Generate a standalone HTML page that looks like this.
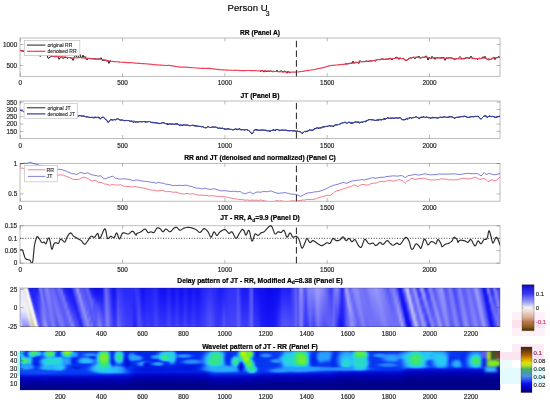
<!DOCTYPE html>
<html><head><meta charset="utf-8"><style>html,body{margin:0;padding:0;background:#fff;width:550px;height:406px;overflow:hidden;position:relative}
#hm div{position:absolute;left:20px;width:480px;height:1px}
svg{position:absolute;left:0;top:0;will-change:transform}
svg text{font-family:"Liberation Sans",sans-serif}</style></head>
<body>
<div id="hm">
<div style="top:288px;background:linear-gradient(90deg,#e3e3fc,#e8e8fa,#e5e5fa,#dadaea,#e9e9d8,#efefe4,#f4f4f5,#f1f1f6,#8f8ffa,#2525f9,#1d1df7,#1c1cf7,#1c1cf7,#1c1cf7,#1c1cf7,#1c1cf7,#1c1cf7,#1d1df7,#3333f9,#6262f9,#7373f8,#7e7ef9,#5f5ff9,#5555f9,#6a6af8,#7878f8,#7e7ef8,#8686f9,#7e7ef8,#6a6af8,#6868f8,#6868f8,#6868f8,#6868f8,#6363f9,#5555f9,#5454f9,#6060f9,#6565f9,#6a6af8,#6f6ff8);left:20px;width:40px"></div>
<div style="top:289px;background:linear-gradient(90deg,#e3e3fc,#e7e7fb,#eaeaf9,#e2e2f4,#e9e9d8,#ececde,#f5f5f5,#f2f2f6,#b1b1f8,#2e2efa,#1f1ff8,#1d1df7,#1d1df7,#1d1df7,#1e1ef7,#1e1ef7,#1f1ff7,#1f1ff8,#2b2bf9,#5c5cf9,#6f6ff8,#7f7ff9,#6767f9,#5454f9,#6565f9,#7676f8,#7c7cf8,#8484f9,#8282f9,#6c6cf8,#6868f8,#6868f8,#6969f8,#6868f8,#6666f9,#5959f9,#5252f9,#5d5df9,#6464f9,#6868f8,#6e6ef8);left:20px;width:40px"></div>
<div style="top:290px;background:linear-gradient(90deg,#e4e4fc,#e7e7fb,#eaeaf9,#dfdffb,#eaeada,#eae9d9,#f3f3f0,#f2f2f6,#d7d7f9,#4949f9,#2323f8,#1e1ef7,#1e1ef7,#1e1ef7,#1f1ff7,#2020f8,#2121f8,#2323f8,#2727f9,#5555f9,#6c6cf8,#7d7df8,#6f6ff9,#5555f9,#6161f9,#7474f8,#7a7af8,#8181f9,#8484f9,#7070f8,#6767f9,#6969f8,#6969f8,#6969f8,#6868f9,#5d5df9,#5252f9,#5959f9,#6363f9,#6767f9,#6c6cf8);left:20px;width:40px"></div>
<div style="top:291px;background:linear-gradient(90deg,#e4e4fc,#e6e6fb,#eaeaf9,#e0e0fa,#ebebe8,#e9e9d8,#f1f1ea,#f3f3f5,#efeff7,#6767fa,#2a2af9,#2020f8,#1f1ff7,#1f1ff7,#2020f8,#2121f8,#2323f8,#2525f9,#2727f9,#4b4bf9,#6a6af8,#7a7af8,#7676f8,#5858f9,#5d5df9,#7171f8,#7979f8,#7f7ff9,#8484f9,#7575f8,#6767f9,#6969f8,#6a6af8,#6969f8,#6868f8,#6262f9,#5454f9,#5656f9,#6161f9,#6565f9,#6b6bf8);left:20px;width:40px"></div>
<div style="top:292px;background:linear-gradient(90deg,#e5e5fb,#e6e6fb,#e9e9fa,#e7e7fa,#e0e0ea,#e9e9d8,#efefe5,#f4f4f5,#f1f1f6,#9b9bfa,#3333fa,#2222f8,#2020f8,#2020f8,#2121f8,#2323f8,#2424f9,#2828f9,#2a2afa,#4242fa,#6868f8,#7777f8,#7a7af8,#5d5df9,#5a5af9,#6d6df8,#7878f8,#7d7df8,#8383f9,#7a7af8,#6868f8,#6868f8,#6a6af8,#6a6af8,#6969f8,#6565f9,#5757f9,#5353f9,#5e5ef9,#6464f9,#6969f8);left:20px;width:40px"></div>
<div style="top:293px;background:linear-gradient(90deg,#e6e6fb,#e6e6fb,#e9e9fa,#ebebf9,#e6e6f3,#e9e9d8,#ececdf,#f5f5f5,#f2f2f6,#bcbcf8,#4040fa,#2626f9,#2121f8,#2020f8,#2222f8,#2424f9,#2626f9,#2929fa,#2e2efa,#3d3dfa,#6464f9,#7474f8,#7c7cf8,#6363f9,#5858f9,#6969f8,#7777f8,#7b7bf8,#8181f9,#7d7df8,#6a6af8,#6868f8,#6a6af8,#6b6bf8,#6969f8,#6767f9,#5b5bf9,#5353f9,#5b5bf9,#6363f9,#6767f9);left:20px;width:40px"></div>
<div style="top:294px;background:linear-gradient(90deg,#e7e7fb,#e7e7fb,#e9e9fa,#ebebf9,#e5e5fb,#eaeada,#eaeada,#f4f4f1,#f2f2f6,#ddddf9,#5c5cf9,#2a2afa,#2222f8,#2121f8,#2222f8,#2525f9,#2727f9,#2b2bfa,#3131fa,#3a3afa,#6060f9,#7171f8,#7c7cf8,#6a6af8,#5858f9,#6565f9,#7575f8,#7a7af8,#8080f9,#7f7ff9,#6d6df8,#6767f9,#6a6af8,#6c6cf8,#6a6af8,#6969f8,#6060f9,#5353f9,#5858f9,#6262f9,#6666f9);left:20px;width:40px"></div>
<div style="top:295px;background:linear-gradient(90deg,#e7e7fb,#e7e7fb,#e9e9fa,#ebebf9,#e4e4fa,#ecece6,#e9e9d8,#f1f1eb,#f3f3f5,#efeff7,#7c7cfa,#3535fa,#2525f9,#2222f8,#2323f8,#2626f9,#2929fa,#2c2cfa,#3434fa,#3939fa,#5a5af9,#7070f8,#7a7af8,#7070f8,#5959f9,#6262f9,#7373f8,#7979f8,#7e7ef8,#8080f9,#7171f8,#6666f9,#6a6af8,#6c6cf8,#6b6bf8,#6969f8,#6464f9,#5656f9,#5555f9,#6060f9,#6464f9);left:20px;width:40px"></div>
<div style="top:296px;background:linear-gradient(90deg,#e8e8fa,#e8e8fa,#e9e9fa,#ebebf9,#e8e8fa,#e6e5ea,#e9e9d8,#efefe6,#f4f4f5,#f1f1f6,#a7a7f9,#4141fa,#2828f9,#2323f8,#2323f8,#2626f9,#2a2afa,#2d2dfa,#3535fa,#3b3bfa,#5454f9,#6e6ef8,#7979f8,#7575f8,#5c5cf9,#5f5ff9,#7070f8,#7979f8,#7c7cf8,#7f7ff9,#7575f8,#6767f9,#6969f8,#6c6cf8,#6c6cf8,#6a6af8,#6767f9,#5a5af9,#5454f9,#5d5df9,#6363f9);left:20px;width:40px"></div>
<div style="top:297px;background:linear-gradient(90deg,#e9e9fa,#e9e9fa,#e9e9fa,#ebebf9,#ebebf9,#eaeaf2,#e9e9d8,#edede0,#f5f5f5,#f2f2f6,#c6c6f8,#5050f9,#2c2cfa,#2525f9,#2424f9,#2626f9,#2b2bfa,#2e2efa,#3636fa,#3f3ffa,#4f4ffa,#6d6df8,#7777f8,#7878f8,#6161f9,#5c5cf9,#6d6df8,#7878f8,#7a7af8,#7e7ef8,#7878f8,#6868f8,#6868f8,#6c6cf8,#6d6df8,#6a6af8,#6868f8,#5e5ef9,#5454f9,#5a5af9,#6262f9);left:20px;width:40px"></div>
<div style="top:298px;background:linear-gradient(90deg,#eaeafa,#eaeafa,#eaeaf9,#ebebf9,#ececf8,#eaeaf9,#eae9d9,#eaeada,#f4f4f2,#f2f2f6,#e2e2f9,#6d6df9,#3333fa,#2727f9,#2525f9,#2626f9,#2b2bfa,#3030fa,#3636fa,#4141fa,#4c4cfa,#6a6af8,#7575f8,#7979f8,#6767f9,#5b5bf9,#6969f8,#7777f8,#7979f8,#7d7df8,#7a7af8,#6b6bf8,#6767f9,#6c6cf8,#6e6ef8,#6b6bf8,#6969f8,#6262f9,#5555f9,#5757f9,#6060f9);left:20px;width:40px"></div>
<div style="top:299px;background:linear-gradient(90deg,#eaeaf9,#eaeaf9,#eaeaf9,#ebebf9,#ececf8,#e8e8fa,#edede4,#e9e9d8,#f2f2ec,#f3f3f5,#f0f0f7,#9090fa,#4040fa,#2a2afa,#2626f9,#2727f9,#2b2bfa,#3131fa,#3636fa,#4242fa,#4c4cfa,#6666f9,#7474f8,#7878f8,#6c6cf8,#5b5bf9,#6666f9,#7575f8,#7979f8,#7b7bf8,#7a7af8,#6f6ff8,#6666f9,#6b6bf8,#6f6ff8,#6d6df8,#6a6af8,#6666f9,#5858f9,#5555f9,#5e5ef9);left:20px;width:40px"></div>
<div style="top:300px;background:linear-gradient(90deg,#ebebf9,#ebebf9,#ebebf9,#ebebf9,#ededf8,#eaeaf9,#eae9e9,#e9e9d8,#f0efe7,#f4f4f5,#f1f1f6,#b3b3f9,#4e4ef9,#2f2ffa,#2727f9,#2727f9,#2b2bfa,#3232fa,#3737fa,#4242fa,#4c4cfa,#6363f9,#7373f8,#7777f8,#7171f8,#5d5df9,#6262f9,#7373f8,#7979f8,#7a7af8,#7a7af8,#7272f8,#6666f9,#6a6af8,#6f6ff8,#6e6ef8,#6b6bf8,#6868f8,#5c5cf9,#5454f9,#5b5bf9);left:20px;width:40px"></div>
<div style="top:301px;background:linear-gradient(90deg,#ececf9,#ececf9,#ececf9,#ececf8,#ededf8,#ececf8,#ebebef,#e9e9d8,#edede1,#f4f4f5,#f2f2f6,#cfcff9,#6060f9,#3434fa,#2828fa,#2727f9,#2b2bfa,#3333fa,#3838fa,#4242fa,#4d4dfa,#5f5ff9,#7272f8,#7676f8,#7474f8,#6060f9,#6060f9,#7070f8,#7878f8,#7979f8,#7a7af8,#7373f8,#6868f9,#6969f8,#6f6ff8,#7070f8,#6c6cf8,#6969f8,#6060f9,#5555f9,#5858f9);left:20px;width:40px"></div>
<div style="top:302px;background:linear-gradient(90deg,#ececf8,#ededf8,#ededf8,#ededf8,#ededf8,#ededf8,#eeeef8,#eae9d9,#ebeadb,#f5f5f3,#f2f2f6,#e7e7f9,#7e7ef9,#3b3bfa,#2b2bfa,#2828fa,#2b2bfa,#3333fa,#3939fa,#4141fa,#4f4ffa,#5d5df9,#7171f8,#7575f8,#7575f8,#6565f9,#5e5ef9,#6d6df8,#7878f8,#7878f8,#7979f8,#7474f8,#6a6af8,#6767f9,#6e6ef8,#7171f8,#6d6df8,#6a6af8,#6464f9,#5757f9,#5656f9);left:20px;width:40px"></div>
<div style="top:303px;background:linear-gradient(90deg,#ececf8,#ededf8,#ededf8,#ededf8,#eeeef8,#eeeef8,#ebebf9,#edede1,#e9e9d8,#f2f2ed,#f3f3f5,#f0f0f7,#a2a2fa,#4a4afa,#3030fa,#2929fa,#2b2bfa,#3232fa,#3a3afa,#4141fa,#5050fa,#5b5bf9,#6f6ff8,#7575f8,#7575f8,#6a6af8,#5d5df9,#6969f8,#7777f8,#7878f8,#7878f8,#7575f8,#6c6cf8,#6666f9,#6d6df8,#7171f8,#6f6ff8,#6b6bf8,#6767f9,#5b5bf9,#5555f9);left:20px;width:40px"></div>
<div style="top:304px;background:linear-gradient(90deg,#ececf8,#eeeef8,#eeeef8,#eeeef8,#eeeef7,#eeeef7,#ebebf9,#edede7,#e9e9d8,#f0f0e7,#f4f4f5,#f1f1f6,#bfbff9,#5c5cf9,#3636fa,#2a2afa,#2b2bfa,#3131fa,#3b3bfa,#4141fa,#4f4ffa,#5b5bf9,#6d6df8,#7575f8,#7474f8,#6e6ef8,#5e5ef9,#6666f9,#7575f8,#7878f8,#7878f8,#7575f8,#6e6ef8,#6767f9,#6b6bf8,#7171f8,#7171f8,#6c6cf8,#6969f8,#5f5ff9,#5555f9);left:20px;width:40px"></div>
<div style="top:305px;background:linear-gradient(90deg,#ececf8,#efeff7,#efeff7,#efeff7,#efeff7,#efeff7,#ececf8,#ebebeb,#e9e9d8,#eeeee2,#f4f4f5,#f2f2f6,#d7d7f9,#6f6ff9,#3c3cfa,#2d2dfa,#2b2bfa,#3131fa,#3b3bfa,#4242fa,#4e4efa,#5c5cf9,#6b6bf8,#7575f8,#7474f8,#7070f8,#6060f9,#6363f9,#7272f8,#7878f8,#7777f8,#7575f8,#6f6ff8,#6868f9,#6969f8,#7171f8,#7272f8,#6e6ef8,#6a6af8,#6363f9,#5757f9);left:20px;width:40px"></div>
<div style="top:306px;background:linear-gradient(90deg,#ececf8,#efeff7,#efeff7,#efeff7,#efeff7,#f0f0f7,#eeeef8,#efeff4,#e9e9d8,#ebeadb,#f5f5f4,#f2f2f6,#ebebf8,#8e8ef9,#4444fa,#3131fa,#2c2cfa,#3030fa,#3a3afa,#4343fa,#4d4dfa,#5d5df9,#6969f8,#7676f8,#7373f8,#7272f8,#6464f9,#6060f9,#6f6ff8,#7878f8,#7676f8,#7575f8,#6f6ff8,#6969f8,#6868f8,#6f6ff8,#7373f8,#6f6ff8,#6b6bf8,#6666f9,#5a5af9);left:20px;width:40px"></div>
<div style="top:307px;background:linear-gradient(90deg,#ebebf9,#eeeef8,#efeff7,#efeff7,#efeff7,#efeff7,#efeff7,#eeeef7,#ebeadb,#e9e8d8,#f2f2ed,#f3f3f5,#f0f0f6,#b3b3fb,#5454f9,#3636fa,#2e2efa,#3030fa,#3a3afa,#4444fa,#4c4cfa,#5e5ef9,#6868f8,#7575f8,#7474f8,#7272f8,#6868f9,#5f5ff9,#6c6cf8,#7777f8,#7777f8,#7575f8,#6f6ff8,#6a6af8,#6767f9,#6e6ef8,#7373f8,#7272f8,#6c6cf8,#6969f8,#5d5df9);left:20px;width:40px"></div>
<div style="top:308px;background:linear-gradient(90deg,#e8e8fa,#ebebf9,#ececf8,#ececf8,#ececf8,#ededf8,#eeeef7,#eeeef7,#eeede2,#e8e7d5,#efefe5,#f4f4f5,#f1f1f6,#c9c9f9,#6767f9,#3e3efa,#3030fa,#3131fa,#3a3afa,#4545fa,#4d4dfa,#5d5df9,#6868f8,#7575f8,#7575f8,#7171f8,#6b6bf8,#5f5ff9,#6969f8,#7676f8,#7777f8,#7575f8,#6f6ff8,#6a6af8,#6767f9,#6c6cf8,#7373f8,#7373f8,#6e6ef8,#6a6af8,#6161f9);left:20px;width:40px"></div>
<div style="top:309px;background:linear-gradient(90deg,#e5e5fc,#e7e7fb,#e9e9fa,#e9e9fa,#eaeafa,#eaeaf9,#ececf8,#f1f1f6,#edece5,#e7e5d2,#ebebdc,#f4f4f3,#f2f2f6,#ddddf9,#7c7cf9,#4646fa,#3535fa,#3232fa,#3a3afa,#4646fa,#4e4efa,#5d5df9,#6969f8,#7474f8,#7676f8,#7070f8,#6d6df8,#6060f9,#6666f9,#7474f8,#7777f8,#7575f8,#7070f8,#6969f8,#6767f9,#6969f8,#7272f8,#7575f8,#7070f8,#6b6bf8,#6565f9);left:20px;width:40px"></div>
<div style="top:310px;background:linear-gradient(90deg,#e1e1fc,#e3e3fc,#e6e6fb,#e7e7fb,#e7e7fb,#e7e7fb,#e9e9fa,#f1f1f6,#f0f0ec,#e5e4cf,#e7e6d2,#f3f3ef,#f2f2f6,#ececf8,#9999fa,#4e4efa,#3b3bfa,#3434fa,#3a3afa,#4646fa,#4f4ffa,#5c5cf9,#6a6af8,#7272f8,#7878f8,#6f6ff8,#6e6ef8,#6363f9,#6363f9,#7272f8,#7777f8,#7575f8,#7272f8,#6969f8,#6767f9,#6868f8,#7070f8,#7575f8,#7272f8,#6c6cf8,#6868f9);left:20px;width:40px"></div>
<div style="top:311px;background:linear-gradient(90deg,#ddddfc,#dedefc,#e2e2fc,#e3e3fc,#e3e3fc,#e4e4fc,#e6e6fb,#efeff7,#f4f4f3,#e6e4d0,#e4e2cd,#efefe5,#f3f3f5,#f0f0f7,#babafb,#5c5cf9,#4242fa,#3737fa,#3a3afa,#4747fa,#5050fa,#5c5cf9,#6b6bf8,#7272f8,#7979f8,#7070f8,#6e6ef8,#6666f9,#6262f9,#6f6ff8,#7777f8,#7575f8,#7272f8,#6969f8,#6666f9,#6767f9,#6e6ef8,#7575f8,#7474f8,#6e6ef8,#6a6af8);left:20px;width:40px"></div>
<div style="top:312px;background:linear-gradient(90deg,#d9d9fc,#d9d9fc,#dcdcfc,#dedefc,#dfdffc,#dfdffc,#e2e2fc,#ebebf9,#f5f5f3,#e8e7d6,#e3e1ca,#eae9d9,#f4f4f4,#f1f1f6,#d0d0fa,#6d6df9,#4949fa,#3a3afa,#3a3afa,#4646fa,#5151fa,#5b5bf9,#6c6cf8,#7272f8,#7a7af8,#7171f8,#6d6df8,#6969f8,#6262f9,#6d6df8,#7676f8,#7676f8,#7373f8,#6a6af8,#6565f9,#6666f9,#6b6bf8,#7474f8,#7676f8,#6f6ff8,#6b6bf8);left:20px;width:40px"></div>
<div style="top:313px;background:linear-gradient(90deg,#d6d6fc,#d4d4fc,#d6d6fc,#d9d9fc,#dadafc,#dadafc,#ddddfc,#e5e5fb,#f4f4f0,#eae9db,#e2dfc7,#e5e4d0,#f2f2ee,#f2f2f6,#e2e2fa,#8585fa,#5050fa,#4040fa,#3b3bfa,#4646fa,#5151f9,#5b5bf9,#6c6cf8,#7373f8,#7a7af8,#7474f8,#6c6cf8,#6a6af8,#6262f9,#6a6af8,#7676f8,#7777f8,#7474f8,#6c6cf8,#6363f9,#6565f9,#6969f8,#7373f8,#7777f8,#7272f8,#6c6cf8);left:20px;width:40px"></div>
<div style="top:314px;background:linear-gradient(90deg,#d4d4fc,#d0d0fc,#d0d0fc,#d4d4fc,#d5d5fc,#d5d5fc,#d7d7fc,#ddddfc,#f0f0f0,#ececdf,#e0dec4,#e1dfc7,#f0f0e7,#f3f3f5,#ededf8,#a1a1fa,#5757f9,#4646fa,#3d3dfa,#4444fa,#5252f9,#5b5bf9,#6c6cf8,#7575f8,#7a7af8,#7878f8,#6b6bf8,#6b6bf8,#6464f9,#6868f8,#7474f8,#7777f8,#7474f8,#6e6ef8,#6363f9,#6363f9,#6666f9,#7070f8,#7878f8,#7575f8,#6d6df8);left:20px;width:40px"></div>
<div style="top:315px;background:linear-gradient(90deg,#d4d4fc,#ccccfc,#cbcbfc,#cecefc,#d0d0fc,#d0d0fc,#d1d1fc,#d8d8fc,#e9e9f0,#eeeee2,#e0ddc4,#dfdcc2,#eae9da,#f4f4f5,#f0f0f7,#bfbffb,#6363f9,#4d4dfa,#4040fa,#4343fa,#5252f9,#5b5bf9,#6b6bf8,#7777f8,#7a7af8,#7b7bf8,#6b6bf8,#6a6af8,#6666f9,#6666f9,#7373f8,#7777f8,#7474f8,#7070f8,#6464f9,#6161f9,#6464f9,#6d6df8,#7777f8,#7777f8,#6f6ff8);left:20px;width:40px"></div>
<div style="top:316px;background:linear-gradient(90deg,#d6d6fc,#c8c8fc,#c6c6fc,#c9c9fc,#cbcbfc,#cbcbfc,#ccccfc,#d2d2fc,#e4e4f7,#edede0,#e2e0c8,#dedbbf,#e4e2cc,#f4f4f2,#f1f1f6,#d7d7fa,#7474f9,#5353f9,#4545fa,#4242fa,#5151f9,#5c5cf9,#6a6af8,#7979f8,#7a7af8,#7d7df8,#6d6df8,#6969f8,#6767f9,#6565f9,#7171f8,#7878f8,#7575f8,#7171f8,#6666f9,#5f5ff9,#6262f9,#6a6af8,#7575f8,#7979f8,#7272f8);left:20px;width:40px"></div>
<div style="top:317px;background:linear-gradient(90deg,#d9d9fc,#c5c5fc,#c1c1fc,#c2c2fc,#c5c5fc,#c6c6fc,#c7c7fc,#cbcbfc,#dbdbfb,#edecdf,#e3e1cb,#ddd9bc,#dfdcc2,#f0f0e9,#f2f2f6,#e6e6fa,#8f8ffa,#5959f9,#4a4afa,#4343fa,#5050fa,#5c5cf9,#6969f8,#7a7af8,#7c7cf8,#7f7ff9,#7171f8,#6868f8,#6868f9,#6565f9,#6e6ef8,#7878f8,#7676f8,#7272f8,#6969f8,#5e5ef9,#6060f9,#6767f9,#7373f8,#7a7af8,#7575f8);left:20px;width:40px"></div>
<div style="top:318px;background:linear-gradient(90deg,#dcdcfc,#c4c4fc,#bcbcfb,#bcbcfb,#bfbffc,#c0c0fc,#c1c1fc,#c4c4fc,#cfcffc,#ebeae5,#e4e2cc,#dbd8ba,#dcd8bb,#ecebde,#f3f3f5,#ededf8,#a9a9fa,#6161f9,#5050fa,#4545fa,#4e4efa,#5d5df9,#6969f8,#7b7bf8,#7f7ff9,#8080f9,#7676f8,#6767f9,#6767f9,#6565f9,#6c6cf8,#7777f8,#7777f8,#7373f8,#6c6cf8,#5e5ef9,#5d5df9,#6464f9,#7070f8,#7a7af8,#7878f8);left:20px;width:40px"></div>
<div style="top:319px;background:linear-gradient(90deg,#ddddfc,#c6c6fc,#b8b8fb,#b5b5fb,#b8b8fb,#babafb,#babafb,#bcbcfb,#c8c8fc,#e0dfe7,#e4e2cc,#dbd7b8,#dad6b7,#e5e3cf,#f4f4f5,#efeff7,#c5c5fb,#6b6bf9,#5757f9,#4949fa,#4c4cfa,#5d5df9,#6868f8,#7b7bf8,#8282f9,#8181f9,#7b7bf8,#6868f9,#6767f9,#6565f9,#6a6af8,#7676f8,#7878f8,#7474f8,#6f6ff8,#6060f9,#5b5bf9,#6161f9,#6d6df8,#7878f8,#7a7af8);left:20px;width:40px"></div>
<div style="top:320px;background:linear-gradient(90deg,#dcdcfc,#cacafc,#b3b3fb,#b0b0fb,#b1b1fb,#b3b3fb,#b4b4fb,#b5b5fb,#c0c0fc,#dcdcf4,#e2dfc7,#dbd7b9,#d9d4b4,#dddabe,#f3f3f1,#f0f0f6,#dedefa,#7a7af9,#5d5df9,#4e4efa,#4b4bfa,#5c5cf9,#6868f9,#7a7af8,#8585f9,#8282f9,#8080f9,#6a6af8,#6666f9,#6565f9,#6868f8,#7575f8,#7a7af8,#7575f8,#7070f8,#6464f9,#5959f9,#5e5ef9,#6969f8,#7676f8,#7c7cf8);left:20px;width:40px"></div>
<div style="top:321px;background:linear-gradient(90deg,#dbdbfc,#d0d0fc,#b0b0fb,#aaaafb,#aaaafb,#adadfb,#aeaefb,#afaffb,#b6b6fb,#d0d0fb,#e3e1cb,#dbd7b9,#d8d3b1,#d9d5b4,#eeede4,#f2f2f6,#e9e9f9,#9898fa,#6363f9,#5454f9,#4b4bfa,#5a5af9,#6868f9,#7979f8,#8787f9,#8585f9,#8383f9,#6e6ef8,#6565f9,#6464f9,#6767f9,#7373f8,#7b7bf8,#7777f8,#7272f8,#6868f8,#5959f9,#5b5bf9,#6565f9,#7373f8,#7c7cf8);left:20px;width:40px"></div>
<div style="top:322px;background:linear-gradient(90deg,#dadafc,#d4d4fc,#b2b2fb,#a6a6fa,#a4a4fa,#a6a6fa,#a7a7fa,#a8a8fa,#adadfb,#bebefc,#e5e3d9,#dad6b7,#d6d1af,#d7d2af,#e7e5d5,#f3f3f5,#ededf8,#b1b1fa,#6a6af8,#5a5af9,#4d4dfa,#5858f9,#6868f8,#7878f8,#8989f9,#8989f9,#8686f9,#7474f8,#6565f9,#6464f9,#6565f9,#7070f8,#7b7bf8,#7979f8,#7272f8,#6c6cf8,#5b5bf9,#5757f9,#6161f9,#6f6ff8,#7b7bf8);left:20px;width:40px"></div>
<div style="top:323px;background:linear-gradient(90deg,#d9d9fc,#d7d7fc,#b6b6fb,#a2a2fa,#9e9efa,#9f9ffa,#a1a1fa,#a2a2fa,#a5a5fa,#b4b4fb,#d5d3dc,#d9d4b4,#d5d0ac,#d5d0ac,#e0ddc4,#f4f4f5,#efeff7,#cacafa,#7272f8,#6060f9,#5050fa,#5555f9,#6868f8,#7676f8,#8a8af9,#8d8df9,#8888f9,#7b7bf8,#6565f9,#6363f9,#6363f9,#6d6df8,#7a7af8,#7b7bf8,#7474f8,#6e6ef8,#5e5ef9,#5555f9,#5d5df9,#6b6bf8,#7979f8);left:20px;width:40px"></div>
<div style="top:324px;background:linear-gradient(90deg,#d8d8fc,#d7d7fc,#bdbdfb,#9d9dfa,#9797fa,#9797fa,#9999fa,#9b9bfa,#9c9cfa,#ababfb,#d2d2f1,#d6d1ae,#d4cfaa,#d4cea9,#d7d2b0,#f3f3ef,#f0f0f7,#e3e3fa,#8181f9,#6666f9,#5656f9,#5353f9,#6767f9,#7575f8,#8989f9,#9090f9,#8b8bf9,#8282f9,#6868f8,#6363f9,#6262f9,#6a6af8,#7979f8,#7d7df8,#7676f8,#7070f8,#6363f9,#5454f9,#5959f9,#6767f9,#7676f8);left:20px;width:40px"></div>
<div style="top:325px;background:linear-gradient(90deg,#d7d7fc,#d5d5fc,#c6c6fc,#9b9bfa,#9292f9,#9090f9,#9191f9,#9393f9,#9494f9,#a0a0fa,#c4c4fb,#d9d5b5,#d3cda7,#d3cda6,#d3cda7,#ebeade,#f2f2f6,#ececf9,#a0a0fa,#6c6cf8,#5c5cf9,#5252f9,#6666f9,#7474f8,#8888f9,#9494f9,#8f8ff9,#8787f9,#6d6df8,#6363f9,#6161f9,#6666f9,#7676f8,#7f7ff9,#7979f8,#7171f8,#6868f9,#5555f9,#5555f9,#6262f9,#7373f8);left:20px;width:40px"></div>
<div style="top:326px;background:linear-gradient(90deg,#d7d7fc,#d5d5fc,#cecefc,#a0a0fa,#9090f9,#8c8cf9,#8d8df9,#8f8ff9,#9191f9,#9898fa,#aeaefb,#dfdccd,#d2cca5,#d2cca5,#d2cca5,#e4e1cd,#f3f3f5,#ededf8,#b6b6fa,#7373f8,#6161f9,#5252f9,#6363f9,#7272f8,#8585f9,#9494f9,#9292f9,#8c8cf9,#7474f8,#6363f9,#6161f9,#6363f9,#7272f8,#7f7ff9,#7b7bf8,#7373f8,#6c6cf8,#5959f9,#5252f9,#5d5df9,#6e6ef8);left:20px;width:40px"></div>
<div style="top:288px;background:linear-gradient(90deg,#6d6df8,#4e4ef9,#2525f9,#1919f6,#1616f5,#1616f5,#2a2af9,#5353f9,#7a7af8,#9292f9,#5a5af9,#5656f9,#5151fa,#5a5af9,#6262f9,#2020f8,#1818f6,#1010f1,#0c0cef,#0d0def,#0f0ff1,#1111f2,#3c3cfa,#7171f8,#5151fa,#3333fa,#1818f6,#1212f3,#2121f8,#3737fa,#3333fa,#2f2ffa,#2828fa,#2828fa,#2828fa,#2828fa,#2828fa,#2a2afa,#3535fa,#3030fa,#2121f8,#1010f2,#1515f5,#1919f6,#1c1cf7,#1e1ef7,#2121f8,#2525f9,#2828fa,#1c1cf7,#1212f3,#1111f3,#1010f2,#1212f3,#1d1df7,#1c1cf7,#1010f2,#1010f2,#1b1bf7,#1b1bf7,#1010f2,#1010f1,#1919f6,#1d1df7,#1313f4,#0e0ef0,#1515f5,#1b1bf7,#1212f3,#1212f3,#1818f6,#1e1ef7,#2626f9,#2929fa,#2d2dfa,#3030fa,#2d2dfa,#2929fa,#2626f9,#1e1ef7,#1818f6,#1b1bf6,#2020f8,#2727f9,#2d2dfa,#3030fa,#3030fa,#3030fa,#3131fa,#4c4cfa,#2b2bf9,#1818f6,#1818f6,#1818f6,#1919f6,#4545fa,#5757f9,#1919f6,#1616f5,#1212f3,#0f0ff1,#0e0ef0,#0d0def,#0b0bee,#0909ec,#0808eb,#0909ec,#0b0bed,#0d0def,#0e0ef0,#1212f3,#2020f8,#2020f8,#2020f8,#2020f8,#2121f8,#3737fa,#4a4afa,#5f5ff9,#4545fa,#8e8ef9,#9090f9,#5a5af9,#5656f9,#8080f9,#8383f9,#8787f9,#8b8bf9,#9a9afa,#9f9ffa,#9696fa,#8b8bf9,#8080f9,#6d6df8,#5a5af9,#3d3dfa,#4343fa,#6e6ef8,#8787f9,#7a7af8,#5353f9,#2222f8,#4848fa,#acacfb,#8c8cf9,#6262f9,#8181f9,#8989f9,#9090f9,#8484f9,#7878f8,#7575f8,#7171f8,#7373f8,#8282f9,#8c8cf9,#8e8ef9,#9393f9,#9696fa,#9191f9,#8787f9,#8282f9,#6f6ff8,#6262f9,#5151f9,#6d6df8,#7b7bf8,#7979f8,#6464f9,#2e2ef9,#1313f4,#3333fa,#6e6ef8,#b9b9fb,#aeaefb,#6363f9,#6d6df8,#9b9bfa,#6262f9,#2e2efa,#7676f8,#acacfb,#6161f9,#2424f9,#5a5af9,#8d8df9,#6e6ef8,#5252f9,#7373f8,#8383f9,#9292f9,#9393f9,#5f5ff9,#5555f9,#6f6ff8,#7f7ff9,#6161f9,#4141fa,#5b5bf9,#7676f8,#8080f9,#6060f9,#5c5cf9,#6d6df8,#7878f8,#6e6ef8,#6565f9,#8282f9,#9f9ffa,#8080f9,#5f5ff9,#3b3bfa,#0a0aec,#2d2df9,#8383f9,#4343fa,#3333fa,#8080f9,#6767f9,#4040fa,#5f5ff9);left:60px;width:440px"></div>
<div style="top:289px;background:linear-gradient(90deg,#6b6bf8,#5c5cf9,#2828fa,#1c1cf7,#1717f6,#1717f6,#2222f8,#4d4dfa,#7171f8,#9999fa,#5b5bf9,#5757f9,#5151f9,#5656f9,#6868f8,#2626f9,#1b1bf7,#1111f3,#0e0ef0,#0e0ef0,#1010f2,#1212f3,#3c3cfa,#7070f8,#5353f9,#3535fa,#1919f6,#1212f4,#2121f8,#3939fa,#3434fa,#3030fa,#2929fa,#2929fa,#2828fa,#2828fa,#2828fa,#2a2afa,#3535fa,#3131fa,#2222f8,#1111f2,#1616f5,#1919f6,#1d1df7,#1f1ff7,#2121f8,#2626f9,#2828fa,#1d1df7,#1313f4,#1212f3,#1111f2,#1212f4,#1e1ef7,#1d1df7,#1111f2,#1010f2,#1b1bf7,#1b1bf7,#1010f2,#1010f2,#1919f6,#1e1ef7,#1414f4,#0f0ff1,#1616f5,#1c1cf7,#1212f4,#1212f3,#1919f6,#1e1ef7,#2727f9,#2929fa,#2e2efa,#3131fa,#2e2efa,#2929fa,#2727f9,#1e1ef7,#1919f6,#1c1cf7,#2121f8,#2727f9,#2e2efa,#3131fa,#3131fa,#3131fa,#3232fa,#4d4dfa,#2d2df9,#1919f6,#1919f6,#1919f6,#1a1af6,#4545fa,#5858f9,#1a1af6,#1616f6,#1313f4,#1010f1,#0e0ef0,#0d0def,#0b0bee,#0909ec,#0808eb,#0909ec,#0b0bed,#0d0def,#0e0ef0,#1212f3,#2121f8,#2121f8,#2121f8,#2121f8,#2121f8,#3737fa,#4a4afa,#5f5ff9,#4646fa,#8d8df9,#8e8ef9,#5a5af9,#5454f9,#7f7ff9,#8282f9,#8585f9,#8989f9,#9898fa,#9e9efa,#9595f9,#8a8af9,#7f7ff9,#6d6df8,#5a5af9,#3e3efa,#4343fa,#6d6df8,#8484f9,#7979f8,#5252f9,#2222f8,#4747fa,#aaaafb,#8e8ef9,#6464f9,#7e7ef9,#8787f9,#8f8ff9,#8585f9,#7878f8,#7676f8,#7171f8,#7272f8,#8080f9,#8b8bf9,#8d8df9,#9292f9,#9595fa,#9191f9,#8888f9,#8282f9,#7272f8,#6464f9,#5252f9,#6c6cf8,#7979f8,#7c7cf8,#6666f9,#3737fa,#1111f3,#2f2ffa,#6969f8,#afaffb,#babafb,#6565f9,#6969f8,#9898fa,#6f6ff9,#3434fa,#6c6cf8,#a9a9fa,#6868f8,#2727f9,#5656f9,#8b8bf9,#7272f8,#5454f9,#6e6ef8,#8282f9,#9090f9,#9494f9,#6565f9,#5454f9,#6d6df8,#7f7ff9,#6666f9,#4343fa,#5858f9,#7171f8,#8383f9,#6363f9,#5b5bf9,#6b6bf8,#7878f8,#7070f8,#6565f9,#7d7df8,#9e9efa,#8585f9,#6161f9,#3e3efa,#0b0bee,#2525f9,#8787f9,#4f4ffa,#3030fa,#7676f9,#7070f8,#4444fa,#5e5ef9);left:60px;width:440px"></div>
<div style="top:290px;background:linear-gradient(90deg,#6969f8,#6767f9,#2b2bfa,#1f1ff7,#1919f6,#1818f6,#1d1df7,#4747fa,#6b6bf8,#9c9cfa,#5f5ff9,#5959f9,#5252f9,#5454f9,#6a6af8,#2f2ff9,#1e1ef7,#1414f4,#0f0ff1,#1010f1,#1212f3,#1212f4,#3d3dfa,#7070f8,#5454f9,#3737fa,#1a1af6,#1313f4,#2222f8,#3b3bfa,#3535fa,#3131fa,#2929fa,#2929fa,#2929fa,#2929fa,#2828fa,#2a2afa,#3535fa,#3232fa,#2323f9,#1111f3,#1616f6,#1a1af6,#1d1df7,#1f1ff8,#2222f8,#2727f9,#2929fa,#1e1ef7,#1313f4,#1212f4,#1111f3,#1313f4,#1e1ef7,#1e1ef7,#1111f3,#1111f3,#1c1cf7,#1c1cf7,#1111f3,#1111f2,#1a1af6,#1f1ff7,#1414f5,#0f0ff1,#1616f5,#1d1df7,#1313f4,#1313f4,#1919f6,#1f1ff7,#2727f9,#2a2afa,#2f2ffa,#3232fa,#2f2ffa,#2a2afa,#2727f9,#1f1ff8,#1a1af6,#1d1df7,#2222f8,#2828f9,#2e2efa,#3131fa,#3131fa,#3131fa,#3232fa,#4d4dfa,#2e2ef9,#1a1af6,#1a1af6,#1a1af6,#1b1bf7,#4545fa,#5858f9,#1b1bf7,#1717f6,#1313f4,#1010f2,#0f0ff1,#0e0ef0,#0c0cee,#0a0aec,#0909ec,#0a0aec,#0b0bee,#0d0def,#0f0ff1,#1313f4,#2222f8,#2222f8,#2222f8,#2222f8,#2222f8,#3737fa,#4a4afa,#5f5ff9,#4747fa,#8b8bf9,#8d8df9,#5b5bf9,#5252f9,#7e7ef8,#8181f9,#8484f9,#8787f9,#9797fa,#9c9cfa,#9393f9,#8989f9,#7e7ef8,#6d6df8,#5a5af9,#4040fa,#4444fa,#6d6df8,#8282f9,#7777f8,#5151fa,#2222f8,#4646fa,#a6a6fa,#9090f9,#6666f9,#7b7bf8,#8686f9,#8e8ef9,#8686f9,#7878f8,#7676f8,#7272f8,#7171f8,#7e7ef8,#8a8af9,#8c8cf9,#9191f9,#9595f9,#9292f9,#8888f9,#8181f9,#7474f8,#6666f9,#5454f9,#6969f8,#7777f8,#8080f9,#6868f9,#4040fa,#1010f2,#2b2bfa,#6363f9,#a4a4fa,#c3c3fc,#6868f8,#6565f9,#9393f9,#7c7cf9,#3a3afa,#6161f9,#a2a2fa,#7070f9,#2f2ff9,#5252f9,#8686f9,#7676f8,#5757f9,#6969f8,#8181f9,#8e8ef9,#9595f9,#6a6af8,#5353f9,#6a6af8,#7e7ef9,#6a6af8,#4545fa,#5555f9,#6e6ef8,#8585f9,#6767f9,#5a5af9,#6969f8,#7878f8,#7171f8,#6565f9,#7979f8,#9d9dfa,#8989f9,#6363f9,#4141fa,#0e0ef0,#2222f8,#8686f9,#5959f9,#2d2dfa,#6a6af9,#7878f8,#4949fa,#5c5cf9);left:60px;width:440px"></div>
<div style="top:291px;background:linear-gradient(90deg,#6868f9,#6e6ef8,#2f2ffa,#2222f8,#1a1af6,#1919f6,#1a1af6,#4343fa,#6767f9,#9999fa,#6565f9,#5a5af9,#5353f9,#5252f9,#6a6af8,#3c3cfa,#2121f8,#1717f6,#1111f2,#1111f3,#1313f4,#1313f4,#3d3dfa,#7070f8,#5555f9,#3939fa,#1c1cf7,#1313f4,#2222f8,#3c3cfa,#3636fa,#3232fa,#2a2afa,#2a2afa,#2929fa,#2929fa,#2929fa,#2929fa,#3535fa,#3333fa,#2525f9,#1212f3,#1717f6,#1b1bf7,#1e1ef7,#2020f8,#2222f8,#2727f9,#2a2afa,#1f1ff8,#1414f5,#1313f4,#1212f3,#1313f4,#1f1ff8,#1f1ff8,#1212f3,#1212f3,#1d1df7,#1d1df7,#1212f3,#1111f3,#1b1bf7,#1f1ff8,#1515f5,#1010f2,#1717f6,#1d1df7,#1414f4,#1313f4,#1a1af6,#2020f8,#2828f9,#2b2bfa,#3030fa,#3333fa,#3030fa,#2a2afa,#2828f9,#2020f8,#1b1bf7,#1e1ef7,#2323f8,#2828fa,#2f2ffa,#3232fa,#3232fa,#3232fa,#3333fa,#4d4dfa,#3030fa,#1b1bf7,#1b1bf7,#1b1bf7,#1c1cf7,#4545fa,#5858f9,#1c1cf7,#1818f6,#1414f5,#1010f2,#0f0ff1,#0e0ef0,#0c0cee,#0a0aed,#0909ec,#0a0aed,#0c0cee,#0e0ef0,#1010f1,#1414f4,#2323f8,#2424f9,#2424f9,#2323f8,#2323f8,#3737fa,#4a4afa,#5f5ff9,#4848fa,#8a8af9,#8c8cf9,#5b5bf9,#5151fa,#7c7cf8,#8080f9,#8282f9,#8686f9,#9696fa,#9b9bfa,#9292f9,#8787f9,#7c7cf8,#6c6cf8,#5b5bf9,#4242fa,#4444fa,#6c6cf8,#7f7ff9,#7575f8,#5050fa,#2222f8,#4545fa,#a2a2fa,#9292f9,#6a6af8,#7676f8,#8484f9,#8e8ef9,#8787f9,#7979f8,#7676f8,#7272f8,#7171f8,#7b7bf8,#8888f9,#8b8bf9,#8f8ff9,#9494f9,#9292f9,#8989f9,#8181f9,#7777f8,#6767f9,#5656f9,#6666f9,#7575f8,#8282f9,#6a6af8,#4949fa,#1111f2,#2727f9,#5c5cf9,#9898fa,#c9c9fc,#6e6ef8,#6363f9,#8d8df9,#8888f9,#3f3ffa,#5454f9,#9999fa,#7a7af9,#3939fa,#4c4cfa,#7f7ff9,#7b7bf8,#5c5cf9,#6464f9,#8080f9,#8d8df9,#9494f9,#7070f8,#5353f9,#6868f9,#7d7df8,#6f6ff8,#4848fa,#5252f9,#6b6bf8,#8686f9,#6a6af8,#5a5af9,#6868f9,#7777f8,#7373f8,#6666f9,#7474f8,#9a9afa,#8e8ef9,#6565f9,#4545fa,#1313f2,#1d1df7,#7e7ef9,#5f5ff9,#2c2cfa,#5f5ff9,#7f7ff9,#4e4efa,#5959f9);left:60px;width:440px"></div>
<div style="top:292px;background:linear-gradient(90deg,#6666f9,#7171f8,#3636fa,#2626f9,#1c1cf7,#1a1af6,#1818f6,#3f3ffa,#6464f9,#9494f9,#6f6ff9,#5b5bf9,#5454f9,#5151fa,#6767f9,#4949fa,#2424f9,#1a1af6,#1212f4,#1212f4,#1515f5,#1414f5,#3e3efa,#7070f8,#5757f9,#3a3afa,#1d1df7,#1414f5,#2323f8,#3e3efa,#3737fa,#3333fa,#2b2bfa,#2a2afa,#2a2afa,#2a2afa,#2929fa,#2929fa,#3535fa,#3535fa,#2626f9,#1313f4,#1818f6,#1c1cf7,#1f1ff7,#2020f8,#2323f8,#2828fa,#2b2bfa,#2020f8,#1515f5,#1313f5,#1212f4,#1414f5,#2020f8,#2020f8,#1313f4,#1212f3,#1e1ef7,#1e1ef7,#1212f4,#1212f3,#1c1cf7,#2020f8,#1616f5,#1111f2,#1818f6,#1e1ef7,#1414f5,#1414f5,#1b1bf7,#2020f8,#2828fa,#2c2cfa,#3131fa,#3434fa,#3131fa,#2b2bfa,#2828fa,#2121f8,#1c1cf7,#1f1ff8,#2424f9,#2929fa,#2f2ffa,#3232fa,#3232fa,#3232fa,#3434fa,#4e4efa,#3131fa,#1c1cf7,#1c1cf7,#1c1cf7,#1d1df7,#4545fa,#5858f9,#1d1df7,#1919f6,#1414f5,#1111f2,#0f0ff1,#0e0ef0,#0c0cef,#0a0aed,#0a0aec,#0a0aed,#0c0cee,#0e0ef0,#1010f2,#1515f5,#2424f9,#2525f9,#2525f9,#2424f9,#2424f9,#3838fa,#4a4afa,#5f5ff9,#4949fa,#8888f9,#8a8af9,#5b5bf9,#4f4ffa,#7b7bf8,#7f7ff9,#8080f9,#8484f9,#9494f9,#9a9afa,#9191f9,#8686f9,#7b7bf8,#6c6cf8,#5b5bf9,#4343fa,#4545fa,#6c6cf8,#7d7df8,#7474f8,#4f4ffa,#2222f8,#4545fa,#9d9dfa,#9595fa,#6f6ff8,#7171f8,#8383f9,#8c8cf9,#8888f9,#7979f8,#7676f8,#7272f8,#7070f8,#7979f8,#8787f9,#8a8af9,#8e8ef9,#9393f9,#9292f9,#8989f9,#8181f9,#7979f8,#6969f8,#5858f9,#6262f9,#7373f8,#8484f9,#6e6ef8,#5151f9,#1212f3,#2222f8,#5353f9,#8c8cf9,#cbcbfc,#7575f8,#6262f9,#8787f9,#9292f9,#4545fa,#4646fa,#8f8ff9,#8585f9,#4444fa,#4646fa,#7676f8,#8080f9,#6262f9,#5f5ff9,#7f7ff9,#8b8bf9,#9393f9,#7676f8,#5353f9,#6565f9,#7c7cf8,#7272f8,#4b4bfa,#5050fa,#6a6af8,#8686f9,#6e6ef8,#5a5af9,#6666f9,#7777f8,#7575f8,#6767f9,#7070f8,#9797fa,#9292f9,#6868f8,#4a4afa,#1919f5,#1818f5,#7272f9,#6464f9,#2d2dfa,#5656f9,#8585f9,#5353f9,#5656f9);left:60px;width:440px"></div>
<div style="top:293px;background:linear-gradient(90deg,#6565f9,#7171f8,#3f3ffa,#2a2afa,#1d1df7,#1c1cf7,#1818f6,#3a3afa,#6161f9,#8c8cf9,#7b7bf9,#5b5bf9,#5656f9,#5151fa,#6363f9,#5656f9,#2727f9,#1e1ef7,#1414f5,#1414f5,#1717f6,#1616f6,#3e3efa,#7070f8,#5959f9,#3c3cfa,#1e1ef7,#1515f5,#2323f8,#4040fa,#3838fa,#3434fa,#2c2cfa,#2b2bfa,#2b2bfa,#2a2afa,#2929fa,#2828fa,#3535fa,#3636fa,#2828f9,#1313f4,#1818f6,#1d1df7,#1f1ff8,#2121f8,#2323f8,#2929fa,#2b2bfa,#2121f8,#1616f5,#1414f5,#1313f4,#1515f5,#2121f8,#2121f8,#1313f4,#1313f4,#1f1ff7,#1f1ff8,#1313f4,#1212f4,#1d1df7,#2121f8,#1717f6,#1111f3,#1919f6,#1f1ff8,#1515f5,#1414f5,#1c1cf7,#2121f8,#2929fa,#2d2dfa,#3232fa,#3535fa,#3232fa,#2c2cfa,#2929fa,#2121f8,#1d1df7,#2020f8,#2525f9,#2929fa,#3030fa,#3333fa,#3333fa,#3333fa,#3535fa,#4e4efa,#3333fa,#1c1cf7,#1c1cf7,#1c1cf7,#1e1ef7,#4646fa,#5959f9,#1e1ef7,#1a1af6,#1515f5,#1111f3,#1010f1,#0f0ff0,#0d0def,#0b0bed,#0a0aed,#0b0bed,#0c0cef,#0f0ff1,#1111f2,#1616f5,#2525f9,#2626f9,#2626f9,#2626f9,#2525f9,#3838fa,#4a4afa,#5f5ff9,#4a4afa,#8787f9,#8989f9,#5b5bf9,#4e4efa,#7a7af8,#7e7ef8,#7e7ef9,#8282f9,#9393f9,#9999fa,#8f8ff9,#8585f9,#7a7af8,#6c6cf8,#5b5bf9,#4545fa,#4545fa,#6c6cf8,#7a7af8,#7272f8,#4e4efa,#2222f8,#4444fa,#9797fa,#9898fa,#7474f8,#6c6cf8,#8181f9,#8b8bf9,#8989f9,#7a7af8,#7676f8,#7373f8,#7070f8,#7878f8,#8585f9,#8989f9,#8d8df9,#9292f9,#9292f9,#8a8af9,#8181f9,#7b7bf8,#6a6af8,#5b5bf9,#5f5ff9,#7272f8,#8484f9,#7272f8,#5858f9,#1515f4,#1d1df7,#4949fa,#8181f9,#cbcbfc,#8080f9,#6262f9,#8181f9,#9898fa,#4b4bfa,#3c3cfa,#8484f9,#8f8ff9,#4f4ffa,#3f3ffa,#6e6ef8,#8585f9,#6868f8,#5c5cf9,#7d7df8,#8a8af9,#9292f9,#7b7bf8,#5454f9,#6363f9,#7b7bf8,#7676f8,#4f4ffa,#4d4dfa,#6969f8,#8686f9,#7272f8,#5a5af9,#6464f9,#7676f8,#7676f8,#6868f8,#6d6df8,#9494f9,#9595fa,#6c6cf8,#4f4ffa,#1f1ff7,#1414f3,#6262f9,#6969f8,#3131fa,#5050fa,#8989f9,#5858f9,#5353f9);left:60px;width:440px"></div>
<div style="top:294px;background:linear-gradient(90deg,#6464f9,#6f6ff8,#4b4bfa,#2e2efa,#2020f8,#1d1df7,#1818f6,#3434fa,#5d5df9,#8383f9,#8787f9,#5c5cf9,#5959f9,#5151fa,#5f5ff9,#6060f9,#2b2bfa,#2121f8,#1717f6,#1616f6,#1a1af6,#1818f6,#3f3ffa,#7070f8,#5a5af9,#3e3efa,#1f1ff8,#1616f5,#2424f8,#4242fa,#3939fa,#3535fa,#2c2cfa,#2b2bfa,#2b2bfa,#2b2bfa,#2a2afa,#2828fa,#3535fa,#3737fa,#2929fa,#1414f5,#1919f6,#1d1df7,#2020f8,#2121f8,#2323f9,#2929fa,#2c2cfa,#2222f8,#1717f6,#1515f5,#1414f5,#1616f5,#2222f8,#2222f8,#1414f5,#1313f4,#2020f8,#2020f8,#1414f4,#1313f4,#1d1df7,#2222f8,#1717f6,#1212f3,#1a1af6,#2020f8,#1616f5,#1515f5,#1c1cf7,#2222f8,#2929fa,#2e2efa,#3333fa,#3636fa,#3333fa,#2c2cfa,#2929fa,#2222f8,#1e1ef7,#2121f8,#2626f9,#2a2afa,#3030fa,#3333fa,#3434fa,#3434fa,#3636fa,#4e4efa,#3434fa,#1d1df7,#1d1df7,#1d1df7,#1f1ff7,#4646fa,#5959f9,#1f1ff8,#1b1bf7,#1616f5,#1111f3,#1010f2,#0f0ff1,#0d0def,#0b0bee,#0a0aed,#0b0bee,#0d0def,#0f0ff1,#1111f3,#1717f6,#2727f9,#2727f9,#2727f9,#2727f9,#2626f9,#3838fa,#4a4afa,#5f5ff9,#4a4afa,#8585f9,#8888f9,#5b5bf9,#4c4cfa,#7878f8,#7d7df8,#7d7df8,#8080f9,#9292f9,#9898fa,#8e8ef9,#8484f9,#7979f8,#6c6cf8,#5b5bf9,#4646fa,#4646fa,#6b6bf8,#7878f8,#7171f8,#4d4dfa,#2222f8,#4444fa,#9090f9,#9b9bfa,#7979f8,#6868f9,#8080f9,#8a8af9,#8a8af9,#7b7bf8,#7676f8,#7373f8,#7070f8,#7676f8,#8383f9,#8888f9,#8b8bf9,#9191f9,#9292f9,#8b8bf9,#8282f9,#7c7cf8,#6b6bf8,#5e5ef9,#5c5cf9,#7070f8,#8383f9,#7676f8,#5e5ef9,#1919f6,#1919f6,#3f3ffa,#7878f8,#c7c7fc,#8c8cf9,#6464f9,#7a7af8,#9c9cfa,#5252f9,#3838fa,#7b7bf8,#9797fa,#5959f9,#3a3afa,#6767f9,#8989f9,#6d6df8,#5959f9,#7b7bf8,#8888f9,#9292f9,#7f7ff9,#5656f9,#6161f9,#7979f8,#7979f8,#5353f9,#4b4bfa,#6868f8,#8484f9,#7575f8,#5b5bf9,#6363f9,#7575f8,#7878f8,#6969f8,#6a6af8,#9090f9,#9898fa,#7070f8,#5454f9,#2626f8,#1010f1,#5050f9,#6d6df8,#3838fa,#4c4cfa,#8a8af9,#5d5df9,#5050fa);left:60px;width:440px"></div>
<div style="top:295px;background:linear-gradient(90deg,#6363f9,#6d6df8,#5858f9,#3333fa,#2222f8,#1e1ef7,#1919f6,#2d2df9,#5757f9,#7b7bf8,#9191f9,#5d5df9,#5c5cf9,#5151fa,#5b5bf9,#6767f9,#3030fa,#2525f9,#1a1af6,#1919f6,#1c1cf7,#1a1af6,#3f3ffa,#7070f8,#5c5cf9,#3f3ffa,#2020f8,#1616f6,#2424f8,#4444fa,#3a3afa,#3636fa,#2d2dfa,#2c2cfa,#2c2cfa,#2b2bfa,#2a2afa,#2828fa,#3535fa,#3838fa,#2a2afa,#1515f5,#1a1af6,#1e1ef7,#2121f8,#2222f8,#2424f9,#2a2afa,#2d2dfa,#2323f8,#1818f6,#1616f5,#1414f5,#1717f6,#2323f8,#2323f8,#1515f5,#1414f5,#2020f8,#2121f8,#1414f5,#1313f4,#1e1ef7,#2323f8,#1818f6,#1313f4,#1b1bf6,#2121f8,#1717f6,#1616f5,#1d1df7,#2222f8,#2a2afa,#2e2efa,#3434fa,#3737fa,#3333fa,#2d2dfa,#2929fa,#2323f8,#1e1ef7,#2222f8,#2727f9,#2b2bfa,#3131fa,#3434fa,#3434fa,#3434fa,#3636fa,#4f4ffa,#3636fa,#1e1ef7,#1e1ef7,#1e1ef7,#2020f8,#4646fa,#5959f9,#2020f8,#1c1cf7,#1717f6,#1212f3,#1010f2,#0f0ff1,#0d0def,#0c0cee,#0b0bed,#0b0bee,#0d0def,#1010f1,#1212f3,#1818f6,#2828fa,#2929fa,#2929fa,#2828f9,#2727f9,#3939fa,#4b4bfa,#5f5ff9,#4b4bfa,#8484f9,#8787f9,#5b5bf9,#4b4bfa,#7777f8,#7c7cf8,#7b7bf8,#7e7ef8,#9090f9,#9797fa,#8c8cf9,#8282f9,#7878f8,#6b6bf8,#5b5bf9,#4848fa,#4646fa,#6b6bf8,#7575f8,#6f6ff8,#4b4bfa,#2222f8,#4343fa,#8989f9,#9e9efa,#7d7df8,#6464f9,#7e7ef9,#8888f9,#8b8bf9,#7b7bf8,#7676f8,#7373f8,#7070f8,#7474f8,#8181f9,#8787f9,#8a8af9,#8f8ff9,#9292f9,#8b8bf9,#8282f9,#7d7df8,#6c6cf8,#6161f9,#5959f9,#6f6ff8,#8282f9,#7b7bf8,#6363f9,#1f1ff7,#1515f4,#3737fa,#7070f8,#c1c1fc,#9a9afa,#6666f9,#7474f8,#9c9cfa,#5b5bf9,#3737fa,#7373f8,#9b9bfa,#6060f9,#3737fa,#6262f9,#8c8cf9,#7272f8,#5858f9,#7878f8,#8787f9,#9191f9,#8383f9,#5858f9,#5f5ff9,#7878f8,#7b7bf8,#5757f9,#4949fa,#6767f9,#8181f9,#7979f8,#5d5df9,#6161f9,#7474f8,#7979f8,#6b6bf8,#6868f9,#8b8bf9,#9a9afa,#7474f8,#5858f9,#2b2bf9,#0e0ef0,#4040fa,#7171f8,#4141fa,#4949fa,#8989f9,#6262f9,#4e4efa);left:60px;width:440px"></div>
<div style="top:296px;background:linear-gradient(90deg,#6161f9,#6b6bf8,#6464f9,#3737fa,#2525f9,#2020f8,#1b1bf6,#2626f9,#5151fa,#7474f8,#9696fa,#5f5ff9,#5e5ef9,#5151fa,#5858f9,#6b6bf8,#3939fa,#2a2afa,#1e1ef7,#1c1cf7,#1f1ff7,#1c1cf7,#3f3ffa,#7070f8,#5d5df9,#4141fa,#2121f8,#1717f6,#2525f8,#4545fa,#3a3afa,#3737fa,#2e2efa,#2d2dfa,#2c2cfa,#2c2cfa,#2a2afa,#2828f9,#3434fa,#3939fa,#2c2cfa,#1515f5,#1a1af6,#1f1ff7,#2121f8,#2222f8,#2424f9,#2b2bfa,#2e2efa,#2424f9,#1919f6,#1717f6,#1515f5,#1818f6,#2424f9,#2424f9,#1616f5,#1515f5,#2121f8,#2222f8,#1515f5,#1414f5,#1f1ff8,#2323f8,#1919f6,#1313f4,#1b1bf7,#2222f8,#1818f6,#1717f6,#1e1ef7,#2323f8,#2b2bfa,#2f2ffa,#3535fa,#3838fa,#3434fa,#2e2efa,#2a2afa,#2424f9,#1f1ff8,#2323f8,#2929fa,#2b2bfa,#3232fa,#3535fa,#3535fa,#3535fa,#3737fa,#4f4ffa,#3737fa,#1f1ff8,#1f1ff8,#1f1ff8,#2121f8,#4747fa,#5959f9,#2121f8,#1c1cf7,#1818f6,#1212f3,#1010f2,#1010f1,#0e0ef0,#0c0cee,#0b0bee,#0c0cee,#0d0def,#1010f2,#1313f4,#1919f6,#2929fa,#2a2afa,#2a2afa,#2929fa,#2929fa,#3939fa,#4b4bfa,#5f5ff9,#4c4cfa,#8383f9,#8686f9,#5b5bf9,#4949fa,#7575f8,#7b7bf8,#7979f8,#7c7cf8,#8f8ff9,#9696fa,#8b8bf9,#8181f9,#7676f8,#6b6bf8,#5c5cf9,#4949fa,#4747fa,#6b6bf8,#7373f8,#6d6df8,#4a4afa,#2222f8,#4242fa,#8282f9,#a1a1fa,#8181f9,#6262f9,#7d7df8,#8787f9,#8b8bf9,#7c7cf8,#7575f8,#7474f8,#7171f8,#7373f8,#7f7ff9,#8686f9,#8989f9,#8e8ef9,#9191f9,#8c8cf9,#8282f9,#7e7ef8,#6e6ef8,#6363f9,#5959f9,#6f6ff8,#7f7ff9,#8080f9,#6666f9,#2626f8,#1212f3,#3030fa,#6b6bf8,#babafb,#a7a7fa,#6969f8,#6f6ff8,#9b9bfa,#6666f9,#3b3bfa,#6d6df8,#9b9bfa,#6666f9,#3636fa,#5e5ef9,#8c8cf9,#7676f8,#5959f9,#7474f8,#8686f9,#9090f9,#8686f9,#5b5bf9,#5d5df9,#7676f8,#7d7df8,#5b5bf9,#4848fa,#6565f9,#7e7ef8,#7c7cf8,#5f5ff9,#6060f9,#7272f8,#7a7af8,#6d6df8,#6666f9,#8787f9,#9c9cfa,#7878f8,#5b5bf9,#2f2ffa,#0c0cef,#3636fa,#7676f8,#4b4bfa,#4848fa,#8585f9,#6868f8,#4e4efa);left:60px;width:440px"></div>
<div style="top:297px;background:linear-gradient(90deg,#5f5ff9,#6969f8,#6e6ef8,#3b3bfa,#2828f9,#2121f8,#1d1df7,#2020f8,#4b4bfa,#6e6ef8,#9898fa,#6464f9,#6060f9,#5252f9,#5555f9,#6c6cf8,#4242fa,#3030fa,#2222f8,#1f1ff7,#2121f8,#1e1ef7,#4040fa,#7070f8,#5f5ff9,#4343fa,#2323f8,#1818f6,#2525f9,#4747fa,#3c3cfa,#3737fa,#2f2ffa,#2d2dfa,#2d2dfa,#2d2dfa,#2b2bfa,#2727f9,#3434fa,#3a3afa,#2d2dfa,#1717f6,#1b1bf7,#2020f8,#2222f8,#2323f8,#2525f9,#2b2bfa,#2f2ffa,#2525f9,#1a1af6,#1818f6,#1616f5,#1919f6,#2424f9,#2525f9,#1717f6,#1616f5,#2222f8,#2323f8,#1616f5,#1515f5,#2020f8,#2424f9,#1a1af6,#1414f5,#1c1cf7,#2222f8,#1919f6,#1717f6,#1f1ff7,#2323f9,#2b2bfa,#3030fa,#3636fa,#3939fa,#3535fa,#2e2efa,#2a2afa,#2424f9,#2020f8,#2424f9,#2a2afa,#2c2cfa,#3232fa,#3535fa,#3535fa,#3535fa,#3838fa,#4f4ffa,#3939fa,#2020f8,#2020f8,#2020f8,#2222f8,#4747fa,#5959f9,#2222f8,#1d1df7,#1919f6,#1313f4,#1111f2,#1010f2,#0e0ef0,#0c0cef,#0c0cee,#0c0cef,#0e0ef0,#1010f2,#1313f4,#1a1af6,#2a2afa,#2b2bfa,#2b2bfa,#2a2afa,#2a2afa,#3a3afa,#4b4bfa,#5f5ff9,#4c4cfa,#8282f9,#8484f9,#5a5af9,#4848fa,#7373f8,#7a7af8,#7878f8,#7a7af8,#8d8df9,#9595f9,#8a8af9,#8080f9,#7575f8,#6b6bf8,#5c5cf9,#4a4afa,#4848fa,#6b6bf8,#7070f8,#6c6cf8,#4848fa,#2222f8,#4141fa,#7b7bf9,#a4a4fa,#8383f9,#6262f9,#7b7bf8,#8585f9,#8b8bf9,#7d7df8,#7575f8,#7474f8,#7171f8,#7272f8,#7d7df8,#8585f9,#8787f9,#8d8df9,#9191f9,#8c8cf9,#8383f9,#7e7ef8,#7070f8,#6666f9,#5959f9,#6e6ef8,#7c7cf8,#8585f9,#6969f8,#3030f9,#1010f2,#2a2afa,#6666f9,#b0b0fb,#b3b3fb,#6c6cf8,#6a6af8,#9797fa,#7272f9,#4242fa,#6565f9,#9898fa,#6c6cf8,#3939fa,#5b5bf9,#8a8af9,#7a7af8,#5b5bf9,#6f6ff8,#8484f9,#8f8ff9,#8989f9,#5f5ff9,#5b5bf9,#7474f8,#7e7ef8,#5f5ff9,#4848fa,#6363f9,#7a7af8,#7f7ff9,#6161f9,#5f5ff9,#7171f8,#7b7bf8,#6f6ff8,#6565f9,#8282f9,#9c9cfa,#7d7df8,#5d5df9,#3333fa,#0c0cef,#2d2dfa,#7979f8,#5555f9,#4747fa,#7e7ef9,#6f6ff8,#5050fa);left:60px;width:440px"></div>
<div style="top:298px;background:linear-gradient(90deg,#5c5cf9,#6767f9,#7373f8,#3f3ffa,#2c2cfa,#2323f8,#1f1ff7,#1d1df7,#4646fa,#6a6af8,#9696fa,#6b6bf8,#6060f9,#5353f9,#5454f9,#6a6af8,#4c4cfa,#3737fa,#2727f9,#2222f8,#2424f9,#2020f8,#4040fa,#7070f8,#6060f9,#4444fa,#2424f9,#1919f6,#2626f9,#4848fa,#3d3dfa,#3838fa,#3030fa,#2e2efa,#2e2efa,#2d2dfa,#2b2bfa,#2727f9,#3434fa,#3b3bfa,#2f2ffa,#1818f6,#1c1cf7,#2121f8,#2323f8,#2424f9,#2525f9,#2c2cfa,#3030fa,#2525f9,#1b1bf6,#1919f6,#1717f6,#1a1af6,#2525f9,#2626f9,#1818f6,#1717f6,#2323f8,#2424f9,#1717f6,#1616f5,#2121f8,#2525f9,#1b1bf7,#1515f5,#1d1df7,#2323f8,#1a1af6,#1818f6,#1f1ff8,#2424f9,#2c2cfa,#3131fa,#3737fa,#3a3afa,#3636fa,#2f2ffa,#2b2bfa,#2525f9,#2121f8,#2525f9,#2b2bfa,#2d2dfa,#3333fa,#3636fa,#3636fa,#3636fa,#3939fa,#5050fa,#3a3afa,#2121f8,#2121f8,#2121f8,#2323f8,#4848fa,#5959f9,#2323f8,#1e1ef7,#1a1af6,#1313f4,#1111f3,#1010f2,#0e0ef0,#0d0def,#0c0cee,#0d0def,#0e0ef0,#1111f2,#1414f5,#1b1bf7,#2c2cfa,#2d2dfa,#2d2dfa,#2b2bfa,#2b2bfa,#3a3afa,#4b4bfa,#5f5ff9,#4d4dfa,#8080f9,#8383f9,#5a5af9,#4747fa,#7272f8,#7979f8,#7676f8,#7878f8,#8c8cf9,#9494f9,#8888f9,#7f7ff9,#7474f8,#6a6af8,#5c5cf9,#4c4cfa,#4949fa,#6b6bf8,#6e6ef8,#6a6af8,#4747fa,#2222f8,#4040fa,#7474f9,#a5a5fa,#8585f9,#6464f9,#7878f8,#8383f9,#8b8bf9,#7e7ef9,#7575f8,#7474f8,#7171f8,#7171f8,#7b7bf8,#8484f9,#8686f9,#8b8bf9,#9090f9,#8c8cf9,#8383f9,#7d7df8,#7272f8,#6767f9,#5959f9,#6c6cf8,#7878f8,#8989f9,#6b6bf8,#3939fa,#0f0ff1,#2626f9,#6161f9,#a5a5fa,#bcbcfb,#7070f8,#6666f9,#9393f9,#7d7df9,#4848fa,#5d5df9,#9292f9,#7373f8,#3e3efa,#5858f9,#8686f9,#7e7ef8,#5e5ef9,#6b6bf8,#8282f9,#8e8ef9,#8a8af9,#6363f9,#5a5af9,#7272f8,#7e7ef8,#6464f9,#4848fa,#6060f9,#7777f8,#8181f9,#6464f9,#5d5df9,#6f6ff8,#7b7bf8,#7171f8,#6565f9,#7e7ef8,#9c9cfa,#8181f9,#6060f9,#3737fa,#0e0ef0,#2727f9,#7979f8,#5d5df9,#4545fa,#7676f9,#7676f8,#5454f9);left:60px;width:440px"></div>
<div style="top:299px;background:linear-gradient(90deg,#5959f9,#6666f9,#7575f8,#4545fa,#3131fa,#2525f9,#2121f8,#1b1bf6,#4141fa,#6767f9,#9191f9,#7373f8,#5f5ff9,#5656f9,#5252f9,#6767f9,#5656f9,#3d3dfa,#2d2dfa,#2626f9,#2626f9,#2222f8,#4141fa,#7070f8,#6262f9,#4545fa,#2525f9,#1a1af6,#2626f9,#4a4afa,#3e3efa,#3939fa,#3131fa,#2f2ffa,#2e2efa,#2e2efa,#2c2cfa,#2727f9,#3434fa,#3c3cfa,#3030fa,#1919f6,#1c1cf7,#2121f8,#2424f9,#2424f9,#2626f9,#2d2dfa,#3030fa,#2626f9,#1c1cf7,#1a1af6,#1818f6,#1b1bf7,#2626f9,#2727f9,#1919f6,#1818f6,#2424f9,#2525f9,#1818f6,#1717f6,#2222f8,#2626f9,#1c1cf7,#1616f5,#1e1ef7,#2424f9,#1b1bf7,#1919f6,#2020f8,#2525f9,#2d2dfa,#3232fa,#3939fa,#3b3bfa,#3737fa,#3030fa,#2b2bfa,#2626f9,#2222f8,#2626f9,#2d2dfa,#2d2dfa,#3333fa,#3636fa,#3636fa,#3636fa,#3939fa,#5050fa,#3c3cfa,#2222f8,#2222f8,#2222f8,#2424f9,#4848fa,#5a5af9,#2424f9,#1f1ff7,#1b1bf7,#1313f4,#1111f3,#1010f2,#0f0ff1,#0d0def,#0c0cef,#0d0def,#0e0ef0,#1111f3,#1515f5,#1d1df7,#2d2dfa,#2e2efa,#2e2efa,#2d2dfa,#2c2cfa,#3a3afa,#4b4bfa,#5f5ff9,#4e4efa,#7f7ff9,#8282f9,#5a5af9,#4545fa,#7070f8,#7878f8,#7474f8,#7676f8,#8a8af9,#9393f9,#8787f9,#7d7df8,#7373f8,#6a6af8,#5c5cf9,#4d4dfa,#4a4afa,#6a6af8,#6c6cf8,#6868f8,#4545fa,#2222f8,#3f3ffa,#6e6ef9,#a6a6fa,#8787f9,#6767f9,#7474f8,#8181f9,#8a8af9,#8080f9,#7474f8,#7474f8,#7171f8,#7171f8,#7a7af8,#8383f9,#8585f9,#8a8af9,#8f8ff9,#8d8df9,#8484f9,#7d7df8,#7474f8,#6969f8,#5b5bf9,#6a6af8,#7676f8,#8c8cf9,#6e6ef8,#4343fa,#0f0ff0,#2323f8,#5b5bf9,#9999fa,#c3c3fc,#7474f8,#6464f9,#8d8df9,#8888f9,#4d4dfa,#5454f9,#8989f9,#7979f8,#4545fa,#5656f9,#8080f9,#8181f9,#6262f9,#6767f9,#8181f9,#8d8df9,#8b8bf9,#6767f9,#5959f9,#7070f8,#7e7ef9,#6868f8,#4949fa,#5d5df9,#7575f8,#8383f9,#6767f9,#5d5df9,#6d6df8,#7c7cf8,#7373f8,#6565f9,#7979f8,#9b9bfa,#8686f9,#6262f9,#3b3bfa,#1010f1,#2424f8,#7575f8,#6363f9,#4444fa,#6d6df9,#7c7cf8,#5858f9);left:60px;width:440px"></div>
<div style="top:300px;background:linear-gradient(90deg,#5656f9,#6464f9,#7474f8,#4d4dfa,#3737fa,#2727f9,#2323f9,#1a1af6,#3c3cfa,#6565f9,#8b8bf9,#7e7ef9,#5e5ef9,#5959f9,#5252f9,#6363f9,#5f5ff9,#4343fa,#3333fa,#2a2afa,#2929fa,#2424f9,#4141fa,#7070f8,#6363f9,#4747fa,#2626f9,#1b1bf7,#2727f9,#4b4bfa,#3f3ffa,#3a3afa,#3232fa,#2f2ffa,#2f2ffa,#2e2efa,#2c2cfa,#2626f9,#3333fa,#3d3dfa,#3232fa,#1a1af6,#1d1df7,#2222f8,#2424f9,#2525f9,#2626f9,#2e2efa,#3131fa,#2727f9,#1d1df7,#1b1bf7,#1919f6,#1c1cf7,#2727f9,#2727f9,#1a1af6,#1919f6,#2525f9,#2525f9,#1919f6,#1818f6,#2323f8,#2727f9,#1d1df7,#1717f6,#1f1ff8,#2525f9,#1c1cf7,#1a1af6,#2121f8,#2626f9,#2d2dfa,#3232fa,#3a3afa,#3d3dfa,#3838fa,#3030fa,#2c2cfa,#2626f9,#2323f8,#2727f9,#2f2ffa,#2e2efa,#3434fa,#3737fa,#3737fa,#3737fa,#3a3afa,#5151fa,#3d3dfa,#2323f8,#2323f8,#2323f8,#2525f9,#4949fa,#5a5af9,#2525f9,#2020f8,#1c1cf7,#1414f5,#1212f3,#1111f2,#0f0ff1,#0d0df0,#0d0def,#0d0df0,#0f0ff1,#1212f3,#1616f5,#1e1ef7,#2f2ffa,#3030fa,#3030fa,#2e2efa,#2d2dfa,#3b3bfa,#4b4bfa,#5f5ff9,#4e4efa,#7e7ef9,#8181f9,#5959f9,#4444fa,#6e6ef8,#7777f8,#7373f8,#7474f8,#8989f9,#9292f9,#8686f9,#7c7cf8,#7171f8,#6969f8,#5c5cf9,#4e4efa,#4b4bfa,#6a6af8,#6a6af8,#6666f9,#4343fa,#2222f8,#3e3efa,#6868f9,#a6a6fa,#8989f9,#6b6bf8,#7070f8,#8080f9,#8a8af9,#8181f9,#7474f8,#7474f8,#7272f8,#7070f8,#7878f8,#8282f9,#8484f9,#8888f9,#8e8ef9,#8d8df9,#8484f9,#7d7df8,#7676f8,#6a6af8,#5d5df9,#6868f9,#7373f8,#8e8ef9,#7171f8,#4d4dfa,#0f0ff1,#1f1ff7,#5454f9,#8d8df9,#c7c7fc,#7a7af8,#6363f9,#8888f9,#9090f9,#5151f9,#4a4afa,#8080f9,#8181f9,#4e4efa,#5252f9,#7979f8,#8585f9,#6868f8,#6363f9,#7f7ff9,#8d8df9,#8b8bf9,#6b6bf8,#5858f9,#6e6ef8,#7e7ef9,#6c6cf8,#4b4bfa,#5a5af9,#7474f8,#8585f9,#6a6af8,#5c5cf9,#6c6cf8,#7b7bf8,#7575f8,#6666f9,#7575f8,#9999fa,#8a8af9,#6565f9,#4040fa,#1313f3,#1f1ff7,#6d6df9,#6767f9,#4545fa,#6565f9,#8181f9,#5c5cf9);left:60px;width:440px"></div>
<div style="top:301px;background:linear-gradient(90deg,#5555f9,#6363f9,#7171f8,#5757f9,#3c3cfa,#2929fa,#2525f9,#1a1af6,#3636fa,#6161f9,#8383f9,#8787f9,#5e5ef9,#5d5df9,#5151f9,#6060f9,#6565f9,#4747fa,#3939fa,#2e2efa,#2c2cfa,#2626f9,#4242fa,#6f6ff8,#6565f9,#4848fa,#2828f9,#1c1cf7,#2828f9,#4c4cfa,#4040fa,#3b3bfa,#3232fa,#3030fa,#3030fa,#2f2ffa,#2d2dfa,#2626f9,#3333fa,#3e3efa,#3434fa,#1b1bf7,#1e1ef7,#2323f8,#2525f9,#2525f9,#2727f9,#2e2efa,#3232fa,#2828fa,#1e1ef7,#1c1cf7,#1a1af6,#1d1df7,#2828fa,#2828fa,#1c1cf7,#1a1af6,#2626f9,#2626f9,#1a1af6,#1919f6,#2424f9,#2727f9,#1e1ef7,#1818f6,#2020f8,#2626f9,#1d1df7,#1b1bf7,#2222f8,#2626f9,#2e2efa,#3333fa,#3b3bfa,#3e3efa,#3939fa,#3131fa,#2d2dfa,#2727f9,#2424f9,#2828fa,#3030fa,#2f2ffa,#3535fa,#3737fa,#3838fa,#3838fa,#3b3bfa,#5151fa,#3f3ffa,#2424f9,#2424f9,#2424f9,#2626f9,#4949fa,#5a5af9,#2626f9,#2121f8,#1d1df7,#1414f5,#1212f3,#1111f3,#0f0ff1,#0e0ef0,#0d0def,#0e0ef0,#0f0ff1,#1212f3,#1717f6,#1f1ff8,#3030fa,#3131fa,#3131fa,#3030fa,#2f2ffa,#3b3bfa,#4b4bfa,#5f5ff9,#4f4ffa,#7d7df9,#8080f9,#5959f9,#4343fa,#6d6df8,#7676f8,#7171f8,#7272f8,#8888f9,#9090f9,#8484f9,#7b7bf8,#7070f8,#6969f8,#5c5cf9,#4f4ffa,#4b4bfa,#6a6af8,#6868f9,#6464f9,#4242fa,#2222f8,#3d3dfa,#6363f9,#a6a6fa,#8b8bf9,#7070f8,#6c6cf8,#7e7ef8,#8989f9,#8282f9,#7474f8,#7474f8,#7272f8,#7070f8,#7777f8,#8080f9,#8383f9,#8787f9,#8d8df9,#8d8df9,#8585f9,#7d7df8,#7777f8,#6b6bf8,#5f5ff9,#6565f9,#7272f8,#8e8ef9,#7676f8,#5555f9,#1010f2,#1b1bf7,#4a4afa,#8282f9,#c8c8fc,#8282f9,#6363f9,#8282f9,#9797fa,#5757f9,#4343fa,#7777f8,#8888f9,#5656f9,#4f4ffa,#7171f8,#8989f9,#6e6ef8,#6060f9,#7d7df8,#8c8cf9,#8c8cf9,#7070f8,#5858f9,#6b6bf8,#7e7ef8,#7070f8,#4d4dfa,#5757f9,#7373f8,#8686f9,#6d6df8,#5c5cf9,#6a6af8,#7b7bf8,#7777f8,#6767f9,#7171f8,#9696fa,#8e8ef9,#6868f8,#4545fa,#1717f5,#1a1af6,#6262f9,#6969f8,#4747fa,#5f5ff9,#8585f9,#6060f9);left:60px;width:440px"></div>
<div style="top:302px;background:linear-gradient(90deg,#5555f9,#6262f9,#6e6ef8,#6262f9,#4141fa,#2b2bfa,#2727f9,#1c1cf7,#3030fa,#5c5cf9,#7c7cf8,#8f8ff9,#6060f9,#6161f9,#5151fa,#5d5df9,#6a6af8,#4949fa,#3f3ffa,#3434fa,#3030fa,#2828fa,#4242fa,#6f6ff8,#6666f9,#4a4afa,#2929fa,#1d1df7,#2828f9,#4e4efa,#4141fa,#3c3cfa,#3333fa,#3131fa,#3030fa,#2f2ffa,#2d2dfa,#2626f9,#3333fa,#3f3ffa,#3535fa,#1c1cf7,#1f1ff7,#2424f9,#2626f9,#2626f9,#2727f9,#2f2ffa,#3333fa,#2929fa,#1f1ff7,#1d1df7,#1b1bf7,#1e1ef7,#2929fa,#2929fa,#1d1df7,#1b1bf7,#2727f9,#2727f9,#1b1bf7,#1a1af6,#2424f9,#2828fa,#1f1ff7,#1919f6,#2121f8,#2727f9,#1e1ef7,#1c1cf7,#2222f8,#2727f9,#2f2ffa,#3434fa,#3c3cfa,#3f3ffa,#3a3afa,#3232fa,#2d2dfa,#2828f9,#2525f9,#2929fa,#3232fa,#2f2ffa,#3535fa,#3838fa,#3838fa,#3838fa,#3b3bfa,#5252f9,#4040fa,#2525f9,#2525f9,#2525f9,#2727f9,#4a4afa,#5a5af9,#2727f9,#2121f8,#1e1ef7,#1515f5,#1212f4,#1111f3,#1010f1,#0e0ef0,#0e0ef0,#0e0ef0,#0f0ff1,#1313f4,#1818f6,#2020f8,#3232fa,#3333fa,#3333fa,#3131fa,#3030fa,#3c3cfa,#4b4bfa,#5f5ff9,#4f4ffa,#7c7cf9,#7f7ff9,#5959f9,#4242fa,#6b6bf8,#7575f8,#7070f8,#7070f8,#8686f9,#8f8ff9,#8383f9,#7979f8,#6f6ff8,#6868f8,#5d5df9,#5050fa,#4c4cfa,#6a6af8,#6565f9,#6262f9,#4040fa,#2222f8,#3b3bfa,#5f5ff9,#a4a4fa,#8e8ef9,#7575f8,#6868f8,#7c7cf8,#8787f9,#8484f9,#7474f8,#7474f8,#7272f8,#7070f8,#7575f8,#7f7ff9,#8282f9,#8686f9,#8c8cf9,#8d8df9,#8585f9,#7d7df8,#7878f8,#6c6cf8,#6161f9,#6363f9,#7171f8,#8c8cf9,#7b7bf8,#5c5cf9,#1414f3,#1717f5,#4141fa,#7777f9,#c5c5fc,#8c8cf9,#6565f9,#7b7bf8,#9a9afa,#5d5df9,#4040fa,#6f6ff8,#8c8cf9,#5e5ef9,#4c4cfa,#6a6af8,#8c8cf9,#7474f8,#5f5ff9,#7a7af8,#8b8bf9,#8c8cf9,#7373f8,#5858f9,#6969f8,#7e7ef8,#7373f8,#5050fa,#5454f9,#7272f8,#8686f9,#7171f8,#5c5cf9,#6868f8,#7a7af8,#7979f8,#6868f8,#6e6ef8,#9393f9,#9292f9,#6b6bf8,#4b4bfa,#1c1cf7,#1616f4,#5555f9,#6b6bf8,#4b4bfa,#5c5cf9,#8787f9,#6464f9);left:60px;width:440px"></div>
<div style="top:303px;background:linear-gradient(90deg,#5656f9,#6060f9,#6b6bf8,#6d6df8,#4646fa,#2f2ffa,#2828fa,#1e1ef7,#2a2af9,#5555f9,#7575f8,#9494f9,#6363f9,#6565f9,#5151fa,#5a5af9,#6b6bf8,#4b4bfa,#4444fa,#3939fa,#3333fa,#2a2afa,#4242fa,#6f6ff8,#6868f9,#4b4bfa,#2b2bfa,#1e1ef7,#2929f9,#4f4ffa,#4242fa,#3d3dfa,#3434fa,#3131fa,#3131fa,#3030fa,#2e2efa,#2626f9,#3232fa,#4040fa,#3636fa,#1d1df7,#1f1ff8,#2424f9,#2626f9,#2626f9,#2828f9,#3030fa,#3434fa,#2a2afa,#2020f8,#1e1ef7,#1c1cf7,#1f1ff7,#2a2afa,#2a2afa,#1e1ef7,#1c1cf7,#2828f9,#2828fa,#1c1cf7,#1b1bf7,#2525f9,#2929fa,#1f1ff8,#1a1af6,#2222f8,#2828f9,#1f1ff7,#1d1df7,#2323f8,#2828f9,#2f2ffa,#3535fa,#3d3dfa,#4040fa,#3b3bfa,#3333fa,#2e2efa,#2828fa,#2525f9,#2a2afa,#3434fa,#3030fa,#3636fa,#3939fa,#3939fa,#3939fa,#3c3cfa,#5252f9,#4141fa,#2525f9,#2525f9,#2525f9,#2727f9,#4a4afa,#5a5af9,#2828f9,#2222f8,#1e1ef7,#1616f5,#1313f4,#1212f3,#1010f2,#0f0ff0,#0e0ef0,#0f0ff1,#1010f1,#1313f4,#1919f6,#2222f8,#3333fa,#3535fa,#3535fa,#3333fa,#3232fa,#3c3cfa,#4c4cfa,#5f5ff9,#4f4ffa,#7b7bf9,#7e7ef9,#5858f9,#4141fa,#6969f8,#7474f8,#6e6ef8,#6e6ef8,#8484f9,#8e8ef9,#8282f9,#7878f8,#6e6ef8,#6868f8,#5d5df9,#5151fa,#4d4dfa,#6a6af8,#6363f9,#6060f9,#3e3efa,#2222f8,#3a3afa,#5b5bf9,#a0a0fa,#9292f9,#7979f8,#6565f9,#7a7af8,#8686f9,#8585f9,#7575f8,#7474f8,#7272f8,#7070f8,#7474f8,#7d7df8,#8181f9,#8484f9,#8a8af9,#8d8df9,#8686f9,#7d7df8,#7979f8,#6c6cf8,#6464f9,#6161f9,#7070f8,#8989f9,#8181f9,#6363f9,#1818f5,#1414f4,#3737fa,#6e6ef8,#c0c0fc,#9797fa,#6969f8,#7676f8,#9b9bfa,#6565f9,#4242fa,#6767f9,#8e8ef9,#6666f9,#4a4afa,#6464f9,#8d8df9,#7979f8,#5e5ef9,#7777f8,#8a8af9,#8c8cf9,#7777f8,#5959f9,#6767f9,#7d7df8,#7676f8,#5353f9,#5151f9,#7171f8,#8585f9,#7474f8,#5d5df9,#6666f9,#7979f8,#7b7bf8,#6969f8,#6b6bf8,#8f8ff9,#9595f9,#6e6ef8,#5151fa,#2020f8,#1313f3,#4747fa,#6c6cf8,#5050fa,#5a5af9,#8787f9,#6868f9);left:60px;width:440px"></div>
<div style="top:304px;background:linear-gradient(90deg,#5858f9,#5e5ef9,#6868f8,#7575f8,#4949fa,#3333fa,#2a2afa,#2121f8,#2424f9,#4f4ffa,#7070f8,#9595fa,#6969f8,#6767f9,#5252f9,#5757f9,#6b6bf8,#4c4cfa,#4848fa,#3e3efa,#3737fa,#2d2dfa,#4343fa,#6f6ff8,#6969f8,#4c4cfa,#2c2cfa,#1f1ff7,#2a2af9,#5050fa,#4343fa,#3e3efa,#3535fa,#3232fa,#3131fa,#3131fa,#2e2efa,#2626f9,#3232fa,#4141fa,#3838fa,#1f1ff7,#2020f8,#2525f9,#2727f9,#2727f9,#2828fa,#3030fa,#3535fa,#2b2bfa,#2121f8,#1f1ff7,#1d1df7,#2020f8,#2b2bfa,#2c2cfa,#1f1ff7,#1d1df7,#2929fa,#2929fa,#1d1df7,#1c1cf7,#2626f9,#2a2afa,#2020f8,#1b1bf7,#2323f8,#2828fa,#2020f8,#1e1ef7,#2424f9,#2828fa,#3030fa,#3636fa,#3e3efa,#4141fa,#3c3cfa,#3434fa,#2e2efa,#2929fa,#2626f9,#2b2bfa,#3636fa,#3131fa,#3636fa,#3939fa,#3939fa,#3939fa,#3c3cfa,#5353f9,#4242fa,#2626f9,#2626f9,#2626f9,#2828fa,#4b4bfa,#5b5bf9,#2929f9,#2323f8,#1f1ff8,#1616f6,#1313f4,#1212f3,#1010f2,#0f0ff1,#0e0ef0,#0f0ff1,#1010f2,#1313f4,#1a1af6,#2323f8,#3535fa,#3636fa,#3636fa,#3434fa,#3333fa,#3d3dfa,#4c4cfa,#5f5ff9,#5050fa,#7a7af9,#7e7ef8,#5757f9,#4040fa,#6767f9,#7373f8,#6d6df8,#6c6cf8,#8383f9,#8d8df9,#8080f9,#7777f8,#6c6cf8,#6767f9,#5d5df9,#5252f9,#4e4efa,#6a6af8,#6161f9,#5e5ef9,#3c3cfa,#2222f8,#3939fa,#5959f9,#9c9cfa,#9696fa,#7b7bf8,#6262f9,#7878f8,#8484f9,#8686f9,#7575f8,#7373f8,#7373f8,#7070f8,#7373f8,#7c7cf8,#8080f9,#8383f9,#8989f9,#8c8cf9,#8686f9,#7d7df8,#7979f8,#6e6ef8,#6666f9,#6060f9,#6f6ff8,#8585f9,#8787f9,#6767f9,#1e1ef7,#1111f3,#2f2ff9,#6868f8,#b9b9fb,#a2a2fa,#6d6df8,#7070f8,#9a9afa,#6d6df8,#4747fa,#6161f9,#8c8cf9,#6c6cf8,#4a4afa,#6161f9,#8d8df9,#7d7df8,#5f5ff9,#7474f8,#8888f9,#8c8cf9,#7a7af8,#5a5af9,#6565f9,#7c7cf8,#7979f8,#5757f9,#4f4ffa,#7070f8,#8383f9,#7777f8,#5e5ef9,#6464f9,#7878f8,#7c7cf8,#6b6bf8,#6868f8,#8b8bf9,#9797fa,#7272f8,#5555f9,#2424f9,#1010f2,#3d3dfa,#6d6df8,#5656f9,#5959f9,#8686f9,#6c6cf8);left:60px;width:440px"></div>
<div style="top:305px;background:linear-gradient(90deg,#5c5cf9,#5c5cf9,#6666f9,#7979f8,#4d4dfa,#3838fa,#2c2cfa,#2525f9,#2020f8,#4848fa,#6d6df8,#9393f9,#7070f8,#6666f9,#5353f9,#5555f9,#6969f8,#4c4cfa,#4b4bfa,#4444fa,#3a3afa,#3030fa,#4343fa,#6f6ff8,#6b6bf8,#4d4dfa,#2e2efa,#2020f8,#2b2bf9,#5252f9,#4444fa,#3f3ffa,#3636fa,#3333fa,#3232fa,#3131fa,#2f2ffa,#2525f9,#3232fa,#4141fa,#3939fa,#2020f8,#2121f8,#2626f9,#2828fa,#2828f9,#2828fa,#3131fa,#3636fa,#2c2cfa,#2222f8,#2020f8,#1e1ef7,#2121f8,#2c2cfa,#2d2dfa,#2020f8,#1e1ef7,#2a2afa,#2a2afa,#1e1ef7,#1d1df7,#2727f9,#2b2bfa,#2121f8,#1d1df7,#2424f9,#2929fa,#2020f8,#1f1ff7,#2525f9,#2929fa,#3131fa,#3636fa,#3f3ffa,#4242fa,#3d3dfa,#3434fa,#2f2ffa,#2a2afa,#2727f9,#2c2cfa,#3737fa,#3232fa,#3737fa,#3a3afa,#3a3afa,#3a3afa,#3d3dfa,#5353f9,#4343fa,#2727f9,#2727f9,#2727f9,#2929fa,#4c4cfa,#5b5bf9,#2a2afa,#2424f9,#2020f8,#1717f6,#1313f4,#1212f4,#1111f2,#0f0ff1,#0f0ff1,#0f0ff1,#1111f2,#1414f5,#1b1bf7,#2424f9,#3636fa,#3838fa,#3838fa,#3636fa,#3434fa,#3e3efa,#4c4cfa,#6060f9,#5050fa,#7979f9,#7d7df8,#5757f9,#3f3ffa,#6565f9,#7272f8,#6b6bf8,#6a6af8,#8181f9,#8c8cf9,#7f7ff9,#7676f8,#6b6bf8,#6767f9,#5d5df9,#5353f9,#4f4ffa,#6a6af8,#6060f9,#5c5cf9,#3a3afa,#2222f8,#3737fa,#5858f9,#9696fa,#9999fa,#7d7df8,#6262f9,#7676f8,#8383f9,#8787f9,#7676f8,#7272f8,#7373f8,#7070f8,#7272f8,#7a7af8,#7f7ff9,#8181f9,#8888f9,#8c8cf9,#8787f9,#7e7ef8,#7a7af8,#6f6ff8,#6868f9,#5f5ff9,#6f6ff8,#8080f9,#8d8df9,#6b6bf8,#2727f8,#0f0ff1,#2828f9,#6363f9,#b0b0fb,#aeaefb,#7272f8,#6b6bf8,#9797fa,#7777f9,#4d4dfa,#5b5bf9,#8787f9,#7171f8,#4b4bfa,#5e5ef9,#8a8af9,#8282f9,#6161f9,#7070f8,#8686f9,#8d8df9,#7d7df8,#5c5cf9,#6363f9,#7b7bf8,#7b7bf8,#5a5af9,#4e4efa,#6e6ef8,#8282f9,#7a7af8,#6060f9,#6363f9,#7676f8,#7d7df8,#6d6df8,#6767f9,#8787f9,#9999fa,#7575f8,#5959f9,#2727f9,#0f0ff1,#3535fa,#6e6ef8,#5d5df9,#5959f9,#8282f9,#7171f8);left:60px;width:440px"></div>
<div style="top:306px;background:linear-gradient(90deg,#6060f9,#5959f9,#6565f9,#7a7af8,#5252f9,#3e3efa,#2f2ffa,#2828fa,#1d1df7,#4343fa,#6a6af8,#8f8ff9,#7878f8,#6464f9,#5757f9,#5454f9,#6666f9,#4d4dfa,#4e4efa,#4949fa,#3e3efa,#3333fa,#4343fa,#6f6ff8,#6c6cf8,#4e4efa,#3030fa,#2121f8,#2b2bf9,#5353f9,#4545fa,#4040fa,#3737fa,#3333fa,#3333fa,#3232fa,#3030fa,#2525f9,#3131fa,#4242fa,#3b3bfa,#2121f8,#2222f8,#2727f9,#2929fa,#2828fa,#2929fa,#3232fa,#3737fa,#2d2dfa,#2323f8,#2121f8,#1f1ff8,#2222f8,#2d2dfa,#2e2efa,#2121f8,#2020f8,#2b2bfa,#2b2bfa,#1f1ff8,#1e1ef7,#2828fa,#2c2cfa,#2222f8,#1e1ef7,#2525f9,#2a2afa,#2121f8,#1f1ff8,#2525f9,#2a2afa,#3232fa,#3737fa,#4040fa,#4343fa,#3e3efa,#3535fa,#2f2ffa,#2a2afa,#2828fa,#2d2dfa,#3939fa,#3232fa,#3838fa,#3a3afa,#3b3bfa,#3b3bfa,#3d3dfa,#5454f9,#4545fa,#2828fa,#2828fa,#2828fa,#2a2afa,#4c4cfa,#5b5bf9,#2b2bfa,#2525f9,#2121f8,#1818f6,#1414f5,#1313f4,#1111f2,#1010f1,#0f0ff1,#1010f1,#1111f2,#1414f5,#1c1cf7,#2525f9,#3838fa,#3939fa,#3939fa,#3737fa,#3636fa,#3e3efa,#4c4cfa,#6060f9,#5050fa,#7979f9,#7c7cf8,#5656f9,#3e3efa,#6363f9,#7171f8,#6a6af8,#6868f8,#8080f9,#8b8bf9,#7e7ef8,#7474f8,#6a6af8,#6666f9,#5d5df9,#5454f9,#5050fa,#6a6af8,#5e5ef9,#5a5af9,#3838fa,#2222f8,#3636fa,#5656f9,#9090f9,#9c9cfa,#7e7ef9,#6262f9,#7474f8,#8181f9,#8787f9,#7777f8,#7171f8,#7373f8,#7171f8,#7171f8,#7979f8,#7e7ef9,#8080f9,#8686f9,#8b8bf9,#8787f9,#7e7ef8,#7979f8,#7070f8,#6969f8,#6060f9,#6e6ef8,#7b7bf8,#9292f9,#6e6ef8,#3131f9,#0e0ef0,#2222f8,#5e5ef9,#a6a6fa,#b7b7fb,#7777f8,#6767f9,#9393f9,#8181f9,#5454f9,#5555f9,#8080f9,#7777f8,#4e4efa,#5d5df9,#8686f9,#8585f9,#6464f9,#6c6cf8,#8484f9,#8d8df9,#7f7ff9,#5e5ef9,#6161f9,#7979f8,#7d7df8,#5e5ef9,#4d4dfa,#6b6bf8,#8080f9,#7d7df8,#6262f9,#6161f9,#7575f8,#7f7ff9,#6f6ff8,#6666f9,#8383f9,#9a9afa,#7a7af8,#5c5cf9,#2b2bfa,#0f0ff1,#2e2efa,#6d6df8,#6464f9,#5858f9,#7d7df8,#7676f8);left:60px;width:440px"></div>
<div style="top:307px;background:linear-gradient(90deg,#6464f9,#5757f9,#6464f9,#7777f8,#5959f9,#4444fa,#3131fa,#2b2bfa,#1c1cf7,#3d3dfa,#6868f8,#8989f9,#8181f9,#6262f9,#5b5bf9,#5353f9,#6363f9,#4e4efa,#5050fa,#4d4dfa,#4242fa,#3535fa,#4444fa,#6f6ff8,#6d6df8,#4f4ffa,#3131fa,#2222f8,#2c2cf9,#5454f9,#4646fa,#4040fa,#3838fa,#3434fa,#3333fa,#3232fa,#3030fa,#2525f9,#3131fa,#4343fa,#3c3cfa,#2222f8,#2222f8,#2828f9,#2929fa,#2929fa,#2929fa,#3333fa,#3737fa,#2e2efa,#2424f9,#2222f8,#2020f8,#2323f8,#2e2efa,#2f2ffa,#2222f8,#2121f8,#2c2cfa,#2c2cfa,#2020f8,#1f1ff7,#2929fa,#2d2dfa,#2323f8,#1f1ff7,#2626f9,#2b2bfa,#2222f8,#2020f8,#2626f9,#2b2bfa,#3232fa,#3838fa,#4141fa,#4444fa,#3f3ffa,#3636fa,#3030fa,#2b2bfa,#2929fa,#2e2efa,#3b3bfa,#3333fa,#3838fa,#3b3bfa,#3b3bfa,#3b3bfa,#3e3efa,#5454f9,#4646fa,#2929fa,#2929fa,#2929fa,#2b2bfa,#4d4dfa,#5b5bf9,#2c2cfa,#2525f9,#2222f8,#1919f6,#1414f5,#1313f4,#1111f3,#1010f2,#1010f1,#1010f2,#1111f3,#1515f5,#1d1df7,#2626f9,#3939fa,#3b3bfa,#3b3bfa,#3939fa,#3737fa,#3f3ffa,#4c4cfa,#6060f9,#5050fa,#7878f9,#7b7bf8,#5555f9,#3d3dfa,#6161f9,#7070f8,#6868f8,#6666f9,#7e7ef8,#8a8af9,#7c7cf8,#7373f8,#6969f8,#6565f9,#5d5df9,#5555f9,#5151fa,#6a6af8,#5c5cf9,#5858f9,#3535fa,#2222f8,#3535fa,#5656f9,#8989f9,#9e9efa,#7f7ff9,#6464f9,#7171f8,#7f7ff9,#8787f9,#7878f8,#7171f8,#7373f8,#7171f8,#7171f8,#7777f8,#7d7df8,#7f7ff9,#8585f9,#8a8af9,#8888f9,#7f7ff9,#7979f8,#7272f8,#6a6af8,#6161f9,#6d6df8,#7777f8,#9696fa,#7171f8,#3b3bfa,#0d0def,#1f1ff7,#5959f9,#9a9afa,#bebefc,#7b7bf8,#6464f9,#8e8ef9,#8a8af9,#5959f9,#4e4efa,#7878f8,#7d7df8,#5353f9,#5c5cf9,#8181f9,#8989f9,#6969f8,#6868f8,#8282f9,#8d8df9,#8080f9,#6161f9,#6060f9,#7777f8,#7e7ef8,#6262f9,#4d4dfa,#6868f8,#7f7ff9,#8080f9,#6464f9,#6060f9,#7373f8,#7f7ff9,#7272f8,#6565f9,#7e7ef9,#9a9afa,#7e7ef8,#5f5ff9,#2f2ffa,#0f0ff1,#2a2af9,#6a6af8,#6969f8,#5858f9,#7777f8,#7a7af8);left:60px;width:440px"></div>
<div style="top:308px;background:linear-gradient(90deg,#6767f9,#5656f9,#6262f9,#7373f8,#6262f9,#4949fa,#3434fa,#2e2efa,#1d1df7,#3838fa,#6565f9,#8383f9,#8989f9,#6161f9,#6161f9,#5252f9,#6161f9,#4e4efa,#5252f9,#5151fa,#4646fa,#3838fa,#4444fa,#6f6ff8,#6f6ff8,#5050fa,#3333fa,#2323f8,#2d2dfa,#5555f9,#4848fa,#4141fa,#3939fa,#3535fa,#3434fa,#3333fa,#3131fa,#2525f9,#3030fa,#4444fa,#3d3dfa,#2424f9,#2323f8,#2828fa,#2a2afa,#2a2afa,#2a2afa,#3333fa,#3838fa,#2f2ffa,#2525f9,#2323f8,#2121f8,#2424f9,#3030fa,#3030fa,#2323f8,#2222f8,#2d2dfa,#2d2dfa,#2121f8,#2020f8,#2a2afa,#2e2efa,#2424f9,#2020f8,#2727f9,#2c2cfa,#2323f8,#2121f8,#2727f9,#2b2bfa,#3333fa,#3939fa,#4242fa,#4545fa,#4040fa,#3737fa,#3030fa,#2c2cfa,#2a2afa,#2f2ffa,#3d3dfa,#3434fa,#3939fa,#3c3cfa,#3c3cfa,#3c3cfa,#3e3efa,#5555f9,#4747fa,#2a2afa,#2a2afa,#2a2afa,#2c2cfa,#4e4efa,#5c5cf9,#2d2dfa,#2626f9,#2323f8,#1a1af6,#1414f5,#1313f4,#1212f3,#1010f2,#1010f2,#1111f2,#1212f3,#1515f5,#1f1ff7,#2828f9,#3b3bfa,#3c3cfa,#3c3cfa,#3a3afa,#3838fa,#4040fa,#4c4cfa,#6161f9,#5151fa,#7777f9,#7b7bf8,#5555f9,#3d3dfa,#5f5ff9,#6f6ff8,#6767f9,#6464f9,#7c7cf8,#8989f9,#7b7bf8,#7272f8,#6767f9,#6565f9,#5d5df9,#5656f9,#5252f9,#6a6af8,#5a5af9,#5656f9,#3333fa,#2121f8,#3434fa,#5656f9,#8383f9,#a0a0fa,#8181f9,#6767f9,#6e6ef8,#7d7df8,#8787f9,#7979f8,#7070f8,#7373f8,#7171f8,#7070f8,#7676f8,#7c7cf8,#7e7ef8,#8383f9,#8989f9,#8888f9,#7f7ff9,#7979f8,#7373f8,#6b6bf8,#6262f9,#6c6cf8,#7474f8,#9999fa,#7474f8,#4646fa,#0d0def,#1b1bf7,#5454f9,#8f8ff9,#c3c3fc,#8080f9,#6363f9,#8888f9,#9191f9,#5e5ef9,#4848fa,#6f6ff8,#8181f9,#5858f9,#5b5bf9,#7a7af8,#8c8cf9,#6e6ef8,#6565f9,#8080f9,#8d8df9,#8282f9,#6363f9,#5e5ef9,#7676f8,#7f7ff9,#6666f9,#4d4dfa,#6565f9,#7e7ef8,#8282f9,#6767f9,#5f5ff9,#7171f8,#8080f9,#7474f8,#6565f9,#7a7af8,#9999fa,#8282f9,#6262f9,#3434fa,#1111f2,#2626f9,#6565f9,#6c6cf8,#5858f9,#7272f8,#7e7ef8);left:60px;width:440px"></div>
<div style="top:309px;background:linear-gradient(90deg,#6969f8,#5656f9,#6161f9,#6e6ef8,#6c6cf8,#4e4efa,#3737fa,#3030fa,#1e1ef7,#3333fa,#6060f9,#7d7df8,#8e8ef9,#6363f9,#6666f9,#5151f9,#5e5ef9,#4f4ffa,#5353f9,#5555f9,#4949fa,#3b3bfa,#4444fa,#6f6ff8,#7070f8,#5151f9,#3535fa,#2323f9,#2e2efa,#5757f9,#4949fa,#4242fa,#3a3afa,#3535fa,#3535fa,#3333fa,#3131fa,#2525f9,#3030fa,#4444fa,#3f3ffa,#2525f9,#2424f9,#2929fa,#2b2bfa,#2a2afa,#2a2afa,#3434fa,#3939fa,#3030fa,#2626f9,#2424f9,#2222f8,#2525f9,#3131fa,#3131fa,#2424f9,#2323f8,#2e2efa,#2f2ffa,#2222f8,#2121f8,#2b2bfa,#2f2ffa,#2525f9,#2121f8,#2828fa,#2e2efa,#2424f9,#2222f8,#2828f9,#2c2cfa,#3434fa,#3939fa,#4242fa,#4646fa,#4040fa,#3838fa,#3030fa,#2d2dfa,#2a2afa,#3030fa,#3f3ffa,#3535fa,#3939fa,#3c3cfa,#3c3cfa,#3c3cfa,#3f3ffa,#5555f9,#4848fa,#2b2bfa,#2b2bfa,#2b2bfa,#2d2dfa,#4e4efa,#5c5cf9,#2e2efa,#2727f9,#2424f9,#1a1af6,#1515f5,#1414f5,#1212f3,#1111f2,#1010f2,#1111f2,#1212f3,#1616f5,#2020f8,#2929fa,#3c3cfa,#3e3efa,#3e3efa,#3c3cfa,#3a3afa,#4040fa,#4c4cfa,#6161f9,#5151fa,#7777f9,#7a7af8,#5454f9,#3c3cfa,#5d5df9,#6e6ef8,#6565f9,#6262f9,#7b7bf8,#8888f9,#7a7af8,#7171f8,#6666f9,#6464f9,#5d5df9,#5656f9,#5353f9,#6a6af8,#5959f9,#5454f9,#3131fa,#2121f8,#3232fa,#5656f9,#7d7df8,#a0a0fa,#8383f9,#6b6bf8,#6b6bf8,#7b7bf8,#8686f9,#7b7bf8,#6f6ff8,#7373f8,#7171f8,#7070f8,#7575f8,#7b7bf8,#7d7df8,#8181f9,#8888f9,#8888f9,#8080f9,#7979f8,#7474f8,#6c6cf8,#6464f9,#6a6af8,#7272f8,#9999fa,#7979f8,#5050f9,#0d0def,#1818f6,#4c4cfa,#8383f9,#c4c4fc,#8686f9,#6363f9,#8282f9,#9797fa,#6363f9,#4444fa,#6767f9,#8585f9,#5f5ff9,#5959f9,#7373f8,#8e8ef9,#7474f8,#6363f9,#7d7df8,#8d8df9,#8383f9,#6666f9,#5d5df9,#7474f8,#8080f9,#6969f8,#4e4efa,#6161f9,#7d7df8,#8484f9,#6a6af8,#5e5ef9,#6f6ff8,#7f7ff9,#7777f8,#6666f9,#7676f8,#9898fa,#8686f9,#6464f9,#3b3bfa,#1313f3,#2121f8,#5d5df9,#6c6cf8,#5a5af9,#6d6df8,#8181f9);left:60px;width:440px"></div>
<div style="top:310px;background:linear-gradient(90deg,#6b6bf8,#5757f9,#5f5ff9,#6a6af8,#7676f8,#5252f9,#3a3afa,#3333fa,#2121f8,#2d2dfa,#5a5af9,#7777f8,#9191f9,#6767f9,#6b6bf8,#5151fa,#5c5cf9,#5151fa,#5353f9,#5858f9,#4c4cfa,#3e3efa,#4545fa,#6f6ff8,#7272f8,#5252f9,#3737fa,#2424f9,#2e2efa,#5858f9,#4a4afa,#4343fa,#3b3bfa,#3636fa,#3535fa,#3434fa,#3232fa,#2525f9,#2f2ffa,#4545fa,#4040fa,#2626f9,#2525f9,#2a2afa,#2c2cfa,#2b2bfa,#2b2bfa,#3535fa,#3a3afa,#3131fa,#2727f9,#2525f9,#2323f8,#2626f9,#3232fa,#3232fa,#2525f9,#2424f9,#2f2ffa,#3030fa,#2323f8,#2222f8,#2c2cfa,#3030fa,#2525f9,#2222f8,#2929fa,#2f2ffa,#2525f9,#2323f8,#2929fa,#2d2dfa,#3535fa,#3a3afa,#4343fa,#4747fa,#4141fa,#3939fa,#3131fa,#2d2dfa,#2b2bfa,#3131fa,#4141fa,#3535fa,#3a3afa,#3d3dfa,#3d3dfa,#3d3dfa,#3f3ffa,#5656f9,#4949fa,#2c2cfa,#2c2cfa,#2c2cfa,#2e2efa,#4f4ffa,#5c5cf9,#2f2ffa,#2828fa,#2525f9,#1b1bf7,#1515f5,#1414f5,#1212f3,#1111f2,#1111f2,#1111f3,#1212f4,#1717f6,#2121f8,#2a2afa,#3e3efa,#3f3ffa,#3f3ffa,#3d3dfa,#3b3bfa,#4141fa,#4c4cfa,#6161f9,#5151fa,#7676f9,#7a7af9,#5353f9,#3b3bfa,#5c5cf9,#6d6df8,#6464f9,#6060f9,#7979f8,#8787f9,#7979f8,#6f6ff8,#6565f9,#6363f9,#5d5df9,#5757f9,#5454f9,#6a6af8,#5757f9,#5252f9,#2f2ffa,#2121f8,#3131fa,#5555f9,#7878f8,#a0a0fa,#8585f9,#6e6ef8,#6767f9,#7979f8,#8585f9,#7c7cf8,#6f6ff8,#7272f8,#7171f8,#7070f8,#7474f8,#7a7af8,#7c7cf8,#8080f9,#8787f9,#8888f9,#8080f9,#7878f8,#7575f8,#6d6df8,#6666f9,#6868f8,#7171f8,#9797fa,#7e7ef9,#5959f9,#0f0ff1,#1515f5,#4242fa,#7777f9,#c3c3fc,#8d8df9,#6565f9,#7c7cf8,#9a9afa,#6969f8,#4343fa,#6060f9,#8787f9,#6565f9,#5858f9,#6c6cf8,#9090f9,#7a7af8,#6262f9,#7a7af8,#8d8df9,#8484f9,#6969f8,#5c5cf9,#7272f8,#8181f9,#6d6df8,#4f4ffa,#5e5ef9,#7c7cf8,#8585f9,#6d6df8,#5e5ef9,#6d6df8,#7f7ff9,#7979f8,#6666f9,#7272f8,#9595fa,#8a8af9,#6767f9,#4141fa,#1515f4,#1d1df7,#5454f9,#6c6cf8,#5c5cf9,#6a6af8,#8484f9);left:60px;width:440px"></div>
<div style="top:311px;background:linear-gradient(90deg,#6c6cf8,#5a5af9,#5e5ef9,#6868f9,#7c7cf8,#5656f9,#3e3efa,#3535fa,#2626f9,#2828f9,#5353f9,#7373f8,#9292f9,#6d6df8,#6d6df8,#5252f9,#5959f9,#5454f9,#5454f9,#5c5cf9,#5050fa,#4141fa,#4545fa,#6f6ff8,#7373f8,#5353f9,#3838fa,#2525f9,#2f2ffa,#5959f9,#4b4bfa,#4444fa,#3c3cfa,#3737fa,#3636fa,#3535fa,#3333fa,#2525f9,#2f2ffa,#4545fa,#4141fa,#2828f9,#2525f9,#2b2bfa,#2d2dfa,#2c2cfa,#2b2bfa,#3535fa,#3b3bfa,#3232fa,#2828f9,#2626f9,#2424f9,#2727f9,#3333fa,#3434fa,#2626f9,#2525f9,#3131fa,#3131fa,#2424f9,#2323f8,#2d2dfa,#3232fa,#2626f9,#2323f8,#2a2afa,#3030fa,#2626f9,#2424f9,#2929fa,#2e2efa,#3535fa,#3b3bfa,#4444fa,#4848fa,#4242fa,#3939fa,#3131fa,#2e2efa,#2c2cfa,#3232fa,#4343fa,#3636fa,#3b3bfa,#3d3dfa,#3d3dfa,#3d3dfa,#4040fa,#5757f9,#4a4afa,#2d2dfa,#2d2dfa,#2d2dfa,#2f2ffa,#5050fa,#5d5df9,#3030fa,#2929fa,#2626f9,#1c1cf7,#1616f5,#1414f5,#1212f4,#1111f3,#1111f3,#1212f3,#1313f4,#1717f6,#2222f8,#2c2cfa,#3f3ffa,#4141fa,#4141fa,#3f3ffa,#3c3cfa,#4242fa,#4c4cfa,#6262f9,#5151fa,#7676f9,#7a7af9,#5252f9,#3a3afa,#5a5af9,#6c6cf8,#6262f9,#5e5ef9,#7777f8,#8686f9,#7777f8,#6e6ef8,#6464f9,#6262f9,#5d5df9,#5858f9,#5555f9,#6a6af8,#5555f9,#5050fa,#2d2dfa,#2020f8,#3030fa,#5555f9,#7373f8,#9d9dfa,#8888f9,#7171f8,#6565f9,#7777f8,#8484f9,#7e7ef8,#6e6ef8,#7272f8,#7171f8,#7070f8,#7373f8,#7979f8,#7b7bf8,#7e7ef9,#8585f9,#8888f9,#8181f9,#7878f8,#7575f8,#6d6df8,#6767f9,#6767f9,#7070f8,#9393f9,#8585f9,#6161f9,#1313f3,#1212f3,#3939fa,#6e6ef8,#bfbffc,#9696fa,#6a6af8,#7676f8,#9b9bfa,#6f6ff8,#4747fa,#5a5af9,#8585f9,#6c6cf8,#5858f9,#6666f9,#9090f9,#7f7ff9,#6262f9,#7777f8,#8c8cf9,#8686f9,#6b6bf8,#5b5bf9,#7070f8,#8181f9,#7070f8,#5151fa,#5b5bf9,#7c7cf8,#8686f9,#7070f8,#5e5ef9,#6b6bf8,#7e7ef9,#7b7bf8,#6868f8,#6f6ff8,#9393f9,#8e8ef9,#6969f8,#4747fa,#1818f6,#1919f6,#4a4afa,#6b6bf8,#6060f9,#6969f8,#8585f9);left:60px;width:440px"></div>
<div style="top:312px;background:linear-gradient(90deg,#6d6df8,#5d5df9,#5b5bf9,#6666f9,#7f7ff9,#5a5af9,#4343fa,#3737fa,#2b2bfa,#2323f8,#4b4bfa,#6f6ff8,#9090f9,#7575f8,#6d6df8,#5353f9,#5757f9,#5757f9,#5454f9,#5f5ff9,#5353f9,#4444fa,#4646fa,#7070f8,#7474f8,#5454f9,#3a3afa,#2626f9,#3030fa,#5a5af9,#4c4cfa,#4545fa,#3d3dfa,#3838fa,#3737fa,#3535fa,#3333fa,#2525f9,#2e2efa,#4646fa,#4242fa,#2929f9,#2626f9,#2c2cfa,#2e2efa,#2d2dfa,#2c2cfa,#3636fa,#3c3cfa,#3333fa,#2929fa,#2727f9,#2525f9,#2828f9,#3434fa,#3535fa,#2727f9,#2626f9,#3232fa,#3232fa,#2525f9,#2424f9,#2e2efa,#3333fa,#2727f9,#2424f9,#2b2bfa,#3131fa,#2727f9,#2525f9,#2a2afa,#2f2ffa,#3636fa,#3c3cfa,#4545fa,#4949fa,#4343fa,#3a3afa,#3232fa,#2f2ffa,#2e2efa,#3333fa,#4545fa,#3737fa,#3b3bfa,#3e3efa,#3e3efa,#3e3efa,#4040fa,#5757f9,#4b4bfa,#2f2ffa,#2f2ffa,#2f2ffa,#3030fa,#5050fa,#5d5df9,#3131fa,#2a2afa,#2727f9,#1d1df7,#1717f6,#1515f5,#1313f4,#1212f3,#1212f3,#1212f3,#1313f4,#1818f6,#2323f8,#2d2dfa,#4141fa,#4242fa,#4242fa,#4040fa,#3e3efa,#4343fa,#4d4dfa,#6262f9,#5151fa,#7575f9,#7a7af9,#5151fa,#3a3afa,#5858f9,#6b6bf8,#6161f9,#5c5cf9,#7676f8,#8585f9,#7676f8,#6d6df8,#6262f9,#6262f9,#5d5df9,#5959f9,#5656f9,#6a6af8,#5454f9,#4d4dfa,#2b2bfa,#2020f8,#2f2ffa,#5555f9,#7070f8,#9999fa,#8a8af9,#7474f8,#6363f9,#7474f8,#8282f9,#8080f9,#6e6ef8,#7171f8,#7171f8,#7070f8,#7272f8,#7878f8,#7a7af8,#7d7df8,#8484f9,#8888f9,#8181f9,#7979f8,#7676f8,#6e6ef8,#6969f8,#6666f9,#7070f8,#8e8ef9,#8c8cf9,#6868f9,#1818f5,#1010f2,#2f2ff9,#6565f9,#b8b8fb,#a0a0fa,#6f6ff8,#7171f8,#9999fa,#7777f8,#4e4efa,#5454f9,#8181f9,#7272f8,#5959f9,#6363f9,#8f8ff9,#8585f9,#6464f9,#7373f8,#8b8bf9,#8787f9,#6e6ef8,#5b5bf9,#6e6ef8,#8181f9,#7474f8,#5353f9,#5858f9,#7a7af8,#8686f9,#7373f8,#5e5ef9,#6969f8,#7d7df8,#7d7df8,#6a6af8,#6c6cf8,#8f8ff9,#9292f9,#6c6cf8,#4d4dfa,#1b1bf7,#1616f5,#4141fa,#6969f8,#6464f9,#6969f8,#8484f9);left:60px;width:440px"></div>
<div style="top:313px;background:linear-gradient(90deg,#6e6ef8,#6161f9,#5959f9,#6464f9,#7f7ff9,#5f5ff9,#4949fa,#3a3afa,#3030fa,#2020f8,#4545fa,#6d6df8,#8c8cf9,#7d7df8,#6969f8,#5757f9,#5656f9,#5a5af9,#5454f9,#6262f9,#5757f9,#4747fa,#4646fa,#7070f8,#7575f8,#5555f9,#3c3cfa,#2727f9,#3131fa,#5b5bf9,#4d4dfa,#4646fa,#3d3dfa,#3838fa,#3737fa,#3636fa,#3434fa,#2525f9,#2e2efa,#4646fa,#4444fa,#2b2bfa,#2727f9,#2d2dfa,#2f2ffa,#2d2dfa,#2d2dfa,#3737fa,#3d3dfa,#3434fa,#2a2afa,#2828f9,#2626f9,#2929fa,#3636fa,#3636fa,#2828fa,#2727f9,#3333fa,#3333fa,#2626f9,#2525f9,#3030fa,#3434fa,#2828fa,#2525f9,#2c2cfa,#3232fa,#2828f9,#2626f9,#2b2bfa,#3030fa,#3737fa,#3c3cfa,#4646fa,#4a4afa,#4444fa,#3b3bfa,#3232fa,#3030fa,#2f2ffa,#3434fa,#4747fa,#3838fa,#3c3cfa,#3e3efa,#3f3ffa,#3f3ffa,#4141fa,#5858f9,#4c4cfa,#3030fa,#3030fa,#3030fa,#3232fa,#5151fa,#5e5ef9,#3232fa,#2a2afa,#2828fa,#1e1ef7,#1717f6,#1515f5,#1313f4,#1212f3,#1212f3,#1313f4,#1313f5,#1919f6,#2424f9,#2e2efa,#4242fa,#4444fa,#4444fa,#4242fa,#3f3ffa,#4343fa,#4d4dfa,#6262f9,#5151fa,#7575f9,#7979f9,#5050fa,#3939fa,#5656f9,#6b6bf8,#6060f9,#5a5af9,#7474f8,#8484f9,#7575f8,#6c6cf8,#6161f9,#6161f9,#5d5df9,#5959f9,#5757f9,#6a6af8,#5353f9,#4b4bfa,#2929fa,#1f1ff8,#2f2ffa,#5555f9,#6d6df8,#9595f9,#8c8cf9,#7676f8,#6161f9,#7272f8,#8181f9,#8181f9,#6e6ef8,#7070f8,#7272f8,#7070f8,#7272f8,#7777f8,#7979f8,#7b7bf8,#8282f9,#8787f9,#8282f9,#7979f8,#7676f8,#6f6ff8,#6a6af8,#6666f9,#7070f8,#8787f9,#9393f9,#6c6cf8,#1f1ff7,#0e0ef0,#2727f9,#6060f9,#b0b0fb,#aaaafb,#7676f8,#6c6cf8,#9797fa,#7f7ff9,#5656f9,#4f4ffa,#7979f8,#7878f8,#5b5bf9,#6060f9,#8c8cf9,#8989f9,#6666f9,#7070f8,#8989f9,#8989f9,#7070f8,#5b5bf9,#6b6bf8,#8080f9,#7777f8,#5656f9,#5555f9,#7878f8,#8787f9,#7676f8,#5f5ff9,#6868f9,#7c7cf8,#7f7ff9,#6c6cf8,#6969f8,#8c8cf9,#9494f9,#6f6ff8,#5252f9,#1e1ef7,#1313f4,#3b3bfa,#6767f9,#6969f8,#6969f8,#8383f9);left:60px;width:440px"></div>
<div style="top:314px;background:linear-gradient(90deg,#7171f8,#6464f9,#5858f9,#6363f9,#7b7bf8,#6666f9,#4f4ffa,#3d3dfa,#3535fa,#1e1ef7,#3f3ffa,#6c6cf8,#8787f9,#8484f9,#6666f9,#5d5df9,#5454f9,#5c5cf9,#5353f9,#6464f9,#5a5af9,#4949fa,#4747fa,#7070f8,#7777f8,#5656f9,#3e3efa,#2828fa,#3232fa,#5c5cf9,#4f4ffa,#4747fa,#3e3efa,#3939fa,#3838fa,#3636fa,#3434fa,#2525f9,#2d2dfa,#4747fa,#4545fa,#2d2dfa,#2828f9,#2e2efa,#3030fa,#2e2efa,#2d2dfa,#3737fa,#3e3efa,#3535fa,#2b2bfa,#2929fa,#2727f9,#2a2afa,#3737fa,#3737fa,#2929fa,#2828fa,#3434fa,#3434fa,#2727f9,#2626f9,#3131fa,#3535fa,#2929fa,#2626f9,#2e2efa,#3333fa,#2929fa,#2727f9,#2c2cfa,#3131fa,#3838fa,#3d3dfa,#4747fa,#4b4bfa,#4545fa,#3c3cfa,#3333fa,#3030fa,#2f2ffa,#3535fa,#4848fa,#3838fa,#3d3dfa,#3f3ffa,#3f3ffa,#3f3ffa,#4141fa,#5959f9,#4d4dfa,#3131fa,#3131fa,#3131fa,#3333fa,#5252f9,#5e5ef9,#3333fa,#2b2bfa,#2929fa,#1e1ef7,#1818f6,#1616f5,#1313f5,#1212f4,#1212f4,#1313f4,#1414f5,#1919f6,#2525f9,#3030fa,#4444fa,#4646fa,#4646fa,#4343fa,#4040fa,#4444fa,#4d4dfa,#6363f9,#5151fa,#7575f8,#7979f9,#4f4ffa,#3939fa,#5454f9,#6a6af8,#5e5ef9,#5858f9,#7272f8,#8383f9,#7474f8,#6a6af8,#6060f9,#6060f9,#5d5df9,#5a5af9,#5858f9,#6a6af8,#5151f9,#4949fa,#2727f9,#1f1ff7,#2e2efa,#5555f9,#6c6cf8,#9090f9,#8e8ef9,#7777f8,#6161f9,#7070f8,#7f7ff9,#8282f9,#6f6ff8,#6f6ff8,#7272f8,#7070f8,#7171f8,#7676f8,#7979f8,#7a7af8,#8181f9,#8686f9,#8282f9,#7979f8,#7575f8,#7070f8,#6b6bf8,#6767f9,#6f6ff8,#8080f9,#9999fa,#7070f8,#2828f8,#0d0def,#2020f8,#5b5bf9,#a6a6fa,#b3b3fb,#7c7cf8,#6868f8,#9393f9,#8787f9,#5e5ef9,#4a4afa,#7070f8,#7d7df8,#5d5df9,#5f5ff9,#8787f9,#8d8df9,#6a6af8,#6c6cf8,#8787f9,#8a8af9,#7373f8,#5c5cf9,#6969f8,#8080f9,#7979f8,#5959f9,#5353f9,#7676f8,#8686f9,#7979f8,#6161f9,#6666f9,#7b7bf8,#8181f9,#6e6ef8,#6767f9,#8888f9,#9696fa,#7272f8,#5757f9,#2121f8,#1212f3,#3535fa,#6464f9,#6d6df8,#6a6af8,#8080f9);left:60px;width:440px"></div>
<div style="top:315px;background:linear-gradient(90deg,#7373f8,#6767f9,#5757f9,#6262f9,#7676f8,#6e6ef8,#5454f9,#4040fa,#3838fa,#1f1ff7,#3a3afa,#6969f8,#8282f9,#8a8af9,#6464f9,#6464f9,#5353f9,#5d5df9,#5353f9,#6666f9,#5e5ef9,#4c4cfa,#4848fa,#7070f8,#7878f8,#5757f9,#4040fa,#2929fa,#3333fa,#5d5df9,#5050fa,#4747fa,#3f3ffa,#3a3afa,#3939fa,#3737fa,#3535fa,#2525f9,#2d2dfa,#4747fa,#4646fa,#2e2efa,#2828fa,#2f2ffa,#3131fa,#2f2ffa,#2e2efa,#3838fa,#3f3ffa,#3636fa,#2c2cfa,#2a2afa,#2828fa,#2b2bfa,#3838fa,#3838fa,#2a2afa,#2929fa,#3636fa,#3636fa,#2828f9,#2727f9,#3232fa,#3636fa,#2a2afa,#2727f9,#2f2ffa,#3434fa,#2a2afa,#2828fa,#2d2dfa,#3232fa,#3838fa,#3e3efa,#4848fa,#4c4cfa,#4646fa,#3d3dfa,#3333fa,#3131fa,#3030fa,#3636fa,#4a4afa,#3939fa,#3d3dfa,#4040fa,#4040fa,#4040fa,#4242fa,#5959f9,#4e4efa,#3232fa,#3232fa,#3232fa,#3434fa,#5252f9,#5f5ff9,#3434fa,#2c2cfa,#2a2afa,#1f1ff8,#1818f6,#1616f6,#1414f5,#1313f4,#1313f4,#1313f4,#1414f5,#1a1af6,#2626f9,#3131fa,#4646fa,#4747fa,#4747fa,#4545fa,#4242fa,#4545fa,#4d4dfa,#6363f9,#5151fa,#7575f8,#7979f9,#4e4efa,#3838fa,#5252f9,#6969f8,#5d5df9,#5656f9,#7070f8,#8282f9,#7272f8,#6969f8,#5e5ef9,#5f5ff9,#5d5df9,#5b5bf9,#5a5af9,#6b6bf8,#5050fa,#4646fa,#2525f9,#1e1ef7,#2d2dfa,#5555f9,#6b6bf8,#8c8cf9,#8e8ef9,#7878f8,#6262f9,#6d6df8,#7d7df8,#8383f9,#7070f8,#6e6ef8,#7272f8,#7070f8,#7171f8,#7575f8,#7878f8,#7979f8,#7f7ff9,#8686f9,#8383f9,#7a7af8,#7575f8,#7070f8,#6d6df8,#6767f9,#6f6ff8,#7a7af8,#9f9ffa,#7474f8,#3333f9,#0c0cee,#1b1bf7,#5656f9,#9b9bfa,#babafb,#8282f9,#6565f9,#8e8ef9,#8f8ff9,#6565f9,#4545fa,#6666f9,#8282f9,#6161f9,#5f5ff9,#8181f9,#9191f9,#6e6ef8,#6969f8,#8585f9,#8b8bf9,#7575f8,#5c5cf9,#6767f9,#7f7ff9,#7c7cf8,#5c5cf9,#5252f9,#7373f8,#8686f9,#7c7cf8,#6262f9,#6464f9,#7979f8,#8282f9,#7070f8,#6666f9,#8383f9,#9898fa,#7676f8,#5b5bf9,#2525f9,#1111f3,#3030fa,#6060f9,#7171f8,#6a6af8,#7d7df8);left:60px;width:440px"></div>
<div style="top:316px;background:linear-gradient(90deg,#7676f8,#6a6af8,#5757f9,#6060f9,#7070f8,#7777f8,#5a5af9,#4242fa,#3b3bfa,#2121f8,#3535fa,#6565f9,#7d7df8,#8e8ef9,#6565f9,#6b6bf8,#5252f9,#5d5df9,#5353f9,#6868f8,#6161f9,#4e4efa,#4848fa,#7070f8,#7979f8,#5858f9,#4242fa,#2a2afa,#3434fa,#5e5ef9,#5151f9,#4848fa,#4040fa,#3a3afa,#3939fa,#3838fa,#3636fa,#2525f9,#2c2cfa,#4747fa,#4747fa,#3030fa,#2929fa,#3030fa,#3232fa,#3030fa,#2e2efa,#3939fa,#4040fa,#3737fa,#2d2dfa,#2b2bfa,#2929fa,#2c2cfa,#3939fa,#3a3afa,#2c2cfa,#2a2afa,#3737fa,#3737fa,#2929fa,#2828f9,#3333fa,#3737fa,#2a2afa,#2828fa,#3030fa,#3535fa,#2b2bfa,#2929fa,#2e2efa,#3333fa,#3939fa,#3e3efa,#4848fa,#4d4dfa,#4747fa,#3e3efa,#3434fa,#3232fa,#3131fa,#3737fa,#4c4cfa,#3a3afa,#3e3efa,#4040fa,#4040fa,#4040fa,#4242fa,#5a5af9,#4e4efa,#3333fa,#3333fa,#3333fa,#3535fa,#5353f9,#5f5ff9,#3434fa,#2d2dfa,#2b2bfa,#2020f8,#1919f6,#1717f6,#1414f5,#1313f4,#1313f4,#1414f5,#1515f5,#1a1af6,#2727f9,#3232fa,#4747fa,#4848fa,#4848fa,#4646fa,#4343fa,#4646fa,#4d4dfa,#6464f9,#5151fa,#7575f8,#7979f9,#4d4dfa,#3838fa,#5050fa,#6868f8,#5c5cf9,#5454f9,#6f6ff8,#8181f9,#7171f8,#6868f8,#5d5df9,#5e5ef9,#5d5df9,#5b5bf9,#5b5bf9,#6b6bf8,#4f4ffa,#4444fa,#2323f8,#1e1ef7,#2c2cfa,#5555f9,#6a6af8,#8989f9,#8e8ef9,#7878f8,#6464f9,#6b6bf8,#7a7af8,#8383f9,#7171f8,#6c6cf8,#7272f8,#7070f8,#7070f8,#7474f8,#7777f8,#7878f8,#7e7ef8,#8585f9,#8383f9,#7a7af8,#7575f8,#7171f8,#6d6df8,#6868f8,#6e6ef8,#7676f8,#a2a2fa,#7777f8,#3e3efa,#0b0bed,#1717f6,#5252f9,#9090f9,#bebefc,#8787f9,#6363f9,#8888f9,#9595f9,#6a6af8,#4141fa,#5e5ef9,#8686f9,#6565f9,#6060f9,#7b7bf8,#9494f9,#7474f8,#6666f9,#8282f9,#8d8df9,#7777f8,#5d5df9,#6565f9,#7d7df8,#7e7ef8,#6060f9,#5050fa,#7070f8,#8686f9,#7f7ff9,#6464f9,#6363f9,#7777f8,#8383f9,#7373f8,#6565f9,#7f7ff9,#9898fa,#7a7af8,#5e5ef9,#2929f9,#1111f2,#2d2dfa,#5a5af9,#7373f8,#6b6bf8,#7b7bf8);left:60px;width:440px"></div>
<div style="top:317px;background:linear-gradient(90deg,#7979f8,#6b6bf8,#5959f9,#5f5ff9,#6b6bf8,#7f7ff9,#5e5ef9,#4646fa,#3d3dfa,#2525f9,#3131fa,#5f5ff9,#7878f8,#8f8ff9,#6a6af8,#7171f8,#5151fa,#5d5df9,#5454f9,#6a6af8,#6565f9,#5151fa,#4949fa,#7070f8,#7a7af8,#5959f9,#4343fa,#2b2bfa,#3535fa,#5f5ff9,#5353f9,#4949fa,#4141fa,#3b3bfa,#3a3afa,#3838fa,#3636fa,#2525f9,#2c2cfa,#4848fa,#4848fa,#3232fa,#2a2afa,#3131fa,#3333fa,#3131fa,#2f2ffa,#3939fa,#4040fa,#3838fa,#2e2efa,#2c2cfa,#2a2afa,#2d2dfa,#3b3bfa,#3b3bfa,#2d2dfa,#2c2cfa,#3838fa,#3838fa,#2a2afa,#2929fa,#3434fa,#3838fa,#2b2bfa,#2929fa,#3232fa,#3737fa,#2c2cfa,#2a2afa,#2f2ffa,#3434fa,#3a3afa,#3f3ffa,#4949fa,#4e4efa,#4848fa,#3f3ffa,#3434fa,#3232fa,#3232fa,#3838fa,#4d4dfa,#3b3bfa,#3e3efa,#4141fa,#4141fa,#4141fa,#4343fa,#5a5af9,#4f4ffa,#3434fa,#3434fa,#3434fa,#3636fa,#5454f9,#6060f9,#3535fa,#2e2efa,#2c2cfa,#2121f8,#1919f6,#1818f6,#1515f5,#1313f4,#1313f5,#1414f5,#1616f5,#1b1bf7,#2828f9,#3434fa,#4848fa,#4949fa,#4949fa,#4848fa,#4444fa,#4747fa,#4d4dfa,#6464f9,#5151fa,#7575f8,#7979f9,#4c4cfa,#3737fa,#4e4efa,#6767f9,#5a5af9,#5252f9,#6d6df8,#8080f9,#7070f8,#6666f9,#5c5cf9,#5d5df9,#5d5df9,#5c5cf9,#5c5cf9,#6b6bf8,#4e4efa,#4141fa,#2121f8,#1d1df7,#2c2cfa,#5555f9,#6a6af8,#8686f9,#8d8df9,#7979f8,#6666f9,#6868f8,#7878f8,#8383f9,#7373f8,#6b6bf8,#7171f8,#7070f8,#7070f8,#7373f8,#7676f8,#7777f8,#7c7cf8,#8383f9,#8383f9,#7b7bf8,#7474f8,#7272f8,#6e6ef8,#6a6af8,#6e6ef8,#7272f8,#a4a4fa,#7b7bf8,#4a4afa,#0b0bed,#1414f5,#4c4cfa,#8484f9,#c1c1fc,#8c8cf9,#6363f9,#8383f9,#9999fa,#6f6ff8,#3f3ffa,#5656f9,#8787f9,#6a6af8,#6161f9,#7474f8,#9696fa,#7979f8,#6565f9,#7e7ef9,#8e8ef9,#7979f8,#5e5ef9,#6363f9,#7c7cf8,#8080f9,#6363f9,#5050fa,#6c6cf8,#8686f9,#8181f9,#6767f9,#6262f9,#7575f8,#8484f9,#7676f8,#6565f9,#7b7bf8,#9898fa,#7e7ef9,#6161f9,#2f2ffa,#1111f3,#2929f9,#5454f9,#7373f8,#6d6df8,#7878f8);left:60px;width:440px"></div>
<div style="top:318px;background:linear-gradient(90deg,#7a7af8,#6d6df8,#5b5bf9,#5d5df9,#6767f9,#8484f9,#6262f9,#4949fa,#4040fa,#2b2bf9,#2c2cf9,#5757f9,#7575f8,#8f8ff9,#7171f8,#7474f8,#5151fa,#5b5bf9,#5454f9,#6c6cf8,#6969f8,#5454f9,#4a4afa,#7070f8,#7b7bf8,#5a5af9,#4545fa,#2c2cfa,#3636fa,#6060f9,#5454f9,#4949fa,#4242fa,#3c3cfa,#3b3bfa,#3939fa,#3737fa,#2525f9,#2b2bfa,#4848fa,#4949fa,#3434fa,#2b2bfa,#3131fa,#3434fa,#3131fa,#3030fa,#3a3afa,#4141fa,#3939fa,#2f2ffa,#2d2dfa,#2b2bfa,#2e2efa,#3c3cfa,#3c3cfa,#2e2efa,#2d2dfa,#3939fa,#3939fa,#2b2bfa,#2a2afa,#3636fa,#3a3afa,#2c2cfa,#2a2afa,#3333fa,#3838fa,#2d2dfa,#2b2bfa,#3030fa,#3434fa,#3b3bfa,#4040fa,#4a4afa,#4f4ffa,#4949fa,#4040fa,#3535fa,#3333fa,#3333fa,#3939fa,#4f4ffa,#3c3cfa,#3f3ffa,#4141fa,#4242fa,#4242fa,#4343fa,#5b5bf9,#5050fa,#3636fa,#3535fa,#3535fa,#3737fa,#5555f9,#6060f9,#3636fa,#2f2ffa,#2d2dfa,#2222f8,#1a1af6,#1818f6,#1515f5,#1414f5,#1414f5,#1515f5,#1616f6,#1c1cf7,#2929fa,#3535fa,#4a4afa,#4b4bfa,#4b4bfa,#4949fa,#4646fa,#4848fa,#4d4dfa,#6565f9,#5151fa,#7575f8,#7a7af9,#4b4bfa,#3737fa,#4c4cfa,#6666f9,#5959f9,#5050fa,#6b6bf8,#7f7ff9,#6f6ff8,#6565f9,#5a5af9,#5c5cf9,#5d5df9,#5d5df9,#5d5df9,#6b6bf8,#4d4dfa,#3e3efa,#2020f8,#1c1cf7,#2b2bfa,#5555f9,#6969f8,#8484f9,#8c8cf9,#7a7af8,#6969f8,#6666f9,#7676f8,#8282f9,#7575f8,#6a6af8,#7171f8,#7171f8,#7070f8,#7272f8,#7575f8,#7676f8,#7a7af8,#8282f9,#8383f9,#7b7bf8,#7474f8,#7272f8,#6e6ef8,#6b6bf8,#6d6df8,#7171f8,#a2a2fa,#8181f9,#5555f9,#0c0cee,#1212f3,#4444fa,#7878f9,#c0c0fc,#9292f9,#6565f9,#7d7df8,#9b9bfa,#7474f8,#4040fa,#5050fa,#8787f9,#6e6ef8,#6262f9,#6d6df8,#9696fa,#7f7ff9,#6464f9,#7b7bf8,#8e8ef9,#7b7bf8,#6060f9,#6161f9,#7a7af8,#8282f9,#6767f9,#5050fa,#6868f8,#8686f9,#8383f9,#6969f8,#6161f9,#7373f8,#8484f9,#7979f8,#6565f9,#7777f8,#9797fa,#8383f9,#6363f9,#3636fa,#1212f3,#2424f9,#4e4efa,#7171f8,#6e6ef8,#7777f8);left:60px;width:440px"></div>
<div style="top:319px;background:linear-gradient(90deg,#7b7bf8,#6e6ef8,#5e5ef9,#5b5bf9,#6565f9,#8686f9,#6666f9,#4d4dfa,#4343fa,#3131fa,#2727f9,#4f4ffa,#7272f8,#8c8cf9,#7a7af8,#7373f8,#5353f9,#5a5af9,#5555f9,#6d6df8,#6d6df8,#5656f9,#4b4bfa,#7070f8,#7c7cf8,#5b5bf9,#4747fa,#2e2efa,#3636fa,#6161f9,#5656f9,#4a4afa,#4343fa,#3d3dfa,#3b3bfa,#3939fa,#3838fa,#2525f9,#2b2bfa,#4848fa,#4a4afa,#3535fa,#2c2cfa,#3232fa,#3535fa,#3232fa,#3030fa,#3a3afa,#4242fa,#3a3afa,#3131fa,#2e2efa,#2c2cfa,#3030fa,#3d3dfa,#3d3dfa,#2f2ffa,#2e2efa,#3b3bfa,#3a3afa,#2c2cfa,#2b2bfa,#3737fa,#3b3bfa,#2d2dfa,#2b2bfa,#3434fa,#3939fa,#2e2efa,#2c2cfa,#3131fa,#3535fa,#3c3cfa,#4040fa,#4b4bfa,#5050fa,#4949fa,#4141fa,#3535fa,#3434fa,#3434fa,#3a3afa,#5050fa,#3d3dfa,#4040fa,#4242fa,#4242fa,#4242fa,#4444fa,#5c5cf9,#5151fa,#3737fa,#3737fa,#3737fa,#3838fa,#5555f9,#6161f9,#3636fa,#3030fa,#2e2efa,#2323f8,#1a1af6,#1919f6,#1616f5,#1414f5,#1414f5,#1616f5,#1717f6,#1c1cf7,#2a2afa,#3737fa,#4b4bfa,#4c4cfa,#4c4cfa,#4a4afa,#4747fa,#4848fa,#4e4efa,#6565f9,#5151fa,#7575f8,#7a7af9,#4a4afa,#3636fa,#4a4afa,#6565f9,#5858f9,#4e4efa,#6969f8,#7e7ef8,#6e6ef8,#6464f9,#5959f9,#5b5bf9,#5d5df9,#5d5df9,#5e5ef9,#6b6bf8,#4c4cfa,#3b3bfa,#1e1ef7,#1b1bf7,#2b2bfa,#5555f9,#6868f8,#8484f9,#8c8cf9,#7b7bf8,#6b6bf8,#6363f9,#7373f8,#8181f9,#7777f8,#6969f8,#7070f8,#7171f8,#7070f8,#7272f8,#7474f8,#7575f8,#7979f8,#8181f9,#8383f9,#7c7cf8,#7474f8,#7272f8,#6f6ff8,#6c6cf8,#6d6df8,#7070f8,#9f9ffa,#8888f9,#5e5ef9,#0e0ef0,#1111f2,#3a3afa,#6d6df9,#bdbdfc,#9999fa,#6969f8,#7777f8,#9b9bfa,#7b7bf8,#4646fa,#4b4bfa,#8383f9,#7373f8,#6464f9,#6868f8,#9696fa,#8585f9,#6565f9,#7777f8,#8e8ef9,#7e7ef8,#6161f9,#6060f9,#7878f8,#8383f9,#6a6af8,#5050fa,#6565f9,#8686f9,#8686f9,#6c6cf8,#6060f9,#7171f8,#8383f9,#7b7bf8,#6666f9,#7373f8,#9595fa,#8787f9,#6565f9,#3d3dfa,#1212f4,#2020f8,#4848fa,#6e6ef8,#7171f8,#7676f8);left:60px;width:440px"></div>
<div style="top:320px;background:linear-gradient(90deg,#7a7af8,#7070f8,#6262f9,#5959f9,#6464f9,#8484f9,#6b6bf8,#5353f9,#4545fa,#3838fa,#2323f8,#4747fa,#7070f8,#8989f9,#8282f9,#6f6ff8,#5858f9,#5858f9,#5757f9,#6e6ef8,#7171f8,#5959f9,#4c4cfa,#7171f8,#7e7ef8,#5c5cf9,#4848fa,#2f2ffa,#3737fa,#6262f9,#5757f9,#4b4bfa,#4444fa,#3d3dfa,#3c3cfa,#3a3afa,#3838fa,#2525f9,#2a2afa,#4848fa,#4b4bfa,#3737fa,#2d2dfa,#3333fa,#3636fa,#3333fa,#3131fa,#3b3bfa,#4343fa,#3b3bfa,#3232fa,#3030fa,#2e2efa,#3131fa,#3e3efa,#3e3efa,#3131fa,#3030fa,#3c3cfa,#3c3cfa,#2d2dfa,#2c2cfa,#3838fa,#3c3cfa,#2e2efa,#2c2cfa,#3636fa,#3a3afa,#2f2ffa,#2d2dfa,#3232fa,#3636fa,#3c3cfa,#4141fa,#4b4bfa,#5151fa,#4a4afa,#4242fa,#3636fa,#3434fa,#3535fa,#3b3bfa,#5252f9,#3e3efa,#4040fa,#4343fa,#4343fa,#4343fa,#4444fa,#5c5cf9,#5252f9,#3838fa,#3838fa,#3838fa,#3939fa,#5656f9,#6161f9,#3737fa,#3131fa,#3030fa,#2424f9,#1b1bf7,#1919f6,#1616f6,#1515f5,#1515f5,#1616f6,#1818f6,#1d1df7,#2b2bfa,#3838fa,#4c4cfa,#4d4dfa,#4d4dfa,#4b4bfa,#4848fa,#4949fa,#4e4efa,#6666f9,#5050fa,#7575f8,#7a7af9,#4848fa,#3636fa,#4848fa,#6464f9,#5757f9,#4d4dfa,#6767f9,#7d7df8,#6d6df8,#6363f9,#5858f9,#5a5af9,#5d5df9,#5e5ef9,#5f5ff9,#6c6cf8,#4c4cfa,#3939fa,#1c1cf7,#1a1af6,#2a2afa,#5555f9,#6767f9,#8383f9,#8d8df9,#7d7df8,#6d6df8,#6262f9,#7171f8,#8080f9,#7979f8,#6868f8,#6f6ff8,#7171f8,#7070f8,#7171f8,#7373f8,#7474f8,#7777f8,#7f7ff9,#8383f9,#7c7cf8,#7474f8,#7272f8,#6f6ff8,#6d6df8,#6c6cf8,#7070f8,#9898fa,#9090f9,#6666f9,#1212f2,#0f0ff1,#3131f9,#6464f9,#b7b7fb,#a0a0fa,#6f6ff8,#7272f8,#9a9afa,#8282f9,#5050f9,#4646fa,#7b7bf9,#7979f8,#6666f9,#6464f9,#9393f9,#8b8bf9,#6767f9,#7373f8,#8e8ef9,#8080f9,#6363f9,#5e5ef9,#7676f8,#8484f9,#6e6ef8,#5151f9,#6161f9,#8585f9,#8787f9,#6f6ff8,#6060f9,#6f6ff8,#8383f9,#7e7ef8,#6868f8,#7070f8,#9292f9,#8b8bf9,#6767f9,#4444fa,#1414f4,#1d1df7,#4242fa,#6969f8,#7474f8,#7777f8);left:60px;width:440px"></div>
<div style="top:321px;background:linear-gradient(90deg,#7979f8,#7272f8,#6565f9,#5858f9,#6262f9,#7f7ff9,#7272f8,#5959f9,#4848fa,#3e3efa,#2121f8,#4141fa,#6f6ff8,#8585f9,#8888f9,#6a6af8,#5f5ff9,#5656f9,#5858f9,#6f6ff8,#7575f8,#5b5bf9,#4c4cfa,#7171f8,#7f7ff9,#5d5df9,#4a4afa,#3030fa,#3838fa,#6363f9,#5959f9,#4c4cfa,#4545fa,#3e3efa,#3d3dfa,#3b3bfa,#3939fa,#2626f9,#2a2afa,#4848fa,#4c4cfa,#3939fa,#2e2efa,#3434fa,#3737fa,#3434fa,#3131fa,#3c3cfa,#4444fa,#3c3cfa,#3333fa,#3131fa,#2f2ffa,#3232fa,#4040fa,#4040fa,#3232fa,#3131fa,#3d3dfa,#3d3dfa,#2e2efa,#2d2dfa,#3939fa,#3d3dfa,#2f2ffa,#2d2dfa,#3737fa,#3b3bfa,#3030fa,#2e2efa,#3333fa,#3737fa,#3d3dfa,#4242fa,#4c4cfa,#5252f9,#4b4bfa,#4343fa,#3636fa,#3535fa,#3636fa,#3c3cfa,#5353f9,#3e3efa,#4141fa,#4343fa,#4343fa,#4343fa,#4545fa,#5d5df9,#5252f9,#3939fa,#3939fa,#3939fa,#3a3afa,#5757f9,#6262f9,#3737fa,#3232fa,#3131fa,#2525f9,#1c1cf7,#1a1af6,#1717f6,#1515f5,#1616f5,#1717f6,#1919f6,#1d1df7,#2c2cfa,#3939fa,#4e4efa,#4e4efa,#4e4efa,#4d4dfa,#4949fa,#4a4afa,#4e4efa,#6666f9,#5050fa,#7575f8,#7b7bf9,#4747fa,#3535fa,#4646fa,#6363f9,#5656f9,#4b4bfa,#6565f9,#7c7cf8,#6b6bf8,#6161f9,#5656f9,#5959f9,#5d5df9,#5e5ef9,#6161f9,#6c6cf8,#4b4bfa,#3636fa,#1a1af6,#1919f6,#2a2afa,#5555f9,#6666f9,#8383f9,#8e8ef9,#7e7ef8,#6f6ff8,#6161f9,#6e6ef8,#7e7ef9,#7b7bf8,#6868f8,#6e6ef8,#7171f8,#7070f8,#7171f8,#7373f8,#7373f8,#7575f8,#7e7ef8,#8282f9,#7d7df8,#7474f8,#7272f8,#6f6ff8,#6e6ef8,#6d6df8,#7070f8,#9090f9,#9797fa,#6d6df8,#1818f4,#0d0def,#2727f8,#5d5df9,#b0b0fb,#a8a8fa,#7777f8,#6d6df8,#9797fa,#8989f9,#5c5cf9,#4141fa,#7070f9,#7e7ef8,#6969f8,#6262f9,#8f8ff9,#9090f9,#6a6af8,#6f6ff8,#8c8cf9,#8383f9,#6464f9,#5d5df9,#7474f8,#8585f9,#7272f8,#5353f9,#5e5ef9,#8383f9,#8989f9,#7272f8,#6060f9,#6d6df8,#8181f9,#8080f9,#6a6af8,#6c6cf8,#8f8ff9,#8f8ff9,#6969f8,#4a4afa,#1515f5,#1919f6,#3e3efa,#6464f9,#7777f8,#7878f8);left:60px;width:440px"></div>
<div style="top:322px;background:linear-gradient(90deg,#7676f8,#7676f8,#6868f8,#5858f9,#6161f9,#7878f8,#7a7af8,#5f5ff9,#4a4afa,#4242fa,#2121f8,#3c3cfa,#6d6df8,#8181f9,#8d8df9,#6767f9,#6767f9,#5454f9,#5959f9,#7070f8,#7878f8,#5e5ef9,#4d4dfa,#7171f8,#8080f9,#5d5df9,#4b4bfa,#3131fa,#3939fa,#6363f9,#5a5af9,#4c4cfa,#4646fa,#3f3ffa,#3d3dfa,#3b3bfa,#3939fa,#2626f9,#2929f9,#4949fa,#4d4dfa,#3b3bfa,#2f2ffa,#3535fa,#3838fa,#3535fa,#3232fa,#3c3cfa,#4545fa,#3d3dfa,#3434fa,#3232fa,#3030fa,#3333fa,#4141fa,#4141fa,#3333fa,#3232fa,#3e3efa,#3e3efa,#3030fa,#2e2efa,#3a3afa,#3e3efa,#3131fa,#2e2efa,#3838fa,#3d3dfa,#3131fa,#3030fa,#3434fa,#3838fa,#3e3efa,#4242fa,#4d4dfa,#5353f9,#4c4cfa,#4444fa,#3737fa,#3636fa,#3737fa,#3d3dfa,#5555f9,#3f3ffa,#4242fa,#4444fa,#4444fa,#4444fa,#4545fa,#5e5ef9,#5353f9,#3a3afa,#3a3afa,#3a3afa,#3b3bfa,#5858f9,#6363f9,#3838fa,#3333fa,#3232fa,#2525f9,#1c1cf7,#1a1af6,#1818f6,#1616f5,#1616f6,#1818f6,#1919f6,#1e1ef7,#2d2dfa,#3b3bfa,#4f4ffa,#5050fa,#5050fa,#4e4efa,#4a4afa,#4b4bfa,#4e4efa,#6767f9,#5050fa,#7575f8,#7b7bf9,#4646fa,#3535fa,#4444fa,#6262f9,#5454f9,#4949fa,#6363f9,#7b7bf8,#6a6af8,#6060f9,#5555f9,#5858f9,#5d5df9,#5f5ff9,#6262f9,#6c6cf8,#4a4afa,#3333fa,#1818f6,#1818f6,#2a2afa,#5555f9,#6666f9,#8383f9,#9090f9,#8080f9,#7070f8,#6161f9,#6c6cf8,#7d7df8,#7d7df8,#6868f8,#6d6df8,#7070f8,#7070f8,#7070f8,#7272f8,#7373f8,#7474f8,#7c7cf8,#8282f9,#7d7df8,#7474f8,#7272f8,#7070f8,#6e6ef8,#6d6df8,#7070f8,#8888f9,#9f9ffa,#7272f8,#2020f7,#0c0cee,#1f1ff7,#5757f9,#a7a7fa,#b0b0fb,#7f7ff9,#6868f8,#9393f9,#9090f9,#6666f9,#3c3cfa,#6464f9,#8383f9,#6d6df8,#6161f9,#8a8af9,#9595fa,#6e6ef8,#6c6cf8,#8a8af9,#8686f9,#6666f9,#5c5cf9,#7272f8,#8585f9,#7575f8,#5555f9,#5b5bf9,#8181f9,#8b8bf9,#7575f8,#6060f9,#6b6bf8,#8080f9,#8383f9,#6c6cf8,#6a6af8,#8c8cf9,#9292f9,#6c6cf8,#5050fa,#1818f5,#1717f5,#3a3afa,#5e5ef9,#7a7af8,#7979f8);left:60px;width:440px"></div>
<div style="top:323px;background:linear-gradient(90deg,#7373f8,#7979f8,#6a6af8,#5959f9,#5f5ff9,#7171f8,#8282f9,#6565f9,#4c4cfa,#4545fa,#2323f8,#3838fa,#6969f8,#7d7df8,#8f8ff9,#6868f8,#7070f8,#5353f9,#5a5af9,#7070f8,#7c7cf8,#6161f9,#4e4efa,#7171f8,#8181f9,#5e5ef9,#4d4dfa,#3333fa,#3a3afa,#6464f9,#5c5cf9,#4d4dfa,#4747fa,#4040fa,#3e3efa,#3c3cfa,#3a3afa,#2626f9,#2828f9,#4949fa,#4e4efa,#3d3dfa,#3030fa,#3636fa,#3939fa,#3636fa,#3333fa,#3d3dfa,#4646fa,#3e3efa,#3535fa,#3333fa,#3131fa,#3434fa,#4242fa,#4242fa,#3434fa,#3434fa,#4040fa,#3f3ffa,#3131fa,#3030fa,#3c3cfa,#4040fa,#3232fa,#3030fa,#3a3afa,#3e3efa,#3333fa,#3131fa,#3535fa,#3939fa,#3f3ffa,#4343fa,#4d4dfa,#5353f9,#4d4dfa,#4545fa,#3737fa,#3636fa,#3838fa,#3e3efa,#5757f9,#4040fa,#4242fa,#4444fa,#4545fa,#4545fa,#4646fa,#5e5ef9,#5454f9,#3c3cfa,#3b3bfa,#3b3bfa,#3c3cfa,#5858f9,#6464f9,#3838fa,#3535fa,#3333fa,#2626f9,#1d1df7,#1b1bf7,#1818f6,#1717f6,#1717f6,#1919f6,#1a1af6,#1e1ef7,#2e2efa,#3c3cfa,#5050fa,#5151fa,#5151fa,#4f4ffa,#4b4bfa,#4c4cfa,#4e4efa,#6767f9,#5050fa,#7575f8,#7c7cf9,#4444fa,#3434fa,#4242fa,#6161f9,#5353f9,#4747fa,#6262f9,#7a7af8,#6969f8,#5f5ff9,#5454f9,#5757f9,#5c5cf9,#5f5ff9,#6363f9,#6c6cf8,#4949fa,#3030fa,#1717f6,#1717f6,#2929fa,#5454f9,#6565f9,#8282f9,#9292f9,#8282f9,#7070f8,#6161f9,#6969f8,#7b7bf8,#7e7ef8,#6868f8,#6b6bf8,#7070f8,#7070f8,#7070f8,#7171f8,#7272f8,#7373f8,#7a7af8,#8181f9,#7e7ef8,#7575f8,#7171f8,#7070f8,#6f6ff8,#6e6ef8,#7070f8,#7f7ff9,#a5a5fa,#7676f8,#2a2af8,#0a0aed,#1919f6,#5353f9,#9c9cfa,#b6b6fb,#8787f9,#6565f9,#8e8ef9,#9696fa,#6f6ff8,#3838fa,#5757f9,#8888f9,#7070f8,#6161f9,#8383f9,#9999fa,#7373f8,#6969f8,#8888f9,#8888f9,#6969f8,#5b5bf9,#6f6ff8,#8585f9,#7878f8,#5757f9,#5858f9,#7e7ef8,#8c8cf9,#7878f8,#6161f9,#6969f8,#7f7ff9,#8585f9,#6f6ff8,#6767f9,#8888f9,#9494f9,#6f6ff8,#5555f9,#1b1bf6,#1515f5,#3737fa,#5757f9,#7c7cf8,#7b7bf8);left:60px;width:440px"></div>
<div style="top:324px;background:linear-gradient(90deg,#6f6ff8,#7c7cf8,#6c6cf8,#5a5af9,#5e5ef9,#6b6bf8,#8989f9,#6a6af8,#4f4ffa,#4747fa,#2828f9,#3434fa,#6464f9,#7979f8,#8e8ef9,#6d6df8,#7777f8,#5151f9,#5b5bf9,#7171f8,#8080f9,#6363f9,#4f4ffa,#7171f8,#8181f9,#5f5ff9,#4e4efa,#3434fa,#3b3bfa,#6565f9,#5d5df9,#4e4efa,#4747fa,#4040fa,#3f3ffa,#3c3cfa,#3b3bfa,#2626f9,#2828f9,#4949fa,#4f4ffa,#3f3ffa,#3131fa,#3737fa,#3a3afa,#3737fa,#3333fa,#3d3dfa,#4747fa,#3f3ffa,#3636fa,#3535fa,#3333fa,#3636fa,#4343fa,#4343fa,#3636fa,#3535fa,#4141fa,#4141fa,#3232fa,#3131fa,#3d3dfa,#4141fa,#3333fa,#3131fa,#3b3bfa,#3f3ffa,#3434fa,#3232fa,#3636fa,#3a3afa,#4040fa,#4444fa,#4e4efa,#5454f9,#4d4dfa,#4646fa,#3838fa,#3737fa,#3939fa,#3f3ffa,#5858f9,#4141fa,#4343fa,#4545fa,#4545fa,#4545fa,#4646fa,#5f5ff9,#5454f9,#3d3dfa,#3c3cfa,#3c3cfa,#3d3dfa,#5959f9,#6464f9,#3939fa,#3636fa,#3434fa,#2727f9,#1d1df7,#1c1cf7,#1919f6,#1717f6,#1818f6,#1919f6,#1b1bf7,#1f1ff8,#2f2ffa,#3d3dfa,#5252f9,#5252f9,#5252f9,#5050fa,#4c4cfa,#4d4dfa,#4f4ffa,#6868f9,#5050fa,#7575f8,#7c7cf9,#4343fa,#3434fa,#4040fa,#6060f9,#5252f9,#4444fa,#6060f9,#7979f8,#6868f8,#5e5ef9,#5252f9,#5656f9,#5c5cf9,#5f5ff9,#6464f9,#6d6df8,#4949fa,#2d2dfa,#1515f5,#1616f5,#2929fa,#5454f9,#6565f9,#8181f9,#9494f9,#8484f9,#7070f8,#6262f9,#6767f9,#7878f8,#7f7ff9,#6969f8,#6a6af8,#7070f8,#7070f8,#7070f8,#7171f8,#7171f8,#7272f8,#7878f8,#8080f9,#7e7ef8,#7575f8,#7171f8,#7070f8,#7070f8,#6f6ff8,#7070f8,#7878f8,#aaaafb,#7979f8,#3636f9,#0909ec,#1414f4,#4f4ffa,#9191f9,#bbbbfb,#8d8df9,#6363f9,#8989f9,#9b9bfa,#7676f8,#3434fa,#4c4cfa,#8c8cf9,#7474f8,#6363f9,#7c7cf8,#9c9cfa,#7979f8,#6666f9,#8484f9,#8b8bf9,#6b6bf8,#5a5af9,#6d6df8,#8484f9,#7c7cf8,#5a5af9,#5656f9,#7b7bf8,#8e8ef9,#7b7bf8,#6363f9,#6767f9,#7d7df8,#8686f9,#7171f8,#6666f9,#8484f9,#9696fa,#7272f8,#5a5af9,#1f1ff7,#1313f4,#3333fa,#5151fa,#7c7cf8,#7d7df8);left:60px;width:440px"></div>
<div style="top:325px;background:linear-gradient(90deg,#6a6af8,#7e7ef9,#6d6df8,#5d5df9,#5c5cf9,#6767f9,#8d8df9,#6e6ef8,#5252f9,#4a4afa,#2f2ffa,#2f2ffa,#5b5bf9,#7676f8,#8c8cf9,#7676f8,#7b7bf8,#5151fa,#5b5bf9,#7171f8,#8484f9,#6666f9,#5050fa,#7272f8,#8282f9,#6060f9,#5050fa,#3535fa,#3c3cfa,#6666f9,#5f5ff9,#4e4efa,#4848fa,#4141fa,#3f3ffa,#3d3dfa,#3b3bfa,#2626f9,#2727f9,#4949fa,#5050fa,#4141fa,#3333fa,#3838fa,#3b3bfa,#3838fa,#3434fa,#3e3efa,#4747fa,#4040fa,#3838fa,#3636fa,#3434fa,#3737fa,#4444fa,#4444fa,#3737fa,#3636fa,#4242fa,#4242fa,#3333fa,#3232fa,#3e3efa,#4242fa,#3434fa,#3232fa,#3d3dfa,#4040fa,#3535fa,#3333fa,#3737fa,#3b3bfa,#4040fa,#4444fa,#4f4ffa,#5555f9,#4e4efa,#4747fa,#3838fa,#3838fa,#3a3afa,#4040fa,#5a5af9,#4242fa,#4444fa,#4646fa,#4646fa,#4646fa,#4646fa,#6060f9,#5555f9,#3e3efa,#3d3dfa,#3d3dfa,#3e3efa,#5a5af9,#6565f9,#3939fa,#3737fa,#3535fa,#2828fa,#1e1ef7,#1c1cf7,#1919f6,#1818f6,#1818f6,#1a1af6,#1b1bf7,#2020f8,#3131fa,#3e3efa,#5353f9,#5353f9,#5353f9,#5252f9,#4e4efa,#4e4efa,#4f4ffa,#6868f8,#5050fa,#7676f8,#7d7df9,#4242fa,#3333fa,#3e3efa,#5f5ff9,#5151fa,#4242fa,#5e5ef9,#7878f8,#6767f9,#5c5cf9,#5151fa,#5555f9,#5c5cf9,#6060f9,#6565f9,#6d6df8,#4848fa,#2b2bfa,#1414f4,#1515f5,#2929fa,#5353f9,#6565f9,#8080f9,#9696fa,#8787f9,#7070f8,#6464f9,#6565f9,#7676f8,#7f7ff9,#6b6bf8,#6868f8,#7070f8,#7070f8,#7070f8,#7070f8,#7070f8,#7171f8,#7777f8,#7f7ff9,#7e7ef8,#7575f8,#7070f8,#7070f8,#7070f8,#7070f8,#7070f8,#7474f8,#adadfb,#7d7df8,#4242fa,#0909ec,#1111f3,#4a4afa,#8585f9,#bdbdfc,#9393f9,#6262f9,#8383f9,#9e9efa,#7b7bf8,#3333fa,#4343fa,#8d8df9,#7777f8,#6565f9,#7575f8,#9e9efa,#7f7ff9,#6565f9,#8181f9,#8d8df9,#6e6ef8,#5959f9,#6a6af8,#8383f9,#7f7ff9,#5d5df9,#5454f9,#7777f8,#8f8ff9,#7e7ef8,#6464f9,#6565f9,#7b7bf8,#8787f9,#7474f8,#6565f9,#8080f9,#9797fa,#7777f8,#5e5ef9,#2424f8,#1212f3,#2f2ffa,#4a4afa,#7b7bf8,#7f7ff9);left:60px;width:440px"></div>
<div style="top:326px;background:linear-gradient(90deg,#6666f9,#7f7ff9,#6f6ff8,#5f5ff9,#5b5bf9,#6464f9,#8d8df9,#7272f8,#5656f9,#4c4cfa,#3737fa,#2a2af9,#5252f9,#7474f8,#8989f9,#7e7ef9,#7a7af8,#5353f9,#5b5bf9,#7070f8,#8787f9,#6868f9,#5151fa,#7171f8,#8383f9,#6161f9,#5151fa,#3636fa,#3c3cfa,#6666f9,#6060f9,#4f4ffa,#4949fa,#4141fa,#4040fa,#3d3dfa,#3c3cfa,#2727f9,#2727f9,#4949fa,#5050fa,#4242fa,#3333fa,#3838fa,#3c3cfa,#3838fa,#3434fa,#3e3efa,#4848fa,#4040fa,#3838fa,#3737fa,#3434fa,#3737fa,#4545fa,#4545fa,#3737fa,#3737fa,#4343fa,#4242fa,#3434fa,#3333fa,#3f3ffa,#4343fa,#3434fa,#3232fa,#3d3dfa,#4141fa,#3535fa,#3434fa,#3838fa,#3b3bfa,#4141fa,#4545fa,#4f4ffa,#5656f9,#4f4ffa,#4747fa,#3838fa,#3838fa,#3a3afa,#4141fa,#5a5af9,#4343fa,#4444fa,#4646fa,#4646fa,#4646fa,#4747fa,#6060f9,#5656f9,#3f3ffa,#3e3efa,#3e3efa,#3f3ffa,#5a5af9,#6666f9,#3939fa,#3737fa,#3636fa,#2929fa,#1e1ef7,#1c1cf7,#1a1af6,#1818f6,#1919f6,#1a1af6,#1c1cf7,#2020f8,#3131fa,#3f3ffa,#5454f9,#5454f9,#5454f9,#5252f9,#4e4efa,#4e4efa,#4f4ffa,#6868f8,#5050fa,#7575f8,#7e7ef9,#4141fa,#3333fa,#3d3dfa,#5f5ff9,#5151fa,#4141fa,#5c5cf9,#7777f8,#6767f9,#5c5cf9,#5050fa,#5454f9,#5c5cf9,#6060f9,#6666f9,#6d6df8,#4949fa,#2a2afa,#1313f4,#1515f5,#2828fa,#5151fa,#6565f9,#7e7ef9,#9696fa,#8a8af9,#7171f8,#6565f9,#6363f9,#7474f8,#8080f9,#6d6df8,#6767f9,#7070f8,#7070f8,#7070f8,#7070f8,#7070f8,#7070f8,#7575f8,#7e7ef8,#7f7ff9,#7676f8,#7070f8,#7070f8,#7070f8,#7070f8,#7070f8,#7171f8,#acacfb,#8282f9,#4e4ef9,#0909ec,#1010f2,#4444fa,#7979f9,#bdbdfc,#9898fa,#6363f9,#7d7df8,#9f9ffa,#7f7ff9,#3838fa,#3d3dfa,#8b8bf9,#7979f8,#6868f9,#6e6ef8,#9e9efa,#8585f9,#6565f9,#7c7cf8,#8e8ef9,#7272f8,#5959f9,#6767f9,#8282f9,#8282f9,#6161f9,#5252f9,#7373f8,#8f8ff9,#8181f9,#6666f9,#6464f9,#7979f8,#8787f9,#7878f8,#6565f9,#7c7cf8,#9797fa,#7b7bf8,#6161f9,#2b2bf9,#1111f3,#2b2bf9,#4545fa,#7878f8,#8080f9);left:60px;width:440px"></div>
<div style="top:351px;background:linear-gradient(90deg,#27a4fc,#27bcfa,#2691fe,#0c45f5,#1355f9,#2698fd,#28cddf,#2cdabb,#2ad6cc,#27b8f5,#1f73fd,#104df7,#1a64fc,#27aafa,#2ad3d3,#2ddbb8,#2ad3d3,#27aafa,#185ffb,#073af1,#0a41f3,#2285fd,#38de9d,#68ec40,#71ed36,#51e95f,#28bee8,#175efa,#0e49f6,#0a40f3,#083cf2,#083cf2,#083cf2,#083cf2,#083cf2,#083df2,#083df2,#083cf2,#093ff3,#1355f9,#2698fd,#28d0dd,#2adbbd,#28d0dd,#2698fd,#1251f8,#0534ee,#093ff2,#227bfe,#27aefb,#27aefb,#2178fe,#0a40f3,#022deb,#012ae9,#022dea,#0330ec,#022dea,#0029e8,#0028e8,#0028e8,#0028e8,#0028e8,#0028e8,#0028e8,#0028e8,#0028e8,#0028e8,#012be9,#0534ee,#0e48f6,#1b66fc,#227efe,#2487fe,#258dfe,#27a5fc,#27affb,#2587fe,#093ff2,#0029e9,#0028e8,#0028e8,#0028e8,#0028e8,#0028e8,#0028e8,#0028e8,#0028e8,#0028e8,#0028e8,#012ae9,#022eeb,#0636ef,#0d47f5,#1860fc,#237bfe,#2797fe,#27adfb,#27b5fa,#27aefb,#279bfd,#2582fe,#1a64fc,#0c44f4,#0534ee,#0431ed,#0433ee,#0636ef,#0738f0,#175efa,#2bd5cc,#7bee2f,#94ef1f,#51e95b,#34e199,#40e57a,#29ced7,#1252f8,#0027e7,#0027e7,#0535ef,#0637f0,#0637f0,#0637f0,#0637f0,#0637f0,#0637f0,#0637f0,#0638f0,#0739f1,#093ef3,#104df7,#1e6efd,#278bfe,#2792fe,#2796fe,#26a5fc,#27b5fa,#28c8f0,#29d6d0,#2adcb9,#2adbbe,#28d0e2,#27affb,#2582fe,#185ffb,#0c44f4,#0638f0,#0637f0,#0d47f5,#1963fc,#1f70fd,#2072fd,#2278fe,#2277fe,#1c68fd,#104df7,#0637ef,#0533ee,#093df2,#1253f8,#1c68fd,#2279fe,#2682ff,#2682ff,#2279fe,#1f70fd,#258efe,#28c7e7,#2bd9bf,#2ddbb7,#2ddab9,#29d2d5,#269ffc,#1150f8,#0638f0,#0637f0,#0637f0,#0637f0,#0637f0,#0637f0,#0637f0,#0637f0,#0637f0,#0638f0,#0638f0,#0638f0,#0638f0,#0738f0,#073af1,#0a40f3,#0f4cf6,#175dfb,#2073fd,#278afe,#27a2fd,#27b6fa,#28c4f5,#28c8f0,#28c4f5,#27b7fa,#26a8fc,#26a1fd,#27a2fd,#27a5fc,#27a4fc,#279bfd,#278ffe,#2687fe,#2789fe,#278dfe,#278bfe,#247dfe,#1b65fc,#104df7,#083df2,#0637f0,#0637ef,#0637ef,#0637ef,#0637ef,#0636ef,#0534ee,#0536ef,#093ff3,#1151f8,#1860fc,#1d6bfd,#1f6ffd,#1d6bfd,#205ffa,#3b56f4,#4154f0,#485fd8,#7b9f79,#71956c,#365361,#344d55,#414368,#5a4052,#433d7f)"></div>
<div style="top:352px;background:linear-gradient(90deg,#27bcfa,#28c9f4,#2078fc,#0533ee,#1d6bfc,#28cbe6,#38e488,#45e769,#3ae581,#2ad9c4,#27a2fc,#1963fc,#268dfe,#29d6d0,#3ee678,#4be860,#3ee678,#29d6d0,#1e6ffd,#0433ee,#0c45f5,#27b9f2,#5fec45,#85ef26,#87ef26,#75ee30,#2bd9c2,#2689fe,#1d6dfd,#114ff7,#093ef2,#083df2,#093ff3,#0c44f4,#0e4af6,#0f4cf7,#0e4af6,#0c45f4,#0c45f5,#1d6cfd,#28c6ef,#36e38e,#46e76a,#36e38e,#28c5ef,#1962fb,#0431ec,#0c45f5,#279efd,#28cee8,#28cee8,#279dfd,#0f4bf6,#012ae9,#0129e9,#073af0,#0c46f5,#073af1,#012cea,#0028e8,#0028e8,#0028e8,#0028e8,#0028e8,#0028e8,#0028e8,#0028e8,#0029e9,#032fec,#0b44f4,#1d6cfd,#2798fd,#27b4fb,#27bdf8,#27bef9,#28c6f4,#28c9f2,#27abfc,#1150f8,#012be9,#0028e8,#0029e8,#0029e8,#0029e8,#0028e8,#0028e8,#0028e8,#0028e8,#0028e8,#0029e8,#012bea,#0432ed,#093ef2,#1456f9,#2176fe,#279cfd,#27c0f5,#28d1e0,#29d5d3,#28d1df,#27c1f4,#27a0fd,#2072fd,#0c45f5,#0432ed,#032fec,#0432ed,#0636ef,#073af1,#1f72fd,#3be38a,#a9f015,#b8f00e,#80ef2a,#5deb47,#75ee30,#40e57d,#1a68fb,#0023e5,#0023e5,#0534ee,#0638f0,#073af1,#083bf1,#073af1,#0638f0,#0637f0,#0637f0,#0638f0,#073bf1,#0b42f4,#1457fa,#2684fe,#26a4fc,#26aafc,#26abfc,#27b8fa,#28c9f2,#29d8cc,#31e199,#3ce57b,#3be57e,#2edfa7,#28cce9,#279afd,#1a65fc,#0b42f4,#0536ef,#0638f0,#1456f9,#247cfe,#2788fe,#2789ff,#288dfe,#288cff,#247cfe,#1355f9,#0637ef,#0533ee,#0a41f4,#175dfb,#2278fe,#278bff,#2795fe,#2795fe,#278cfe,#278afe,#27bff3,#34e295,#4de95f,#4ee95b,#4ee95c,#41e674,#29d0da,#1d6cfc,#073af1,#0637f0,#0637f0,#0738f0,#073af1,#083bf1,#073af1,#073af1,#073af1,#083cf2,#093ef2,#093ff3,#093ef3,#093df2,#0a3ff3,#0e49f6,#165bfa,#1f70fd,#2686fe,#279ffd,#27b7fa,#28cbee,#28d4d7,#29d7cd,#28d4d7,#28cbef,#27bdf9,#27b6fa,#27b8fa,#27bcfa,#27bcfa,#27b7fa,#26aefb,#27a6fc,#26a3fd,#26a5fc,#26a1fd,#2792fe,#2176fe,#1457fa,#093ff3,#0637f0,#0637ef,#0637ef,#0637ef,#0637ef,#0535ee,#0432ed,#0535ee,#0c44f4,#175cfb,#1f71fd,#257ffe,#2683ff,#257efe,#296efb,#4a5bf3,#545aef,#5c6bd0,#9fc051,#90b045,#405737,#425323,#524645,#76421f,#573f59)"></div>
<div style="top:353px;background:linear-gradient(90deg,#28c4f8,#28cbf1,#1559f8,#032eeb,#217cfd,#2adac1,#49e861,#48e862,#38e487,#2bddb5,#27bafa,#2175fe,#27a9fc,#30e0a1,#52ea55,#59eb4c,#52ea55,#30e0a3,#1a65fa,#012bea,#0b43f4,#27b9f4,#56ea52,#7def2b,#80ef29,#5ceb4a,#28c9e9,#279bfd,#278ffe,#165afa,#093ef3,#0b42f4,#1151f8,#1a64fc,#2073fe,#2278fe,#2073fe,#1a65fc,#165cfa,#258efe,#2cdbba,#54ea52,#65ed3d,#54ea52,#2cdbbb,#1f74fd,#022eeb,#1150f7,#27bcf6,#2adbc0,#2adbc0,#27bdf6,#1457f9,#0026e7,#022dea,#1456f9,#1d6bfd,#1457f9,#0534ee,#0129e9,#0028e8,#0028e8,#0028e8,#0028e8,#0028e8,#0028e8,#0028e8,#012bea,#0636ef,#165afa,#2692fe,#27c0f7,#28d0e5,#28d3dd,#28d1e2,#28d0e4,#28d0e3,#28c1f7,#1b66fc,#0432ed,#0432ed,#0637ef,#0739f0,#0637ef,#0432ed,#022deb,#012ae9,#0028e8,#0028e8,#0129e9,#022deb,#0636ef,#0e49f6,#1b67fc,#278ffe,#27bdf7,#29d7cf,#2cdfaa,#2fe19f,#2cdfaa,#29d7ce,#27bef7,#247ffe,#0b44f4,#0330ec,#022deb,#0331ec,#0637ef,#093df2,#2281fd,#4ce867,#b8f00e,#bff00b,#94f01f,#74ee2f,#86ef26,#58eb4e,#1c76fb,#0021e4,#0021e4,#0536ef,#0d46f5,#1456f9,#175dfa,#1456f9,#0d46f5,#073af1,#0638f0,#0739f0,#083cf2,#0c46f5,#1a63fc,#279afd,#27b8fa,#27bcfa,#27bcfa,#28c7f6,#28d3dc,#2ee0a5,#42e76e,#4fe959,#4ee959,#3fe676,#2adac2,#27b0fb,#1b68fd,#093df2,#0432ed,#0739f0,#1b67fc,#2790fe,#2798fe,#2797fe,#279afd,#279afd,#2789ff,#1559fa,#0535ef,#0534ee,#0d47f5,#1c69fd,#2788ff,#279cfd,#26a6fc,#26a6fc,#279dfd,#27a4fc,#29d7cd,#4ee95b,#63ec40,#63ec40,#62ec42,#5ceb49,#31e09e,#248bfd,#093ef2,#0739f0,#0a40f3,#104df7,#1559f9,#175efa,#165afa,#1252f8,#104cf7,#104ef7,#1252f8,#1354f9,#1252f8,#114ff7,#1251f8,#1963fc,#237bfe,#2790fe,#27a1fd,#27b3fb,#28c8f3,#29d6d1,#2bdeb1,#2de0a5,#2bddb2,#28d5d5,#28caf2,#28c3f9,#28c5f8,#28c7f8,#28c4f9,#27bef9,#27bcfa,#27bbfa,#27b8fa,#27b6fa,#27b3fb,#26a5fc,#2787ff,#1961fc,#0a41f3,#0637ef,#0636ef,#0637ef,#0637ef,#0636ef,#0433ed,#032fec,#0535ee,#0e4af6,#1c69fd,#2683ff,#2793fe,#2799fd,#2893fe,#2f7dfc,#4f5ef2,#595bef,#616fcd,#aaca46,#98b73b,#43582c,#475515,#57463d,#7e4310,#5d404e)"></div>
<div style="top:354px;background:linear-gradient(90deg,#28c4f8,#28cbf1,#155af8,#032feb,#217cfd,#2adac1,#45e867,#39e483,#2adbbe,#28d2de,#27affb,#2074fe,#27a9fc,#30e0a1,#51ea57,#58eb4e,#51ea57,#2fdfa5,#1253f7,#012be9,#0a40f2,#27a4fc,#38e38a,#5eec45,#62ec40,#3be483,#27b5fb,#27a0fd,#2797fe,#1456f9,#093ff3,#0f4cf6,#1b66fc,#2580ff,#288cff,#288efe,#288cff,#2682ff,#2278fe,#27b2fa,#3ae484,#6aed37,#75ee2f,#6aed37,#39e486,#2182fd,#022cea,#165cfa,#28cde6,#2de0a5,#2de0a5,#28cee5,#1861fa,#0022e4,#0535ee,#2175fe,#278dfe,#2279fe,#0f4bf6,#0535ee,#032feb,#012ae9,#0028e8,#0028e8,#0028e8,#0028e8,#022eeb,#083bf1,#104df7,#2073fe,#27affb,#28d0e3,#29d9c8,#2adac2,#28d7d0,#28d3dc,#28d2de,#28caf2,#237cfe,#1150f8,#175efa,#1d6cfc,#1f70fd,#1d6cfc,#175efa,#0e49f6,#0637ef,#022cea,#0029e9,#012ae9,#032fec,#083bf1,#1354f9,#2279fe,#26a8fc,#28d1e2,#2cdfa9,#35e38d,#38e487,#35e38d,#2ddfa9,#28d0e5,#2588fe,#0a40f3,#022deb,#012bea,#0431ec,#083df2,#0e49f6,#2388fd,#4ce865,#b8f00e,#bcf00d,#98f01d,#7aee2c,#86ef26,#59eb4d,#1c76fb,#0021e4,#0023e5,#0b41f3,#1b67fc,#2580fe,#2787fe,#2580fe,#1b67fc,#0d46f5,#0739f0,#0739f1,#093ef3,#0f4af6,#1f70fd,#26acfc,#28c5f8,#28c9f5,#28c8f5,#28cee9,#29d9c7,#37e489,#4ee95a,#59eb4c,#5aeb4c,#4de95b,#30e19e,#27bef7,#1b67fc,#0739f0,#032fec,#083bf1,#2176fe,#279bfd,#279efd,#279efd,#27a0fd,#279ffd,#288efe,#1457fa,#0533ee,#0535ef,#104ef7,#2175fe,#2797fe,#26aafc,#26b1fb,#26b1fb,#26abfc,#27b6fa,#2cdeae,#56ea50,#61ec43,#61ec42,#5ceb48,#5beb49,#3ae580,#279dfd,#0b42f4,#0a41f3,#1559fa,#2074fe,#2683fe,#2788fe,#2686fe,#247cfe,#1f71fd,#1e6efd,#2072fd,#2175fe,#2072fd,#1d6bfd,#1e6dfd,#2580fe,#2797fe,#26abfc,#27b9fa,#28c5f7,#28d2de,#2bddb2,#34e390,#38e485,#32e294,#2adbbd,#28cfe5,#28c9f5,#28c9f5,#28c8f7,#27bff9,#27bbfa,#27bef9,#28c4f9,#28c5f8,#28c3f9,#27bff9,#27b3fb,#2797fe,#1d6bfd,#0a41f4,#0636ef,#0535ef,#0637ef,#0637ef,#0636ef,#0431ec,#022deb,#0636ef,#1252f8,#2277fe,#2796fe,#26abfc,#27b3fb,#27aafc,#308cfb,#5060f2,#595bef,#6370cd,#accc44,#9ab839,#435829,#475612,#58463b,#7f430e,#5e404c)"></div>
<div style="top:355px;background:linear-gradient(90deg,#27bcfa,#28caf3,#217efd,#0637ef,#1e6ffd,#28cde5,#32e19c,#2ad9c3,#27bbf5,#27a2fc,#2485fe,#1961fc,#2690fe,#29d6cf,#3ce57d,#46e769,#3ce57d,#29d5d1,#1151f7,#0535ee,#0d46f5,#268cfe,#29d6ce,#39e484,#3fe678,#2cdbb8,#26a9fc,#279dfd,#2793fe,#1355f9,#093ff3,#0f4cf7,#1b67fd,#2681ff,#288cff,#2687fe,#247ffe,#247cfe,#2580fe,#27c5ef,#4be861,#74ee2f,#7aee2c,#74ee2f,#4ae864,#2189fc,#012ae9,#1b67fb,#29d5d4,#30e298,#30e298,#29d5d2,#1963fa,#001fe2,#0a40f2,#278cfe,#279efd,#2794fe,#2176fe,#1861fb,#0f4bf6,#0433ee,#012ae9,#0028e8,#0028e8,#022dea,#0e4af6,#1f70fd,#2483fe,#2796fe,#27c1f7,#29d9c8,#2cdfab,#2de0a6,#2adac1,#28d4da,#28d2df,#28c9f3,#268afe,#1f71fd,#2683ff,#288cff,#288efe,#288cff,#2683ff,#1d6cfd,#0f4cf7,#0534ee,#012bea,#012bea,#0432ed,#0a41f3,#185ffb,#2789fe,#27bafa,#29d8cc,#30e298,#38e484,#39e482,#38e484,#30e298,#29d6d2,#258dfe,#093df2,#012be9,#012ae9,#0535ee,#1151f8,#1a65fc,#268ffe,#3de483,#aaf015,#b3f011,#97f01e,#78ee2d,#7bef2c,#42e578,#1b69fb,#0023e5,#0025e6,#0f4bf6,#2177fe,#288dff,#2890fe,#288dff,#2177fe,#114ff7,#073af1,#073af1,#0a40f3,#1150f8,#2480fe,#27bafa,#28cbef,#28cee9,#28cee9,#28d3dd,#2bdcb8,#3de679,#56ea50,#5eec46,#5fec45,#58eb4e,#39e483,#28c5ef,#1963fb,#0534ee,#022cea,#083df2,#2580fe,#279ffd,#27a1fd,#27a0fd,#27a1fd,#27a1fd,#288efe,#1251f8,#0431ec,#0637f0,#1456f9,#2580fe,#26a3fd,#27b3fb,#27b8fa,#27b8fa,#27b4fb,#27bff9,#2ddfaa,#4be95f,#54ea53,#55ea51,#4de95c,#4ce95d,#37e488,#27a0fd,#0c44f4,#0e48f5,#1b67fd,#2683ff,#288efe,#2791fe,#2792fe,#288ffe,#2789ff,#2789ff,#288efe,#2791fe,#288efe,#2685ff,#2681ff,#288efe,#26a3fd,#27b6fa,#28c5f8,#28cdeb,#29d9c9,#30e299,#3de57a,#40e672,#3be57f,#2cdfab,#28d3dc,#28cbf0,#28caf3,#28c6f8,#27bbfa,#27b9fa,#27c0f9,#28c7f8,#28c9f5,#28c9f6,#28c7f8,#27bdf9,#26a5fc,#2072fd,#0a40f3,#0535ee,#0535ee,#0637ef,#0637ef,#0535ef,#032feb,#022cea,#0739f1,#165bfb,#2685fe,#26aafc,#28c4f5,#28cced,#28c3f5,#2f9efa,#5063f3,#585aef,#6270cd,#accc43,#9ab938,#445929,#485612,#58473b,#7f440e,#5e404c)"></div>
<div style="top:356px;background:linear-gradient(90deg,#27a6fc,#28c5f8,#27aefb,#1963fb,#1d6dfd,#27b6fa,#27c6ea,#27a9fa,#1f72fd,#175dfa,#1355f9,#1150f8,#2074fe,#27b8f8,#29d6ce,#2bdbba,#29d6ce,#27bbf7,#1b68fc,#165cfa,#1c69fc,#247dfe,#27b1fa,#28cce2,#29d1db,#27c1f0,#278ffe,#2482fe,#2177fe,#1252f8,#0a41f3,#0e4af6,#165bfb,#1f6ffd,#2074fe,#1354f8,#093ef1,#0d47f5,#1e6ffd,#28cde5,#56ea50,#78ee2d,#7aee2c,#78ee2d,#54ea53,#2089fc,#0029e8,#1d6dfc,#29d8ca,#32e293,#32e293,#29d8c9,#175ff9,#001be0,#0d46f4,#2796fe,#27a1fd,#279efd,#2797fe,#2790fe,#2177fe,#0e4af6,#022eeb,#0028e8,#0028e8,#0534ee,#1d6cfd,#2790fe,#27a0fd,#26adfc,#28cbee,#2cdeae,#34e390,#34e38e,#2bddb6,#28d4d9,#28d2df,#28caf1,#268dfe,#1f71fd,#2683ff,#288cff,#288efe,#288cff,#2683ff,#1d6cfd,#0f4cf7,#0534ee,#012bea,#022cea,#0534ee,#0d47f5,#1c6afd,#2797fe,#28c4f6,#2adac2,#32e294,#39e484,#39e482,#39e484,#32e295,#29d7cd,#258cfe,#0739f0,#0129e9,#012be9,#0a41f3,#2177fe,#2695fe,#27a1fd,#2ddbb6,#88ef25,#a5f017,#99f01c,#7aee2c,#5fec45,#2bd5c8,#1253f8,#0027e7,#0028e8,#0c44f4,#1b67fc,#2580fe,#2787fe,#2580fe,#1b67fc,#0d46f5,#0739f1,#073bf1,#0c44f4,#1962fc,#279cfd,#28c5f7,#28cee8,#28d1e1,#28d1e0,#28d6d5,#2bdeb1,#40e671,#5aeb4b,#63ec40,#64ed3e,#5fec45,#41e671,#28c9ea,#175efa,#0330ec,#012ae9,#093df2,#2585fe,#27a1fd,#27a1fd,#27a0fd,#27a1fd,#27a0fd,#278afe,#0e4af6,#032fec,#073af1,#175dfb,#278afe,#26abfc,#27b9fa,#27bdf9,#27bdf9,#27b9fa,#28c1f9,#2adbbc,#3ae581,#42e76f,#44e76b,#3de57b,#3be57f,#2edfaa,#2695fd,#0a41f3,#0a41f3,#1559fa,#2074fe,#2684fe,#278aff,#288cff,#288cff,#288ffe,#2797fe,#279cfd,#279efd,#279dfd,#2795fe,#288bff,#2793fe,#26a8fc,#27bbfa,#28c9f4,#28d1e1,#2bdcb8,#37e487,#42e76e,#44e769,#40e674,#2fe19e,#28d6d4,#28cced,#28caf2,#28c6f8,#27bbfa,#27bafa,#28c1f9,#28c8f7,#28caf3,#28caf2,#28caf3,#28c4f9,#26affb,#2176fe,#093df2,#0534ee,#0534ee,#0636ef,#0637ef,#0535ee,#022dea,#022cea,#093ef2,#1a65fc,#2793fe,#27bff8,#28d5d5,#2adac1,#29d4d5,#2faff6,#4b66f2,#5058ee,#5e6fcd,#accd44,#9ab938,#445929,#485712,#57483c,#7d4515,#5d4150)"></div>
<div style="top:357px;background:linear-gradient(90deg,#2587fe,#28c4f6,#28cee6,#27a9fb,#258efe,#27b9fa,#2591fd,#155af9,#083af0,#0534ee,#093df2,#1253f9,#2074fe,#27a0fd,#27c0f9,#28c8f3,#28c1f9,#26aefb,#279cfd,#27a2fc,#27a7fc,#2791fe,#288efe,#279ffd,#27a2fd,#268dfe,#1861fb,#0f4cf6,#0c44f4,#0a40f3,#0f4bf6,#175efb,#1d6cfd,#2175fe,#1d6afd,#0d47f5,#0431ed,#032eeb,#1861fb,#29d1de,#5beb4a,#78ee2d,#7aee2c,#78ee2d,#58eb4e,#1f86fc,#0027e8,#1d6cfc,#29d7cb,#32e293,#32e293,#29d8c9,#1355f7,#0018de,#0c44f4,#2796fe,#27a1fd,#27a0fd,#27a0fd,#27a0fd,#278ffe,#175efb,#0433ed,#0029e8,#0028e8,#0534ee,#1d6cfd,#288ffe,#279cfd,#26a8fc,#28ccec,#2ee0a2,#38e486,#37e487,#2bdeb1,#28d5d8,#28d3dc,#28ceea,#2588fe,#1251f8,#175efa,#1d6cfc,#1f70fd,#1d6cfc,#175efa,#0e4af6,#0637ef,#022deb,#012ae9,#022dea,#0636ef,#104df7,#2073fd,#27a2fd,#28c9f2,#2adbc0,#30e298,#37e488,#38e485,#37e488,#2fe19c,#29d6d0,#248afe,#0637ef,#0029e8,#022deb,#1559f9,#27aafc,#28c5ef,#27bdf9,#28cfe4,#5beb4d,#98f01d,#a2f018,#8aef24,#49e866,#27aef7,#0b42f4,#022eeb,#022eeb,#0739f1,#0d46f5,#1456f9,#175dfa,#1456f9,#0d46f5,#073af1,#0739f0,#083cf2,#104df7,#2482fe,#27b5fb,#28caf2,#28d0e3,#28d3dc,#28d4db,#28d7d1,#2bdeb0,#41e770,#5dec47,#67ed3a,#69ed38,#64ed3e,#48e864,#28cbe7,#1559fa,#022eeb,#0029e9,#083cf1,#2584fe,#27a0fd,#27a1fd,#279ffd,#27a0fd,#279ffd,#2683fe,#0b43f4,#022eeb,#083df2,#1963fc,#2791fe,#26b1fb,#27bcfa,#27c0f9,#27c0f9,#27bdfa,#28c1f9,#28d6d4,#2cdfaa,#31e299,#33e393,#2fe1a0,#2cdfa9,#29d6d3,#2485fe,#093ef3,#0739f0,#0a40f3,#104df7,#165bfa,#1b67fc,#2072fd,#2580fe,#2790fe,#279cfd,#27a0fd,#27a1fd,#27a1fd,#279dfd,#288efe,#288ffe,#26a6fc,#27bbfa,#28caf4,#28d3dc,#2cdead,#3ce57d,#44e868,#45e865,#42e76d,#33e393,#29d8cc,#28cdea,#28cbf2,#28c8f7,#27bff9,#27bdf9,#28c3f9,#28c9f6,#28caf2,#28cbf0,#28cbf0,#28c8f7,#27b5fb,#2277fe,#073bf1,#0433ed,#0534ee,#0637f0,#0638f0,#0534ee,#012cea,#022deb,#0b43f4,#1e6efd,#27a2fd,#28cfe7,#2ddfaa,#32e293,#2ddeab,#2dbfe7,#3c6bf2,#3a4eed,#506acd,#a9cc45,#98b93a,#455d2b,#485a15,#584e40,#774c2a,#5b465c)"></div>
<div style="top:358px;background:linear-gradient(90deg,#2278fe,#28d1df,#32e09d,#2bd8c4,#27bff6,#28cee9,#2280fd,#0432ed,#0027e8,#012be9,#093ef2,#1b68fc,#2792fe,#27b2fb,#28c4f6,#28c9f2,#28c6f4,#28c3f5,#28c9ef,#28cfe6,#28cdeb,#27affb,#2793fe,#2796fe,#2795fe,#237bfe,#0c45f4,#022dea,#022cea,#093df2,#1963fc,#2587fe,#279afd,#27a0fd,#2796fe,#2176fe,#1252f8,#093df1,#1b67fc,#29d2da,#5aeb4b,#77ee2e,#7aee2c,#77ee2e,#56ea50,#1e83fc,#0026e7,#1a64fb,#29d4d6,#30e298,#30e298,#29d5d4,#0e4af5,#0015db,#0739f0,#278cfe,#279ffd,#279ffd,#27a0fd,#27a0fd,#278ffe,#175efb,#0433ed,#0029e8,#0028e8,#022dea,#0e4af6,#1e6dfd,#2179fe,#237ffe,#27bbf7,#2cdead,#37e487,#38e487,#2bdeb0,#28d5d8,#28d3dc,#28ceea,#227bfe,#0534ee,#0432ed,#0638ef,#083bf1,#083bf1,#0739f1,#0637f0,#0535ee,#0433ed,#0431ec,#0431ed,#0739f1,#1251f8,#2279fe,#26a9fc,#28cdeb,#2adcbb,#2fe29a,#35e38c,#36e48a,#33e392,#2cdfa8,#28d4d7,#2488fe,#0636ef,#0029e8,#0432ed,#217afd,#28cee5,#2adbc0,#28d2de,#28c4f7,#3be485,#92ef20,#a8f015,#99f01c,#46e76e,#2492fd,#083cf2,#0534ee,#0534ee,#0637f0,#0638f0,#073af1,#083bf1,#073af1,#0739f0,#083cf2,#0c45f4,#104df7,#175efb,#2792fe,#27bbfa,#28ccef,#28d1e1,#28d4d9,#28d5d7,#28d8ce,#2bdeb1,#41e771,#5fec44,#6aed37,#6cee35,#68ed39,#4fe959,#28cee3,#1456f9,#022cea,#0028e8,#0738f0,#247dfe,#279ffd,#27a0fd,#279cfd,#279bfd,#2799fd,#237afe,#083df2,#022eeb,#093ff3,#1b67fd,#2797fe,#27b4fb,#27c0f9,#28c5f8,#28c3f9,#27bff9,#27c0f9,#28d0e4,#29d9c7,#2adcba,#2bddb4,#2adbbc,#29d9c6,#28ccec,#237bfe,#093ff3,#0637f0,#0637f0,#0739f0,#083df2,#0d48f5,#165cfb,#2177fe,#288efe,#279cfd,#27a0fd,#26a1fd,#26a1fd,#279dfd,#2788ff,#247cfe,#2793fe,#26b0fb,#28c6f7,#28d4da,#2ce0a7,#3ee678,#45e866,#46e864,#44e76a,#37e489,#2adac2,#28cfe7,#28c9f4,#28c2f9,#27b8fa,#27b9fa,#28c1f9,#28c8f7,#28cbf2,#28ccef,#28ccef,#28c9f4,#27b9fa,#2176fe,#0738f0,#0433ee,#0637f0,#093ef2,#093ff3,#0637ef,#012bea,#032feb,#0e49f6,#2176fe,#27aefb,#29d8cc,#37e488,#3fe674,#37e388,#2bcccd,#286cf0,#2037e8,#3d60cb,#9cc64c,#8fb740,#486833,#4a6522,#626143,#806538,#66595f)"></div>
<div style="top:359px;background:linear-gradient(90deg,#2382fd,#2edeac,#4ce95d,#3ee678,#28d4da,#28d6d5,#2285fd,#0129e9,#0024e6,#022cea,#0f4bf6,#2584fe,#27b4fb,#28cbef,#28d2df,#28d4da,#28d3dd,#28d2de,#28d6d5,#29d8cd,#28d5d8,#27bcfa,#279efd,#279efd,#279cfd,#247dfe,#083bf1,#0026e7,#022deb,#104df7,#2582fe,#26a9fc,#27b7fa,#27bafa,#27b7fa,#27a5fc,#2480fe,#185ffb,#2176fe,#29d1de,#54ea53,#73ee30,#78ee2d,#73ee30,#51ea57,#1e80fc,#0025e6,#1456f9,#28cce8,#2de0a5,#2de0a5,#28cde7,#0a3ff1,#0013d8,#0229e8,#2073fd,#2793fe,#2794fe,#2793fe,#278ffe,#2277fe,#0f4af6,#032feb,#0029e8,#0028e8,#0028e8,#022deb,#0738ef,#0a3ff2,#0f4cf7,#258bfd,#28d0dd,#2fe0a5,#31e298,#2adcbb,#28d3dc,#28d2de,#28c8f3,#1d6bfc,#022deb,#012ae9,#022eeb,#0536ef,#0b42f3,#104ef7,#1457f9,#155af9,#1457f9,#104ff7,#0d46f5,#0d47f5,#1558fa,#247dfe,#26affb,#28d2df,#2cdeae,#33e393,#36e48b,#35e38c,#30e298,#2bdeb0,#28d3dc,#2489fe,#0636ef,#0029e8,#0739f0,#269bfd,#2adbbc,#30e299,#2adcb9,#27c0f9,#2cdaba,#8bef24,#a6f016,#96f01e,#4ae865,#269cfd,#0a40f3,#0637ef,#0637ef,#0637ef,#0637f0,#0637f0,#0637f0,#0638f0,#093ff3,#1456f9,#1e6ffd,#237bfe,#247ffe,#2793fe,#27b9fa,#28ccee,#28d1e0,#28d5d7,#28d6d5,#29d8cd,#2bddb3,#3fe674,#60ec43,#6cee35,#6dee33,#6bee36,#54ea52,#29d0df,#1354f9,#012bea,#0028e8,#0534ee,#1f71fd,#2799fd,#279cfd,#2794fe,#288ffe,#278bff,#1d6cfd,#0637f0,#022deb,#0a40f3,#1c6afd,#2799fd,#27b8fa,#28c7f6,#28cbf0,#28c9f5,#28c1f9,#28c2f9,#28ceea,#28d7d2,#29d9c7,#29dac4,#29d9c7,#28d8cf,#28c9f1,#237efe,#0b42f4,#0637f0,#0637f0,#0637f0,#0739f0,#0a40f3,#1253f8,#1d6cfd,#2785ff,#2795fe,#279cfd,#279efd,#279dfd,#2796fe,#2278fe,#1a63fc,#237afe,#27a1fd,#28c2f9,#28d4da,#2de0a6,#3ee678,#45e866,#46e864,#44e868,#39e482,#2adcb9,#28d0e5,#28c1f9,#27a7fc,#2692fe,#279afd,#27b3fb,#28c4f9,#28caf2,#28ccef,#28ccef,#28caf3,#27bafa,#2074fe,#0637f0,#0637ef,#0c45f4,#1455f9,#1456f9,#0a41f3,#022cea,#0330ec,#104df7,#247cfe,#27b8fa,#2bddb6,#3fe674,#45e867,#3fe674,#2bd4b8,#1f6aed,#1624e2,#335bc9,#7fb85e,#7ab44d,#518745,#51843d,#6d8742,#8e8e2a,#747752)"></div>
<div style="top:360px;background:linear-gradient(90deg,#2592fd,#38e487,#59eb4d,#4de95c,#29d8cb,#28d7d2,#2185fd,#0027e7,#0024e6,#0431ed,#155afa,#279cfd,#28c7f4,#28d4da,#28d8cd,#29d9ca,#29d8cc,#28d7d0,#29d8cc,#29d9c7,#28d5d6,#27bef9,#26a1fd,#27a1fd,#279ffd,#247dfe,#0636ef,#0025e6,#0432ed,#165cfb,#2795fe,#27b6fa,#27bff9,#27c0f9,#27bff9,#27b7fa,#279dfd,#2278fe,#247dfe,#28cde7,#4ae861,#6cee36,#72ee30,#6cee36,#48e866,#1e80fc,#0024e6,#0d46f4,#27b8f7,#2adbc0,#2adbc0,#27bbf7,#0635ed,#0011d7,#001ce0,#104ef7,#1f71fd,#1e6efd,#1b67fc,#1861fb,#1150f8,#093df2,#0636ef,#0431ed,#022dea,#012ae9,#0028e8,#0029e9,#022cea,#0535ef,#1353f8,#2390fd,#27bdec,#28c9e0,#27c5eb,#28caef,#28cee9,#27b9fa,#155afa,#022cea,#022eeb,#0739f0,#104df7,#1a64fc,#2176fe,#2580fe,#2583fe,#2580fe,#2277fe,#1c69fd,#185ffb,#1a64fc,#2682ff,#27b4fb,#28d6d2,#2ee19e,#37e489,#38e485,#37e487,#32e295,#2bdeb1,#28d3dc,#258cfe,#0638f0,#0129e9,#0a40f3,#27b2fa,#2ee0a1,#38e486,#2ee0a3,#27bafa,#28c7e9,#76ee32,#9af01c,#82ef28,#4de95e,#27bbf4,#114ff7,#0638f0,#0637ef,#0637ef,#0637f0,#0637f0,#0637f0,#0739f1,#0f4cf7,#2073fd,#288bff,#2792fe,#2795fe,#2794fe,#27b0fb,#28cbf0,#28d1e0,#28d5d8,#28d6d5,#28d8cd,#2bddb6,#3de678,#60ec44,#6dee34,#6eee32,#6cee34,#57eb4f,#29d1dc,#1355f9,#012bea,#0028e8,#0330ec,#1860fb,#278cfe,#2791fe,#2683ff,#237afe,#2176fe,#165bfa,#0433ee,#022deb,#0a40f3,#1c6afd,#279afd,#27bcfa,#28cee9,#28d2de,#28cfe7,#28c6f8,#28c4f9,#28cfe7,#28d7d0,#29d9c7,#29d9c7,#29d9c8,#29d8cc,#28cdec,#2588fe,#0d46f5,#0638f0,#0637f0,#0637f0,#0638f0,#083cf2,#0e48f5,#165cfb,#2072fd,#2683fe,#278dfe,#2791fe,#288efe,#2684fe,#1a65fc,#1456f9,#1f70fd,#279afd,#27bff9,#28d3db,#2cdfaa,#3ce57b,#44e868,#46e865,#44e769,#3ae581,#2bddb5,#28cfe7,#27aefb,#237dfe,#1a65fc,#2177fe,#27a1fd,#27c0f9,#28caf2,#28ccef,#28ccef,#28caf3,#27bafa,#2072fd,#0638f0,#0a41f3,#1961fb,#237bfe,#237bfe,#1457f9,#032fec,#0331ec,#114ff7,#257ffe,#27bdf9,#2cdfab,#43e76c,#46e864,#42e76c,#2cd7ac,#1c6aec,#141ee0,#2d5ac7,#66b462,#6ec149,#65b645,#64b444,#6fb73e,#7bb735,#64935d)"></div>
<div style="top:361px;background:linear-gradient(90deg,#2491fd,#37e489,#57ea4f,#4be960,#29d8cc,#28d6d5,#207dfd,#0026e6,#0025e6,#0534ee,#1963fc,#27a8fc,#28cdea,#28d7d1,#29d9c7,#29d9c6,#29d9c7,#29d8cb,#29d9ca,#29d9c8,#28d5d6,#27bff9,#26a2fd,#27a1fd,#279ffd,#247dfe,#0636ef,#0025e6,#0432ed,#165cfb,#2795fe,#27b6fa,#27bff9,#27c0f9,#27bff9,#27b7fa,#279ffd,#237bfe,#247cfe,#28c6ef,#3ee678,#61ec42,#69ed39,#61ec42,#3ce57b,#1f82fc,#0024e6,#0638ef,#2697fd,#28cee8,#28cee8,#279cfd,#032eeb,#0011d6,#0014da,#032fec,#0d47f5,#0a41f3,#073af1,#0a41f3,#104ef7,#165cfa,#165afa,#0b42f4,#0636ef,#0432ed,#022cea,#032eeb,#0637ef,#0a40f2,#0b44f4,#104ef7,#1962fa,#1d6efc,#217dfd,#27acfb,#28c1f9,#279ffd,#0e49f6,#022cea,#0433ed,#0c45f5,#1961fc,#237afe,#2888ff,#288efe,#288ffe,#288efe,#2889ff,#257efe,#1f71fd,#1e6efd,#2683ff,#27b5fb,#29d8cb,#31e296,#39e484,#39e482,#39e484,#34e390,#2cdeae,#28d3dc,#2690fe,#083cf1,#012be9,#0c45f4,#27bdf4,#32e295,#39e482,#2ee0a4,#269bfd,#2594fd,#4de862,#81ef29,#6cee36,#51ea56,#29d5d1,#1c6afc,#073af1,#0637f0,#0637f0,#0637ef,#0637f0,#0637f0,#0739f1,#0f4cf7,#2073fd,#288bff,#2792fe,#2794fe,#288efe,#26a4fc,#28caf3,#28d1e1,#28d4d9,#28d5d7,#28d8cf,#2adcb9,#3ae580,#5deb48,#6cee34,#6eee32,#6cee35,#55ea52,#29d1dc,#1458f9,#022cea,#0028e8,#022deb,#114ff7,#2177fe,#237bfe,#1d6afd,#1861fb,#175efb,#0f4bf6,#0330ec,#022dea,#093ff3,#1b67fd,#2798fe,#28c2f8,#28d4da,#28d7d0,#28d4da,#28caf3,#28c6f8,#28d0e3,#29d8cc,#29d9c6,#29d9c7,#29d9c6,#29d9c8,#28d0e3,#2793fe,#0e4af6,#0638f0,#0637f0,#0637f0,#0637f0,#0739f0,#093ef3,#0e4af6,#1559fa,#1b67fd,#1f71fd,#2175fe,#2072fd,#1c69fd,#1253f9,#1150f8,#1d6cfd,#2796fe,#27bcfa,#28d2e0,#2bddb2,#39e484,#42e76d,#44e868,#42e76d,#38e486,#2bdcb7,#28cbee,#2796fe,#175efb,#114ff8,#1b67fd,#2797fe,#27bcfa,#28caf4,#28ccef,#28ccef,#28c9f4,#27b8fa,#1f70fd,#073bf1,#1353f9,#2581fe,#279cfd,#279cfd,#1f71fd,#0535ee,#0431ed,#114ff7,#2580fe,#27bdf9,#2cdfab,#43e76c,#46e864,#42e76c,#2bd7ac,#1c69ec,#131de0,#2c5cc5,#68c151,#79d92d,#79da2b,#79da2a,#7ada2a,#79d62d,#59a564)"></div>
<div style="top:362px;background:linear-gradient(90deg,#227dfe,#2cdbba,#3fe677,#35e292,#28d1e2,#28d1e0,#1e72fc,#0025e6,#0025e6,#0534ee,#1962fc,#27a7fc,#28cdeb,#28d7d2,#29d9c8,#29d9c7,#29d9c8,#29d8cd,#28d8cf,#28d8cf,#28d4db,#27bef9,#27a0fd,#279efd,#279cfd,#247dfe,#083bf1,#0026e7,#022deb,#104df7,#247ffe,#27a2fd,#27affb,#27b2fb,#27b0fb,#27a6fc,#278dfe,#2072fd,#237bfe,#27c1f4,#33e292,#52ea55,#5ceb49,#52ea55,#33e294,#2189fd,#0027e7,#032fec,#2075fd,#27affb,#27aefb,#2177fe,#022ae9,#0011d7,#0012d7,#0022e4,#0330ec,#032feb,#0534ee,#114ff7,#2073fe,#2688fe,#1b68fc,#0533ed,#022dea,#073af1,#083bf1,#1150f7,#1f70fd,#227dfd,#2073fd,#1456f9,#083df2,#0637ef,#0e48f5,#2483fe,#27a2fd,#237efe,#083cf1,#012bea,#0432ed,#0c44f4,#185ffb,#2277fe,#2684ff,#2789ff,#288aff,#288aff,#2786ff,#247cfe,#1e6efd,#1c6afd,#247dfe,#27affb,#29d7d0,#31e297,#39e484,#39e482,#39e484,#33e391,#2bdeb1,#28d2de,#2795fe,#0a41f3,#022dea,#0d46f5,#27bdf4,#32e295,#39e483,#2bdabe,#1a65fb,#1251f7,#2fd9b9,#62ec41,#62ec41,#5beb4a,#32e19a,#248cfd,#093ef2,#0637f0,#0637f0,#0637ef,#0637f0,#0637f0,#0638f0,#093ff3,#1456f9,#1e6ffd,#237afe,#2279fe,#2074fe,#2797fe,#28c7f6,#28d0e3,#28d3dc,#28d4db,#28d7d3,#2adbbf,#35e38e,#54ea52,#69ed39,#6cee34,#68ed3a,#4ce95e,#28d0e2,#165bfa,#022eeb,#0029e8,#022cea,#0a40f3,#175efb,#1861fb,#1252f8,#0f4bf6,#0e49f6,#093ef2,#032eeb,#022cea,#083df2,#1963fc,#2794fe,#28c6f4,#28d7d1,#29d9c8,#28d7d0,#28ccee,#28c5f8,#28d1e2,#29d9ca,#29d9c6,#29d9c6,#29d9c6,#29d9c6,#28d2de,#2799fd,#0f4cf7,#0638f0,#0637f0,#0637f0,#0638f0,#073af1,#093ef3,#0d46f5,#114ff7,#1457fa,#165bfb,#165bfb,#1558fa,#1251f8,#0d47f5,#0f4bf6,#1c68fd,#2790fe,#27b7fa,#28cfe7,#2adbbe,#33e393,#3ee677,#41e770,#3ee677,#32e393,#2adac1,#28c6f4,#2584fe,#1150f8,#0e48f6,#1962fc,#2790fe,#27b7fa,#28c8f7,#28cbf0,#28cbf0,#28c8f7,#27b4fb,#1e6ffd,#0a40f3,#1a65fc,#2799fd,#26adfc,#26acfc,#2586fe,#093df2,#0432ed,#104df7,#247dfe,#27b8fa,#2bddb6,#3fe674,#45e867,#3fe674,#2ad5b7,#1c67ed,#131cdf,#2b5dc3,#6cc847,#81e61f,#83e81c,#83e81c,#82e81c,#7fe222,#5aac61)"></div>
<div style="top:363px;background:linear-gradient(90deg,#1c68fc,#27bbf5,#29d2da,#28c9e7,#27b7fa,#27c1f7,#1b68fc,#0129e8,#0025e6,#0331ec,#1559fa,#279bfd,#28c7f5,#28d2de,#28d5d5,#28d6d4,#28d6d5,#28d4d9,#28d3dd,#28d1e2,#28cdec,#27bafa,#279bfd,#2793fe,#288ffe,#2074fe,#0a40f3,#012ae9,#012bea,#073af1,#1353f8,#1a66fb,#1e6efc,#1e71fc,#1f73fd,#1f70fd,#1d6bfd,#1c69fd,#2684fe,#28c3f4,#2de0a6,#43e76b,#4be95d,#43e76b,#2ddfa7,#2699fd,#032fec,#032eeb,#185ffb,#2585fe,#2482fe,#1559fa,#0128e8,#0012d8,#0012d7,#0020e3,#0129e9,#012cea,#083bf1,#1a64fc,#278cfe,#2795fe,#0f4bf6,#001bdf,#0019de,#0433ed,#1150f8,#2278fe,#2799fd,#279ffd,#2799fd,#2278fe,#0b43f4,#022eeb,#0534ee,#175efb,#2279fe,#165bfa,#0431ed,#0028e8,#012cea,#0535ee,#0c44f4,#1355f9,#1962fb,#1c69fc,#1d6bfd,#1d6bfc,#1b66fc,#175dfa,#1354f9,#1457fa,#1f6ffd,#27a0fd,#28d1e2,#2de0a6,#35e38c,#38e487,#36e38b,#2fe19d,#2adbbe,#28cfe7,#2798fe,#0e49f6,#0330ec,#0c45f4,#27b5f9,#2ee0a2,#37e489,#28c9e2,#0636ee,#0229e8,#27b2f2,#49e863,#60ec43,#61ec42,#40e674,#27a6fc,#0b42f4,#0637f0,#0637f0,#0637ef,#0637ef,#0637f0,#0637f0,#0638f0,#083cf2,#0c44f4,#0f4bf6,#114ff7,#1558fa,#2689fe,#28c2f9,#28cee8,#28d1e1,#28d1e1,#28d5d8,#29d9c8,#2ee1a1,#47e866,#5eec46,#65ed3e,#5ceb48,#3ee678,#28caea,#185ffb,#0330ec,#012ae9,#022cea,#0738f0,#0e4af6,#0f4af6,#0a40f3,#093df2,#083df2,#0638f0,#022eeb,#022cea,#0739f1,#175dfb,#278efe,#28c7f3,#29d8cc,#29d9c6,#29d8cc,#28cdeb,#28c3f9,#28d0e4,#29d9ca,#29d9c6,#29d9c6,#29d9c6,#29d9c6,#28d2de,#2799fd,#0f4cf7,#0638f0,#0637f0,#0739f1,#0a3ff3,#0e4af6,#1457f9,#1962fb,#1c6afd,#1d6dfd,#1d6cfd,#1b66fc,#175dfb,#1251f8,#0c45f5,#0e48f6,#1962fc,#2789fe,#26b0fb,#28cbf0,#29d8cd,#2de0a6,#36e489,#3ae580,#36e489,#2de0a6,#28d7cf,#28c1f8,#247ffe,#104df7,#0d46f5,#175dfb,#2788fe,#26b0fb,#28c4f8,#28caf4,#28caf4,#28c4f9,#26aefb,#1e6dfd,#0c44f4,#1f70fd,#26a3fd,#26b1fb,#26b0fb,#2793fe,#0d47f5,#0432ed,#0e4af6,#2278fe,#27affb,#29d8cc,#37e488,#3fe674,#37e488,#28d0cc,#1b62ed,#141ddf,#2b5cc3,#6cca46,#82e81d,#84eb1a,#84eb1a,#83e91b,#7fe122,#59ac62)"></div>
<div style="top:364px;background:linear-gradient(90deg,#1c68fd,#2794fe,#27a8fc,#26a3fd,#279cfd,#26a4fc,#1c6afc,#0534ee,#0027e7,#022eeb,#114ff7,#2689fe,#27b7fa,#28c9f3,#28ccee,#28cbef,#28c9f0,#28c9f1,#28c9f3,#28c8f5,#28c6f8,#27b8fa,#2798fe,#2580fe,#2174fe,#175efb,#093ff3,#0331ec,#032feb,#0432ed,#0637f0,#0739f0,#073af1,#083cf1,#0a40f3,#0e4af6,#155afa,#2072fd,#279bfd,#28cbed,#2cdead,#3ae580,#40e673,#3ae580,#2cdeae,#27b1fa,#0a41f3,#0738f0,#175dfb,#1d6bfd,#1962fc,#0d48f5,#0129e8,#0014da,#0013d9,#0021e3,#0028e8,#012be9,#073af1,#1962fc,#2789ff,#278cfe,#0535ee,#0012d8,#0012d8,#0127e7,#0f4bf6,#2175fe,#2795fe,#279bfd,#2796fe,#2175fe,#0a41f3,#012be9,#022dea,#0b42f3,#1251f8,#093ef2,#0129e8,#0024e6,#0024e6,#0025e6,#0129e8,#032dea,#0431ec,#0534ee,#0636ee,#0636ee,#0535ee,#0433ed,#0535ef,#0b42f3,#185efb,#278cfe,#27c1f6,#29d8c8,#2ddfa8,#2fe0a0,#2ddfa8,#2adbbc,#28d4d9,#28c8f5,#279bfd,#1559fa,#093ef2,#0e4af6,#27a2fc,#2adac3,#2ee0a4,#26a4f8,#001ee2,#001adf,#2081fc,#38e488,#5fec45,#5fec45,#44e76d,#27b5f8,#0d47f5,#0637f0,#0637f0,#0637f0,#0637f0,#0637f0,#0637f0,#0637f0,#0637f0,#0638f0,#073af1,#0a41f3,#114ff8,#247dfe,#27b9fa,#28cbf0,#28cee9,#28ceea,#28d1e1,#28d6d4,#2bdcb8,#36e48a,#49e864,#4fe959,#45e76b,#2edfa5,#27c0f6,#1963fc,#0535ee,#022dea,#032eeb,#0636ef,#093ef2,#093df2,#0739f1,#0738f0,#0738f0,#0636ef,#032feb,#022cea,#0637ef,#1455f9,#2685fe,#28c4f5,#28d8cd,#29d9c6,#29d8cc,#28cbef,#27bcfa,#28cdea,#28d8cd,#29d9c6,#29d9c7,#29d9c6,#29d9c8,#28d0e3,#2793fe,#0e4af6,#0638f0,#0739f0,#093ef3,#0f4cf7,#185efc,#1f6ffd,#2279fe,#247dfe,#247efe,#247dfe,#2379fe,#1f70fd,#1961fc,#104df7,#0d48f5,#175cfb,#257ffe,#26a7fc,#28c5f7,#28d3dd,#2adbbd,#2ee0a3,#30e299,#2ee0a3,#2adbbd,#28d2de,#27bdf9,#2584fe,#1253f8,#0d47f5,#1559fa,#247ffe,#26a7fc,#27bdf9,#28c6f8,#28c6f8,#27bdfa,#26a4fc,#1c6afd,#0c46f5,#1f70fd,#26a3fd,#26b0fb,#26b0fb,#2798fe,#114ff7,#0533ee,#0d46f5,#1f71fd,#27a3fd,#28cfe7,#2ddfab,#32e294,#2ddeab,#27c8e6,#1b5dee,#141de0,#2a5cc5,#69c74f,#7ee428,#80e625,#80e625,#7ee227,#75d132,#54a16b)"></div>
<div style="top:365px;background:linear-gradient(90deg,#2279fe,#2792fe,#279dfd,#279efd,#279cfd,#2799fd,#2277fe,#0d47f5,#032feb,#0432ed,#1150f8,#2684fe,#27b2fb,#28c1f9,#27c0f9,#27bbfa,#27b7fa,#27b9fa,#27c0f9,#28c5f8,#28c6f8,#27bff9,#279efd,#1f70fd,#1558fa,#0d48f5,#0637ef,#022cea,#012cea,#032fec,#0432ed,#0432ed,#0433ed,#0534ee,#073af1,#0f4bf6,#1b66fc,#278bfe,#27b5fa,#28d2de,#2cdeae,#34e38f,#38e485,#34e38f,#2bdeaf,#28c5f0,#1962fb,#1253f8,#1f72fd,#1d6cfd,#175cfb,#0e49f6,#0330ec,#0018dd,#0017dc,#0024e5,#0029e8,#0029e8,#0331ec,#0d47f5,#1a65fb,#1d6cfd,#032dea,#0013d8,#0012d8,#0021e3,#0432ed,#0d46f4,#1860fa,#1c6bfc,#1963fa,#0e48f5,#032fec,#0027e7,#0028e8,#0330ec,#0534ee,#012be9,#0023e5,#0020e3,#001fe2,#001ee1,#001de1,#001de1,#001de1,#001de1,#001ee2,#001ee2,#001fe3,#0022e4,#0129e8,#073af1,#1559fa,#2581ff,#26abfc,#28c8f0,#28d3dc,#29d4d5,#28d3db,#28cee9,#28c6f4,#27bafa,#27a0fd,#2278fe,#1962fb,#1a64fc,#2793fe,#28c8ef,#28d3da,#1e77fc,#0015db,#0014da,#175ff9,#2ddcb3,#55ea51,#51ea56,#3be57f,#27c0f1,#1354f9,#0739f0,#0637f0,#0637f0,#0637f0,#0637f0,#0637f0,#0637f0,#0637f0,#0638f0,#073af1,#0a3ff3,#0f4cf7,#2072fd,#26acfc,#28c3f8,#28c6f6,#28c5f6,#28caf1,#28cfe7,#28d4da,#2adac2,#2fdeab,#31dfa4,#2cdcb7,#28d1e0,#27affb,#1e6dfd,#0b43f4,#0638f0,#0638f0,#083cf2,#093ff3,#093df2,#073bf1,#073af1,#0739f0,#0637ef,#0431ec,#022dea,#0535ee,#104ff7,#2279fe,#27b9fa,#28d5d5,#29d9ca,#28d6d4,#28c4f6,#26b1fb,#28c8f4,#28d6d5,#29d9c9,#29d9c9,#29d9c9,#28d8ce,#28cbee,#2587fe,#0d46f5,#0638f0,#0739f0,#093ef3,#0f4cf7,#185efb,#1e6ffd,#2279fe,#247dfe,#247efe,#247dfe,#2379fe,#1f70fd,#1860fc,#104ff7,#0d47f5,#1457fa,#2176fe,#279bfd,#27b9fa,#28cbef,#28d5d7,#2adac1,#2bdcb9,#2adac1,#28d5d7,#28cbef,#27b6fa,#2789fe,#175dfb,#0f4bf6,#1355f9,#2073fe,#2798fe,#27b2fb,#27bcfa,#27bcfa,#26b1fb,#2795fe,#1a64fc,#0c44f4,#1a65fc,#2797fe,#26abfc,#26abfc,#2791fe,#1251f8,#0535ee,#0b42f4,#1c68fd,#2794fe,#27bef8,#28d4d8,#2adac4,#28d4d8,#26b7f7,#1c56ef,#1421e1,#295fcc,#5ebb6c,#6fd44c,#70d64a,#70d549,#6cc94d,#5ba360,#448384)"></div>
<div style="top:366px;background:linear-gradient(90deg,#2784ff,#2799fd,#27a0fd,#27a1fd,#27a0fd,#279afd,#2682ff,#1457fa,#0739f0,#083cf2,#175efb,#2791fe,#27b6fa,#27bafa,#27b6fa,#27b4fb,#27b2fb,#27b6fa,#27c0f9,#28c6f8,#28c8f8,#28c5f8,#26a8fc,#1c6afd,#0d48f5,#083cf2,#022eeb,#0024e6,#0027e7,#022cea,#0330ec,#0432ed,#0433ed,#0636ef,#0a3ff3,#1456f9,#237afe,#27a5fc,#28c7f6,#28d6d4,#2bddb3,#2ee19e,#31e298,#2ee1a1,#2bdcb9,#28cfe8,#268afe,#237bfe,#2797fe,#268afe,#2277fe,#1a64fc,#0d46f5,#0021e4,#001ee2,#012bea,#022cea,#0028e8,#0027e7,#022cea,#0534ee,#0739ef,#0125e6,#0017dd,#0016dc,#001de1,#0022e4,#0024e5,#0229e8,#032cea,#022be9,#0126e7,#0024e5,#0023e5,#0024e5,#0026e7,#0026e7,#0022e4,#001ee2,#001de1,#001be0,#001adf,#0019df,#0019df,#0019de,#0019df,#0019df,#001adf,#001ce1,#0021e3,#012be9,#0a40f3,#1961fc,#2785ff,#26a3fd,#27b5fb,#27bef9,#28c1f9,#27bff9,#27bbfa,#27b6fa,#26b1fb,#26a8fc,#279bfd,#2790fe,#268dfe,#2799fd,#26b1fb,#27bbfa,#1559f8,#0012d8,#0012d8,#114ff7,#29d1dc,#40e673,#3ee676,#31e296,#28cfe2,#1f72fd,#093df2,#0637f0,#0637f0,#0637f0,#0637f0,#0638f0,#0739f0,#073af1,#083bf2,#093ff3,#0d46f5,#1252f8,#1e6ffd,#279cfd,#27b2fb,#27b4fb,#27b3fb,#27b8fa,#27bcfa,#27bff9,#27c1f5,#27c3f1,#27c3f0,#27bff6,#27b4fb,#27a1fd,#2683fe,#1c6afd,#185ffa,#165bfa,#165afa,#1558fa,#1353f9,#114ff7,#0f4bf6,#0e49f6,#0c46f5,#093ff2,#073af0,#0a40f2,#1354f9,#2073fe,#27a1fd,#28c5f0,#28cde8,#28c7ef,#27aefb,#27a1fd,#27bdfa,#28d1e1,#28d7d2,#28d7d0,#28d7d1,#28d4d9,#27c0f8,#2279fe,#0b43f4,#0638f0,#0638f0,#0739f1,#0a3ff3,#0e4af6,#1457f9,#1962fb,#1c68fc,#1c6afd,#1c68fc,#1962fb,#1457f9,#0f4cf7,#0c44f4,#0c44f4,#1252f8,#1d6cfd,#278bfe,#26a5fc,#27bafa,#28c7f1,#28cfe6,#28d1e0,#28cfe6,#28c7f1,#27bafa,#27a4fc,#2684fe,#1961fc,#104ef7,#114ff7,#1a64fc,#2582fe,#279dfd,#26a9fc,#26a9fc,#279cfd,#2580fe,#1559fa,#093ff3,#1253f8,#237dfe,#2795fe,#2795fe,#237bfe,#0e49f6,#0534ee,#093ef2,#175dfb,#2581fe,#27a2fd,#27bdf8,#28c5f0,#27bdf8,#269efc,#1c50f1,#162ce5,#2769dc,#47a7a8,#51b596,#51b695,#51b494,#4b9f92,#3560a0,#2c55ac)"></div>
<div style="top:367px;background:linear-gradient(90deg,#2784ff,#2799fd,#27a0fd,#27a1fd,#27a0fd,#2799fd,#2682ff,#165afa,#093ef3,#0d47f5,#1d6bfd,#279cfd,#27b6fa,#27b4fb,#27b2fb,#27b2fb,#27b2fb,#27b7fa,#27c0f9,#28c6f8,#28c8f8,#28c5f8,#26a8fc,#1b66fc,#0b42f4,#073af1,#022dea,#0020e3,#0020e3,#0025e6,#012be9,#0431ed,#0535ee,#0739f0,#0d46f5,#1962fc,#278bfe,#27b4fb,#28ccef,#28d5d7,#2adac3,#2bddb5,#2bdeb1,#2adcba,#28d7cf,#28cdea,#26a8fc,#27a0fd,#27b3fb,#26abfc,#279cfd,#2688fe,#1b67fc,#0432ed,#012be9,#0535ef,#0330ec,#0028e8,#0023e5,#0020e3,#0020e3,#001fe3,#001de1,#0019df,#0019de,#001adf,#001be0,#001ce0,#001ce1,#001de1,#001de1,#001ee2,#001fe2,#001fe3,#0020e3,#0020e3,#0020e3,#001ee2,#001ce1,#001be0,#001adf,#0019df,#0018de,#0018de,#0018de,#0019de,#0019df,#001be0,#001ee2,#0025e6,#0431ed,#0e48f6,#1c68fd,#2788ff,#27a1fd,#26adfc,#27b2fb,#27b3fb,#27b3fb,#27b2fb,#26b1fb,#26b0fb,#26affb,#26adfc,#26abfc,#26a9fc,#26a8fc,#26acfc,#26acfc,#1253f7,#0012d8,#0012d8,#0e4af5,#27bff5,#2fe0a1,#33e391,#30e299,#2adac2,#269afd,#0d48f5,#0638f0,#0638f0,#0638f0,#0739f1,#073bf1,#093df2,#0a41f4,#0d47f5,#104ef7,#1557fa,#1a64fc,#2278fe,#2794fe,#26a3fd,#26a5fc,#26a5fc,#26a7fc,#26a8fc,#26a8fc,#26a8fc,#26a8fc,#26a7fc,#26a6fc,#26a3fd,#279ffd,#2799fd,#2791fe,#278bfe,#2686fe,#2582fe,#247efe,#2279fe,#2175fe,#1f72fd,#1f70fd,#1e6efd,#1d6bfd,#1c69fc,#1d6dfd,#2177fe,#2682ff,#288ffe,#279dfd,#27a2fd,#279ffd,#2795fe,#2798fe,#27b5fb,#28cced,#28d3dc,#28d4da,#28d3dc,#28cee8,#27b3fb,#2074fe,#0e4af6,#093ff3,#083bf2,#073af1,#0739f1,#073af1,#083df2,#0a40f3,#0b43f4,#0c44f4,#0b43f4,#0a40f3,#083cf2,#073af1,#083bf2,#0a40f3,#104df7,#1860fc,#2175fe,#237ffe,#2691fe,#27a0fd,#27aafc,#27adfb,#27aafc,#27a0fd,#2691fe,#237efe,#1b68fc,#1252f8,#0b42f4,#0a40f3,#0f4bf6,#1961fb,#2176fe,#2482fe,#2482fe,#2176fe,#185ffb,#0c45f5,#0636ef,#093df2,#1353f8,#1a66fb,#1a66fb,#1252f8,#0738f0,#032fec,#0636ef,#0e4af6,#1a64fc,#227afe,#258dfe,#2695fd,#258dfd,#2278fd,#1749f2,#173deb,#287bee,#359ee1,#38a3dd,#38a3dc,#38a0db,#3080d0,#1d34c8,#1931c9)"></div>
<div style="top:368px;background:linear-gradient(90deg,#2277fe,#278cfe,#2797fe,#2799fd,#2795fe,#278afe,#2073fe,#1252f8,#093df2,#0e49f6,#1d6bfd,#2796fe,#26b0fb,#26b0fb,#26aefb,#26affb,#26affb,#27b3fb,#27bbfa,#28c2f9,#28c4f9,#27bcfa,#2797fe,#165bfa,#0a40f3,#083cf2,#0636ef,#022ae9,#0023e5,#0024e6,#022cea,#0535ef,#0739f1,#093ff3,#104ef7,#1d6bfd,#2793fe,#27b8fa,#28cbf0,#28d1e1,#28d5d6,#29d8ce,#29d8cc,#28d6d4,#28d0e3,#28caf2,#27b8fa,#27b4fb,#27bcfa,#27b6fa,#26aafc,#2797fe,#2278fe,#0b43f4,#0636ef,#0638f0,#022eeb,#0025e6,#0020e3,#001de1,#001be0,#001adf,#0019df,#0019de,#0018de,#0019de,#0019de,#0019df,#0019df,#0019df,#001adf,#001be0,#001be0,#001ce1,#001de1,#001de1,#001de1,#001de1,#001ce0,#001ae0,#001adf,#0019df,#0018de,#0018de,#0018de,#0019df,#001adf,#001de1,#0021e4,#0129e8,#0638f0,#1150f8,#1e6efd,#288bff,#27a0fd,#26abfc,#26aefb,#26b0fb,#26b1fb,#26b1fb,#26b1fb,#26b1fb,#26b1fb,#26b1fb,#26b1fb,#26b0fb,#26affb,#26aefc,#26aafc,#165cf9,#0015db,#0015da,#0f4cf6,#27aafc,#2adac1,#30e299,#32e393,#2ddfa8,#27b8f8,#1252f8,#0739f1,#0739f0,#0739f1,#083bf2,#093ff3,#0c46f5,#104ef7,#1559fa,#1a64fc,#1f70fd,#237afe,#2786ff,#2795fe,#279efd,#279ffd,#27a0fd,#26a2fd,#26a2fd,#26a2fd,#26a2fd,#26a2fd,#26a1fd,#27a1fd,#27a1fd,#27a1fd,#27a0fd,#279efd,#279bfd,#2797fe,#2794fe,#2790fe,#288cff,#2889ff,#2787ff,#2787ff,#2787ff,#2787ff,#2788ff,#288aff,#288cff,#288efe,#288ffe,#2790fe,#2791fe,#2790fe,#2890fe,#2797fe,#26aefb,#28c5f7,#28cdeb,#28cee8,#28cdeb,#28c5f6,#26a7fc,#2176fe,#1456f9,#0f4bf6,#0c44f4,#093ef3,#073bf1,#0739f0,#0637f0,#0637ef,#0636ef,#0636ef,#0636ef,#0636ef,#0636ef,#0637ef,#0738f0,#083df2,#0c44f4,#104df7,#1150f8,#0d48f5,#114ff7,#1458f8,#175df9,#175ff9,#175df9,#1458f8,#114ff7,#0d46f4,#083bf0,#0431ec,#022be9,#0229e8,#032dea,#0636ee,#0b41f2,#0d47f5,#0d47f5,#0b41f2,#0636ee,#022be9,#0126e7,#0127e7,#032cea,#0431ec,#0430ec,#022be9,#0024e6,#0023e5,#0127e7,#032feb,#073af0,#0c45f4,#0f4cf6,#114ff7,#0f4cf6,#0c44f3,#0a36ed,#1143ec,#2a8af5,#34a7f7,#35aaf7,#35aaf7,#34a5f6,#2878e8,#1524d3,#111fd3)"></div>
<div style="top:369px;background:linear-gradient(90deg,#175dfb,#1d6dfd,#2175fe,#2176fe,#1f71fd,#1b67fc,#1558fa,#0d47f5,#093ef3,#0c46f5,#1558fa,#1f70fd,#248afd,#2692fe,#2793fe,#2794fe,#2794fe,#2798fe,#27a3fc,#27affb,#27b1fb,#27a0fd,#2176fe,#0f4cf7,#093ef2,#083cf2,#083cf2,#073af1,#0637f0,#0637f0,#073af1,#083cf2,#093df2,#0b43f4,#1151f8,#1d6bfd,#278ffe,#27b2fb,#28c7f7,#28cdeb,#28d0e4,#28d2e0,#28d2df,#28d0e5,#28ccee,#28c8f7,#27c0f9,#27bcfa,#27bcfa,#27b4fb,#26a8fc,#2794fe,#2278fe,#114ff7,#083cf2,#0536ef,#012ae9,#0022e4,#001ee2,#001be0,#0019df,#0019de,#0018de,#0018de,#0018de,#0018de,#0018de,#0018de,#0018de,#0019de,#0019df,#0019df,#001adf,#001be0,#001ce0,#001de1,#001de1,#001de1,#001ce1,#001ce0,#001be0,#001adf,#0019df,#0019df,#0019df,#001adf,#001be0,#001ee2,#0022e4,#012ae9,#0638f0,#114ff8,#1d6bfd,#2684ff,#2798fe,#26a3fd,#26aafc,#26aefc,#26b0fb,#26b0fb,#26b1fb,#26b1fb,#26b1fb,#26b1fb,#26b1fb,#26b0fb,#26affb,#26adfc,#26a8fc,#1c69fc,#001de1,#001ce0,#1253f8,#2793fe,#28d3da,#2fe29b,#33e391,#2ee1a1,#27c0f3,#1456f9,#0739f1,#0738f0,#073af1,#083cf2,#0c45f5,#1253f9,#1a65fc,#2176fe,#2582fe,#278afe,#2890fe,#2794fe,#2799fd,#279cfd,#279dfd,#279efd,#27a0fd,#27a1fd,#27a1fd,#27a1fd,#27a1fd,#27a1fd,#27a1fd,#27a1fd,#27a0fd,#279ffd,#279dfd,#279afd,#2797fe,#2793fe,#288ffe,#288cff,#2889ff,#2787ff,#2786ff,#2787ff,#2787ff,#2788ff,#2788ff,#2889ff,#288aff,#288bff,#288cff,#288dfe,#288cff,#288bff,#288dfe,#279cfd,#27aefb,#27b9fa,#27bcfa,#27b7fa,#27a8fc,#2589fe,#1a65fc,#1150f8,#0d46f5,#0a40f3,#083bf1,#0638f0,#0535ef,#0534ee,#0533ee,#0433ed,#0433ed,#0433ed,#0432ed,#0432ed,#0433ed,#0534ee,#0636ef,#0536ef,#0432ed,#0229e8,#001ee1,#001fe2,#0122e4,#0123e5,#0124e5,#0123e5,#0122e4,#001fe2,#001de0,#001ade,#0018dc,#0016db,#0015da,#0016db,#0019dd,#001bdf,#001de1,#001de1,#001bdf,#0019dd,#0016db,#0015da,#0015da,#0015da,#0015da,#0015da,#0014da,#0013d9,#0014d9,#0015da,#0017dc,#001ade,#001de0,#001fe2,#0020e2,#001fe2,#001de1,#021ddf,#0e39e3,#2b8cf4,#36acfa,#37affb,#37affb,#35aafa,#2776ec,#131ed5,#0e16d3)"></div>
<div style="top:370px;background:linear-gradient(90deg,#0f4bf6,#1150f8,#1253f8,#1252f8,#1150f8,#104df7,#0f4af6,#0d47f5,#0d46f5,#0d48f5,#0f4bf6,#1150f8,#1558fa,#185ffb,#1963fb,#1a64fc,#1a65fc,#1b68fc,#1f71fd,#237efe,#2380fe,#1f70fd,#1354f9,#0b42f4,#093df2,#083cf2,#083cf2,#083cf2,#083cf2,#083cf2,#083cf2,#083cf2,#093ef2,#0b42f4,#0f4cf7,#1860fc,#257ffe,#27a2fd,#27bafa,#28c7f6,#28ccef,#28cdeb,#28cdeb,#28ccee,#28caf4,#28c8f8,#28c3f9,#27c0f9,#27bdfa,#27b4fb,#26a7fc,#2794fe,#237bfe,#1559fa,#0b43f4,#0636ef,#012ae9,#0023e5,#001fe2,#001ce0,#001adf,#001adf,#0019df,#0019df,#0019df,#0019df,#0019df,#0019df,#0019df,#0019df,#0019df,#001adf,#001be0,#001be0,#001ce1,#001de1,#001ee2,#001ee2,#001ee2,#001ee2,#001ee1,#001de1,#001ce1,#001ce0,#001ce0,#001ce1,#001de1,#001fe2,#0022e4,#0027e7,#0330ec,#093ef2,#1151f8,#1b67fc,#247dfe,#278efe,#279bfd,#26a4fd,#26a8fc,#26abfc,#26acfc,#26acfc,#26acfc,#26acfc,#26aafc,#26a8fc,#26a5fc,#27a0fd,#2799fd,#1f70fd,#0129e8,#0127e7,#1355f9,#2278fe,#28c5f1,#2ddfa9,#31e297,#2cdead,#27b5f9,#1151f8,#0638f0,#0637f0,#0738f0,#083df2,#0f4bf6,#1860fc,#2277fe,#2887ff,#288ffe,#2793fe,#2796fe,#2798fe,#2799fd,#2799fd,#2796fe,#2795fe,#2797fe,#279afd,#279cfd,#279dfd,#279dfd,#279dfd,#279bfd,#2799fd,#2796fe,#2793fe,#278efe,#2689fe,#2585fe,#2480fe,#237bfe,#2177fe,#2073fd,#1f70fd,#1e6efd,#1d6dfd,#1d6bfd,#1c6afc,#1c69fc,#1c68fc,#1b68fc,#1d6bfc,#1e6ffd,#1f70fd,#1e6ffd,#1d6cfc,#1b68fc,#1c6afc,#1f73fd,#207afd,#1f7afd,#1e74fc,#1b67fb,#1151f7,#093ef1,#0534ee,#0431ec,#032feb,#022dea,#022cea,#012be9,#012ae9,#012ae9,#012ae9,#012ae9,#0129e9,#0129e8,#0129e8,#0129e8,#0129e8,#012ae9,#0023e5,#001bdf,#0012d8,#000bd0,#000cd0,#000cd1,#000cd2,#000cd2,#000cd2,#000cd1,#000cd0,#000bd0,#000acf,#000ace,#0009cd,#0009cd,#0009ce,#000ace,#000bcf,#000bd0,#000bd0,#000bcf,#000ace,#0009cd,#0009cd,#0009cd,#0009cd,#0009cd,#0009cd,#0009cd,#0009cd,#0009cd,#0009cd,#000ace,#000acf,#000bd0,#000bd0,#000cd0,#000bd0,#000bd0,#010ed0,#0c2dd8,#2780ee,#329ff6,#33a3f7,#33a2f7,#319df6,#246ce8,#121bd3,#0d12d0)"></div>
<div style="top:371px;background:linear-gradient(90deg,#0d47f5,#0e48f6,#0e49f6,#0e4af6,#0e4af6,#0e4af6,#0e4af6,#0e4af6,#0e4af6,#0e4af6,#0e4af6,#0e4af6,#0f4bf6,#0f4cf6,#104df7,#104ef7,#104ef7,#114ff7,#1251f8,#1354f9,#1354f9,#104ef7,#0c45f4,#0a3ff3,#093ef2,#083df2,#083cf2,#083cf2,#083cf2,#083cf2,#083cf2,#083cf2,#083cf2,#093ff3,#0c45f4,#1252f8,#1b67fc,#2584fe,#27a0fd,#27b5fb,#28c1f9,#28c6f6,#28c8f5,#28c8f6,#28c6f8,#28c4f8,#28c2f9,#27bff9,#27bbfa,#27b3fb,#26a8fc,#2795fe,#257ffe,#1963fc,#0f4cf7,#073af1,#032eeb,#0027e7,#0022e4,#001fe2,#001de1,#001be0,#001be0,#001be0,#001ae0,#001ae0,#001ae0,#001be0,#001be0,#001be0,#001be0,#001ce0,#001ce1,#001de1,#001de1,#001ee2,#001fe2,#001fe3,#0020e3,#0020e3,#001fe3,#001fe3,#001fe2,#001fe2,#001fe2,#001fe2,#001fe2,#0020e3,#0021e4,#0023e5,#0026e7,#022cea,#0433ed,#0b42f3,#1457f9,#1d6bfd,#237bfe,#2587fe,#278efe,#2792fe,#2794fe,#2794fe,#2793fe,#2791fe,#268ffe,#268bfe,#2586fe,#2480fe,#2278fe,#1a63fc,#0535ef,#0432ed,#0f4af6,#155afa,#279efd,#29d5d2,#2bdcb7,#29d4d7,#2692fd,#0c44f4,#0535ef,#0535ee,#0535ef,#0739f0,#0c44f4,#1558fa,#1e6efd,#257efe,#2787ff,#278aff,#278bff,#278bfe,#268afe,#2585fe,#237dfe,#2277fe,#2279fe,#237dfe,#2481fe,#2484fe,#2483fe,#2481fe,#237dfe,#2277fe,#1f70fd,#1c6afc,#1963fb,#175dfa,#1558f9,#1353f8,#114ff7,#0f4bf6,#0d47f5,#0c45f4,#0b42f3,#0a41f3,#093df1,#0738ef,#0534ee,#0431ec,#032dea,#042feb,#0532ec,#0533ed,#0532ec,#0430eb,#032dea,#032ce9,#042eea,#042feb,#042feb,#042eea,#032ae9,#0125e6,#0020e3,#001fe2,#001ee2,#001ee2,#001de1,#001de1,#001de1,#001de1,#001ce1,#001ce0,#001ce0,#001be0,#001be0,#001bdf,#001bdf,#001bdf,#001adf,#0012d8,#000cd1,#0007ca,#0006c4,#0006c4,#0006c4,#0006c4,#0006c4,#0006c4,#0006c4,#0006c4,#0005c4,#0005c4,#0005c3,#0005c3,#0005c3,#0005c3,#0005c3,#0005c4,#0005c4,#0005c4,#0005c4,#0005c3,#0005c3,#0005c3,#0005c3,#0005c3,#0005c3,#0005c3,#0005c3,#0005c3,#0005c3,#0005c3,#0005c3,#0005c3,#0005c4,#0005c4,#0005c4,#0005c4,#0006c4,#0108c4,#0921cc,#1e61e1,#2679e8,#277ce9,#277ce9,#2678e8,#1c54de,#1118d0,#0c0fcc)"></div>
<div style="top:372px;background:linear-gradient(90deg,#0c45f5,#0d47f5,#0d48f5,#0e48f6,#0e49f6,#0e49f6,#0e49f6,#0e49f6,#0e49f6,#0e49f6,#0e49f6,#0e4af6,#0e4af6,#0e4af6,#0e4af6,#0e49f6,#0e49f6,#0e48f6,#0d47f5,#0d46f5,#0c44f4,#0b42f4,#0a3ff3,#093ef2,#083df2,#083cf2,#083bf2,#083bf2,#083bf1,#083bf1,#073bf1,#073bf1,#083bf1,#083bf2,#093ef2,#0b43f4,#114ff7,#1860fb,#2175fe,#258bfe,#279cfd,#27a8fc,#27affb,#27b1fb,#27b1fb,#27affb,#27acfc,#27a8fc,#27a3fc,#279cfd,#2792fe,#2583fe,#1f71fd,#175dfb,#0e4af6,#0738f0,#022dea,#0023e5,#001ee2,#001ce1,#001be0,#001adf,#001adf,#001adf,#001adf,#001adf,#001adf,#001adf,#001adf,#001adf,#001adf,#001adf,#001adf,#001adf,#001be0,#001be0,#001be0,#001be0,#001be0,#001be0,#001be0,#001be0,#001be0,#001be0,#001be0,#001be0,#001be0,#001be0,#001be0,#001ce0,#001ce1,#001de1,#001fe2,#0127e7,#0535ee,#0c45f4,#1253f9,#175dfa,#1a64fb,#1b66fc,#1b67fc,#1b66fc,#1a65fb,#1963fb,#1860fb,#175dfa,#1559fa,#1355f9,#1150f8,#0e48f5,#0637ef,#0534ee,#083bf1,#0a40f3,#1b68fc,#27a9fc,#27bdf0,#27a3fc,#175ffa,#0636ef,#0330ec,#022eeb,#022eeb,#032feb,#0432ed,#083bf0,#0d46f5,#1253f8,#165cf9,#1861fa,#1861fa,#175efa,#1457f8,#1150f7,#0e49f5,#0d46f4,#0d48f5,#0f4bf6,#104ef7,#1150f8,#104ff7,#0f4cf6,#0d48f5,#0b43f3,#093ef1,#0739f0,#0535ee,#0432ed,#0330ec,#032eeb,#022deb,#022cea,#022bea,#022be9,#012ae9,#0129e8,#0025e6,#0021e3,#001ce0,#0018dd,#0014da,#0014da,#0015da,#0015da,#0015da,#0014da,#0013d9,#0013d8,#0013d8,#0013d9,#0013d9,#0013d8,#0012d8,#0011d7,#0010d6,#0010d5,#0010d5,#000fd5,#000fd5,#000fd5,#000fd4,#000fd4,#000ed4,#000ed4,#000ed4,#000ed3,#000ed3,#000ed3,#000dd3,#000dd3,#000dd2,#0008cc,#0006c6,#0004c0,#0003bb,#0003bb,#0003bb,#0003bb,#0003bb,#0003bb,#0003bb,#0003bb,#0003bb,#0003bb,#0003bb,#0003bb,#0003bb,#0003bb,#0003bb,#0003bb,#0003bb,#0003bb,#0003bb,#0003bb,#0003bb,#0003bb,#0003bb,#0003bb,#0003bb,#0003bb,#0003bb,#0003bb,#0003bb,#0003bb,#0003bb,#0003bb,#0003bb,#0003bb,#0003bb,#0003bb,#0003bb,#0105bb,#0512c0,#1036cd,#1543d2,#1545d3,#1545d3,#1543d2,#1131ce,#0d13c9,#090bc5)"></div>
<div style="top:373px;background:linear-gradient(90deg,#093ff3,#0a40f3,#0a41f3,#0b42f4,#0b43f4,#0c44f4,#0c44f4,#0c45f4,#0c45f5,#0c45f5,#0c45f5,#0c45f5,#0c44f4,#0c44f4,#0b43f4,#0b42f4,#0a41f4,#0a40f3,#093ff3,#093df2,#083cf2,#073af1,#0739f1,#0739f0,#0638f0,#0638f0,#0637f0,#0637f0,#0637f0,#0637f0,#0637f0,#0637ef,#0637ef,#0637f0,#0637f0,#0739f0,#083cf1,#0b42f4,#0f4bf6,#1456f9,#1962fb,#1d6bfc,#1f72fd,#2075fd,#2075fd,#2073fd,#1f70fd,#1d6dfc,#1c69fc,#1a65fb,#1860fa,#1457f9,#0f4cf6,#0a41f3,#0636ef,#012ae9,#0020e3,#0016dc,#0012d7,#0011d7,#0011d7,#0011d7,#0011d7,#0011d7,#0011d7,#0011d7,#0011d7,#0011d7,#0011d7,#0011d7,#0011d7,#0011d7,#0011d7,#0011d6,#0011d6,#0011d6,#0011d6,#0011d6,#0011d6,#0011d6,#0011d6,#0011d6,#0011d6,#0011d6,#0011d6,#0011d6,#0011d6,#0011d6,#0011d6,#0011d6,#0011d6,#0011d6,#0011d6,#0016db,#0021e3,#022cea,#0637ef,#083cf1,#0a3ff2,#0a40f3,#0a3ff2,#093ef2,#093df1,#083bf1,#073af0,#0739f0,#0637ef,#0636ef,#0535ee,#0433ed,#032fec,#032eeb,#0330ec,#0330ec,#083cf1,#155af9,#1a66fa,#1151f7,#0533ed,#0127e7,#0024e5,#0022e4,#0021e4,#0021e4,#0021e4,#0022e4,#0023e5,#0125e6,#0227e7,#0228e7,#0228e7,#0227e7,#0125e6,#0124e5,#0023e5,#0124e5,#0125e6,#0127e7,#0227e7,#0227e7,#0127e7,#0125e6,#0124e5,#0022e4,#0020e3,#001fe2,#001de1,#001de1,#001ce0,#001ce0,#001be0,#001be0,#001bdf,#001bdf,#001adf,#001adf,#0016db,#0012d7,#000ed4,#000bd0,#0009cd,#0009cd,#0009cd,#0009cd,#0009cd,#0009cc,#0008cc,#0008cc,#0008cc,#0008cc,#0008cb,#0008cb,#0008cb,#0008cb,#0008cb,#0007ca,#0007ca,#0007ca,#0007ca,#0007ca,#0007ca,#0007c9,#0007c9,#0007c9,#0007c9,#0007c9,#0007c9,#0007c8,#0007c8,#0007c8,#0006c7,#0005c2,#0004bd,#0002b8,#0001b3,#0001b3,#0001b3,#0001b3,#0001b3,#0001b3,#0001b3,#0001b3,#0001b3,#0001b3,#0001b3,#0001b3,#0001b3,#0001b3,#0001b3,#0001b3,#0001b3,#0001b3,#0001b3,#0001b3,#0001b3,#0001b3,#0001b3,#0001b3,#0001b3,#0001b3,#0001b3,#0001b3,#0001b3,#0001b3,#0001b3,#0001b3,#0001b3,#0001b3,#0001b3,#0001b3,#0001b3,#0001b3,#0207b5,#0615bb,#081abd,#081bbd,#081bbd,#081abd,#0715bd,#070abd,#0505ba)"></div>
<div style="top:374px;background:linear-gradient(90deg,#0331ec,#0431ed,#0432ed,#0432ed,#0433ee,#0533ee,#0534ee,#0534ee,#0534ee,#0534ee,#0534ee,#0534ee,#0534ee,#0433ee,#0433ed,#0432ed,#0431ed,#0330ec,#0330ec,#032fec,#032eeb,#022eeb,#022eeb,#022deb,#022deb,#022dea,#022dea,#022dea,#022dea,#022dea,#022dea,#022dea,#022cea,#022cea,#022cea,#022dea,#022dea,#022eeb,#032fec,#0432ed,#0534ee,#0637ef,#0739f0,#073af0,#0739f0,#0739ef,#0637ef,#0636ef,#0535ee,#0534ee,#0433ed,#032fec,#022cea,#0128e8,#0024e5,#001bdf,#0012d7,#000bd0,#0008cc,#0008cc,#0008cc,#0009cc,#0009cc,#0009cc,#0009cc,#0009cc,#0009cc,#0009cc,#0009cc,#0009cc,#0008cc,#0008cc,#0008cc,#0008cc,#0008cc,#0008cc,#0008cc,#0008cc,#0008cc,#0008cc,#0008cc,#0008cc,#0008cc,#0008cc,#0008cc,#0008cc,#0008cc,#0008cc,#0008cc,#0008cc,#0008cc,#0008cc,#0008cc,#000bd0,#0012d8,#001de1,#0127e7,#012ae9,#022ae9,#012ae9,#0129e8,#0129e8,#0128e8,#0127e7,#0127e7,#0026e7,#0025e6,#0025e6,#0024e6,#0024e5,#0023e5,#0023e5,#0023e5,#0022e4,#0024e5,#0228e7,#0228e7,#0022e4,#001be0,#0018dd,#0015db,#0013d9,#0013d8,#0013d8,#0012d8,#0012d8,#0012d8,#0012d8,#0012d7,#0012d7,#0011d7,#0011d7,#0011d7,#0011d7,#0011d7,#0012d7,#0012d7,#0012d8,#0012d8,#0012d7,#0012d7,#0011d7,#0011d6,#0010d5,#000fd5,#000fd4,#000fd4,#000ed4,#000ed4,#000ed3,#000ed3,#000ed3,#000ed3,#000dd3,#000dd3,#000dd2,#000acf,#0008cc,#0007c9,#0006c6,#0005c3,#0005c3,#0005c3,#0005c3,#0005c3,#0005c2,#0005c2,#0005c2,#0005c2,#0005c2,#0005c2,#0005c1,#0005c1,#0005c1,#0005c1,#0005c1,#0005c1,#0005c1,#0005c0,#0005c0,#0004c0,#0004c0,#0004c0,#0004c0,#0004c0,#0004bf,#0004bf,#0004bf,#0004bf,#0004bf,#0004be,#0003ba,#0001b5,#0000b0,#0000ac,#0000ac,#0000ac,#0000ac,#0000ac,#0000ac,#0000ac,#0000ac,#0000ac,#0000ac,#0000ac,#0000ac,#0000ac,#0000ac,#0000ac,#0000ac,#0000ac,#0000ac,#0000ac,#0000ac,#0000ac,#0000ac,#0000ac,#0000ac,#0000ac,#0000ac,#0000ac,#0000ac,#0000ac,#0000ac,#0000ac,#0000ac,#0000ac,#0000ac,#0000ac,#0000ac,#0000ac,#0000ac,#0102ad,#0207af,#0308b0,#0308b0,#0308b0,#0308b0,#0207b0,#0203b0,#0102af)"></div>
<div style="top:375px;background:linear-gradient(90deg,#001fe2,#001fe2,#001fe2,#001fe2,#001fe2,#001fe2,#001fe2,#001fe2,#001fe2,#001fe2,#001fe2,#001fe2,#001fe2,#001fe2,#001fe2,#001ee2,#001ee2,#001ee2,#001ee2,#001ee2,#001ee2,#001ee2,#001ee1,#001de1,#001de1,#001de1,#001de1,#001de1,#001de1,#001de1,#001de1,#001de1,#001de1,#001de1,#001de1,#001de1,#001de1,#001de1,#001de1,#001de1,#001de1,#001de1,#001de1,#001de1,#001de1,#001de1,#001de1,#001de1,#001ce1,#001ce0,#001ce0,#001bdf,#001ade,#0019de,#0017dc,#000fd4,#0009cd,#0006c6,#0005c3,#0005c3,#0005c3,#0005c3,#0005c3,#0005c3,#0005c3,#0005c3,#0005c3,#0005c3,#0005c3,#0005c3,#0005c3,#0005c3,#0005c3,#0005c3,#0005c3,#0005c3,#0005c3,#0005c3,#0005c3,#0005c3,#0005c3,#0005c3,#0005c3,#0005c3,#0005c3,#0005c3,#0005c3,#0005c3,#0005c3,#0005c3,#0005c3,#0005c3,#0005c3,#0006c6,#0009cd,#000fd5,#0019dd,#001ade,#001ade,#0019de,#0019de,#0018dd,#0018dd,#0017dd,#0017dc,#0017dc,#0016dc,#0016db,#0016db,#0015db,#0015da,#0014da,#0014da,#0014d9,#0013d9,#0013d9,#0011d7,#000fd5,#000dd2,#000bd1,#000acf,#0009cd,#0009cd,#0009cd,#0009cc,#0009cc,#0008cc,#0008cc,#0008cc,#0008cc,#0008cc,#0008cb,#0008cb,#0008cb,#0008cb,#0008cb,#0008cb,#0008cb,#0008cb,#0008cb,#0008ca,#0007ca,#0007ca,#0007ca,#0007ca,#0007c9,#0007c9,#0007c9,#0007c9,#0007c9,#0007c9,#0007c8,#0007c8,#0007c8,#0007c8,#0007c8,#0006c5,#0005c2,#0004c0,#0004bd,#0003bb,#0003bb,#0003ba,#0003ba,#0003ba,#0003ba,#0003ba,#0003ba,#0003ba,#0003ba,#0003b9,#0003b9,#0003b9,#0002b9,#0002b9,#0002b9,#0002b9,#0002b9,#0002b8,#0002b8,#0002b8,#0002b8,#0002b8,#0002b8,#0002b8,#0002b7,#0002b7,#0002b7,#0002b7,#0002b7,#0002b6,#0001b2,#0000ae,#0000aa,#0000a6,#0000a6,#0000a6,#0000a6,#0000a6,#0000a6,#0000a6,#0000a6,#0000a6,#0000a6,#0000a6,#0000a6,#0000a6,#0000a6,#0000a6,#0000a6,#0000a6,#0000a6,#0000a6,#0000a6,#0000a6,#0000a6,#0000a6,#0000a6,#0000a6,#0000a6,#0000a6,#0000a6,#0000a6,#0000a6,#0000a6,#0000a6,#0000a6,#0000a6,#0000a6,#0000a6,#0000a6,#0000a6,#0001a6,#0102a7,#0102a7,#0103a7,#0103a7,#0102a7,#0102a7,#0101a7,#0000a7)"></div>
<div style="top:376px;background:linear-gradient(90deg,#0010d5,#0010d5,#0010d5,#0010d5,#0010d5,#0010d5,#0010d5,#0010d5,#000fd5,#000fd5,#000fd5,#000fd5,#000fd5,#000fd5,#000fd5,#000fd5,#000fd5,#000fd5,#000fd4,#000fd4,#000fd4,#000fd4,#000fd4,#000fd4,#000fd4,#000fd4,#000fd4,#000fd4,#000fd4,#000fd4,#000fd4,#000ed4,#000ed4,#000ed4,#000ed4,#000ed4,#000ed4,#000ed4,#000ed4,#000ed4,#000ed3,#000ed3,#000ed3,#000ed3,#000ed3,#000ed3,#000ed3,#000ed3,#000ed3,#000ed3,#000ed3,#000dd3,#000dd2,#000cd2,#000cd1,#0007ca,#0005c3,#0004be,#0003bb,#0003bb,#0003bb,#0003bb,#0003bb,#0003bb,#0003bb,#0003bb,#0003bb,#0003bb,#0003bb,#0003bb,#0003bb,#0003bb,#0003bb,#0003bb,#0003bb,#0003bb,#0003bb,#0003bb,#0003bb,#0003bb,#0003bb,#0003bb,#0003bb,#0003bb,#0003bb,#0003bb,#0003bb,#0003bb,#0003bb,#0003bb,#0003bb,#0003bb,#0003bb,#0004be,#0005c4,#0008ca,#000cd1,#000dd2,#000dd2,#000cd2,#000cd1,#000cd1,#000bd1,#000bd0,#000bd0,#000bd0,#000bcf,#000acf,#000acf,#000acf,#000ace,#000ace,#0009ce,#0009cd,#0009cd,#0009cd,#0008cb,#0007ca,#0007c8,#0006c6,#0006c5,#0005c3,#0005c3,#0005c3,#0005c3,#0005c3,#0005c2,#0005c2,#0005c2,#0005c2,#0005c2,#0005c2,#0005c2,#0005c2,#0005c1,#0005c1,#0005c1,#0005c1,#0005c1,#0005c1,#0005c1,#0005c1,#0005c0,#0004c0,#0004c0,#0004c0,#0004c0,#0004c0,#0004c0,#0004c0,#0004bf,#0004bf,#0004bf,#0004bf,#0004bf,#0004bf,#0003bc,#0003ba,#0002b8,#0001b5,#0001b3,#0001b3,#0001b3,#0001b3,#0001b2,#0001b2,#0001b2,#0001b2,#0001b2,#0001b2,#0001b2,#0001b2,#0001b2,#0000b1,#0000b1,#0000b1,#0000b1,#0000b1,#0000b1,#0000b1,#0000b1,#0000b0,#0000b0,#0000b0,#0000b0,#0000b0,#0000b0,#0000b0,#0000b0,#0000b0,#0000af,#0000ab,#0000a7,#0000a4,#0000a0,#0000a0,#0000a0,#0000a0,#0000a0,#0000a0,#0000a0,#0000a0,#0000a0,#0000a0,#0000a0,#0000a0,#0000a0,#0000a0,#0000a0,#0000a0,#0000a0,#0000a0,#0000a0,#0000a0,#0000a0,#0000a0,#0000a0,#0000a0,#0000a0,#0000a0,#0000a0,#0000a0,#0000a0,#0000a0,#0000a0,#0000a0,#0000a0,#0000a0,#0000a0,#0000a0,#0000a0,#0000a0,#0000a0,#0001a0,#0001a0,#0001a0,#0001a0,#0001a0,#0001a0,#0000a0,#0000a0)"></div>
<div style="top:377px;background:linear-gradient(90deg,#0007ca,#0007ca,#0007ca,#0007ca,#0007ca,#0007ca,#0007ca,#0007ca,#0007ca,#0007ca,#0007ca,#0007ca,#0007ca,#0007ca,#0007ca,#0007ca,#0007ca,#0007c9,#0007c9,#0007c9,#0007c9,#0007c9,#0007c9,#0007c9,#0007c9,#0007c9,#0007c9,#0007c9,#0007c9,#0007c9,#0007c9,#0007c9,#0007c9,#0007c9,#0007c9,#0007c9,#0007c9,#0007c9,#0007c9,#0007c9,#0007c9,#0007c9,#0007c8,#0007c8,#0007c8,#0007c8,#0007c8,#0007c8,#0007c8,#0007c8,#0007c8,#0007c8,#0007c8,#0007c8,#0006c7,#0005c1,#0003bb,#0002b6,#0001b3,#0001b3,#0001b3,#0001b3,#0001b3,#0001b3,#0001b3,#0001b3,#0001b3,#0001b3,#0001b3,#0001b3,#0001b3,#0001b3,#0001b3,#0001b3,#0001b3,#0001b3,#0001b3,#0001b3,#0001b3,#0001b3,#0001b3,#0001b3,#0001b3,#0001b3,#0001b3,#0001b3,#0001b3,#0001b3,#0001b3,#0001b3,#0001b3,#0001b3,#0001b3,#0002b6,#0003bb,#0005c1,#0006c7,#0006c8,#0006c7,#0006c7,#0006c7,#0006c7,#0006c6,#0006c6,#0006c6,#0006c6,#0006c5,#0006c5,#0006c5,#0006c5,#0006c4,#0006c4,#0005c4,#0005c4,#0005c3,#0005c3,#0005c2,#0004c0,#0004bf,#0004bd,#0003bc,#0003bb,#0003bb,#0003ba,#0003ba,#0003ba,#0003ba,#0003ba,#0003ba,#0003ba,#0003ba,#0003ba,#0003b9,#0003b9,#0003b9,#0003b9,#0002b9,#0002b9,#0002b9,#0002b9,#0002b9,#0002b8,#0002b8,#0002b8,#0002b8,#0002b8,#0002b8,#0002b8,#0002b8,#0002b8,#0002b7,#0002b7,#0002b7,#0002b7,#0002b7,#0002b7,#0001b5,#0001b2,#0000b0,#0000ae,#0000ac,#0000ac,#0000ac,#0000ac,#0000ac,#0000ac,#0000ac,#0000ab,#0000ab,#0000ab,#0000ab,#0000ab,#0000ab,#0000ab,#0000ab,#0000ab,#0000ab,#0000aa,#0000aa,#0000aa,#0000aa,#0000aa,#0000aa,#0000aa,#0000aa,#0000aa,#0000a9,#0000a9,#0000a9,#0000a9,#0000a9,#0000a5,#0000a1,#00009d,#00009a,#000099,#000099,#000099,#000099,#000099,#000099,#000099,#000099,#000099,#000099,#000099,#000099,#000099,#000099,#000099,#000099,#000099,#000099,#000099,#000099,#000099,#000099,#000099,#000099,#000099,#000099,#000099,#000099,#000099,#000099,#000099,#000099,#000099,#000099,#000099,#000099,#000099,#000099,#00009a,#00009a,#00009a,#00009a,#00009a,#00009a,#00009a,#00009a)"></div>
<div style="top:378px;background:linear-gradient(90deg,#0005c1,#0005c0,#0005c0,#0005c0,#0005c0,#0005c0,#0005c0,#0004c0,#0004c0,#0004c0,#0004c0,#0004c0,#0004c0,#0004c0,#0004c0,#0004c0,#0004c0,#0004c0,#0004c0,#0004c0,#0004c0,#0004c0,#0004c0,#0004c0,#0004c0,#0004c0,#0004c0,#0004c0,#0004c0,#0004c0,#0004c0,#0004c0,#0004c0,#0004bf,#0004bf,#0004bf,#0004bf,#0004bf,#0004bf,#0004bf,#0004bf,#0004bf,#0004bf,#0004bf,#0004bf,#0004bf,#0004bf,#0004bf,#0004bf,#0004bf,#0004bf,#0004bf,#0004bf,#0004bf,#0004be,#0002b9,#0001b4,#0000ae,#0000ac,#0000ac,#0000ac,#0000ac,#0000ac,#0000ac,#0000ac,#0000ac,#0000ac,#0000ac,#0000ac,#0000ac,#0000ac,#0000ac,#0000ac,#0000ac,#0000ac,#0000ac,#0000ac,#0000ac,#0000ac,#0000ac,#0000ac,#0000ac,#0000ac,#0000ac,#0000ac,#0000ac,#0000ac,#0000ac,#0000ac,#0000ac,#0000ac,#0000ac,#0000ac,#0000ae,#0001b4,#0002b9,#0004be,#0004bf,#0004be,#0004be,#0004be,#0004be,#0004bd,#0004bd,#0004bd,#0004bd,#0003bd,#0003bc,#0003bc,#0003bc,#0003bc,#0003bc,#0003bb,#0003bb,#0003bb,#0003bb,#0003b9,#0002b8,#0002b7,#0002b6,#0001b4,#0001b3,#0001b3,#0001b3,#0001b3,#0001b3,#0001b2,#0001b2,#0001b2,#0001b2,#0001b2,#0001b2,#0001b2,#0001b2,#0001b2,#0001b1,#0000b1,#0000b1,#0000b1,#0000b1,#0000b1,#0000b1,#0000b1,#0000b1,#0000b1,#0000b0,#0000b0,#0000b0,#0000b0,#0000b0,#0000b0,#0000b0,#0000b0,#0000b0,#0000b0,#0000af,#0000ad,#0000ac,#0000aa,#0000a8,#0000a6,#0000a6,#0000a6,#0000a6,#0000a6,#0000a5,#0000a5,#0000a5,#0000a5,#0000a5,#0000a5,#0000a5,#0000a5,#0000a5,#0000a4,#0000a4,#0000a4,#0000a4,#0000a4,#0000a4,#0000a4,#0000a4,#0000a4,#0000a4,#0000a3,#0000a3,#0000a3,#0000a3,#0000a3,#0000a3,#0000a3,#00009f,#00009b,#000097,#000095,#000095,#000095,#000095,#000095,#000095,#000095,#000095,#000095,#000095,#000095,#000095,#000095,#000095,#000095,#000095,#000095,#000095,#000095,#000095,#000095,#000095,#000095,#000095,#000095,#000095,#000095,#000095,#000095,#000095,#000095,#000095,#000095,#000095,#000095,#000095,#000095,#000095,#000095,#000095,#000095,#000095,#000095,#000095,#000095,#000095,#000095)"></div>
<div style="top:379px;background:linear-gradient(90deg,#0002b8,#0002b8,#0002b8,#0002b8,#0002b8,#0002b8,#0002b8,#0002b8,#0002b8,#0002b8,#0002b8,#0002b8,#0002b8,#0002b8,#0002b8,#0002b8,#0002b8,#0002b8,#0002b8,#0002b8,#0002b8,#0002b8,#0002b8,#0002b8,#0002b8,#0002b8,#0002b8,#0002b8,#0002b8,#0002b8,#0002b8,#0002b7,#0002b7,#0002b7,#0002b7,#0002b7,#0002b7,#0002b7,#0002b7,#0002b7,#0002b7,#0002b7,#0002b7,#0002b7,#0002b7,#0002b7,#0002b7,#0002b7,#0002b7,#0002b7,#0002b7,#0002b7,#0002b7,#0002b7,#0002b6,#0000b1,#0000ad,#0000a8,#0000a6,#0000a6,#0000a6,#0000a6,#0000a6,#0000a6,#0000a6,#0000a6,#0000a6,#0000a6,#0000a6,#0000a6,#0000a6,#0000a6,#0000a6,#0000a6,#0000a6,#0000a6,#0000a6,#0000a6,#0000a6,#0000a6,#0000a6,#0000a6,#0000a6,#0000a6,#0000a6,#0000a6,#0000a6,#0000a6,#0000a6,#0000a6,#0000a6,#0000a6,#0000a6,#0000a8,#0000ad,#0000b1,#0002b6,#0002b7,#0002b6,#0002b6,#0002b6,#0002b6,#0002b6,#0001b5,#0001b5,#0001b5,#0001b5,#0001b5,#0001b4,#0001b4,#0001b4,#0001b4,#0001b4,#0001b3,#0001b3,#0001b3,#0001b2,#0000b1,#0000af,#0000ae,#0000ad,#0000ac,#0000ac,#0000ac,#0000ac,#0000ac,#0000ac,#0000ac,#0000ac,#0000ab,#0000ab,#0000ab,#0000ab,#0000ab,#0000ab,#0000ab,#0000ab,#0000ab,#0000ab,#0000ab,#0000aa,#0000aa,#0000aa,#0000aa,#0000aa,#0000aa,#0000aa,#0000aa,#0000aa,#0000aa,#0000aa,#0000a9,#0000a9,#0000a9,#0000a9,#0000a9,#0000a7,#0000a5,#0000a3,#0000a2,#0000a0,#0000a0,#00009f,#00009f,#00009f,#00009f,#00009f,#00009f,#00009f,#00009f,#00009f,#00009f,#00009e,#00009e,#00009e,#00009e,#00009e,#00009e,#00009e,#00009e,#00009e,#00009d,#00009d,#00009d,#00009d,#00009d,#00009d,#00009d,#00009d,#00009d,#00009c,#000099,#000096,#000093,#000090,#000090,#000090,#000090,#000090,#000090,#000090,#000090,#000090,#000090,#000090,#000090,#000090,#000090,#000090,#000090,#000090,#000090,#000090,#000090,#000090,#000090,#000090,#000090,#000090,#000090,#000090,#000090,#000090,#000090,#000090,#000090,#000090,#000090,#000090,#000090,#000090,#000090,#000090,#000090,#000090,#000090,#000090,#000090,#000090,#000090,#000090)"></div>
<div style="top:380px;background:linear-gradient(90deg,#0000b1,#0000b1,#0000b1,#0000b1,#0000b1,#0000b1,#0000b1,#0000b1,#0000b1,#0000b1,#0000b1,#0000b1,#0000b1,#0000b0,#0000b0,#0000b0,#0000b0,#0000b0,#0000b0,#0000b0,#0000b0,#0000b0,#0000b0,#0000b0,#0000b0,#0000b0,#0000b0,#0000b0,#0000b0,#0000b0,#0000b0,#0000b0,#0000b0,#0000b0,#0000b0,#0000b0,#0000b0,#0000b0,#0000b0,#0000b0,#0000b0,#0000b0,#0000b0,#0000b0,#0000b0,#0000b0,#0000b0,#0000b0,#0000b0,#0000b0,#0000b0,#0000b0,#0000af,#0000af,#0000af,#0000ab,#0000a6,#0000a2,#0000a0,#0000a0,#0000a0,#0000a0,#0000a0,#0000a0,#0000a0,#0000a0,#0000a0,#0000a0,#0000a0,#0000a0,#0000a0,#0000a0,#0000a0,#0000a0,#0000a0,#0000a0,#0000a0,#0000a0,#0000a0,#0000a0,#0000a0,#0000a0,#0000a0,#0000a0,#0000a0,#0000a0,#0000a0,#0000a0,#0000a0,#0000a0,#0000a0,#0000a0,#0000a0,#0000a2,#0000a6,#0000ab,#0000af,#0000af,#0000af,#0000af,#0000af,#0000af,#0000ae,#0000ae,#0000ae,#0000ae,#0000ae,#0000ad,#0000ad,#0000ad,#0000ad,#0000ad,#0000ad,#0000ad,#0000ac,#0000ac,#0000ab,#0000aa,#0000a9,#0000a8,#0000a7,#0000a6,#0000a6,#0000a6,#0000a6,#0000a6,#0000a5,#0000a5,#0000a5,#0000a5,#0000a5,#0000a5,#0000a5,#0000a5,#0000a5,#0000a5,#0000a5,#0000a4,#0000a4,#0000a4,#0000a4,#0000a4,#0000a4,#0000a4,#0000a4,#0000a4,#0000a4,#0000a4,#0000a3,#0000a3,#0000a3,#0000a3,#0000a3,#0000a3,#0000a3,#0000a3,#0000a1,#00009f,#00009d,#00009b,#00009a,#000099,#000099,#000099,#000099,#000099,#000099,#000099,#000099,#000099,#000099,#000099,#000098,#000098,#000098,#000098,#000098,#000098,#000098,#000098,#000098,#000098,#000098,#000097,#000097,#000097,#000097,#000097,#000097,#000097,#000097,#000094,#000091,#00008e,#00008c,#00008c,#00008c,#00008c,#00008c,#00008c,#00008c,#00008c,#00008c,#00008c,#00008c,#00008c,#00008c,#00008c,#00008c,#00008c,#00008c,#00008c,#00008c,#00008c,#00008c,#00008c,#00008c,#00008c,#00008c,#00008c,#00008c,#00008c,#00008c,#00008c,#00008c,#00008c,#00008c,#00008c,#00008c,#00008c,#00008c,#00008c,#00008c,#00008c,#00008c,#00008c,#00008c,#00008c,#00008c,#00008c,#00008c)"></div>
<div style="top:381px;background:linear-gradient(90deg,#0000aa,#0000aa,#0000aa,#0000aa,#0000aa,#0000aa,#0000aa,#0000aa,#0000aa,#0000aa,#0000aa,#0000aa,#0000aa,#0000aa,#0000aa,#0000aa,#0000aa,#0000aa,#0000aa,#0000aa,#0000aa,#0000aa,#0000aa,#0000aa,#0000aa,#0000aa,#0000aa,#0000aa,#0000aa,#0000aa,#0000aa,#0000aa,#0000aa,#0000aa,#0000aa,#0000a9,#0000a9,#0000a9,#0000a9,#0000a9,#0000a9,#0000a9,#0000a9,#0000a9,#0000a9,#0000a9,#0000a9,#0000a9,#0000a9,#0000a9,#0000a9,#0000a9,#0000a9,#0000a9,#0000a9,#0000a5,#0000a0,#00009c,#000099,#000099,#000099,#000099,#000099,#000099,#000099,#000099,#000099,#000099,#000099,#000099,#000099,#000099,#000099,#000099,#000099,#000099,#000099,#000099,#000099,#000099,#000099,#000099,#000099,#000099,#000099,#000099,#000099,#000099,#000099,#000099,#000099,#000099,#000099,#00009c,#0000a0,#0000a5,#0000a9,#0000a9,#0000a9,#0000a9,#0000a8,#0000a8,#0000a8,#0000a8,#0000a8,#0000a8,#0000a7,#0000a7,#0000a7,#0000a7,#0000a7,#0000a7,#0000a6,#0000a6,#0000a6,#0000a6,#0000a5,#0000a4,#0000a3,#0000a2,#0000a1,#0000a0,#0000a0,#00009f,#00009f,#00009f,#00009f,#00009f,#00009f,#00009f,#00009f,#00009f,#00009f,#00009f,#00009e,#00009e,#00009e,#00009e,#00009e,#00009e,#00009e,#00009e,#00009e,#00009e,#00009e,#00009d,#00009d,#00009d,#00009d,#00009d,#00009d,#00009d,#00009d,#00009d,#00009d,#00009c,#00009b,#000099,#000097,#000096,#000095,#000094,#000094,#000094,#000094,#000094,#000094,#000094,#000094,#000094,#000094,#000094,#000094,#000094,#000093,#000093,#000093,#000093,#000093,#000093,#000093,#000093,#000093,#000093,#000093,#000093,#000093,#000092,#000092,#000092,#000092,#00008f,#00008d,#00008c,#00008c,#00008c,#00008c,#00008c,#00008c,#00008c,#00008c,#00008c,#00008c,#00008c,#00008c,#00008c,#00008c,#00008c,#00008c,#00008c,#00008c,#00008c,#00008c,#00008c,#00008c,#00008c,#00008c,#00008c,#00008c,#00008c,#00008c,#00008c,#00008c,#00008c,#00008c,#00008c,#00008c,#00008c,#00008c,#00008c,#00008c,#00008c,#00008c,#00008c,#00008c,#00008c,#00008c,#00008c,#00008c,#00008c,#00008c)"></div>
<div style="top:382px;background:linear-gradient(90deg,#0000a4,#0000a4,#0000a4,#0000a4,#0000a4,#0000a4,#0000a4,#0000a4,#0000a4,#0000a4,#0000a4,#0000a4,#0000a4,#0000a4,#0000a4,#0000a4,#0000a4,#0000a4,#0000a4,#0000a4,#0000a4,#0000a4,#0000a4,#0000a4,#0000a3,#0000a3,#0000a3,#0000a3,#0000a3,#0000a3,#0000a3,#0000a3,#0000a3,#0000a3,#0000a3,#0000a3,#0000a3,#0000a3,#0000a3,#0000a3,#0000a3,#0000a3,#0000a3,#0000a3,#0000a3,#0000a3,#0000a3,#0000a3,#0000a3,#0000a3,#0000a3,#0000a3,#0000a3,#0000a3,#0000a2,#00009e,#00009a,#000096,#000095,#000095,#000095,#000095,#000095,#000095,#000095,#000095,#000095,#000095,#000095,#000095,#000095,#000095,#000095,#000095,#000095,#000095,#000095,#000095,#000095,#000095,#000095,#000095,#000095,#000095,#000095,#000095,#000095,#000095,#000095,#000095,#000095,#000095,#000095,#000096,#00009a,#00009e,#0000a2,#0000a3,#0000a2,#0000a2,#0000a2,#0000a2,#0000a2,#0000a2,#0000a1,#0000a1,#0000a1,#0000a1,#0000a1,#0000a1,#0000a1,#0000a0,#0000a0,#0000a0,#0000a0,#0000a0,#00009f,#00009e,#00009d,#00009c,#00009a,#00009a,#000099,#000099,#000099,#000099,#000099,#000099,#000099,#000099,#000099,#000099,#000099,#000099,#000098,#000098,#000098,#000098,#000098,#000098,#000098,#000098,#000098,#000098,#000098,#000098,#000098,#000097,#000097,#000097,#000097,#000097,#000097,#000097,#000097,#000097,#000095,#000094,#000093,#000091,#000090,#000090,#000090,#000090,#000090,#000090,#00008f,#00008f,#00008f,#00008f,#00008f,#00008f,#00008f,#00008f,#00008f,#00008f,#00008f,#00008f,#00008f,#00008f,#00008e,#00008e,#00008e,#00008e,#00008e,#00008e,#00008e,#00008e,#00008e,#00008e,#00008d,#00008c,#00008c,#00008c,#00008c,#00008c,#00008c,#00008c,#00008c,#00008c,#00008c,#00008c,#00008c,#00008c,#00008c,#00008c,#00008c,#00008c,#00008c,#00008c,#00008c,#00008c,#00008c,#00008c,#00008c,#00008c,#00008c,#00008c,#00008c,#00008c,#00008c,#00008c,#00008c,#00008c,#00008c,#00008c,#00008c,#00008c,#00008c,#00008c,#00008c,#00008c,#00008c,#00008c,#00008c,#00008c,#00008c,#00008c,#00008c,#00008c,#00008c)"></div>
<div style="top:383px;background:linear-gradient(90deg,#00009e,#00009e,#00009e,#00009e,#00009e,#00009e,#00009e,#00009e,#00009e,#00009e,#00009e,#00009e,#00009e,#00009e,#00009d,#00009d,#00009d,#00009d,#00009d,#00009d,#00009d,#00009d,#00009d,#00009d,#00009d,#00009d,#00009d,#00009d,#00009d,#00009d,#00009d,#00009d,#00009d,#00009d,#00009d,#00009d,#00009d,#00009d,#00009d,#00009d,#00009d,#00009d,#00009d,#00009d,#00009d,#00009d,#00009d,#00009d,#00009d,#00009d,#00009d,#00009d,#00009d,#00009d,#00009c,#000098,#000095,#000092,#000090,#000090,#000090,#000090,#000090,#000090,#000090,#000090,#000090,#000090,#000090,#000090,#000090,#000090,#000090,#000090,#000090,#000090,#000090,#000090,#000090,#000090,#000090,#000090,#000090,#000090,#000090,#000090,#000090,#000090,#000090,#000090,#000090,#000090,#000090,#000092,#000095,#000098,#00009c,#00009c,#00009c,#00009c,#00009c,#00009c,#00009c,#00009b,#00009b,#00009b,#00009b,#00009b,#00009b,#00009a,#00009a,#00009a,#00009a,#00009a,#00009a,#000099,#000099,#000098,#000097,#000096,#000095,#000095,#000094,#000094,#000094,#000094,#000094,#000094,#000094,#000094,#000094,#000094,#000094,#000094,#000094,#000094,#000093,#000093,#000093,#000093,#000093,#000093,#000093,#000093,#000093,#000093,#000093,#000093,#000093,#000093,#000093,#000092,#000092,#000092,#000092,#000092,#000091,#00008f,#00008e,#00008d,#00008c,#00008c,#00008c,#00008c,#00008c,#00008c,#00008c,#00008c,#00008c,#00008c,#00008c,#00008c,#00008c,#00008c,#00008c,#00008c,#00008c,#00008c,#00008c,#00008c,#00008c,#00008c,#00008c,#00008c,#00008c,#00008c,#00008c,#00008c,#00008c,#00008c,#00008c,#00008c,#00008c,#00008c,#00008c,#00008c,#00008c,#00008c,#00008c,#00008c,#00008c,#00008c,#00008c,#00008c,#00008c,#00008c,#00008c,#00008c,#00008c,#00008c,#00008c,#00008c,#00008c,#00008c,#00008c,#00008c,#00008c,#00008c,#00008c,#00008c,#00008c,#00008c,#00008c,#00008c,#00008c,#00008c,#00008c,#00008c,#00008c,#00008c,#00008c,#00008c,#00008c,#00008c,#00008c,#00008c,#00008c,#00008c,#00008c,#00008c,#00008c)"></div>
<div style="top:384px;background:linear-gradient(90deg,#000098,#000098,#000098,#000098,#000098,#000098,#000098,#000098,#000098,#000098,#000098,#000098,#000098,#000098,#000098,#000098,#000098,#000098,#000098,#000098,#000097,#000097,#000097,#000097,#000097,#000097,#000097,#000097,#000097,#000097,#000097,#000097,#000097,#000097,#000097,#000097,#000097,#000097,#000097,#000097,#000097,#000097,#000097,#000097,#000097,#000097,#000097,#000097,#000097,#000097,#000097,#000097,#000097,#000097,#000097,#000094,#000090,#00008d,#00008c,#00008c,#00008c,#00008c,#00008c,#00008c,#00008c,#00008c,#00008c,#00008c,#00008c,#00008c,#00008c,#00008c,#00008c,#00008c,#00008c,#00008c,#00008c,#00008c,#00008c,#00008c,#00008c,#00008c,#00008c,#00008c,#00008c,#00008c,#00008c,#00008c,#00008c,#00008c,#00008c,#00008c,#00008c,#00008d,#000090,#000094,#000097,#000097,#000097,#000096,#000096,#000096,#000096,#000096,#000096,#000096,#000096,#000095,#000095,#000095,#000095,#000095,#000095,#000095,#000095,#000094,#000094,#000093,#000092,#000091,#000091,#000090,#000090,#000090,#000090,#000090,#000090,#000090,#00008f,#00008f,#00008f,#00008f,#00008f,#00008f,#00008f,#00008f,#00008f,#00008f,#00008f,#00008f,#00008f,#00008f,#00008f,#00008e,#00008e,#00008e,#00008e,#00008e,#00008e,#00008e,#00008e,#00008e,#00008e,#00008e,#00008e,#00008e,#00008d,#00008c,#00008c,#00008c,#00008c,#00008c,#00008c,#00008c,#00008c,#00008c,#00008c,#00008c,#00008c,#00008c,#00008c,#00008c,#00008c,#00008c,#00008c,#00008c,#00008c,#00008c,#00008c,#00008c,#00008c,#00008c,#00008c,#00008c,#00008c,#00008c,#00008c,#00008c,#00008c,#00008c,#00008c,#00008c,#00008c,#00008c,#00008c,#00008c,#00008c,#00008c,#00008c,#00008c,#00008c,#00008c,#00008c,#00008c,#00008c,#00008c,#00008c,#00008c,#00008c,#00008c,#00008c,#00008c,#00008c,#00008c,#00008c,#00008c,#00008c,#00008c,#00008c,#00008c,#00008c,#00008c,#00008c,#00008c,#00008c,#00008c,#00008c,#00008c,#00008c,#00008c,#00008c,#00008c,#00008c,#00008c,#00008c,#00008c,#00008c,#00008c,#00008c,#00008c,#00008c)"></div>
<div style="top:385px;background:linear-gradient(90deg,#000093,#000093,#000093,#000093,#000093,#000093,#000093,#000093,#000093,#000093,#000093,#000093,#000093,#000093,#000093,#000093,#000093,#000093,#000093,#000093,#000093,#000093,#000093,#000093,#000093,#000093,#000093,#000093,#000093,#000093,#000093,#000093,#000093,#000093,#000093,#000093,#000093,#000093,#000092,#000092,#000092,#000092,#000092,#000092,#000092,#000092,#000092,#000092,#000092,#000092,#000092,#000092,#000092,#000092,#000092,#00008f,#00008c,#00008c,#00008c,#00008c,#00008c,#00008c,#00008c,#00008c,#00008c,#00008c,#00008c,#00008c,#00008c,#00008c,#00008c,#00008c,#00008c,#00008c,#00008c,#00008c,#00008c,#00008c,#00008c,#00008c,#00008c,#00008c,#00008c,#00008c,#00008c,#00008c,#00008c,#00008c,#00008c,#00008c,#00008c,#00008c,#00008c,#00008c,#00008c,#00008f,#000092,#000092,#000092,#000092,#000092,#000092,#000092,#000091,#000091,#000091,#000091,#000091,#000091,#000091,#000091,#000090,#000090,#000090,#000090,#000090,#00008f,#00008e,#00008e,#00008d,#00008d,#00008c,#00008c,#00008c,#00008c,#00008c,#00008c,#00008c,#00008c,#00008c,#00008c,#00008c,#00008c,#00008c,#00008c,#00008c,#00008c,#00008c,#00008c,#00008c,#00008c,#00008c,#00008c,#00008c,#00008c,#00008c,#00008c,#00008c,#00008c,#00008c,#00008c,#00008c,#00008c,#00008c,#00008c,#00008c,#00008c,#00008c,#00008c,#00008c,#00008c,#00008c,#00008c,#00008c,#00008c,#00008c,#00008c,#00008c,#00008c,#00008c,#00008c,#00008c,#00008c,#00008c,#00008c,#00008c,#00008c,#00008c,#00008c,#00008c,#00008c,#00008c,#00008c,#00008c,#00008c,#00008c,#00008c,#00008c,#00008c,#00008c,#00008c,#00008c,#00008c,#00008c,#00008c,#00008c,#00008c,#00008c,#00008c,#00008c,#00008c,#00008c,#00008c,#00008c,#00008c,#00008c,#00008c,#00008c,#00008c,#00008c,#00008c,#00008c,#00008c,#00008c,#00008c,#00008c,#00008c,#00008c,#00008c,#00008c,#00008c,#00008c,#00008c,#00008c,#00008c,#00008c,#00008c,#00008c,#00008c,#00008c,#00008c,#00008c,#00008c,#00008c,#00008c,#00008c,#00008c,#00008c,#00008c,#00008c,#00008c)"></div>
<div style="top:386px;background:linear-gradient(90deg,#00008f,#00008f,#00008f,#00008f,#00008f,#00008f,#00008e,#00008e,#00008e,#00008e,#00008e,#00008e,#00008e,#00008e,#00008e,#00008e,#00008e,#00008e,#00008e,#00008e,#00008e,#00008e,#00008e,#00008e,#00008e,#00008e,#00008e,#00008e,#00008e,#00008e,#00008e,#00008e,#00008e,#00008e,#00008e,#00008e,#00008e,#00008e,#00008e,#00008e,#00008e,#00008e,#00008e,#00008e,#00008e,#00008e,#00008e,#00008e,#00008e,#00008e,#00008e,#00008e,#00008e,#00008e,#00008d,#00008c,#00008c,#00008c,#00008c,#00008c,#00008c,#00008c,#00008c,#00008c,#00008c,#00008c,#00008c,#00008c,#00008c,#00008c,#00008c,#00008c,#00008c,#00008c,#00008c,#00008c,#00008c,#00008c,#00008c,#00008c,#00008c,#00008c,#00008c,#00008c,#00008c,#00008c,#00008c,#00008c,#00008c,#00008c,#00008c,#00008c,#00008c,#00008c,#00008c,#00008c,#00008d,#00008e,#00008d,#00008d,#00008d,#00008d,#00008d,#00008d,#00008d,#00008d,#00008d,#00008d,#00008d,#00008d,#00008d,#00008c,#00008c,#00008c,#00008c,#00008c,#00008c,#00008c,#00008c,#00008c,#00008c,#00008c,#00008c,#00008c,#00008c,#00008c,#00008c,#00008c,#00008c,#00008c,#00008c,#00008c,#00008c,#00008c,#00008c,#00008c,#00008c,#00008c,#00008c,#00008c,#00008c,#00008c,#00008c,#00008c,#00008c,#00008c,#00008c,#00008c,#00008c,#00008c,#00008c,#00008c,#00008c,#00008c,#00008c,#00008c,#00008c,#00008c,#00008c,#00008c,#00008c,#00008c,#00008c,#00008c,#00008c,#00008c,#00008c,#00008c,#00008c,#00008c,#00008c,#00008c,#00008c,#00008c,#00008c,#00008c,#00008c,#00008c,#00008c,#00008c,#00008c,#00008c,#00008c,#00008c,#00008c,#00008c,#00008c,#00008c,#00008c,#00008c,#00008c,#00008c,#00008c,#00008c,#00008c,#00008c,#00008c,#00008c,#00008c,#00008c,#00008c,#00008c,#00008c,#00008c,#00008c,#00008c,#00008c,#00008c,#00008c,#00008c,#00008c,#00008c,#00008c,#00008c,#00008c,#00008c,#00008c,#00008c,#00008c,#00008c,#00008c,#00008c,#00008c,#00008c,#00008c,#00008c,#00008c,#00008c,#00008c,#00008c,#00008c,#00008c,#00008c,#00008c,#00008c,#00008c,#00008c,#00008c,#00008c,#00008c,#00008c)"></div>
<div style="top:387px;background:linear-gradient(90deg,#00008c,#00008c,#00008c,#00008c,#00008c,#00008c,#00008c,#00008c,#00008c,#00008c,#00008c,#00008c,#00008c,#00008c,#00008c,#00008c,#00008c,#00008c,#00008c,#00008c,#00008c,#00008c,#00008c,#00008c,#00008c,#00008c,#00008c,#00008c,#00008c,#00008c,#00008c,#00008c,#00008c,#00008c,#00008c,#00008c,#00008c,#00008c,#00008c,#00008c,#00008c,#00008c,#00008c,#00008c,#00008c,#00008c,#00008c,#00008c,#00008c,#00008c,#00008c,#00008c,#00008c,#00008c,#00008c,#00008c,#00008c,#00008c,#00008c,#00008c,#00008c,#00008c,#00008c,#00008c,#00008c,#00008c,#00008c,#00008c,#00008c,#00008c,#00008c,#00008c,#00008c,#00008c,#00008c,#00008c,#00008c,#00008c,#00008c,#00008c,#00008c,#00008c,#00008c,#00008c,#00008c,#00008c,#00008c,#00008c,#00008c,#00008c,#00008c,#00008c,#00008c,#00008c,#00008c,#00008c,#00008c,#00008c,#00008c,#00008c,#00008c,#00008c,#00008c,#00008c,#00008c,#00008c,#00008c,#00008c,#00008c,#00008c,#00008c,#00008c,#00008c,#00008c,#00008c,#00008c,#00008c,#00008c,#00008c,#00008c,#00008c,#00008c,#00008c,#00008c,#00008c,#00008c,#00008c,#00008c,#00008c,#00008c,#00008c,#00008c,#00008c,#00008c,#00008c,#00008c,#00008c,#00008c,#00008c,#00008c,#00008c,#00008c,#00008c,#00008c,#00008c,#00008c,#00008c,#00008c,#00008c,#00008c,#00008c,#00008c,#00008c,#00008c,#00008c,#00008c,#00008c,#00008c,#00008c,#00008c,#00008c,#00008c,#00008c,#00008c,#00008c,#00008c,#00008c,#00008c,#00008c,#00008c,#00008c,#00008c,#00008c,#00008c,#00008c,#00008c,#00008c,#00008c,#00008c,#00008c,#00008c,#00008c,#00008c,#00008c,#00008c,#00008c,#00008c,#00008c,#00008c,#00008c,#00008c,#00008c,#00008c,#00008c,#00008c,#00008c,#00008c,#00008c,#00008c,#00008c,#00008c,#00008c,#00008c,#00008c,#00008c,#00008c,#00008c,#00008c,#00008c,#00008c,#00008c,#00008c,#00008c,#00008c,#00008c,#00008c,#00008c,#00008c,#00008c,#00008c,#00008c,#00008c,#00008c,#00008c,#00008c,#00008c,#00008c,#00008c,#00008c,#00008c,#00008c,#00008c,#00008c,#00008c,#00008c,#00008c,#00008c,#00008c,#00008c,#00008c,#00008c)"></div>
<div style="top:388px;background:linear-gradient(90deg,#00008c,#00008c,#00008c,#00008c,#00008c,#00008c,#00008c,#00008c,#00008c,#00008c,#00008c,#00008c,#00008c,#00008c,#00008c,#00008c,#00008c,#00008c,#00008c,#00008c,#00008c,#00008c,#00008c,#00008c,#00008c,#00008c,#00008c,#00008c,#00008c,#00008c,#00008c,#00008c,#00008c,#00008c,#00008c,#00008c,#00008c,#00008c,#00008c,#00008c,#00008c,#00008c,#00008c,#00008c,#00008c,#00008c,#00008c,#00008c,#00008c,#00008c,#00008c,#00008c,#00008c,#00008c,#00008c,#00008c,#00008c,#00008c,#00008c,#00008c,#00008c,#00008c,#00008c,#00008c,#00008c,#00008c,#00008c,#00008c,#00008c,#00008c,#00008c,#00008c,#00008c,#00008c,#00008c,#00008c,#00008c,#00008c,#00008c,#00008c,#00008c,#00008c,#00008c,#00008c,#00008c,#00008c,#00008c,#00008c,#00008c,#00008c,#00008c,#00008c,#00008c,#00008c,#00008c,#00008c,#00008c,#00008c,#00008c,#00008c,#00008c,#00008c,#00008c,#00008c,#00008c,#00008c,#00008c,#00008c,#00008c,#00008c,#00008c,#00008c,#00008c,#00008c,#00008c,#00008c,#00008c,#00008c,#00008c,#00008c,#00008c,#00008c,#00008c,#00008c,#00008c,#00008c,#00008c,#00008c,#00008c,#00008c,#00008c,#00008c,#00008c,#00008c,#00008c,#00008c,#00008c,#00008c,#00008c,#00008c,#00008c,#00008c,#00008c,#00008c,#00008c,#00008c,#00008c,#00008c,#00008c,#00008c,#00008c,#00008c,#00008c,#00008c,#00008c,#00008c,#00008c,#00008c,#00008c,#00008c,#00008c,#00008c,#00008c,#00008c,#00008c,#00008c,#00008c,#00008c,#00008c,#00008c,#00008c,#00008c,#00008c,#00008c,#00008c,#00008c,#00008c,#00008c,#00008c,#00008c,#00008c,#00008c,#00008c,#00008c,#00008c,#00008c,#00008c,#00008c,#00008c,#00008c,#00008c,#00008c,#00008c,#00008c,#00008c,#00008c,#00008c,#00008c,#00008c,#00008c,#00008c,#00008c,#00008c,#00008c,#00008c,#00008c,#00008c,#00008c,#00008c,#00008c,#00008c,#00008c,#00008c,#00008c,#00008c,#00008c,#00008c,#00008c,#00008c,#00008c,#00008c,#00008c,#00008c,#00008c,#00008c,#00008c,#00008c,#00008c,#00008c,#00008c,#00008c,#00008c,#00008c,#00008c,#00008c,#00008c,#00008c,#00008c,#00008c,#00008c,#00008c)"></div>
<div style="top:389px;background:linear-gradient(90deg,#00008c,#00008c,#00008c,#00008c,#00008c,#00008c,#00008c,#00008c,#00008c,#00008c,#00008c,#00008c,#00008c,#00008c,#00008c,#00008c,#00008c,#00008c,#00008c,#00008c,#00008c,#00008c,#00008c,#00008c,#00008c,#00008c,#00008c,#00008c,#00008c,#00008c,#00008c,#00008c,#00008c,#00008c,#00008c,#00008c,#00008c,#00008c,#00008c,#00008c,#00008c,#00008c,#00008c,#00008c,#00008c,#00008c,#00008c,#00008c,#00008c,#00008c,#00008c,#00008c,#00008c,#00008c,#00008c,#00008c,#00008c,#00008c,#00008c,#00008c,#00008c,#00008c,#00008c,#00008c,#00008c,#00008c,#00008c,#00008c,#00008c,#00008c,#00008c,#00008c,#00008c,#00008c,#00008c,#00008c,#00008c,#00008c,#00008c,#00008c,#00008c,#00008c,#00008c,#00008c,#00008c,#00008c,#00008c,#00008c,#00008c,#00008c,#00008c,#00008c,#00008c,#00008c,#00008c,#00008c,#00008c,#00008c,#00008c,#00008c,#00008c,#00008c,#00008c,#00008c,#00008c,#00008c,#00008c,#00008c,#00008c,#00008c,#00008c,#00008c,#00008c,#00008c,#00008c,#00008c,#00008c,#00008c,#00008c,#00008c,#00008c,#00008c,#00008c,#00008c,#00008c,#00008c,#00008c,#00008c,#00008c,#00008c,#00008c,#00008c,#00008c,#00008c,#00008c,#00008c,#00008c,#00008c,#00008c,#00008c,#00008c,#00008c,#00008c,#00008c,#00008c,#00008c,#00008c,#00008c,#00008c,#00008c,#00008c,#00008c,#00008c,#00008c,#00008c,#00008c,#00008c,#00008c,#00008c,#00008c,#00008c,#00008c,#00008c,#00008c,#00008c,#00008c,#00008c,#00008c,#00008c,#00008c,#00008c,#00008c,#00008c,#00008c,#00008c,#00008c,#00008c,#00008c,#00008c,#00008c,#00008c,#00008c,#00008c,#00008c,#00008c,#00008c,#00008c,#00008c,#00008c,#00008c,#00008c,#00008c,#00008c,#00008c,#00008c,#00008c,#00008c,#00008c,#00008c,#00008c,#00008c,#00008c,#00008c,#00008c,#00008c,#00008c,#00008c,#00008c,#00008c,#00008c,#00008c,#00008c,#00008c,#00008c,#00008c,#00008c,#00008c,#00008c,#00008c,#00008c,#00008c,#00008c,#00008c,#00008c,#00008c,#00008c,#00008c,#00008c,#00008c,#00008c,#00008c,#00008c,#00008c,#00008c,#00008c,#00008c,#00008c,#00008c,#00008c,#00008c,#00008c)"></div>
</div>
<svg width="550" height="406" viewBox="0 0 550 406" style="display:block">
<text x="227.6" y="11.3" font-size="9.6" fill="#000" stroke="#000" stroke-width="0.15" >Person U<tspan font-size="7.4" dx="-2" dy="4.3">3</tspan></text>
<text x="260" y="35.3" text-anchor="middle" font-size="6.75" font-weight="bold" fill="#000" stroke="#000" stroke-width="0.2" textLength="40" lengthAdjust="spacingAndGlyphs" >RR (Panel A)</text>
<clipPath id="cA"><rect x="20" y="38" width="480" height="38.400000000000006"/></clipPath>
<g clip-path="url(#cA)" fill="none" stroke-linejoin="round">
<path d="M20.0,49.76L21.0,50.92L22.0,50.59L23.0,50.81L24.0,51.44L25.0,50.14L26.0,51.24L27.0,50.49L28.0,50.40L29.0,51.44L30.0,49.32L31.0,51.47L32.0,51.55L33.0,52.51L34.0,54.01L35.0,52.42L36.0,52.77L37.0,52.90L38.0,53.07L39.0,50.73L40.0,56.51L41.0,55.63L42.0,54.46L43.0,54.36L44.0,54.17L45.0,54.57L46.0,54.88L47.0,55.16L48.0,58.18L49.0,58.06L50.0,57.06L51.0,56.43L52.0,56.01L53.0,56.45L54.0,55.96L55.0,57.21L56.0,55.36L57.0,56.13L58.0,56.65L59.0,59.35L60.0,57.94L61.0,56.69L62.0,57.19L63.0,58.76L64.0,57.37L65.0,57.65L66.0,57.37L67.0,57.88L68.0,58.27L69.0,57.25L70.0,57.75L71.0,57.97L72.0,58.05L73.0,60.38L74.0,57.76L75.0,56.02L76.0,54.69L77.0,57.23L78.0,57.99L79.0,55.73L80.0,54.34L81.0,57.51L82.0,57.49L83.0,55.07L84.0,57.56L85.0,56.44L86.0,58.05L87.0,59.94L88.0,58.75L89.0,58.08L90.0,58.82L91.0,58.45L92.0,59.03L93.0,58.61L94.0,58.57L95.0,58.84L96.0,58.97L97.0,59.07L98.0,59.46L99.0,58.73L100.0,58.87L101.0,57.71L102.0,59.64L103.0,60.96L104.0,60.12L105.0,60.06L106.0,60.57L107.0,61.07L108.0,60.86L109.0,63.42L110.0,60.57L111.0,61.52M260.0,71.83L261.0,70.87L262.0,70.55L263.0,70.74L264.0,72.18L265.0,70.58L266.0,71.31L267.0,71.74L268.0,71.01L269.0,71.33L270.0,71.06L271.0,71.12L272.0,71.37L273.0,71.96L274.0,71.43L275.0,71.51L276.0,71.44L277.0,70.09L278.0,71.61L279.0,71.65L280.0,71.53L281.0,70.62L282.0,71.43L283.0,71.94L284.0,71.56L285.0,70.85L286.0,72.10L287.0,73.27L288.0,71.06L289.0,72.63L290.0,72.41L291.0,72.35M345.0,63.78L346.0,63.85L347.0,63.97L348.0,63.74L349.0,63.54L350.0,63.36L351.0,63.34L352.0,63.25L353.0,61.08L354.0,63.31L355.0,62.40L356.0,62.19L357.0,62.66L358.0,62.59L359.0,63.53L360.0,60.55L361.0,61.59L362.0,61.60L363.0,61.50L364.0,61.83L365.0,61.60L366.0,60.99L367.0,61.00L368.0,61.61L369.0,61.33L370.0,60.69L371.0,60.99L372.0,60.93L373.0,60.58L374.0,60.45L375.0,61.28L376.0,60.69L377.0,59.35L378.0,59.55L379.0,59.35L380.0,60.12L381.0,59.17L382.0,58.96L383.0,59.02L384.0,59.34L385.0,59.50L386.0,59.06L387.0,59.14L388.0,59.35L389.0,58.78L390.0,57.97L391.0,58.69L392.0,60.06L393.0,58.09L394.0,58.77L395.0,58.29L396.0,57.01L397.0,57.63L398.0,57.86L399.0,59.48L400.0,57.84L401.0,58.80L402.0,58.34L403.0,58.55L404.0,58.83L405.0,60.22L406.0,60.16L407.0,60.46L408.0,59.24L409.0,58.75L410.0,57.69L411.0,57.78L412.0,58.07L413.0,57.26L414.0,57.61L415.0,58.87L416.0,57.18L417.0,57.15L418.0,57.20L419.0,56.10L420.0,57.92L421.0,58.24L422.0,57.26L423.0,57.33L424.0,57.45L425.0,56.95L426.0,55.78L427.0,57.51L428.0,60.10L429.0,57.49L430.0,58.25L431.0,58.96L432.0,56.30L433.0,57.94L434.0,57.62L435.0,59.40L436.0,57.62L437.0,57.82L438.0,58.05L439.0,57.30L440.0,58.36L441.0,57.50L442.0,57.45L443.0,57.88L444.0,57.57L445.0,60.32L446.0,57.88L447.0,57.91L448.0,58.20L449.0,57.89L450.0,57.64L451.0,57.98L452.0,58.11L453.0,58.58L454.0,59.35L455.0,59.10L456.0,59.07L457.0,58.40L458.0,58.57L459.0,57.53L460.0,56.53L461.0,57.74L462.0,59.23L463.0,58.09L464.0,59.38L465.0,57.96L466.0,58.42L467.0,57.47L468.0,57.76L469.0,58.55L470.0,58.08L471.0,56.10L472.0,58.00L473.0,58.82L474.0,58.17L475.0,59.12L476.0,58.13L477.0,58.92L478.0,59.54L479.0,58.10L480.0,58.46L481.0,58.85L482.0,58.07L483.0,56.70L484.0,58.18L485.0,56.27L486.0,58.11L487.0,59.33L488.0,59.21L489.0,58.81L490.0,59.51L491.0,59.35L492.0,58.52L493.0,58.13L494.0,57.40L495.0,59.62L496.0,57.66L497.0,57.78L498.0,57.06L499.0,56.50L500.0,57.84" stroke="#1a1a1a" stroke-width="1"/>
<path d="M20.00,50.28 L21.00,50.76 L22.00,51.15 L23.00,50.84 L24.00,50.51 L25.00,50.68 L26.00,50.78 L27.00,50.87 L28.00,51.06 L29.00,51.24 L30.00,51.45 L31.00,51.60 L32.00,51.81 L33.00,52.02 L34.00,52.13 L35.00,52.38 L36.00,52.61 L37.00,52.97 L38.00,53.17 L39.00,53.36 L40.00,53.63 L41.00,53.83 L42.00,54.07 L43.00,54.23 L44.00,54.43 L45.00,54.68 L46.00,54.90 L47.00,55.09 L48.00,55.21 L49.00,55.42 L50.00,55.62 L51.00,55.79 L52.00,55.93 L53.00,56.13 L54.00,56.25 L55.00,56.38 L56.00,56.55 L57.00,56.61 L58.00,56.60 L59.00,56.59 L60.00,56.74 L61.00,56.75 L62.00,56.80 L63.00,56.85 L64.00,56.84 L65.00,56.90 L66.00,57.12 L67.00,57.24 L68.00,57.45 L69.00,57.52 L70.00,57.65 L71.00,57.90 L72.00,58.14 L73.00,57.98 L74.00,57.83 L75.00,57.77 L76.00,57.76 L77.00,57.71 L78.00,57.66 L79.00,57.53 L80.00,57.51 L81.00,57.70 L82.00,57.78 L83.00,57.81 L84.00,57.89 L85.00,58.07 L86.00,58.08 L87.00,58.21 L88.00,58.28 L89.00,58.41 L90.00,58.53 L91.00,58.61 L92.00,58.78 L93.00,58.87 L94.00,59.01 L95.00,59.06 L96.00,59.08 L97.00,59.16 L98.00,59.04 L99.00,59.12 L100.00,59.20 L101.00,59.33 L102.00,59.58 L103.00,59.76 L104.00,59.82 L105.00,60.04 L106.00,60.20 L107.00,60.40 L108.00,60.62 L109.00,60.92 L110.00,61.15 L111.00,61.25 L112.00,61.38 L113.00,61.37 L114.00,61.55 L115.00,61.59 L116.00,61.72 L117.00,61.76 L118.00,61.80 L119.00,61.89 L120.00,62.12 L121.00,62.23 L122.00,62.26 L123.00,62.30 L124.00,62.30 L125.00,62.37 L126.00,62.41 L127.00,62.53 L128.00,62.52 L129.00,62.57 L130.00,62.60 L131.00,62.63 L132.00,62.76 L133.00,62.84 L134.00,62.95 L135.00,63.09 L136.00,63.23 L137.00,63.19 L138.00,63.29 L139.00,63.24 L140.00,63.31 L141.00,63.50 L142.00,63.56 L143.00,63.60 L144.00,63.69 L145.00,63.76 L146.00,63.83 L147.00,63.85 L148.00,63.99 L149.00,64.11 L150.00,64.16 L151.00,64.26 L152.00,64.39 L153.00,64.53 L154.00,64.63 L155.00,64.74 L156.00,64.80 L157.00,64.81 L158.00,64.86 L159.00,65.01 L160.00,65.15 L161.00,65.19 L162.00,65.19 L163.00,65.25 L164.00,65.39 L165.00,65.51 L166.00,65.49 L167.00,65.52 L168.00,65.46 L169.00,65.44 L170.00,65.50 L171.00,65.63 L172.00,65.82 L173.00,66.02 L174.00,66.19 L175.00,66.38 L176.00,66.46 L177.00,66.50 L178.00,66.65 L179.00,66.93 L180.00,67.06 L181.00,67.00 L182.00,67.04 L183.00,67.15 L184.00,67.11 L185.00,67.18 L186.00,67.16 L187.00,67.27 L188.00,67.34 L189.00,67.38 L190.00,67.52 L191.00,67.55 L192.00,67.57 L193.00,67.76 L194.00,67.76 L195.00,67.97 L196.00,68.02 L197.00,68.02 L198.00,68.09 L199.00,68.17 L200.00,68.26 L201.00,68.28 L202.00,68.38 L203.00,68.27 L204.00,68.29 L205.00,68.32 L206.00,68.49 L207.00,68.41 L208.00,68.44 L209.00,68.43 L210.00,68.45 L211.00,68.59 L212.00,68.72 L213.00,68.90 L214.00,68.95 L215.00,69.06 L216.00,69.22 L217.00,69.36 L218.00,69.41 L219.00,69.56 L220.00,69.58 L221.00,69.74 L222.00,69.79 L223.00,69.83 L224.00,69.89 L225.00,69.99 L226.00,70.14 L227.00,70.16 L228.00,70.17 L229.00,70.25 L230.00,70.24 L231.00,70.16 L232.00,70.25 L233.00,70.26 L234.00,70.36 L235.00,70.33 L236.00,70.19 L237.00,70.26 L238.00,70.32 L239.00,70.47 L240.00,70.54 L241.00,70.56 L242.00,70.60 L243.00,70.57 L244.00,70.57 L245.00,70.49 L246.00,70.53 L247.00,70.49 L248.00,70.47 L249.00,70.52 L250.00,70.59 L251.00,70.53 L252.00,70.66 L253.00,70.62 L254.00,70.67 L255.00,70.72 L256.00,70.72 L257.00,70.73 L258.00,70.83 L259.00,70.86 L260.00,70.87 L261.00,70.79 L262.00,70.79 L263.00,70.91 L264.00,70.97 L265.00,70.96 L266.00,70.98 L267.00,71.02 L268.00,71.12 L269.00,71.20 L270.00,71.31 L271.00,71.28 L272.00,71.37 L273.00,71.36 L274.00,71.36 L275.00,71.49 L276.00,71.51 L277.00,71.52 L278.00,71.53 L279.00,71.52 L280.00,71.64 L281.00,71.74 L282.00,71.80 L283.00,71.81 L284.00,71.89 L285.00,71.88 L286.00,71.92 L287.00,71.95 L288.00,71.96 L289.00,72.07 L290.00,72.18 L291.00,72.22 L292.00,72.06 L293.00,72.15 L294.00,72.15 L295.00,72.09 L296.00,72.06 L297.00,71.98 L298.00,71.90 L299.00,71.79 L300.00,71.64 L301.00,71.50 L302.00,71.42 L303.00,71.29 L304.00,71.10 L305.00,70.94 L306.00,70.76 L307.00,70.61 L308.00,70.58 L309.00,70.31 L310.00,70.16 L311.00,69.98 L312.00,69.82 L313.00,69.73 L314.00,69.63 L315.00,69.43 L316.00,69.17 L317.00,68.87 L318.00,68.66 L319.00,68.53 L320.00,68.30 L321.00,68.09 L322.00,67.88 L323.00,67.65 L324.00,67.46 L325.00,67.19 L326.00,66.82 L327.00,66.44 L328.00,66.19 L329.00,65.86 L330.00,65.53 L331.00,65.49 L332.00,65.35 L333.00,65.36 L334.00,65.30 L335.00,65.16 L336.00,65.02 L337.00,64.99 L338.00,64.82 L339.00,64.68 L340.00,64.59 L341.00,64.53 L342.00,64.45 L343.00,64.39 L344.00,64.29 L345.00,64.20 L346.00,64.09 L347.00,63.95 L348.00,63.73 L349.00,63.65 L350.00,63.33 L351.00,63.21 L352.00,63.13 L353.00,63.06 L354.00,62.94 L355.00,62.78 L356.00,62.63 L357.00,62.43 L358.00,62.27 L359.00,61.90 L360.00,61.75 L361.00,61.48 L362.00,61.56 L363.00,61.59 L364.00,61.60 L365.00,61.44 L366.00,61.40 L367.00,61.25 L368.00,61.18 L369.00,61.06 L370.00,60.83 L371.00,61.01 L372.00,60.97 L373.00,60.49 L374.00,60.50 L375.00,60.14 L376.00,59.99 L377.00,59.78 L378.00,59.59 L379.00,59.53 L380.00,59.37 L381.00,59.12 L382.00,59.11 L383.00,59.16 L384.00,59.41 L385.00,59.29 L386.00,59.07 L387.00,58.98 L388.00,59.06 L389.00,58.89 L390.00,58.75 L391.00,58.78 L392.00,58.71 L393.00,58.68 L394.00,58.51 L395.00,58.31 L396.00,58.21 L397.00,58.13 L398.00,58.02 L399.00,58.03 L400.00,58.05 L401.00,58.32 L402.00,58.56 L403.00,58.59 L404.00,59.18 L405.00,60.08 L406.00,60.19 L407.00,60.32 L408.00,59.49 L409.00,58.81 L410.00,58.07 L411.00,57.82 L412.00,57.60 L413.00,57.26 L414.00,57.18 L415.00,57.26 L416.00,57.26 L417.00,57.40 L418.00,57.35 L419.00,57.58 L420.00,57.98 L421.00,57.59 L422.00,57.38 L423.00,57.42 L424.00,57.27 L425.00,57.08 L426.00,56.96 L427.00,57.16 L428.00,57.53 L429.00,57.95 L430.00,58.24 L431.00,58.14 L432.00,58.05 L433.00,57.79 L434.00,57.67 L435.00,57.90 L436.00,57.93 L437.00,57.76 L438.00,58.02 L439.00,57.80 L440.00,58.05 L441.00,58.00 L442.00,58.05 L443.00,58.14 L444.00,58.16 L445.00,58.33 L446.00,58.29 L447.00,58.20 L448.00,58.06 L449.00,57.82 L450.00,57.72 L451.00,57.92 L452.00,58.09 L453.00,58.33 L454.00,58.75 L455.00,58.83 L456.00,58.87 L457.00,58.63 L458.00,58.58 L459.00,58.91 L460.00,58.96 L461.00,58.84 L462.00,58.80 L463.00,58.42 L464.00,58.25 L465.00,58.01 L466.00,57.67 L467.00,57.80 L468.00,57.95 L469.00,57.90 L470.00,57.94 L471.00,57.82 L472.00,57.94 L473.00,58.10 L474.00,58.36 L475.00,58.61 L476.00,58.66 L477.00,58.63 L478.00,58.49 L479.00,58.40 L480.00,58.51 L481.00,58.38 L482.00,58.15 L483.00,58.18 L484.00,58.03 L485.00,57.78 L486.00,58.38 L487.00,59.03 L488.00,59.52 L489.00,60.02 L490.00,59.57 L491.00,58.98 L492.00,58.44 L493.00,58.13 L494.00,57.92 L495.00,57.94 L496.00,57.74 L497.00,57.77 L498.00,57.63 L499.00,57.14 L500.00,57.14" stroke="#ee4058" stroke-width="1.2"/>
</g>
<rect x="20" y="38" width="480" height="38.400000000000006" fill="none" stroke="#262626" stroke-opacity="0.3" stroke-width="1"/>
<line x1="20" y1="44.5" x2="23.5" y2="44.5" stroke="#262626" stroke-opacity="0.3" stroke-width="1"/>
<line x1="500" y1="44.5" x2="496.5" y2="44.5" stroke="#262626" stroke-opacity="0.3" stroke-width="1"/>
<text x="17.2" y="46.8" text-anchor="end" font-size="6.4" fill="#262626" stroke="#262626" stroke-width="0.18" >1000</text>
<line x1="20" y1="65.5" x2="23.5" y2="65.5" stroke="#262626" stroke-opacity="0.3" stroke-width="1"/>
<line x1="500" y1="65.5" x2="496.5" y2="65.5" stroke="#262626" stroke-opacity="0.3" stroke-width="1"/>
<text x="17.2" y="67.8" text-anchor="end" font-size="6.4" fill="#262626" stroke="#262626" stroke-width="0.18" >500</text>
<line x1="20.3" y1="76.4" x2="20.3" y2="72.9" stroke="#262626" stroke-opacity="0.3" stroke-width="1"/>
<line x1="20.3" y1="38" x2="20.3" y2="41.5" stroke="#262626" stroke-opacity="0.3" stroke-width="1"/>
<text x="20.3" y="84.9" text-anchor="middle" font-size="6.4" fill="#262626" stroke="#262626" stroke-width="0.18" >0</text>
<line x1="122.6" y1="76.4" x2="122.6" y2="72.9" stroke="#262626" stroke-opacity="0.3" stroke-width="1"/>
<line x1="122.6" y1="38" x2="122.6" y2="41.5" stroke="#262626" stroke-opacity="0.3" stroke-width="1"/>
<text x="122.6" y="84.9" text-anchor="middle" font-size="6.4" fill="#262626" stroke="#262626" stroke-width="0.18" >500</text>
<line x1="224.9" y1="76.4" x2="224.9" y2="72.9" stroke="#262626" stroke-opacity="0.3" stroke-width="1"/>
<line x1="224.9" y1="38" x2="224.9" y2="41.5" stroke="#262626" stroke-opacity="0.3" stroke-width="1"/>
<text x="224.9" y="84.9" text-anchor="middle" font-size="6.4" fill="#262626" stroke="#262626" stroke-width="0.18" >1000</text>
<line x1="327.20000000000005" y1="76.4" x2="327.20000000000005" y2="72.9" stroke="#262626" stroke-opacity="0.3" stroke-width="1"/>
<line x1="327.20000000000005" y1="38" x2="327.20000000000005" y2="41.5" stroke="#262626" stroke-opacity="0.3" stroke-width="1"/>
<text x="327.20000000000005" y="84.9" text-anchor="middle" font-size="6.4" fill="#262626" stroke="#262626" stroke-width="0.18" >1500</text>
<line x1="429.5" y1="76.4" x2="429.5" y2="72.9" stroke="#262626" stroke-opacity="0.3" stroke-width="1"/>
<line x1="429.5" y1="38" x2="429.5" y2="41.5" stroke="#262626" stroke-opacity="0.3" stroke-width="1"/>
<text x="429.5" y="84.9" text-anchor="middle" font-size="6.4" fill="#262626" stroke="#262626" stroke-width="0.18" >2000</text>
<rect x="24.4" y="40.4" width="55.4" height="15" fill="#fff" stroke="#c8c8c8" stroke-width="0.8"/>
<line x1="27" y1="45.1" x2="45.4" y2="45.1" stroke="#333" stroke-width="1.1"/>
<line x1="27" y1="51.3" x2="45.4" y2="51.3" stroke="#ec3b5a" stroke-width="1.2"/>
<text x="47.6" y="46.9" font-size="5" fill="#262626" stroke="#262626" stroke-width="0.12" >original RR</text>
<text x="47.6" y="53.1" font-size="5" fill="#262626" stroke="#262626" stroke-width="0.12" >denoised RR</text>
<text x="260" y="98.3" text-anchor="middle" font-size="6.75" font-weight="bold" fill="#000" stroke="#000" stroke-width="0.2" textLength="39" lengthAdjust="spacingAndGlyphs" >JT (Panel B)</text>
<clipPath id="cB"><rect x="20" y="101" width="480" height="37.5"/></clipPath>
<g clip-path="url(#cB)" fill="none" stroke-linejoin="round">
<path d="M20.00,110.05 L21.00,110.86 L22.00,110.38 L23.00,111.41 L24.00,112.02 L25.00,111.87 L26.00,112.96 L27.00,112.10 L28.00,112.14 L29.00,112.11 L30.00,112.30 L31.00,112.39 L32.00,112.75 L33.00,112.52 L34.00,112.56 L35.00,113.23 L36.00,112.64 L37.00,111.39 L38.00,111.61 L39.00,111.77 L40.00,112.06 L41.00,112.95 L42.00,112.86 L43.00,111.87 L44.00,112.79 L45.00,113.08 L46.00,113.15 L47.00,112.96 L48.00,113.11 L49.00,112.92 L50.00,113.04 L51.00,112.83 L52.00,113.57 L53.00,113.63 L54.00,112.95 L55.00,113.78 L56.00,114.70 L57.00,114.26 L58.00,115.25 L59.00,114.69 L60.00,114.93 L61.00,115.11 L62.00,114.69 L63.00,114.58 L64.00,114.80 L65.00,115.20 L66.00,114.94 L67.00,115.28 L68.00,115.29 L69.00,114.98 L70.00,114.65 L71.00,114.87 L72.00,115.36 L73.00,115.05 L74.00,115.67 L75.00,115.72 L76.00,116.37 L77.00,116.16 L78.00,116.20 L79.00,115.66 L80.00,115.27 L81.00,116.04 L82.00,115.99 L83.00,116.23 L84.00,116.27 L85.00,116.27 L86.00,117.35 L87.00,116.53 L88.00,117.25 L89.00,117.07 L90.00,117.34 L91.00,117.69 L92.00,117.33 L93.00,117.93 L94.00,117.96 L95.00,117.30 L96.00,118.02 L97.00,117.12 L98.00,117.56 L99.00,116.91 L100.00,119.14 L101.00,118.26 L102.00,117.65 L103.00,117.25 L104.00,117.30 L105.00,119.26 L106.00,119.22 L107.00,120.44 L108.00,122.35 L109.00,121.76 L110.00,119.88 L111.00,119.75 L112.00,119.48 L113.00,120.46 L114.00,119.46 L115.00,119.98 L116.00,119.70 L117.00,118.72 L118.00,118.94 L119.00,119.36 L120.00,120.00 L121.00,120.11 L122.00,120.26 L123.00,120.08 L124.00,120.72 L125.00,120.81 L126.00,120.45 L127.00,120.67 L128.00,120.47 L129.00,120.55 L130.00,121.37 L131.00,121.22 L132.00,121.14 L133.00,122.55 L134.00,121.75 L135.00,122.06 L136.00,122.23 L137.00,121.67 L138.00,122.20 L139.00,121.85 L140.00,121.62 L141.00,121.86 L142.00,122.03 L143.00,121.69 L144.00,121.63 L145.00,122.09 L146.00,122.18 L147.00,121.70 L148.00,121.96 L149.00,121.39 L150.00,121.73 L151.00,122.63 L152.00,122.42 L153.00,123.10 L154.00,122.62 L155.00,122.92 L156.00,123.04 L157.00,122.97 L158.00,123.36 L159.00,123.47 L160.00,123.87 L161.00,123.15 L162.00,123.01 L163.00,122.31 L164.00,122.69 L165.00,123.35 L166.00,123.79 L167.00,124.27 L168.00,124.68 L169.00,123.90 L170.00,123.71 L171.00,124.31 L172.00,124.17 L173.00,123.83 L174.00,124.52 L175.00,123.74 L176.00,123.92 L177.00,123.66 L178.00,123.85 L179.00,125.47 L180.00,125.36 L181.00,124.80 L182.00,125.81 L183.00,125.18 L184.00,124.87 L185.00,124.86 L186.00,125.42 L187.00,124.68 L188.00,125.63 L189.00,125.54 L190.00,125.95 L191.00,125.48 L192.00,125.33 L193.00,125.00 L194.00,125.69 L195.00,125.23 L196.00,126.01 L197.00,126.03 L198.00,126.06 L199.00,126.46 L200.00,126.40 L201.00,126.49 L202.00,127.06 L203.00,126.24 L204.00,127.83 L205.00,127.24 L206.00,128.23 L207.00,127.10 L208.00,126.37 L209.00,126.81 L210.00,127.91 L211.00,127.17 L212.00,127.00 L213.00,126.95 L214.00,127.19 L215.00,127.10 L216.00,126.96 L217.00,127.53 L218.00,128.27 L219.00,127.95 L220.00,128.25 L221.00,128.42 L222.00,128.43 L223.00,127.90 L224.00,129.45 L225.00,128.78 L226.00,129.41 L227.00,128.76 L228.00,128.86 L229.00,128.73 L230.00,129.56 L231.00,129.17 L232.00,129.50 L233.00,130.14 L234.00,129.71 L235.00,129.14 L236.00,128.97 L237.00,129.73 L238.00,129.62 L239.00,128.95 L240.00,128.55 L241.00,130.19 L242.00,129.56 L243.00,129.63 L244.00,129.90 L245.00,129.94 L246.00,129.30 L247.00,130.30 L248.00,129.79 L249.00,131.03 L250.00,131.76 L251.00,133.27 L252.00,134.07 L253.00,132.92 L254.00,130.22 L255.00,129.72 L256.00,129.35 L257.00,129.78 L258.00,130.00 L259.00,130.41 L260.00,129.79 L261.00,130.58 L262.00,129.68 L263.00,130.03 L264.00,130.10 L265.00,130.24 L266.00,130.32 L267.00,131.08 L268.00,130.71 L269.00,131.01 L270.00,131.41 L271.00,130.86 L272.00,130.17 L273.00,129.95 L274.00,129.53 L275.00,130.95 L276.00,129.26 L277.00,129.67 L278.00,129.52 L279.00,130.66 L280.00,130.50 L281.00,130.02 L282.00,129.97 L283.00,129.96 L284.00,130.32 L285.00,130.10 L286.00,129.98 L287.00,130.43 L288.00,130.89 L289.00,130.66 L290.00,130.95 L291.00,130.39 L292.00,130.84 L293.00,130.94 L294.00,130.49 L295.00,130.98 L296.00,130.93 L297.00,131.43 L298.00,130.67 L299.00,131.93 L300.00,131.56 L301.00,132.68 L302.00,133.33 L303.00,133.11 L304.00,131.70 L305.00,131.38 L306.00,132.07 L307.00,130.91 L308.00,131.32 L309.00,129.77 L310.00,130.11 L311.00,130.20 L312.00,130.00 L313.00,130.09 L314.00,128.73 L315.00,128.13 L316.00,128.73 L317.00,127.23 L318.00,128.32 L319.00,128.16 L320.00,127.97 L321.00,127.47 L322.00,127.15 L323.00,126.72 L324.00,126.52 L325.00,127.19 L326.00,126.19 L327.00,126.45 L328.00,126.65 L329.00,125.47 L330.00,125.89 L331.00,126.07 L332.00,125.88 L333.00,126.59 L334.00,126.45 L335.00,125.02 L336.00,124.86 L337.00,124.91 L338.00,124.81 L339.00,124.16 L340.00,124.19 L341.00,123.39 L342.00,123.13 L343.00,122.84 L344.00,122.71 L345.00,121.87 L346.00,122.45 L347.00,123.69 L348.00,122.46 L349.00,122.06 L350.00,123.11 L351.00,123.17 L352.00,123.49 L353.00,123.06 L354.00,122.43 L355.00,121.86 L356.00,122.02 L357.00,122.30 L358.00,122.01 L359.00,122.96 L360.00,123.02 L361.00,121.98 L362.00,122.32 L363.00,122.08 L364.00,121.36 L365.00,121.98 L366.00,121.43 L367.00,121.01 L368.00,120.16 L369.00,119.42 L370.00,119.65 L371.00,119.70 L372.00,119.72 L373.00,119.71 L374.00,120.28 L375.00,120.42 L376.00,120.37 L377.00,120.08 L378.00,120.40 L379.00,120.19 L380.00,119.42 L381.00,120.32 L382.00,119.57 L383.00,119.19 L384.00,118.71 L385.00,118.47 L386.00,119.12 L387.00,117.79 L388.00,117.52 L389.00,118.38 L390.00,117.98 L391.00,118.04 L392.00,117.89 L393.00,118.01 L394.00,118.35 L395.00,117.88 L396.00,117.92 L397.00,117.99 L398.00,118.22 L399.00,118.02 L400.00,117.25 L401.00,118.74 L402.00,119.55 L403.00,119.86 L404.00,119.48 L405.00,119.88 L406.00,119.14 L407.00,118.71 L408.00,119.40 L409.00,118.32 L410.00,117.69 L411.00,117.93 L412.00,118.46 L413.00,117.28 L414.00,117.61 L415.00,117.40 L416.00,116.52 L417.00,117.23 L418.00,117.75 L419.00,118.81 L420.00,118.42 L421.00,117.07 L422.00,118.00 L423.00,116.82 L424.00,116.55 L425.00,117.68 L426.00,117.43 L427.00,116.69 L428.00,117.98 L429.00,117.70 L430.00,118.04 L431.00,118.18 L432.00,117.37 L433.00,117.25 L434.00,117.52 L435.00,117.41 L436.00,117.77 L437.00,117.85 L438.00,118.07 L439.00,117.58 L440.00,116.91 L441.00,117.67 L442.00,117.29 L443.00,117.02 L444.00,117.20 L445.00,116.46 L446.00,117.58 L447.00,117.13 L448.00,117.18 L449.00,116.67 L450.00,116.44 L451.00,116.46 L452.00,117.04 L453.00,117.34 L454.00,118.21 L455.00,118.31 L456.00,117.32 L457.00,117.23 L458.00,117.19 L459.00,116.90 L460.00,117.08 L461.00,116.62 L462.00,116.67 L463.00,116.28 L464.00,116.37 L465.00,115.98 L466.00,117.01 L467.00,117.16 L468.00,117.50 L469.00,117.20 L470.00,117.26 L471.00,116.59 L472.00,116.52 L473.00,116.72 L474.00,116.78 L475.00,116.34 L476.00,116.25 L477.00,116.59 L478.00,116.03 L479.00,117.48 L480.00,118.32 L481.00,118.85 L482.00,117.85 L483.00,117.10 L484.00,115.86 L485.00,116.11 L486.00,115.44 L487.00,117.56 L488.00,116.94 L489.00,115.88 L490.00,116.06 L491.00,116.71 L492.00,116.62 L493.00,116.15 L494.00,116.76 L495.00,117.19 L496.00,117.84 L497.00,116.85 L498.00,116.90 L499.00,116.22 L500.00,116.30" stroke="#1a1a3a" stroke-width="1"/>
<path d="M20.00,110.03 L21.00,110.67 L22.00,110.50 L23.00,111.32 L24.00,111.64 L25.00,111.60 L26.00,112.29 L27.00,112.23 L28.00,112.16 L29.00,112.38 L30.00,112.69 L31.00,112.57 L32.00,112.72 L33.00,112.35 L34.00,112.32 L35.00,112.30 L36.00,112.03 L37.00,111.82 L38.00,111.66 L39.00,112.03 L40.00,112.33 L41.00,112.53 L42.00,112.82 L43.00,112.61 L44.00,112.89 L45.00,113.22 L46.00,113.64 L47.00,113.46 L48.00,113.50 L49.00,113.04 L50.00,113.24 L51.00,112.86 L52.00,112.88 L53.00,113.73 L54.00,113.29 L55.00,113.98 L56.00,114.34 L57.00,114.42 L58.00,114.75 L59.00,115.04 L60.00,115.43 L61.00,115.28 L62.00,115.07 L63.00,114.93 L64.00,114.73 L65.00,114.91 L66.00,114.81 L67.00,115.35 L68.00,114.80 L69.00,114.68 L70.00,114.65 L71.00,114.41 L72.00,115.57 L73.00,115.05 L74.00,115.42 L75.00,115.65 L76.00,116.57 L77.00,116.09 L78.00,116.38 L79.00,115.94 L80.00,115.74 L81.00,115.69 L82.00,116.09 L83.00,115.83 L84.00,116.00 L85.00,116.29 L86.00,117.10 L87.00,116.35 L88.00,117.14 L89.00,117.57 L90.00,117.46 L91.00,117.39 L92.00,117.06 L93.00,117.47 L94.00,117.26 L95.00,116.94 L96.00,117.16 L97.00,117.43 L98.00,117.74 L99.00,117.93 L100.00,119.14 L101.00,118.22 L102.00,116.99 L103.00,117.20 L104.00,118.05 L105.00,119.00 L106.00,119.65 L107.00,121.06 L108.00,122.60 L109.00,121.59 L110.00,120.03 L111.00,119.72 L112.00,120.19 L113.00,120.02 L114.00,119.35 L115.00,119.90 L116.00,119.46 L117.00,118.58 L118.00,118.82 L119.00,119.68 L120.00,120.14 L121.00,119.98 L122.00,119.82 L123.00,119.99 L124.00,120.66 L125.00,120.66 L126.00,120.19 L127.00,120.51 L128.00,120.52 L129.00,120.75 L130.00,121.01 L131.00,121.00 L132.00,121.06 L133.00,121.20 L134.00,121.01 L135.00,121.51 L136.00,122.01 L137.00,121.99 L138.00,121.86 L139.00,121.78 L140.00,121.58 L141.00,121.46 L142.00,121.52 L143.00,121.45 L144.00,121.55 L145.00,121.27 L146.00,121.72 L147.00,121.95 L148.00,121.75 L149.00,121.27 L150.00,121.68 L151.00,122.35 L152.00,122.25 L153.00,122.28 L154.00,122.30 L155.00,122.72 L156.00,122.54 L157.00,123.04 L158.00,123.00 L159.00,123.38 L160.00,123.39 L161.00,123.33 L162.00,122.90 L163.00,122.88 L164.00,123.03 L165.00,123.45 L166.00,123.63 L167.00,123.47 L168.00,123.74 L169.00,124.13 L170.00,124.06 L171.00,123.94 L172.00,123.89 L173.00,124.27 L174.00,124.46 L175.00,124.15 L176.00,124.37 L177.00,124.27 L178.00,124.14 L179.00,124.70 L180.00,124.98 L181.00,124.73 L182.00,124.83 L183.00,125.07 L184.00,124.89 L185.00,124.96 L186.00,125.29 L187.00,124.76 L188.00,125.10 L189.00,125.49 L190.00,125.72 L191.00,125.32 L192.00,125.61 L193.00,125.46 L194.00,125.84 L195.00,126.16 L196.00,126.28 L197.00,126.08 L198.00,126.03 L199.00,126.48 L200.00,126.27 L201.00,126.59 L202.00,126.84 L203.00,126.79 L204.00,127.65 L205.00,127.52 L206.00,128.13 L207.00,127.25 L208.00,126.58 L209.00,127.18 L210.00,127.51 L211.00,127.47 L212.00,127.55 L213.00,127.04 L214.00,127.11 L215.00,127.07 L216.00,127.32 L217.00,127.88 L218.00,128.03 L219.00,128.27 L220.00,128.12 L221.00,128.10 L222.00,128.29 L223.00,128.31 L224.00,128.85 L225.00,128.56 L226.00,129.26 L227.00,128.85 L228.00,129.25 L229.00,128.95 L230.00,129.54 L231.00,129.49 L232.00,129.55 L233.00,129.72 L234.00,129.41 L235.00,129.09 L236.00,128.56 L237.00,129.25 L238.00,129.14 L239.00,129.11 L240.00,129.29 L241.00,130.11 L242.00,129.51 L243.00,129.76 L244.00,129.75 L245.00,130.07 L246.00,129.57 L247.00,129.70 L248.00,130.21 L249.00,130.84 L250.00,131.32 L251.00,132.47 L252.00,133.73 L253.00,132.62 L254.00,130.48 L255.00,129.79 L256.00,130.16 L257.00,130.24 L258.00,130.14 L259.00,130.49 L260.00,129.99 L261.00,130.20 L262.00,130.17 L263.00,130.13 L264.00,130.28 L265.00,130.28 L266.00,130.31 L267.00,130.33 L268.00,130.89 L269.00,130.55 L270.00,130.74 L271.00,130.70 L272.00,130.36 L273.00,130.47 L274.00,130.01 L275.00,130.32 L276.00,129.89 L277.00,129.69 L278.00,129.79 L279.00,130.02 L280.00,130.18 L281.00,130.44 L282.00,130.29 L283.00,129.98 L284.00,130.28 L285.00,130.45 L286.00,130.19 L287.00,130.67 L288.00,130.78 L289.00,130.52 L290.00,130.82 L291.00,130.57 L292.00,130.60 L293.00,131.08 L294.00,130.84 L295.00,131.25 L296.00,131.14 L297.00,131.60 L298.00,131.46 L299.00,131.65 L300.00,131.24 L301.00,132.08 L302.00,133.30 L303.00,132.81 L304.00,131.53 L305.00,131.32 L306.00,131.37 L307.00,130.92 L308.00,131.10 L309.00,130.36 L310.00,130.07 L311.00,130.26 L312.00,130.40 L313.00,130.43 L314.00,129.64 L315.00,128.81 L316.00,128.87 L317.00,128.28 L318.00,128.22 L319.00,127.76 L320.00,128.14 L321.00,128.09 L322.00,127.86 L323.00,127.42 L324.00,127.02 L325.00,126.51 L326.00,126.41 L327.00,126.23 L328.00,126.11 L329.00,125.67 L330.00,126.05 L331.00,125.86 L332.00,126.07 L333.00,126.17 L334.00,125.50 L335.00,124.75 L336.00,125.09 L337.00,124.76 L338.00,124.63 L339.00,124.39 L340.00,124.31 L341.00,123.39 L342.00,122.94 L343.00,122.34 L344.00,122.75 L345.00,122.37 L346.00,123.21 L347.00,123.21 L348.00,122.48 L349.00,122.22 L350.00,122.22 L351.00,122.47 L352.00,122.42 L353.00,122.81 L354.00,122.61 L355.00,122.12 L356.00,121.85 L357.00,122.09 L358.00,121.80 L359.00,122.03 L360.00,122.23 L361.00,122.16 L362.00,122.21 L363.00,121.82 L364.00,121.57 L365.00,121.16 L366.00,120.83 L367.00,120.25 L368.00,120.14 L369.00,119.85 L370.00,119.49 L371.00,119.72 L372.00,119.95 L373.00,119.81 L374.00,120.23 L375.00,120.35 L376.00,120.43 L377.00,119.92 L378.00,119.24 L379.00,119.39 L380.00,119.38 L381.00,119.53 L382.00,119.52 L383.00,119.76 L384.00,119.42 L385.00,119.46 L386.00,118.98 L387.00,118.16 L388.00,118.18 L389.00,118.79 L390.00,118.18 L391.00,118.57 L392.00,118.28 L393.00,118.13 L394.00,118.15 L395.00,118.18 L396.00,117.80 L397.00,117.86 L398.00,117.97 L399.00,118.15 L400.00,117.74 L401.00,118.52 L402.00,119.27 L403.00,120.03 L404.00,119.84 L405.00,119.72 L406.00,118.32 L407.00,118.33 L408.00,118.33 L409.00,117.89 L410.00,117.43 L411.00,117.67 L412.00,117.96 L413.00,117.71 L414.00,117.69 L415.00,116.94 L416.00,116.98 L417.00,117.28 L418.00,117.48 L419.00,118.07 L420.00,117.60 L421.00,116.84 L422.00,117.14 L423.00,116.99 L424.00,117.13 L425.00,117.34 L426.00,117.07 L427.00,117.02 L428.00,117.67 L429.00,117.27 L430.00,117.63 L431.00,118.23 L432.00,117.87 L433.00,118.05 L434.00,117.84 L435.00,117.57 L436.00,118.01 L437.00,118.14 L438.00,117.81 L439.00,117.93 L440.00,117.30 L441.00,117.03 L442.00,117.35 L443.00,117.28 L444.00,116.87 L445.00,117.06 L446.00,117.13 L447.00,117.49 L448.00,117.61 L449.00,117.29 L450.00,116.99 L451.00,116.91 L452.00,116.82 L453.00,117.30 L454.00,117.67 L455.00,117.85 L456.00,117.66 L457.00,117.33 L458.00,117.46 L459.00,117.15 L460.00,117.11 L461.00,116.49 L462.00,116.46 L463.00,117.04 L464.00,116.66 L465.00,116.24 L466.00,116.38 L467.00,117.07 L468.00,117.49 L469.00,117.20 L470.00,116.96 L471.00,116.95 L472.00,116.68 L473.00,116.82 L474.00,116.82 L475.00,116.45 L476.00,116.49 L477.00,116.64 L478.00,116.56 L479.00,117.02 L480.00,118.19 L481.00,119.52 L482.00,118.17 L483.00,116.84 L484.00,115.86 L485.00,116.17 L486.00,116.34 L487.00,117.29 L488.00,116.84 L489.00,116.61 L490.00,116.46 L491.00,116.28 L492.00,116.35 L493.00,116.65 L494.00,117.13 L495.00,117.21 L496.00,117.05 L497.00,116.52 L498.00,116.52 L499.00,116.23 L500.00,116.29" stroke="#3c4ab0" stroke-width="1.0"/>
</g>
<rect x="20" y="101" width="480" height="37.5" fill="none" stroke="#262626" stroke-opacity="0.3" stroke-width="1"/>
<line x1="20" y1="102.2" x2="23.5" y2="102.2" stroke="#262626" stroke-opacity="0.3" stroke-width="1"/>
<line x1="500" y1="102.2" x2="496.5" y2="102.2" stroke="#262626" stroke-opacity="0.3" stroke-width="1"/>
<text x="17.2" y="104.5" text-anchor="end" font-size="6.4" fill="#262626" stroke="#262626" stroke-width="0.18" >350</text>
<line x1="20" y1="109.5" x2="23.5" y2="109.5" stroke="#262626" stroke-opacity="0.3" stroke-width="1"/>
<line x1="500" y1="109.5" x2="496.5" y2="109.5" stroke="#262626" stroke-opacity="0.3" stroke-width="1"/>
<text x="17.2" y="111.8" text-anchor="end" font-size="6.4" fill="#262626" stroke="#262626" stroke-width="0.18" >300</text>
<line x1="20" y1="116.8" x2="23.5" y2="116.8" stroke="#262626" stroke-opacity="0.3" stroke-width="1"/>
<line x1="500" y1="116.8" x2="496.5" y2="116.8" stroke="#262626" stroke-opacity="0.3" stroke-width="1"/>
<text x="17.2" y="119.1" text-anchor="end" font-size="6.4" fill="#262626" stroke="#262626" stroke-width="0.18" >250</text>
<line x1="20" y1="124.1" x2="23.5" y2="124.1" stroke="#262626" stroke-opacity="0.3" stroke-width="1"/>
<line x1="500" y1="124.1" x2="496.5" y2="124.1" stroke="#262626" stroke-opacity="0.3" stroke-width="1"/>
<text x="17.2" y="126.39999999999999" text-anchor="end" font-size="6.4" fill="#262626" stroke="#262626" stroke-width="0.18" >200</text>
<line x1="20" y1="131.4" x2="23.5" y2="131.4" stroke="#262626" stroke-opacity="0.3" stroke-width="1"/>
<line x1="500" y1="131.4" x2="496.5" y2="131.4" stroke="#262626" stroke-opacity="0.3" stroke-width="1"/>
<text x="17.2" y="133.70000000000002" text-anchor="end" font-size="6.4" fill="#262626" stroke="#262626" stroke-width="0.18" >150</text>
<line x1="20.3" y1="138.5" x2="20.3" y2="135.0" stroke="#262626" stroke-opacity="0.3" stroke-width="1"/>
<line x1="20.3" y1="101" x2="20.3" y2="104.5" stroke="#262626" stroke-opacity="0.3" stroke-width="1"/>
<text x="20.3" y="147.5" text-anchor="middle" font-size="6.4" fill="#262626" stroke="#262626" stroke-width="0.18" >0</text>
<line x1="122.6" y1="138.5" x2="122.6" y2="135.0" stroke="#262626" stroke-opacity="0.3" stroke-width="1"/>
<line x1="122.6" y1="101" x2="122.6" y2="104.5" stroke="#262626" stroke-opacity="0.3" stroke-width="1"/>
<text x="122.6" y="147.5" text-anchor="middle" font-size="6.4" fill="#262626" stroke="#262626" stroke-width="0.18" >500</text>
<line x1="224.9" y1="138.5" x2="224.9" y2="135.0" stroke="#262626" stroke-opacity="0.3" stroke-width="1"/>
<line x1="224.9" y1="101" x2="224.9" y2="104.5" stroke="#262626" stroke-opacity="0.3" stroke-width="1"/>
<text x="224.9" y="147.5" text-anchor="middle" font-size="6.4" fill="#262626" stroke="#262626" stroke-width="0.18" >1000</text>
<line x1="327.20000000000005" y1="138.5" x2="327.20000000000005" y2="135.0" stroke="#262626" stroke-opacity="0.3" stroke-width="1"/>
<line x1="327.20000000000005" y1="101" x2="327.20000000000005" y2="104.5" stroke="#262626" stroke-opacity="0.3" stroke-width="1"/>
<text x="327.20000000000005" y="147.5" text-anchor="middle" font-size="6.4" fill="#262626" stroke="#262626" stroke-width="0.18" >1500</text>
<line x1="429.5" y1="138.5" x2="429.5" y2="135.0" stroke="#262626" stroke-opacity="0.3" stroke-width="1"/>
<line x1="429.5" y1="101" x2="429.5" y2="104.5" stroke="#262626" stroke-opacity="0.3" stroke-width="1"/>
<text x="429.5" y="147.5" text-anchor="middle" font-size="6.4" fill="#262626" stroke="#262626" stroke-width="0.18" >2000</text>
<rect x="24.1" y="103.5" width="53.3" height="14.8" fill="#fff" stroke="#c8c8c8" stroke-width="0.8"/>
<line x1="27" y1="107.8" x2="45.4" y2="107.8" stroke="#222" stroke-width="1"/>
<line x1="27" y1="113.9" x2="45.4" y2="113.9" stroke="#2f3c98" stroke-width="1.2"/>
<text x="47.6" y="109.6" font-size="5" fill="#262626" stroke="#262626" stroke-width="0.12" >original JT</text>
<text x="47.6" y="115.7" font-size="5" fill="#262626" stroke="#262626" stroke-width="0.12" >denoised JT</text>
<text x="260" y="160.3" text-anchor="middle" font-size="6.75" font-weight="bold" fill="#000" stroke="#000" stroke-width="0.2" textLength="151.5" lengthAdjust="spacingAndGlyphs" >RR and JT (denoised and normalized) (Panel C)</text>
<clipPath id="cC"><rect x="20" y="160" width="480" height="41.30000000000001"/></clipPath>
<g clip-path="url(#cC)" fill="none" stroke-linejoin="round">
<path d="M20.00,168.41 L21.00,168.04 L22.00,168.02 L23.00,168.20 L24.00,168.64 L25.00,168.77 L26.00,168.55 L27.00,168.87 L28.00,168.82 L29.00,169.35 L30.00,169.46 L31.00,170.00 L32.00,170.02 L33.00,169.88 L34.00,169.74 L35.00,169.92 L36.00,170.26 L37.00,170.71 L38.00,170.87 L39.00,170.81 L40.00,171.08 L41.00,170.90 L42.00,171.23 L43.00,171.24 L44.00,171.77 L45.00,172.08 L46.00,172.21 L47.00,172.05 L48.00,172.32 L49.00,172.51 L50.00,172.50 L51.00,172.66 L52.00,173.28 L53.00,173.44 L54.00,173.83 L55.00,174.39 L56.00,174.26 L57.00,174.96 L58.00,175.23 L59.00,175.06 L60.00,174.91 L61.00,174.78 L62.00,175.18 L63.00,174.74 L64.00,175.46 L65.00,175.92 L66.00,176.16 L67.00,176.48 L68.00,176.84 L69.00,177.32 L70.00,178.03 L71.00,178.29 L72.00,179.02 L73.00,179.32 L74.00,179.29 L75.00,179.50 L76.00,179.43 L77.00,179.55 L78.00,179.26 L79.00,179.25 L80.00,178.71 L81.00,178.19 L82.00,177.76 L83.00,177.50 L84.00,177.08 L85.00,177.38 L86.00,177.76 L87.00,178.22 L88.00,178.69 L89.00,179.13 L90.00,179.99 L91.00,180.67 L92.00,180.78 L93.00,180.69 L94.00,180.59 L95.00,180.35 L96.00,180.93 L97.00,181.29 L98.00,182.15 L99.00,182.38 L100.00,182.52 L101.00,182.50 L102.00,182.61 L103.00,183.32 L104.00,183.87 L105.00,184.05 L106.00,184.00 L107.00,184.42 L108.00,184.62 L109.00,184.95 L110.00,185.18 L111.00,184.96 L112.00,184.59 L113.00,184.70 L114.00,184.75 L115.00,184.78 L116.00,185.02 L117.00,185.18 L118.00,184.99 L119.00,185.09 L120.00,184.57 L121.00,185.07 L122.00,185.35 L123.00,185.85 L124.00,186.28 L125.00,186.23 L126.00,186.29 L127.00,186.64 L128.00,186.55 L129.00,186.65 L130.00,186.60 L131.00,186.84 L132.00,186.97 L133.00,186.84 L134.00,186.64 L135.00,186.35 L136.00,186.90 L137.00,187.05 L138.00,187.14 L139.00,187.28 L140.00,187.33 L141.00,187.79 L142.00,188.15 L143.00,187.83 L144.00,188.14 L145.00,188.44 L146.00,188.60 L147.00,188.86 L148.00,189.43 L149.00,189.59 L150.00,189.94 L151.00,190.15 L152.00,189.78 L153.00,190.28 L154.00,190.32 L155.00,190.28 L156.00,190.53 L157.00,191.04 L158.00,190.78 L159.00,190.66 L160.00,190.83 L161.00,190.50 L162.00,190.44 L163.00,190.67 L164.00,191.02 L165.00,191.24 L166.00,191.49 L167.00,191.74 L168.00,191.61 L169.00,191.57 L170.00,191.58 L171.00,191.66 L172.00,192.08 L173.00,192.37 L174.00,191.98 L175.00,192.30 L176.00,192.24 L177.00,192.22 L178.00,192.78 L179.00,193.23 L180.00,193.55 L181.00,193.71 L182.00,194.10 L183.00,193.78 L184.00,194.03 L185.00,193.91 L186.00,193.69 L187.00,193.29 L188.00,193.68 L189.00,193.99 L190.00,194.00 L191.00,193.82 L192.00,193.90 L193.00,193.71 L194.00,193.78 L195.00,194.25 L196.00,194.71 L197.00,194.88 L198.00,195.08 L199.00,195.07 L200.00,195.23 L201.00,195.17 L202.00,195.29 L203.00,195.15 L204.00,195.43 L205.00,195.38 L206.00,195.46 L207.00,195.46 L208.00,195.85 L209.00,196.00 L210.00,195.76 L211.00,195.57 L212.00,195.79 L213.00,195.85 L214.00,195.84 L215.00,195.95 L216.00,196.36 L217.00,196.29 L218.00,196.58 L219.00,196.39 L220.00,196.33 L221.00,196.54 L222.00,196.66 L223.00,196.71 L224.00,196.67 L225.00,196.85 L226.00,196.94 L227.00,197.12 L228.00,197.51 L229.00,197.69 L230.00,197.99 L231.00,198.08 L232.00,198.25 L233.00,198.45 L234.00,198.66 L235.00,198.92 L236.00,198.81 L237.00,198.99 L238.00,199.12 L239.00,199.48 L240.00,199.70 L241.00,199.53 L242.00,199.66 L243.00,199.84 L244.00,199.85 L245.00,200.16 L246.00,200.18 L247.00,199.90 L248.00,200.07 L249.00,200.33 L250.00,200.19 L251.00,200.40 L252.00,199.81 L253.00,200.45 L254.00,200.17 L255.00,200.19 L256.00,200.25 L257.00,200.08 L258.00,200.34 L259.00,200.27 L260.00,200.15 L261.00,199.86 L262.00,200.32 L263.00,200.75 L264.00,200.76 L265.00,200.88 L266.00,201.27 L267.00,201.30 L268.00,201.50 L269.00,201.62 L270.00,201.66 L271.00,201.62 L272.00,201.74 L273.00,201.62 L274.00,201.52 L275.00,201.26 L276.00,200.80 L277.00,200.72 L278.00,200.80 L279.00,201.16 L280.00,201.11 L281.00,200.72 L282.00,201.03 L283.00,201.37 L284.00,201.42 L285.00,201.45 L286.00,201.47 L287.00,201.41 L288.00,201.69 L289.00,201.40 L290.00,201.22 L291.00,200.94 L292.00,200.94 L293.00,200.91 L294.00,200.89 L295.00,201.06 L296.00,201.37 L297.00,200.91 L298.00,200.87 L299.00,200.61 L300.00,200.40 L301.00,200.26 L302.00,200.30 L303.00,199.85 L304.00,200.18 L305.00,200.02 L306.00,199.72 L307.00,199.28 L308.00,199.51 L309.00,199.55 L310.00,199.58 L311.00,199.32 L312.00,199.41 L313.00,199.38 L314.00,199.41 L315.00,198.98 L316.00,198.74 L317.00,198.22 L318.00,197.90 L319.00,197.51 L320.00,197.25 L321.00,197.01 L322.00,196.76 L323.00,196.52 L324.00,196.32 L325.00,195.99 L326.00,195.63 L327.00,195.36 L328.00,195.35 L329.00,195.29 L330.00,195.27 L331.00,195.07 L332.00,194.00 L333.00,193.47 L334.00,192.44 L335.00,191.70 L336.00,191.10 L337.00,190.73 L338.00,190.61 L339.00,190.43 L340.00,189.91 L341.00,189.75 L342.00,189.44 L343.00,188.78 L344.00,188.87 L345.00,188.36 L346.00,187.95 L347.00,187.67 L348.00,187.21 L349.00,186.88 L350.00,186.88 L351.00,186.40 L352.00,186.05 L353.00,185.49 L354.00,184.98 L355.00,185.01 L356.00,185.56 L357.00,185.86 L358.00,186.61 L359.00,185.86 L360.00,185.52 L361.00,184.87 L362.00,184.43 L363.00,184.66 L364.00,184.45 L365.00,184.93 L366.00,184.98 L367.00,185.07 L368.00,185.12 L369.00,184.82 L370.00,184.16 L371.00,183.58 L372.00,183.41 L373.00,183.25 L374.00,183.05 L375.00,183.01 L376.00,183.20 L377.00,182.72 L378.00,182.02 L379.00,181.94 L380.00,181.52 L381.00,181.55 L382.00,181.37 L383.00,181.43 L384.00,181.82 L385.00,181.64 L386.00,181.12 L387.00,180.84 L388.00,180.62 L389.00,180.34 L390.00,180.52 L391.00,180.68 L392.00,180.97 L393.00,181.14 L394.00,181.04 L395.00,180.88 L396.00,180.52 L397.00,180.29 L398.00,179.92 L399.00,179.37 L400.00,179.77 L401.00,180.23 L402.00,180.25 L403.00,181.18 L404.00,182.18 L405.00,183.39 L406.00,182.49 L407.00,181.22 L408.00,180.63 L409.00,180.28 L410.00,179.46 L411.00,178.70 L412.00,178.30 L413.00,178.41 L414.00,179.02 L415.00,179.47 L416.00,179.30 L417.00,179.24 L418.00,178.71 L419.00,178.43 L420.00,178.60 L421.00,178.38 L422.00,178.39 L423.00,178.10 L424.00,178.39 L425.00,178.11 L426.00,179.08 L427.00,179.35 L428.00,179.45 L429.00,179.74 L430.00,179.98 L431.00,180.19 L432.00,179.76 L433.00,179.86 L434.00,180.03 L435.00,180.05 L436.00,179.51 L437.00,179.69 L438.00,179.60 L439.00,179.56 L440.00,179.01 L441.00,178.84 L442.00,178.88 L443.00,178.93 L444.00,179.03 L445.00,179.00 L446.00,179.07 L447.00,179.20 L448.00,179.89 L449.00,179.81 L450.00,179.70 L451.00,179.54 L452.00,179.78 L453.00,179.94 L454.00,179.93 L455.00,179.69 L456.00,180.07 L457.00,179.83 L458.00,179.48 L459.00,179.40 L460.00,179.04 L461.00,178.88 L462.00,178.34 L463.00,178.43 L464.00,178.06 L465.00,178.57 L466.00,178.75 L467.00,178.84 L468.00,178.98 L469.00,178.78 L470.00,178.96 L471.00,178.65 L472.00,178.51 L473.00,177.93 L474.00,177.45 L475.00,177.10 L476.00,177.59 L477.00,178.03 L478.00,178.50 L479.00,179.08 L480.00,179.47 L481.00,179.28 L482.00,178.98 L483.00,178.42 L484.00,178.42 L485.00,179.12 L486.00,179.90 L487.00,180.43 L488.00,181.70 L489.00,181.33 L490.00,180.58 L491.00,180.07 L492.00,179.63 L493.00,180.25 L494.00,180.36 L495.00,180.69 L496.00,180.60 L497.00,179.71 L498.00,178.86 L499.00,178.00 L500.00,176.99" stroke="#f27486" stroke-width="0.9"/>
<path d="M20.00,163.65 L21.00,163.48 L22.00,163.75 L23.00,163.30 L24.00,163.45 L25.00,163.10 L26.00,163.58 L27.00,163.17 L28.00,162.96 L29.00,162.51 L30.00,162.29 L31.00,162.50 L32.00,162.64 L33.00,163.52 L34.00,163.74 L35.00,163.90 L36.00,164.27 L37.00,164.43 L38.00,164.49 L39.00,165.19 L40.00,165.29 L41.00,165.28 L42.00,165.49 L43.00,165.55 L44.00,165.68 L45.00,165.84 L46.00,166.62 L47.00,166.83 L48.00,167.10 L49.00,167.48 L50.00,168.13 L51.00,168.14 L52.00,168.14 L53.00,168.87 L54.00,168.61 L55.00,168.74 L56.00,169.13 L57.00,169.82 L58.00,169.59 L59.00,169.11 L60.00,169.47 L61.00,169.50 L62.00,169.58 L63.00,170.05 L64.00,170.41 L65.00,170.77 L66.00,170.96 L67.00,171.55 L68.00,172.09 L69.00,172.43 L70.00,172.70 L71.00,173.29 L72.00,173.79 L73.00,173.66 L74.00,173.75 L75.00,174.18 L76.00,174.30 L77.00,174.39 L78.00,173.80 L79.00,173.15 L80.00,172.51 L81.00,172.29 L82.00,172.99 L83.00,173.21 L84.00,173.19 L85.00,173.63 L86.00,173.32 L87.00,172.95 L88.00,172.80 L89.00,173.57 L90.00,173.86 L91.00,174.39 L92.00,175.00 L93.00,174.91 L94.00,175.09 L95.00,175.62 L96.00,175.46 L97.00,175.74 L98.00,176.37 L99.00,176.09 L100.00,175.66 L101.00,175.91 L102.00,177.23 L103.00,178.00 L104.00,178.47 L105.00,178.88 L106.00,178.82 L107.00,178.09 L108.00,177.49 L109.00,177.60 L110.00,176.96 L111.00,176.65 L112.00,176.34 L113.00,176.21 L114.00,177.21 L115.00,178.14 L116.00,178.33 L117.00,178.21 L118.00,178.98 L119.00,179.04 L120.00,179.25 L121.00,179.06 L122.00,178.78 L123.00,179.05 L124.00,178.87 L125.00,178.89 L126.00,178.97 L127.00,179.04 L128.00,179.43 L129.00,179.37 L130.00,179.37 L131.00,179.88 L132.00,180.43 L133.00,180.83 L134.00,180.70 L135.00,180.14 L136.00,180.01 L137.00,179.89 L138.00,180.25 L139.00,180.45 L140.00,180.69 L141.00,181.01 L142.00,180.84 L143.00,181.03 L144.00,181.37 L145.00,181.19 L146.00,181.58 L147.00,181.67 L148.00,181.51 L149.00,181.86 L150.00,182.00 L151.00,182.22 L152.00,182.30 L153.00,182.56 L154.00,182.26 L155.00,183.00 L156.00,183.18 L157.00,182.92 L158.00,182.59 L159.00,182.53 L160.00,182.61 L161.00,182.97 L162.00,183.30 L163.00,183.12 L164.00,183.26 L165.00,183.98 L166.00,184.30 L167.00,184.22 L168.00,184.38 L169.00,184.45 L170.00,184.67 L171.00,185.17 L172.00,185.24 L173.00,185.60 L174.00,185.66 L175.00,185.36 L176.00,185.23 L177.00,185.76 L178.00,185.45 L179.00,185.15 L180.00,185.42 L181.00,185.41 L182.00,185.37 L183.00,185.67 L184.00,185.18 L185.00,185.30 L186.00,185.31 L187.00,185.31 L188.00,185.52 L189.00,186.16 L190.00,186.40 L191.00,186.25 L192.00,186.37 L193.00,187.09 L194.00,187.56 L195.00,187.49 L196.00,188.21 L197.00,188.15 L198.00,187.98 L199.00,188.14 L200.00,188.54 L201.00,188.85 L202.00,188.94 L203.00,188.68 L204.00,188.48 L205.00,188.13 L206.00,188.48 L207.00,188.69 L208.00,189.10 L209.00,189.15 L210.00,189.43 L211.00,189.28 L212.00,189.10 L213.00,188.95 L214.00,188.87 L215.00,188.76 L216.00,189.35 L217.00,189.73 L218.00,189.75 L219.00,190.24 L220.00,190.61 L221.00,190.96 L222.00,190.84 L223.00,190.75 L224.00,190.58 L225.00,190.65 L226.00,190.89 L227.00,191.03 L228.00,191.07 L229.00,191.31 L230.00,191.41 L231.00,191.49 L232.00,191.31 L233.00,191.45 L234.00,191.30 L235.00,191.25 L236.00,191.31 L237.00,191.75 L238.00,191.80 L239.00,191.59 L240.00,191.38 L241.00,192.00 L242.00,192.66 L243.00,193.23 L244.00,193.45 L245.00,193.83 L246.00,193.46 L247.00,193.15 L248.00,192.75 L249.00,192.54 L250.00,191.91 L251.00,192.46 L252.00,193.39 L253.00,193.93 L254.00,193.56 L255.00,192.70 L256.00,192.12 L257.00,192.24 L258.00,192.00 L259.00,191.87 L260.00,192.46 L261.00,192.11 L262.00,191.83 L263.00,191.62 L264.00,191.57 L265.00,191.49 L266.00,191.68 L267.00,191.75 L268.00,191.52 L269.00,191.35 L270.00,190.99 L271.00,190.99 L272.00,191.23 L273.00,191.80 L274.00,192.13 L275.00,192.59 L276.00,192.89 L277.00,192.89 L278.00,193.43 L279.00,193.26 L280.00,193.16 L281.00,192.93 L282.00,193.07 L283.00,192.86 L284.00,192.54 L285.00,192.54 L286.00,192.98 L287.00,193.07 L288.00,193.16 L289.00,193.58 L290.00,193.91 L291.00,194.18 L292.00,194.04 L293.00,194.23 L294.00,194.43 L295.00,194.15 L296.00,194.66 L297.00,194.82 L298.00,194.89 L299.00,195.82 L300.00,196.14 L301.00,196.30 L302.00,195.61 L303.00,195.06 L304.00,194.73 L305.00,194.16 L306.00,193.45 L307.00,193.21 L308.00,192.99 L309.00,192.75 L310.00,192.78 L311.00,192.59 L312.00,192.52 L313.00,192.23 L314.00,191.96 L315.00,191.86 L316.00,191.71 L317.00,191.87 L318.00,191.49 L319.00,191.40 L320.00,191.24 L321.00,190.61 L322.00,190.51 L323.00,190.21 L324.00,189.39 L325.00,189.30 L326.00,188.97 L327.00,188.17 L328.00,187.98 L329.00,187.33 L330.00,186.41 L331.00,186.36 L332.00,186.06 L333.00,185.58 L334.00,185.01 L335.00,185.07 L336.00,184.64 L337.00,184.52 L338.00,184.26 L339.00,183.76 L340.00,183.28 L341.00,183.17 L342.00,182.90 L343.00,182.34 L344.00,182.60 L345.00,182.80 L346.00,183.21 L347.00,183.23 L348.00,182.86 L349.00,182.33 L350.00,181.64 L351.00,181.45 L352.00,181.00 L353.00,180.79 L354.00,180.72 L355.00,180.66 L356.00,180.46 L357.00,180.16 L358.00,180.02 L359.00,180.23 L360.00,180.01 L361.00,179.49 L362.00,179.74 L363.00,179.61 L364.00,180.20 L365.00,179.72 L366.00,179.44 L367.00,179.17 L368.00,179.10 L369.00,178.82 L370.00,178.40 L371.00,177.93 L372.00,177.95 L373.00,177.84 L374.00,177.71 L375.00,178.16 L376.00,178.14 L377.00,178.16 L378.00,177.78 L379.00,177.64 L380.00,177.40 L381.00,177.23 L382.00,177.30 L383.00,177.29 L384.00,177.19 L385.00,177.05 L386.00,176.59 L387.00,176.39 L388.00,176.47 L389.00,176.33 L390.00,176.12 L391.00,176.19 L392.00,175.94 L393.00,175.78 L394.00,175.99 L395.00,175.84 L396.00,176.09 L397.00,176.05 L398.00,176.05 L399.00,176.09 L400.00,175.38 L401.00,175.70 L402.00,175.75 L403.00,176.05 L404.00,176.74 L405.00,177.69 L406.00,176.95 L407.00,176.59 L408.00,175.66 L409.00,175.46 L410.00,175.30 L411.00,175.34 L412.00,175.11 L413.00,174.78 L414.00,174.56 L415.00,174.14 L416.00,174.60 L417.00,174.84 L418.00,174.96 L419.00,175.03 L420.00,174.92 L421.00,174.61 L422.00,174.59 L423.00,174.16 L424.00,173.80 L425.00,174.00 L426.00,174.07 L427.00,174.21 L428.00,174.44 L429.00,174.59 L430.00,175.03 L431.00,174.74 L432.00,174.65 L433.00,174.66 L434.00,174.87 L435.00,174.64 L436.00,174.57 L437.00,174.36 L438.00,174.17 L439.00,174.02 L440.00,174.07 L441.00,174.30 L442.00,174.12 L443.00,174.02 L444.00,173.98 L445.00,174.12 L446.00,174.30 L447.00,174.00 L448.00,174.14 L449.00,173.94 L450.00,174.17 L451.00,173.99 L452.00,173.85 L453.00,173.83 L454.00,173.97 L455.00,173.87 L456.00,174.06 L457.00,174.19 L458.00,174.27 L459.00,174.38 L460.00,174.59 L461.00,174.29 L462.00,174.22 L463.00,174.14 L464.00,173.62 L465.00,173.77 L466.00,173.59 L467.00,173.45 L468.00,173.39 L469.00,173.44 L470.00,173.51 L471.00,173.64 L472.00,173.48 L473.00,173.66 L474.00,173.73 L475.00,173.61 L476.00,173.60 L477.00,173.77 L478.00,173.82 L479.00,174.53 L480.00,175.10 L481.00,175.91 L482.00,175.23 L483.00,174.06 L484.00,172.50 L485.00,173.61 L486.00,174.12 L487.00,174.53 L488.00,173.71 L489.00,173.62 L490.00,173.59 L491.00,174.03 L492.00,174.10 L493.00,174.62 L494.00,174.71 L495.00,174.74 L496.00,174.52 L497.00,174.33 L498.00,174.10 L499.00,173.95 L500.00,173.22" stroke="#7474d6" stroke-width="0.9"/>
</g>
<rect x="20" y="163.5" width="480" height="37.80000000000001" fill="none" stroke="#262626" stroke-opacity="0.3" stroke-width="1"/>
<line x1="20" y1="163.6" x2="23.5" y2="163.6" stroke="#262626" stroke-opacity="0.3" stroke-width="1"/>
<line x1="500" y1="163.6" x2="496.5" y2="163.6" stroke="#262626" stroke-opacity="0.3" stroke-width="1"/>
<text x="17.2" y="165.9" text-anchor="end" font-size="6.4" fill="#262626" stroke="#262626" stroke-width="0.18" >1</text>
<line x1="20" y1="193.9" x2="23.5" y2="193.9" stroke="#262626" stroke-opacity="0.3" stroke-width="1"/>
<line x1="500" y1="193.9" x2="496.5" y2="193.9" stroke="#262626" stroke-opacity="0.3" stroke-width="1"/>
<text x="17.2" y="196.20000000000002" text-anchor="end" font-size="6.4" fill="#262626" stroke="#262626" stroke-width="0.18" >0.5</text>
<line x1="20.3" y1="201.3" x2="20.3" y2="197.8" stroke="#262626" stroke-opacity="0.3" stroke-width="1"/>
<line x1="20.3" y1="163.5" x2="20.3" y2="167.0" stroke="#262626" stroke-opacity="0.3" stroke-width="1"/>
<text x="20.3" y="209.8" text-anchor="middle" font-size="6.4" fill="#262626" stroke="#262626" stroke-width="0.18" >0</text>
<line x1="122.6" y1="201.3" x2="122.6" y2="197.8" stroke="#262626" stroke-opacity="0.3" stroke-width="1"/>
<line x1="122.6" y1="163.5" x2="122.6" y2="167.0" stroke="#262626" stroke-opacity="0.3" stroke-width="1"/>
<text x="122.6" y="209.8" text-anchor="middle" font-size="6.4" fill="#262626" stroke="#262626" stroke-width="0.18" >500</text>
<line x1="224.9" y1="201.3" x2="224.9" y2="197.8" stroke="#262626" stroke-opacity="0.3" stroke-width="1"/>
<line x1="224.9" y1="163.5" x2="224.9" y2="167.0" stroke="#262626" stroke-opacity="0.3" stroke-width="1"/>
<text x="224.9" y="209.8" text-anchor="middle" font-size="6.4" fill="#262626" stroke="#262626" stroke-width="0.18" >1000</text>
<line x1="327.20000000000005" y1="201.3" x2="327.20000000000005" y2="197.8" stroke="#262626" stroke-opacity="0.3" stroke-width="1"/>
<line x1="327.20000000000005" y1="163.5" x2="327.20000000000005" y2="167.0" stroke="#262626" stroke-opacity="0.3" stroke-width="1"/>
<text x="327.20000000000005" y="209.8" text-anchor="middle" font-size="6.4" fill="#262626" stroke="#262626" stroke-width="0.18" >1500</text>
<line x1="429.5" y1="201.3" x2="429.5" y2="197.8" stroke="#262626" stroke-opacity="0.3" stroke-width="1"/>
<line x1="429.5" y1="163.5" x2="429.5" y2="167.0" stroke="#262626" stroke-opacity="0.3" stroke-width="1"/>
<text x="429.5" y="209.8" text-anchor="middle" font-size="6.4" fill="#262626" stroke="#262626" stroke-width="0.18" >2000</text>
<rect x="24.5" y="165.5" width="32.8" height="16.3" fill="#fff" stroke="#c8c8c8" stroke-width="0.8"/>
<line x1="27.8" y1="169.8" x2="45.3" y2="169.8" stroke="#f27486" stroke-width="0.9"/>
<line x1="27.8" y1="176.4" x2="45.3" y2="176.4" stroke="#7474d6" stroke-width="0.9"/>
<text x="46.6" y="171.6" font-size="5.2" fill="#262626" stroke="#262626" stroke-width="0.12" >RR</text>
<text x="46.6" y="178.2" font-size="5.2" fill="#262626" stroke="#262626" stroke-width="0.12" >JT</text>
<text x="260" y="220.1" text-anchor="middle" font-size="6.75" font-weight="bold" fill="#000" stroke="#000" stroke-width="0.2" >JT - RR, A<tspan font-size="5" dy="1.6">d</tspan><tspan dy="-1.6">=9.9 (Panel D)</tspan></text>
<clipPath id="cD"><rect x="20" y="224.7" width="480" height="38.5"/></clipPath>
<line x1="20" y1="238.3" x2="500" y2="238.3" stroke="#333" stroke-width="0.9" stroke-dasharray="1 1.6"/>
<g clip-path="url(#cD)" fill="none" stroke-linejoin="round"><path d="M20.00,250.00 L20.45,249.89 L21.10,249.70 L21.80,249.66 L22.40,250.00 L22.86,250.88 L23.25,252.16 L23.62,253.55 L24.00,254.80 L24.38,255.91 L24.75,256.99 L25.14,257.96 L25.60,258.70 L26.15,259.14 L26.78,259.36 L27.41,259.47 L28.00,259.60 L28.55,259.73 L29.08,259.82 L29.57,259.94 L30.00,260.20 L30.32,260.71 L30.57,261.41 L30.80,262.04 L31.10,262.40 L31.49,262.69 L31.92,262.94 L32.37,262.65 L32.80,261.30 L33.20,258.31 L33.58,254.10 L33.97,249.67 L34.40,246.00 L34.91,243.26 L35.48,240.95 L36.03,239.09 L36.50,237.70 L36.84,236.87 L37.10,236.56 L37.36,236.60 L37.70,236.80 L38.16,237.21 L38.69,237.89 L39.25,238.71 L39.80,239.50 L40.34,240.35 L40.89,241.31 L41.45,242.16 L42.00,242.70 L42.56,242.76 L43.13,242.49 L43.68,242.18 L44.20,242.10 L44.67,242.53 L45.11,243.25 L45.55,243.82 L46.00,243.80 L46.49,242.80 L47.01,241.14 L47.52,239.46 L48.00,238.40 L48.44,238.01 L48.84,238.00 L49.25,238.46 L49.70,239.50 L50.19,241.70 L50.72,244.81 L51.26,247.72 L51.80,249.30 L52.34,248.90 L52.89,247.23 L53.45,245.22 L54.00,243.80 L54.55,243.17 L55.10,242.86 L55.65,242.75 L56.20,242.70 L56.75,242.87 L57.30,243.26 L57.85,243.54 L58.40,243.40 L58.95,242.52 L59.50,241.14 L60.05,239.80 L60.60,239.00 L61.15,238.98 L61.70,239.44 L62.25,240.07 L62.80,240.60 L63.35,241.11 L63.91,241.69 L64.46,242.08 L65.00,242.00 L65.48,241.25 L65.92,240.01 L66.41,238.60 L67.00,237.30 L67.75,236.00 L68.62,234.60 L69.52,233.45 L70.40,232.90 L71.22,233.21 L72.03,234.14 L72.85,235.27 L73.70,236.20 L74.59,236.83 L75.51,237.37 L76.45,237.88 L77.40,238.40 L78.38,238.91 L79.38,239.41 L80.36,239.94 L81.30,240.60 L82.17,241.59 L82.99,242.82 L83.79,243.86 L84.60,244.30 L85.43,243.91 L86.26,242.96 L87.08,241.75 L87.90,240.60 L88.70,239.42 L89.50,238.10 L90.30,236.93 L91.10,236.20 L91.92,236.21 L92.74,236.72 L93.57,237.25 L94.40,237.30 L95.25,236.47 L96.12,235.11 L96.95,233.87 L97.70,233.40 L98.26,234.37 L98.69,236.27 L99.18,237.98 L99.90,238.40 L101.01,236.53 L102.38,233.20 L103.75,230.02 L104.90,228.60 L105.70,229.95 L106.31,233.03 L106.86,236.33 L107.50,238.40 L108.28,238.61 L109.11,237.82 L109.96,236.77 L110.80,236.20 L111.64,236.46 L112.49,237.11 L113.32,237.68 L114.10,237.70 L114.79,236.69 L115.43,235.01 L116.05,233.48 L116.70,232.90 L117.37,233.94 L118.06,236.03 L118.76,238.08 L119.50,239.00 L120.24,238.16 L120.98,236.26 L121.81,234.20 L122.80,232.90 L124.05,232.76 L125.49,233.24 L126.96,233.83 L128.30,234.00 L129.48,233.42 L130.58,232.42 L131.62,231.52 L132.60,231.20 L133.57,231.84 L134.51,233.08 L135.34,234.36 L136.00,235.10 L136.35,235.07 L136.46,234.59 L136.60,233.95 L137.00,233.40 L137.79,233.02 L138.81,232.67 L139.93,232.28 L141.00,231.80 L142.02,231.04 L143.06,230.08 L144.07,229.29 L145.00,229.00 L145.82,229.53 L146.56,230.62 L147.27,231.77 L148.00,232.50 L148.75,232.59 L149.50,232.32 L150.25,231.97 L151.00,231.80 L151.75,232.00 L152.50,232.38 L153.25,232.65 L154.00,232.50 L154.75,231.64 L155.50,230.31 L156.25,228.97 L157.00,228.10 L157.75,227.82 L158.50,227.88 L159.25,228.17 L160.00,228.60 L160.75,229.35 L161.50,230.41 L162.25,231.36 L163.00,231.80 L163.73,231.39 L164.44,230.43 L165.18,229.45 L166.00,229.00 L166.93,229.46 L167.94,230.46 L168.98,231.43 L170.00,231.80 L171.02,231.26 L172.06,230.16 L173.07,228.96 L174.00,228.10 L174.82,227.65 L175.56,227.39 L176.27,227.34 L177.00,227.50 L177.73,228.08 L178.44,229.00 L179.18,229.87 L180.00,230.30 L180.88,230.06 L181.81,229.41 L182.84,228.65 L184.00,228.10 L185.36,227.77 L186.88,227.53 L188.45,227.42 L190.00,227.50 L191.55,227.82 L193.12,228.33 L194.64,228.96 L196.00,229.60 L197.14,230.43 L198.12,231.43 L199.05,232.23 L200.00,232.50 L201.00,231.84 L202.00,230.53 L203.00,229.24 L204.00,228.60 L205.02,228.85 L206.06,229.61 L207.07,230.67 L208.00,231.80 L208.82,233.27 L209.56,235.09 L210.27,236.64 L211.00,237.30 L211.75,236.48 L212.50,234.66 L213.25,232.79 L214.00,231.80 L214.75,232.25 L215.50,233.54 L216.25,234.88 L217.00,235.50 L217.70,235.06 L218.38,234.02 L219.11,232.79 L220.00,231.80 L221.13,231.00 L222.44,230.23 L223.77,229.69 L225.00,229.60 L226.09,230.25 L227.12,231.46 L228.09,232.69 L229.00,233.40 L229.80,233.19 L230.50,232.43 L231.20,231.75 L232.00,231.80 L232.95,233.13 L234.00,235.28 L235.05,237.33 L236.00,238.40 L236.82,238.07 L237.56,236.89 L238.27,235.36 L239.00,234.00 L239.77,232.77 L240.56,231.46 L241.32,230.31 L242.00,229.60 L242.57,229.41 L243.06,229.60 L243.52,230.06 L244.00,230.70 L244.48,231.78 L244.94,233.27 L245.43,234.57 L246.00,235.10 L246.68,234.18 L247.44,232.29 L248.23,230.61 L249.00,230.30 L249.75,232.35 L250.50,235.90 L251.25,239.38 L252.00,241.20 L252.75,240.47 L253.50,238.19 L254.25,235.61 L255.00,234.00 L255.75,233.86 L256.50,234.46 L257.25,235.21 L258.00,235.50 L258.75,235.10 L259.50,234.36 L260.25,233.54 L261.00,232.90 L261.75,232.57 L262.50,232.39 L263.25,232.19 L264.00,231.80 L264.75,231.14 L265.50,230.30 L266.25,229.41 L267.00,228.60 L267.77,227.81 L268.56,226.99 L269.32,226.31 L270.00,225.90 L270.55,225.72 L271.00,225.73 L271.45,226.05 L272.00,226.80 L272.68,228.38 L273.44,230.59 L274.23,232.71 L275.00,234.00 L275.75,234.04 L276.50,233.31 L277.25,232.37 L278.00,231.80 L278.75,231.84 L279.50,232.15 L280.25,232.46 L281.00,232.50 L281.75,231.94 L282.50,231.01 L283.25,230.27 L284.00,230.30 L284.75,231.67 L285.50,233.94 L286.25,236.14 L287.00,237.30 L287.75,236.80 L288.50,235.26 L289.25,233.65 L290.00,232.90 L290.75,233.51 L291.50,234.89 L292.25,236.38 L293.00,237.30 L293.75,237.31 L294.50,236.82 L295.25,236.29 L296.00,236.20 L296.75,236.59 L297.50,237.24 L298.25,238.19 L299.00,239.50 L299.75,241.63 L300.50,244.40 L301.25,246.90 L302.00,248.20 L302.77,247.80 L303.56,246.26 L304.32,244.32 L305.00,242.70 L305.55,241.34 L306.00,239.94 L306.45,238.84 L307.00,238.40 L307.68,239.02 L308.44,240.41 L309.23,241.87 L310.00,242.70 L310.70,242.50 L311.38,241.72 L312.11,240.90 L313.00,240.60 L314.13,241.06 L315.44,241.96 L316.77,242.97 L318.00,243.80 L319.05,244.46 L320.00,245.08 L320.95,245.51 L322.00,245.60 L323.23,245.12 L324.56,244.22 L325.87,243.28 L327.00,242.70 L327.89,242.76 L328.62,243.18 L329.30,243.54 L330.00,243.40 L330.75,242.38 L331.50,240.81 L332.25,239.28 L333.00,238.40 L333.73,238.51 L334.44,239.23 L335.18,240.09 L336.00,240.60 L336.95,240.69 L338.00,240.58 L339.05,240.31 L340.00,239.90 L340.82,239.13 L341.56,238.07 L342.27,237.15 L343.00,236.80 L343.75,237.41 L344.50,238.64 L345.25,239.91 L346.00,240.60 L346.75,240.34 L347.50,239.53 L348.25,238.70 L349.00,238.40 L349.75,238.97 L350.50,240.05 L351.25,241.13 L352.00,241.70 L352.75,241.36 L353.50,240.47 L354.25,239.64 L355.00,239.50 L355.75,240.38 L356.50,241.90 L357.25,243.57 L358.00,244.90 L358.77,245.91 L359.56,246.81 L360.32,247.41 L361.00,247.50 L361.57,246.88 L362.06,245.71 L362.52,244.33 L363.00,243.10 L363.45,241.89 L363.88,240.59 L364.36,239.57 L365.00,239.20 L365.86,239.88 L366.88,241.30 L367.95,242.82 L369.00,243.80 L370.02,243.92 L371.06,243.58 L372.07,243.17 L373.00,243.10 L373.80,243.63 L374.50,244.51 L375.20,245.30 L376.00,245.60 L376.95,245.08 L378.00,244.03 L379.05,242.96 L380.00,242.40 L380.80,242.69 L381.50,243.49 L382.20,244.27 L383.00,244.50 L383.95,243.80 L385.00,242.53 L386.05,241.27 L387.00,240.60 L387.82,240.78 L388.56,241.47 L389.27,242.35 L390.00,243.10 L390.73,243.77 L391.44,244.49 L392.18,245.07 L393.00,245.30 L393.95,244.98 L395.00,244.25 L396.05,243.50 L397.00,243.10 L397.80,243.35 L398.50,243.99 L399.20,244.54 L400.00,244.50 L400.98,243.57 L402.06,242.06 L403.12,240.44 L404.00,239.20 L404.62,238.36 L405.06,237.69 L405.48,237.31 L406.00,237.30 L406.70,237.73 L407.50,238.53 L408.30,239.61 L409.00,240.90 L409.57,242.62 L410.06,244.73 L410.52,246.75 L411.00,248.20 L411.48,248.97 L411.94,249.32 L412.43,249.29 L413.00,248.90 L413.68,247.86 L414.44,246.26 L415.23,244.70 L416.00,243.80 L416.77,243.84 L417.56,244.44 L418.32,245.28 L419.00,246.00 L419.55,246.81 L420.00,247.78 L420.45,248.42 L421.00,248.20 L421.70,246.55 L422.50,243.90 L423.30,241.22 L424.00,239.50 L424.57,239.08 L425.06,239.40 L425.52,240.12 L426.00,240.90 L426.48,241.91 L426.94,243.25 L427.43,244.44 L428.00,245.00 L428.68,244.58 L429.44,243.51 L430.23,242.33 L431.00,241.60 L431.77,241.49 L432.56,241.70 L433.32,242.06 L434.00,242.40 L434.57,242.84 L435.06,243.42 L435.52,243.84 L436.00,243.80 L436.48,242.92 L436.94,241.47 L437.43,240.10 L438.00,239.50 L438.73,240.00 L439.56,241.20 L440.37,242.62 L441.00,243.80 L441.34,244.74 L441.50,245.66 L441.66,246.37 L442.00,246.70 L442.59,246.49 L443.31,245.87 L444.13,245.11 L445.00,244.50 L445.95,244.11 L447.00,243.80 L448.05,243.49 L449.00,243.10 L449.84,242.64 L450.62,242.14 L451.34,241.57 L452.00,240.90 L452.55,239.96 L453.00,238.83 L453.45,237.83 L454.00,237.30 L454.73,237.43 L455.56,237.99 L456.37,238.76 L457.00,239.50 L457.37,240.30 L457.56,241.22 L457.73,242.02 L458.00,242.40 L458.36,242.14 L458.75,241.44 L459.27,240.67 L460.00,240.20 L461.09,240.15 L462.44,240.32 L463.82,240.60 L465.00,240.90 L465.89,241.32 L466.62,241.88 L467.30,242.32 L468.00,242.40 L468.73,241.76 L469.44,240.64 L470.18,239.67 L471.00,239.50 L471.95,240.74 L473.00,242.89 L474.05,244.97 L475.00,246.00 L475.82,245.35 L476.56,243.67 L477.27,241.88 L478.00,240.90 L478.75,241.23 L479.50,242.30 L480.25,243.39 L481.00,243.80 L481.75,243.15 L482.50,241.88 L483.25,240.50 L484.00,239.50 L484.77,239.22 L485.56,239.33 L486.32,239.32 L487.00,238.70 L487.57,236.88 L488.06,234.29 L488.52,231.90 L489.00,230.70 L489.50,231.16 L490.00,232.69 L490.50,234.67 L491.00,236.50 L491.48,238.38 L491.94,240.53 L492.43,242.30 L493.00,243.10 L493.70,242.33 L494.50,240.48 L495.30,238.48 L496.00,237.30 L496.57,237.20 L497.06,237.68 L497.52,238.51 L498.00,239.50 L498.55,240.83 L499.12,242.54 L499.64,244.17 L500.00,245.30" stroke="#2b2b2b" stroke-width="1.15"/></g>
<rect x="20" y="225.7" width="480" height="37.5" fill="none" stroke="#262626" stroke-opacity="0.3" stroke-width="1"/>
<line x1="20" y1="225.8" x2="23.5" y2="225.8" stroke="#262626" stroke-opacity="0.3" stroke-width="1"/>
<line x1="500" y1="225.8" x2="496.5" y2="225.8" stroke="#262626" stroke-opacity="0.3" stroke-width="1"/>
<text x="17.2" y="228.10000000000002" text-anchor="end" font-size="6.4" fill="#262626" stroke="#262626" stroke-width="0.18" >0.15</text>
<line x1="20" y1="238.3" x2="23.5" y2="238.3" stroke="#262626" stroke-opacity="0.3" stroke-width="1"/>
<line x1="500" y1="238.3" x2="496.5" y2="238.3" stroke="#262626" stroke-opacity="0.3" stroke-width="1"/>
<text x="17.2" y="240.60000000000002" text-anchor="end" font-size="6.4" fill="#262626" stroke="#262626" stroke-width="0.18" >0.1</text>
<line x1="20" y1="250.6" x2="23.5" y2="250.6" stroke="#262626" stroke-opacity="0.3" stroke-width="1"/>
<line x1="500" y1="250.6" x2="496.5" y2="250.6" stroke="#262626" stroke-opacity="0.3" stroke-width="1"/>
<text x="17.2" y="252.9" text-anchor="end" font-size="6.4" fill="#262626" stroke="#262626" stroke-width="0.18" >0.05</text>
<line x1="20" y1="263.1" x2="23.5" y2="263.1" stroke="#262626" stroke-opacity="0.3" stroke-width="1"/>
<line x1="500" y1="263.1" x2="496.5" y2="263.1" stroke="#262626" stroke-opacity="0.3" stroke-width="1"/>
<text x="17.2" y="265.40000000000003" text-anchor="end" font-size="6.4" fill="#262626" stroke="#262626" stroke-width="0.18" >0</text>
<line x1="20.3" y1="263.2" x2="20.3" y2="259.7" stroke="#262626" stroke-opacity="0.3" stroke-width="1"/>
<line x1="20.3" y1="225.7" x2="20.3" y2="229.2" stroke="#262626" stroke-opacity="0.3" stroke-width="1"/>
<text x="20.3" y="272.3" text-anchor="middle" font-size="6.4" fill="#262626" stroke="#262626" stroke-width="0.18" >0</text>
<line x1="122.6" y1="263.2" x2="122.6" y2="259.7" stroke="#262626" stroke-opacity="0.3" stroke-width="1"/>
<line x1="122.6" y1="225.7" x2="122.6" y2="229.2" stroke="#262626" stroke-opacity="0.3" stroke-width="1"/>
<text x="122.6" y="272.3" text-anchor="middle" font-size="6.4" fill="#262626" stroke="#262626" stroke-width="0.18" >500</text>
<line x1="224.9" y1="263.2" x2="224.9" y2="259.7" stroke="#262626" stroke-opacity="0.3" stroke-width="1"/>
<line x1="224.9" y1="225.7" x2="224.9" y2="229.2" stroke="#262626" stroke-opacity="0.3" stroke-width="1"/>
<text x="224.9" y="272.3" text-anchor="middle" font-size="6.4" fill="#262626" stroke="#262626" stroke-width="0.18" >1000</text>
<line x1="327.20000000000005" y1="263.2" x2="327.20000000000005" y2="259.7" stroke="#262626" stroke-opacity="0.3" stroke-width="1"/>
<line x1="327.20000000000005" y1="225.7" x2="327.20000000000005" y2="229.2" stroke="#262626" stroke-opacity="0.3" stroke-width="1"/>
<text x="327.20000000000005" y="272.3" text-anchor="middle" font-size="6.4" fill="#262626" stroke="#262626" stroke-width="0.18" >1500</text>
<line x1="429.5" y1="263.2" x2="429.5" y2="259.7" stroke="#262626" stroke-opacity="0.3" stroke-width="1"/>
<line x1="429.5" y1="225.7" x2="429.5" y2="229.2" stroke="#262626" stroke-opacity="0.3" stroke-width="1"/>
<text x="429.5" y="272.3" text-anchor="middle" font-size="6.4" fill="#262626" stroke="#262626" stroke-width="0.18" >2000</text>
<line x1="296.4" y1="76.4" x2="296.4" y2="38" stroke="#222" stroke-width="1" stroke-dasharray="6.5 3.2"/>
<line x1="296.4" y1="138.5" x2="296.4" y2="101" stroke="#222" stroke-width="1" stroke-dasharray="6.5 3.2"/>
<line x1="296.4" y1="201.3" x2="296.4" y2="163.5" stroke="#222" stroke-width="1" stroke-dasharray="6.5 3.2"/>
<line x1="296.4" y1="263.2" x2="296.4" y2="225.7" stroke="#222" stroke-width="1" stroke-dasharray="6.5 3.2"/>
<text x="260" y="282.7" text-anchor="middle" font-size="6.75" font-weight="bold" fill="#000" stroke="#000" stroke-width="0.2" >Delay pattern of JT - RR, Modified A<tspan font-size="5" dy="1.6">d</tspan><tspan dy="-1.6">=8.38 (Panel E)</tspan></text>
<rect x="20" y="288" width="480" height="38.5" fill="none" stroke="#262626" stroke-opacity="0.3" stroke-width="1"/>
<line x1="20" y1="289.3" x2="23.5" y2="289.3" stroke="#262626" stroke-opacity="0.3" stroke-width="1"/>
<line x1="500" y1="289.3" x2="496.5" y2="289.3" stroke="#262626" stroke-opacity="0.3" stroke-width="1"/>
<text x="17.2" y="291.6" text-anchor="end" font-size="6.4" fill="#262626" stroke="#262626" stroke-width="0.18" >25</text>
<line x1="20" y1="307.6" x2="23.5" y2="307.6" stroke="#262626" stroke-opacity="0.3" stroke-width="1"/>
<line x1="500" y1="307.6" x2="496.5" y2="307.6" stroke="#262626" stroke-opacity="0.3" stroke-width="1"/>
<text x="17.2" y="309.90000000000003" text-anchor="end" font-size="6.4" fill="#262626" stroke="#262626" stroke-width="0.18" >0</text>
<line x1="20" y1="326.4" x2="23.5" y2="326.4" stroke="#262626" stroke-opacity="0.3" stroke-width="1"/>
<line x1="500" y1="326.4" x2="496.5" y2="326.4" stroke="#262626" stroke-opacity="0.3" stroke-width="1"/>
<text x="17.2" y="328.7" text-anchor="end" font-size="6.4" fill="#262626" stroke="#262626" stroke-width="0.18" >-25</text>
<text x="60.36" y="335.6" text-anchor="middle" font-size="6.4" fill="#262626" stroke="#262626" stroke-width="0.18" >200</text>
<text x="101.42" y="335.6" text-anchor="middle" font-size="6.4" fill="#262626" stroke="#262626" stroke-width="0.18" >400</text>
<text x="142.48000000000002" y="335.6" text-anchor="middle" font-size="6.4" fill="#262626" stroke="#262626" stroke-width="0.18" >600</text>
<text x="183.54000000000002" y="335.6" text-anchor="middle" font-size="6.4" fill="#262626" stroke="#262626" stroke-width="0.18" >800</text>
<text x="224.60000000000002" y="335.6" text-anchor="middle" font-size="6.4" fill="#262626" stroke="#262626" stroke-width="0.18" >1000</text>
<text x="265.66" y="335.6" text-anchor="middle" font-size="6.4" fill="#262626" stroke="#262626" stroke-width="0.18" >1200</text>
<text x="306.72" y="335.6" text-anchor="middle" font-size="6.4" fill="#262626" stroke="#262626" stroke-width="0.18" >1400</text>
<text x="347.78000000000003" y="335.6" text-anchor="middle" font-size="6.4" fill="#262626" stroke="#262626" stroke-width="0.18" >1600</text>
<text x="388.84000000000003" y="335.6" text-anchor="middle" font-size="6.4" fill="#262626" stroke="#262626" stroke-width="0.18" >1800</text>
<text x="429.90000000000003" y="335.6" text-anchor="middle" font-size="6.4" fill="#262626" stroke="#262626" stroke-width="0.18" >2000</text>
<text x="470.96000000000004" y="335.6" text-anchor="middle" font-size="6.4" fill="#262626" stroke="#262626" stroke-width="0.18" >2200</text>
<text x="260" y="348.5" text-anchor="middle" font-size="6.75" font-weight="bold" fill="#000" stroke="#000" stroke-width="0.2" textLength="115.7" lengthAdjust="spacingAndGlyphs" >Wavelet pattern of JT - RR (Panel F)</text>
<rect x="20" y="351.2" width="480" height="38.69999999999999" fill="none" stroke="#262626" stroke-opacity="0.3" stroke-width="1"/>
<line x1="20" y1="353.4" x2="23.5" y2="353.4" stroke="#262626" stroke-opacity="0.3" stroke-width="1"/>
<line x1="500" y1="353.4" x2="496.5" y2="353.4" stroke="#262626" stroke-opacity="0.3" stroke-width="1"/>
<text x="17.2" y="355.7" text-anchor="end" font-size="6.4" fill="#262626" stroke="#262626" stroke-width="0.18" >50</text>
<line x1="20" y1="360.9" x2="23.5" y2="360.9" stroke="#262626" stroke-opacity="0.3" stroke-width="1"/>
<line x1="500" y1="360.9" x2="496.5" y2="360.9" stroke="#262626" stroke-opacity="0.3" stroke-width="1"/>
<text x="17.2" y="363.2" text-anchor="end" font-size="6.4" fill="#262626" stroke="#262626" stroke-width="0.18" >40</text>
<line x1="20" y1="368.4" x2="23.5" y2="368.4" stroke="#262626" stroke-opacity="0.3" stroke-width="1"/>
<line x1="500" y1="368.4" x2="496.5" y2="368.4" stroke="#262626" stroke-opacity="0.3" stroke-width="1"/>
<text x="17.2" y="370.7" text-anchor="end" font-size="6.4" fill="#262626" stroke="#262626" stroke-width="0.18" >30</text>
<line x1="20" y1="375.9" x2="23.5" y2="375.9" stroke="#262626" stroke-opacity="0.3" stroke-width="1"/>
<line x1="500" y1="375.9" x2="496.5" y2="375.9" stroke="#262626" stroke-opacity="0.3" stroke-width="1"/>
<text x="17.2" y="378.2" text-anchor="end" font-size="6.4" fill="#262626" stroke="#262626" stroke-width="0.18" >20</text>
<line x1="20" y1="383.4" x2="23.5" y2="383.4" stroke="#262626" stroke-opacity="0.3" stroke-width="1"/>
<line x1="500" y1="383.4" x2="496.5" y2="383.4" stroke="#262626" stroke-opacity="0.3" stroke-width="1"/>
<text x="17.2" y="385.7" text-anchor="end" font-size="6.4" fill="#262626" stroke="#262626" stroke-width="0.18" >10</text>
<text x="60.36" y="398.6" text-anchor="middle" font-size="6.4" fill="#262626" stroke="#262626" stroke-width="0.18" >200</text>
<text x="101.42" y="398.6" text-anchor="middle" font-size="6.4" fill="#262626" stroke="#262626" stroke-width="0.18" >400</text>
<text x="142.48000000000002" y="398.6" text-anchor="middle" font-size="6.4" fill="#262626" stroke="#262626" stroke-width="0.18" >600</text>
<text x="183.54000000000002" y="398.6" text-anchor="middle" font-size="6.4" fill="#262626" stroke="#262626" stroke-width="0.18" >800</text>
<text x="224.60000000000002" y="398.6" text-anchor="middle" font-size="6.4" fill="#262626" stroke="#262626" stroke-width="0.18" >1000</text>
<text x="265.66" y="398.6" text-anchor="middle" font-size="6.4" fill="#262626" stroke="#262626" stroke-width="0.18" >1200</text>
<text x="306.72" y="398.6" text-anchor="middle" font-size="6.4" fill="#262626" stroke="#262626" stroke-width="0.18" >1400</text>
<text x="347.78000000000003" y="398.6" text-anchor="middle" font-size="6.4" fill="#262626" stroke="#262626" stroke-width="0.18" >1600</text>
<text x="388.84000000000003" y="398.6" text-anchor="middle" font-size="6.4" fill="#262626" stroke="#262626" stroke-width="0.18" >1800</text>
<text x="429.90000000000003" y="398.6" text-anchor="middle" font-size="6.4" fill="#262626" stroke="#262626" stroke-width="0.18" >2000</text>
<text x="470.96000000000004" y="398.6" text-anchor="middle" font-size="6.4" fill="#262626" stroke="#262626" stroke-width="0.18" >2200</text>
<defs><linearGradient id="cbE" x1="0" y1="0" x2="0" y2="1"><stop offset="0" stop-color="#0a0a90"/><stop offset="0.05" stop-color="#1818d8"/><stop offset="0.2" stop-color="#3c3cf0"/><stop offset="0.38" stop-color="#a0a0f2"/><stop offset="0.5" stop-color="#f4f4f0"/><stop offset="0.58" stop-color="#ecdcd0"/><stop offset="0.72" stop-color="#d8a890"/><stop offset="0.8" stop-color="#c07a50"/><stop offset="0.92" stop-color="#8a5a20"/><stop offset="1" stop-color="#403000"/></linearGradient><linearGradient id="cbF" x1="0" y1="0" x2="0" y2="1"><stop offset="0" stop-color="#3a2a10"/><stop offset="0.08" stop-color="#6a3a10"/><stop offset="0.18" stop-color="#b06000"/><stop offset="0.26" stop-color="#d8a000"/><stop offset="0.34" stop-color="#e0e000"/><stop offset="0.4" stop-color="#c0e020"/><stop offset="0.48" stop-color="#50b060"/><stop offset="0.56" stop-color="#40a0a0"/><stop offset="0.64" stop-color="#5090e0"/><stop offset="0.72" stop-color="#3050f8"/><stop offset="0.8" stop-color="#1010f0"/><stop offset="0.9" stop-color="#0000c0"/><stop offset="1" stop-color="#100070"/></linearGradient></defs>
<rect x="17" y="351.5" width="3" height="24.5" fill="#a8fcff"/>
<rect x="17" y="376" width="3" height="14" fill="#e8ffff"/>
<rect x="512" y="312" width="33" height="24" fill="#fdf1f7"/>
<rect x="512" y="320" width="33" height="8" fill="#fbe3ee"/>
<rect x="512" y="344" width="32" height="8" fill="#fdebf5"/>
<rect x="500" y="352" width="44" height="8" fill="#fce4f1"/>
<rect x="500" y="360" width="12" height="8" fill="#ebfcff"/>
<rect x="500" y="368" width="21" height="16" fill="#e3fbff"/>
<rect x="533" y="368" width="11" height="16" fill="#e0faff"/>
<rect x="522" y="284.7" width="12.1" height="46" fill="url(#cbE)" stroke="#262626" stroke-opacity="0.3" stroke-width="0.8"/>
<line x1="522" y1="293.6" x2="523.8" y2="293.6" stroke="#262626" stroke-opacity="0.3" stroke-width="0.8"/><line x1="534.1" y1="293.6" x2="532.3" y2="293.6" stroke="#262626" stroke-opacity="0.3" stroke-width="0.8"/>
<text x="535.8" y="295.8" font-size="6" fill="#262626" stroke="#262626" stroke-width="0.15" >0.1</text>
<line x1="522" y1="307.9" x2="523.8" y2="307.9" stroke="#262626" stroke-opacity="0.3" stroke-width="0.8"/><line x1="534.1" y1="307.9" x2="532.3" y2="307.9" stroke="#262626" stroke-opacity="0.3" stroke-width="0.8"/>
<text x="535.8" y="310.09999999999997" font-size="6" fill="#262626" stroke="#262626" stroke-width="0.15" >0</text>
<line x1="522" y1="322.1" x2="523.8" y2="322.1" stroke="#262626" stroke-opacity="0.3" stroke-width="0.8"/><line x1="534.1" y1="322.1" x2="532.3" y2="322.1" stroke="#262626" stroke-opacity="0.3" stroke-width="0.8"/>
<text x="535.8" y="324.3" font-size="6" fill="#d0407a" stroke="#d0407a" stroke-width="0.15" >-0.1</text>
<rect x="521" y="347" width="11" height="45.6" fill="url(#cbF)" stroke="#262626" stroke-opacity="0.3" stroke-width="0.8"/>
<line x1="521" y1="352.9" x2="522.8" y2="352.9" stroke="#262626" stroke-opacity="0.3" stroke-width="0.8"/><line x1="532" y1="352.9" x2="530.2" y2="352.9" stroke="#262626" stroke-opacity="0.3" stroke-width="0.8"/>
<text x="533.6" y="355.09999999999997" font-size="6" fill="#7a3050" stroke="#7a3050" stroke-width="0.15" >0.1</text>
<line x1="521" y1="360.9" x2="522.8" y2="360.9" stroke="#262626" stroke-opacity="0.3" stroke-width="0.8"/><line x1="532" y1="360.9" x2="530.2" y2="360.9" stroke="#262626" stroke-opacity="0.3" stroke-width="0.8"/>
<text x="533.6" y="363.09999999999997" font-size="6" fill="#262626" stroke="#262626" stroke-width="0.15" >0.08</text>
<line x1="521" y1="369.1" x2="522.8" y2="369.1" stroke="#262626" stroke-opacity="0.3" stroke-width="0.8"/><line x1="532" y1="369.1" x2="530.2" y2="369.1" stroke="#262626" stroke-opacity="0.3" stroke-width="0.8"/>
<text x="533.6" y="371.3" font-size="6" fill="#1e3a38" stroke="#1e3a38" stroke-width="0.15" >0.06</text>
<line x1="521" y1="377.1" x2="522.8" y2="377.1" stroke="#262626" stroke-opacity="0.3" stroke-width="0.8"/><line x1="532" y1="377.1" x2="530.2" y2="377.1" stroke="#262626" stroke-opacity="0.3" stroke-width="0.8"/>
<text x="533.6" y="379.3" font-size="6" fill="#1e3a38" stroke="#1e3a38" stroke-width="0.15" >0.04</text>
<line x1="521" y1="385.1" x2="522.8" y2="385.1" stroke="#262626" stroke-opacity="0.3" stroke-width="0.8"/><line x1="532" y1="385.1" x2="530.2" y2="385.1" stroke="#262626" stroke-opacity="0.3" stroke-width="0.8"/>
<text x="533.6" y="387.3" font-size="6" fill="#262626" stroke="#262626" stroke-width="0.15" >0.02</text>
</svg>
</body></html>
